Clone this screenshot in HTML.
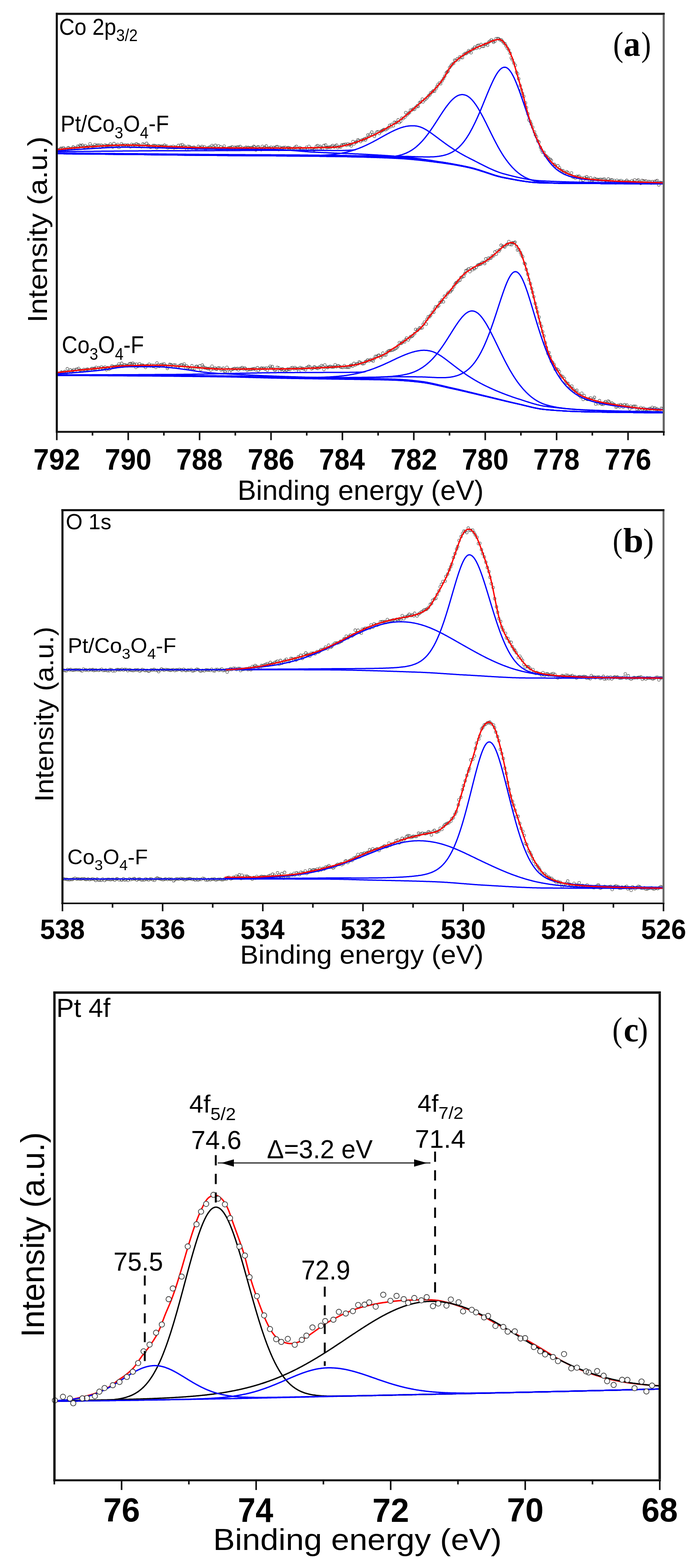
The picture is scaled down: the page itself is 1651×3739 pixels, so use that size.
<!DOCTYPE html><html><head><meta charset="utf-8"><style>html,body{margin:0;padding:0;background:#fff;overflow:hidden;}svg{display:block;}</style></head><body><svg width="1651" height="3739" viewBox="0 0 1651 3739">
<rect width="1651" height="3739" fill="#fff"/>
<path d="M133.9,356.9a3.2,3.2 0 1,0 6.4,0a3.2,3.2 0 1,0 -6.4,0M136.8,357.4a3.2,3.2 0 1,0 6.4,0a3.2,3.2 0 1,0 -6.4,0M140.7,355.5a3.2,3.2 0 1,0 6.4,0a3.2,3.2 0 1,0 -6.4,0M142.3,353.4a3.2,3.2 0 1,0 6.4,0a3.2,3.2 0 1,0 -6.4,0M145.1,354.3a3.2,3.2 0 1,0 6.4,0a3.2,3.2 0 1,0 -6.4,0M148.3,352.5a3.2,3.2 0 1,0 6.4,0a3.2,3.2 0 1,0 -6.4,0M151.2,355.1a3.2,3.2 0 1,0 6.4,0a3.2,3.2 0 1,0 -6.4,0M155.1,358.4a3.2,3.2 0 1,0 6.4,0a3.2,3.2 0 1,0 -6.4,0M158.2,353a3.2,3.2 0 1,0 6.4,0a3.2,3.2 0 1,0 -6.4,0M160.4,352.3a3.2,3.2 0 1,0 6.4,0a3.2,3.2 0 1,0 -6.4,0M163.2,355.1a3.2,3.2 0 1,0 6.4,0a3.2,3.2 0 1,0 -6.4,0M166.6,354.5a3.2,3.2 0 1,0 6.4,0a3.2,3.2 0 1,0 -6.4,0M170.4,353.5a3.2,3.2 0 1,0 6.4,0a3.2,3.2 0 1,0 -6.4,0M171.5,350.3a3.2,3.2 0 1,0 6.4,0a3.2,3.2 0 1,0 -6.4,0M176,352.6a3.2,3.2 0 1,0 6.4,0a3.2,3.2 0 1,0 -6.4,0M178.3,354.3a3.2,3.2 0 1,0 6.4,0a3.2,3.2 0 1,0 -6.4,0M182.3,348.4a3.2,3.2 0 1,0 6.4,0a3.2,3.2 0 1,0 -6.4,0M184.3,350.6a3.2,3.2 0 1,0 6.4,0a3.2,3.2 0 1,0 -6.4,0M187.7,346.3a3.2,3.2 0 1,0 6.4,0a3.2,3.2 0 1,0 -6.4,0M190.1,347.8a3.2,3.2 0 1,0 6.4,0a3.2,3.2 0 1,0 -6.4,0M193.4,346.1a3.2,3.2 0 1,0 6.4,0a3.2,3.2 0 1,0 -6.4,0M197.4,350.3a3.2,3.2 0 1,0 6.4,0a3.2,3.2 0 1,0 -6.4,0M200.2,347.2a3.2,3.2 0 1,0 6.4,0a3.2,3.2 0 1,0 -6.4,0M202.6,351.4a3.2,3.2 0 1,0 6.4,0a3.2,3.2 0 1,0 -6.4,0M205.4,350.8a3.2,3.2 0 1,0 6.4,0a3.2,3.2 0 1,0 -6.4,0M207.9,349.7a3.2,3.2 0 1,0 6.4,0a3.2,3.2 0 1,0 -6.4,0M211.6,342.9a3.2,3.2 0 1,0 6.4,0a3.2,3.2 0 1,0 -6.4,0M214.8,348.3a3.2,3.2 0 1,0 6.4,0a3.2,3.2 0 1,0 -6.4,0M217.8,349.4a3.2,3.2 0 1,0 6.4,0a3.2,3.2 0 1,0 -6.4,0M220.8,349.7a3.2,3.2 0 1,0 6.4,0a3.2,3.2 0 1,0 -6.4,0M223.3,344.9a3.2,3.2 0 1,0 6.4,0a3.2,3.2 0 1,0 -6.4,0M226.8,347.6a3.2,3.2 0 1,0 6.4,0a3.2,3.2 0 1,0 -6.4,0M229.8,346a3.2,3.2 0 1,0 6.4,0a3.2,3.2 0 1,0 -6.4,0M233.4,346.3a3.2,3.2 0 1,0 6.4,0a3.2,3.2 0 1,0 -6.4,0M236.6,351.3a3.2,3.2 0 1,0 6.4,0a3.2,3.2 0 1,0 -6.4,0M238.7,345.9a3.2,3.2 0 1,0 6.4,0a3.2,3.2 0 1,0 -6.4,0M241.5,347.9a3.2,3.2 0 1,0 6.4,0a3.2,3.2 0 1,0 -6.4,0M244.8,350.3a3.2,3.2 0 1,0 6.4,0a3.2,3.2 0 1,0 -6.4,0M247.5,346a3.2,3.2 0 1,0 6.4,0a3.2,3.2 0 1,0 -6.4,0M250.5,347.1a3.2,3.2 0 1,0 6.4,0a3.2,3.2 0 1,0 -6.4,0M253.8,347.6a3.2,3.2 0 1,0 6.4,0a3.2,3.2 0 1,0 -6.4,0M256.3,347.3a3.2,3.2 0 1,0 6.4,0a3.2,3.2 0 1,0 -6.4,0M260.1,343.5a3.2,3.2 0 1,0 6.4,0a3.2,3.2 0 1,0 -6.4,0M262.8,347a3.2,3.2 0 1,0 6.4,0a3.2,3.2 0 1,0 -6.4,0M265.9,350.5a3.2,3.2 0 1,0 6.4,0a3.2,3.2 0 1,0 -6.4,0M268.7,342.3a3.2,3.2 0 1,0 6.4,0a3.2,3.2 0 1,0 -6.4,0M271.5,348.9a3.2,3.2 0 1,0 6.4,0a3.2,3.2 0 1,0 -6.4,0M274.4,346.7a3.2,3.2 0 1,0 6.4,0a3.2,3.2 0 1,0 -6.4,0M277.7,344.5a3.2,3.2 0 1,0 6.4,0a3.2,3.2 0 1,0 -6.4,0M280.6,351.8a3.2,3.2 0 1,0 6.4,0a3.2,3.2 0 1,0 -6.4,0M283.9,348.3a3.2,3.2 0 1,0 6.4,0a3.2,3.2 0 1,0 -6.4,0M286.8,342.7a3.2,3.2 0 1,0 6.4,0a3.2,3.2 0 1,0 -6.4,0M289.2,346.3a3.2,3.2 0 1,0 6.4,0a3.2,3.2 0 1,0 -6.4,0M292.8,347.6a3.2,3.2 0 1,0 6.4,0a3.2,3.2 0 1,0 -6.4,0M295.2,345.5a3.2,3.2 0 1,0 6.4,0a3.2,3.2 0 1,0 -6.4,0M298.5,347.9a3.2,3.2 0 1,0 6.4,0a3.2,3.2 0 1,0 -6.4,0M301.7,345.8a3.2,3.2 0 1,0 6.4,0a3.2,3.2 0 1,0 -6.4,0M303.9,347.9a3.2,3.2 0 1,0 6.4,0a3.2,3.2 0 1,0 -6.4,0M307.8,350.1a3.2,3.2 0 1,0 6.4,0a3.2,3.2 0 1,0 -6.4,0M310.9,344.2a3.2,3.2 0 1,0 6.4,0a3.2,3.2 0 1,0 -6.4,0M313.7,346.8a3.2,3.2 0 1,0 6.4,0a3.2,3.2 0 1,0 -6.4,0M316.6,345a3.2,3.2 0 1,0 6.4,0a3.2,3.2 0 1,0 -6.4,0M319.6,346.7a3.2,3.2 0 1,0 6.4,0a3.2,3.2 0 1,0 -6.4,0M322.4,343.1a3.2,3.2 0 1,0 6.4,0a3.2,3.2 0 1,0 -6.4,0M325.7,344.9a3.2,3.2 0 1,0 6.4,0a3.2,3.2 0 1,0 -6.4,0M328.6,346.1a3.2,3.2 0 1,0 6.4,0a3.2,3.2 0 1,0 -6.4,0M331.8,349.2a3.2,3.2 0 1,0 6.4,0a3.2,3.2 0 1,0 -6.4,0M334.3,350.1a3.2,3.2 0 1,0 6.4,0a3.2,3.2 0 1,0 -6.4,0M337.9,343.3a3.2,3.2 0 1,0 6.4,0a3.2,3.2 0 1,0 -6.4,0M340.9,344.9a3.2,3.2 0 1,0 6.4,0a3.2,3.2 0 1,0 -6.4,0M343.7,349a3.2,3.2 0 1,0 6.4,0a3.2,3.2 0 1,0 -6.4,0M346.6,341.8a3.2,3.2 0 1,0 6.4,0a3.2,3.2 0 1,0 -6.4,0M350,346.2a3.2,3.2 0 1,0 6.4,0a3.2,3.2 0 1,0 -6.4,0M352.1,347.3a3.2,3.2 0 1,0 6.4,0a3.2,3.2 0 1,0 -6.4,0M356,351.3a3.2,3.2 0 1,0 6.4,0a3.2,3.2 0 1,0 -6.4,0M358.9,349.8a3.2,3.2 0 1,0 6.4,0a3.2,3.2 0 1,0 -6.4,0M361.9,347.1a3.2,3.2 0 1,0 6.4,0a3.2,3.2 0 1,0 -6.4,0M365,347.1a3.2,3.2 0 1,0 6.4,0a3.2,3.2 0 1,0 -6.4,0M367.5,347.6a3.2,3.2 0 1,0 6.4,0a3.2,3.2 0 1,0 -6.4,0M370.7,352.7a3.2,3.2 0 1,0 6.4,0a3.2,3.2 0 1,0 -6.4,0M374.1,347.4a3.2,3.2 0 1,0 6.4,0a3.2,3.2 0 1,0 -6.4,0M377,347.9a3.2,3.2 0 1,0 6.4,0a3.2,3.2 0 1,0 -6.4,0M379.9,349.8a3.2,3.2 0 1,0 6.4,0a3.2,3.2 0 1,0 -6.4,0M382.1,348.6a3.2,3.2 0 1,0 6.4,0a3.2,3.2 0 1,0 -6.4,0M386,348.5a3.2,3.2 0 1,0 6.4,0a3.2,3.2 0 1,0 -6.4,0M389.3,346.1a3.2,3.2 0 1,0 6.4,0a3.2,3.2 0 1,0 -6.4,0M392.3,349.3a3.2,3.2 0 1,0 6.4,0a3.2,3.2 0 1,0 -6.4,0M394.9,348.2a3.2,3.2 0 1,0 6.4,0a3.2,3.2 0 1,0 -6.4,0M397.1,352.8a3.2,3.2 0 1,0 6.4,0a3.2,3.2 0 1,0 -6.4,0M401.2,351.5a3.2,3.2 0 1,0 6.4,0a3.2,3.2 0 1,0 -6.4,0M403.7,349.7a3.2,3.2 0 1,0 6.4,0a3.2,3.2 0 1,0 -6.4,0M405.7,351.7a3.2,3.2 0 1,0 6.4,0a3.2,3.2 0 1,0 -6.4,0M410,349a3.2,3.2 0 1,0 6.4,0a3.2,3.2 0 1,0 -6.4,0M412.1,353a3.2,3.2 0 1,0 6.4,0a3.2,3.2 0 1,0 -6.4,0M415.2,350.2a3.2,3.2 0 1,0 6.4,0a3.2,3.2 0 1,0 -6.4,0M418.5,351.9a3.2,3.2 0 1,0 6.4,0a3.2,3.2 0 1,0 -6.4,0M422.4,346.8a3.2,3.2 0 1,0 6.4,0a3.2,3.2 0 1,0 -6.4,0M424.6,351.5a3.2,3.2 0 1,0 6.4,0a3.2,3.2 0 1,0 -6.4,0M427.9,345.9a3.2,3.2 0 1,0 6.4,0a3.2,3.2 0 1,0 -6.4,0M431.6,345a3.2,3.2 0 1,0 6.4,0a3.2,3.2 0 1,0 -6.4,0M434.5,350a3.2,3.2 0 1,0 6.4,0a3.2,3.2 0 1,0 -6.4,0M436.8,348.4a3.2,3.2 0 1,0 6.4,0a3.2,3.2 0 1,0 -6.4,0M439.7,351.5a3.2,3.2 0 1,0 6.4,0a3.2,3.2 0 1,0 -6.4,0M442.2,357.5a3.2,3.2 0 1,0 6.4,0a3.2,3.2 0 1,0 -6.4,0M445.5,349a3.2,3.2 0 1,0 6.4,0a3.2,3.2 0 1,0 -6.4,0M449,349.6a3.2,3.2 0 1,0 6.4,0a3.2,3.2 0 1,0 -6.4,0M452,352.1a3.2,3.2 0 1,0 6.4,0a3.2,3.2 0 1,0 -6.4,0M454.8,353a3.2,3.2 0 1,0 6.4,0a3.2,3.2 0 1,0 -6.4,0M458.2,351.2a3.2,3.2 0 1,0 6.4,0a3.2,3.2 0 1,0 -6.4,0M460.5,351.2a3.2,3.2 0 1,0 6.4,0a3.2,3.2 0 1,0 -6.4,0M463.8,353.8a3.2,3.2 0 1,0 6.4,0a3.2,3.2 0 1,0 -6.4,0M467.1,353.4a3.2,3.2 0 1,0 6.4,0a3.2,3.2 0 1,0 -6.4,0M470.1,349.1a3.2,3.2 0 1,0 6.4,0a3.2,3.2 0 1,0 -6.4,0M473.3,351.9a3.2,3.2 0 1,0 6.4,0a3.2,3.2 0 1,0 -6.4,0M476,352.3a3.2,3.2 0 1,0 6.4,0a3.2,3.2 0 1,0 -6.4,0M478.7,349.3a3.2,3.2 0 1,0 6.4,0a3.2,3.2 0 1,0 -6.4,0M482,353a3.2,3.2 0 1,0 6.4,0a3.2,3.2 0 1,0 -6.4,0M484.3,350a3.2,3.2 0 1,0 6.4,0a3.2,3.2 0 1,0 -6.4,0M487.1,355.1a3.2,3.2 0 1,0 6.4,0a3.2,3.2 0 1,0 -6.4,0M491.1,353a3.2,3.2 0 1,0 6.4,0a3.2,3.2 0 1,0 -6.4,0M493.8,352.7a3.2,3.2 0 1,0 6.4,0a3.2,3.2 0 1,0 -6.4,0M496.9,350.8a3.2,3.2 0 1,0 6.4,0a3.2,3.2 0 1,0 -6.4,0M499,352.2a3.2,3.2 0 1,0 6.4,0a3.2,3.2 0 1,0 -6.4,0M502.6,346.9a3.2,3.2 0 1,0 6.4,0a3.2,3.2 0 1,0 -6.4,0M505.5,349.4a3.2,3.2 0 1,0 6.4,0a3.2,3.2 0 1,0 -6.4,0M508.4,353.6a3.2,3.2 0 1,0 6.4,0a3.2,3.2 0 1,0 -6.4,0M510.8,346.6a3.2,3.2 0 1,0 6.4,0a3.2,3.2 0 1,0 -6.4,0M514.6,355a3.2,3.2 0 1,0 6.4,0a3.2,3.2 0 1,0 -6.4,0M518.2,347.7a3.2,3.2 0 1,0 6.4,0a3.2,3.2 0 1,0 -6.4,0M521,354.8a3.2,3.2 0 1,0 6.4,0a3.2,3.2 0 1,0 -6.4,0M523.5,350.3a3.2,3.2 0 1,0 6.4,0a3.2,3.2 0 1,0 -6.4,0M526.8,354.9a3.2,3.2 0 1,0 6.4,0a3.2,3.2 0 1,0 -6.4,0M530.1,353.1a3.2,3.2 0 1,0 6.4,0a3.2,3.2 0 1,0 -6.4,0M531.6,348.4a3.2,3.2 0 1,0 6.4,0a3.2,3.2 0 1,0 -6.4,0M535.7,356.2a3.2,3.2 0 1,0 6.4,0a3.2,3.2 0 1,0 -6.4,0M539,356.8a3.2,3.2 0 1,0 6.4,0a3.2,3.2 0 1,0 -6.4,0M542.1,352.6a3.2,3.2 0 1,0 6.4,0a3.2,3.2 0 1,0 -6.4,0M545.6,352a3.2,3.2 0 1,0 6.4,0a3.2,3.2 0 1,0 -6.4,0M548.3,352.3a3.2,3.2 0 1,0 6.4,0a3.2,3.2 0 1,0 -6.4,0M550.9,350.1a3.2,3.2 0 1,0 6.4,0a3.2,3.2 0 1,0 -6.4,0M553.9,355.9a3.2,3.2 0 1,0 6.4,0a3.2,3.2 0 1,0 -6.4,0M557.2,351.3a3.2,3.2 0 1,0 6.4,0a3.2,3.2 0 1,0 -6.4,0M559.6,352.7a3.2,3.2 0 1,0 6.4,0a3.2,3.2 0 1,0 -6.4,0M562.8,350.6a3.2,3.2 0 1,0 6.4,0a3.2,3.2 0 1,0 -6.4,0M566.2,351.1a3.2,3.2 0 1,0 6.4,0a3.2,3.2 0 1,0 -6.4,0M569.7,349.3a3.2,3.2 0 1,0 6.4,0a3.2,3.2 0 1,0 -6.4,0M571.7,356.4a3.2,3.2 0 1,0 6.4,0a3.2,3.2 0 1,0 -6.4,0M574.8,352.4a3.2,3.2 0 1,0 6.4,0a3.2,3.2 0 1,0 -6.4,0M577.9,355.6a3.2,3.2 0 1,0 6.4,0a3.2,3.2 0 1,0 -6.4,0M581.4,352.9a3.2,3.2 0 1,0 6.4,0a3.2,3.2 0 1,0 -6.4,0M583.8,351a3.2,3.2 0 1,0 6.4,0a3.2,3.2 0 1,0 -6.4,0M587.5,352a3.2,3.2 0 1,0 6.4,0a3.2,3.2 0 1,0 -6.4,0M589.4,351.4a3.2,3.2 0 1,0 6.4,0a3.2,3.2 0 1,0 -6.4,0M592.7,353a3.2,3.2 0 1,0 6.4,0a3.2,3.2 0 1,0 -6.4,0M595.7,351.9a3.2,3.2 0 1,0 6.4,0a3.2,3.2 0 1,0 -6.4,0M599.2,352.1a3.2,3.2 0 1,0 6.4,0a3.2,3.2 0 1,0 -6.4,0M602.3,349.1a3.2,3.2 0 1,0 6.4,0a3.2,3.2 0 1,0 -6.4,0M604.1,350.7a3.2,3.2 0 1,0 6.4,0a3.2,3.2 0 1,0 -6.4,0M607.4,357.6a3.2,3.2 0 1,0 6.4,0a3.2,3.2 0 1,0 -6.4,0M611,351.1a3.2,3.2 0 1,0 6.4,0a3.2,3.2 0 1,0 -6.4,0M613.5,350a3.2,3.2 0 1,0 6.4,0a3.2,3.2 0 1,0 -6.4,0M616.1,353.9a3.2,3.2 0 1,0 6.4,0a3.2,3.2 0 1,0 -6.4,0M620.3,356.9a3.2,3.2 0 1,0 6.4,0a3.2,3.2 0 1,0 -6.4,0M623,348.9a3.2,3.2 0 1,0 6.4,0a3.2,3.2 0 1,0 -6.4,0M626,352.4a3.2,3.2 0 1,0 6.4,0a3.2,3.2 0 1,0 -6.4,0M628.6,351.2a3.2,3.2 0 1,0 6.4,0a3.2,3.2 0 1,0 -6.4,0M632.3,348.1a3.2,3.2 0 1,0 6.4,0a3.2,3.2 0 1,0 -6.4,0M634.7,355.1a3.2,3.2 0 1,0 6.4,0a3.2,3.2 0 1,0 -6.4,0M638.3,352.9a3.2,3.2 0 1,0 6.4,0a3.2,3.2 0 1,0 -6.4,0M640.4,353.2a3.2,3.2 0 1,0 6.4,0a3.2,3.2 0 1,0 -6.4,0M643.4,350.9a3.2,3.2 0 1,0 6.4,0a3.2,3.2 0 1,0 -6.4,0M646.9,354.3a3.2,3.2 0 1,0 6.4,0a3.2,3.2 0 1,0 -6.4,0M649.5,351.5a3.2,3.2 0 1,0 6.4,0a3.2,3.2 0 1,0 -6.4,0M653.1,352.6a3.2,3.2 0 1,0 6.4,0a3.2,3.2 0 1,0 -6.4,0M655.9,349.9a3.2,3.2 0 1,0 6.4,0a3.2,3.2 0 1,0 -6.4,0M658.4,349.6a3.2,3.2 0 1,0 6.4,0a3.2,3.2 0 1,0 -6.4,0M661.8,356.7a3.2,3.2 0 1,0 6.4,0a3.2,3.2 0 1,0 -6.4,0M664.6,351.6a3.2,3.2 0 1,0 6.4,0a3.2,3.2 0 1,0 -6.4,0M668.2,353.8a3.2,3.2 0 1,0 6.4,0a3.2,3.2 0 1,0 -6.4,0M670.5,352.9a3.2,3.2 0 1,0 6.4,0a3.2,3.2 0 1,0 -6.4,0M673.6,351.7a3.2,3.2 0 1,0 6.4,0a3.2,3.2 0 1,0 -6.4,0M677.3,351.5a3.2,3.2 0 1,0 6.4,0a3.2,3.2 0 1,0 -6.4,0M680.8,354.7a3.2,3.2 0 1,0 6.4,0a3.2,3.2 0 1,0 -6.4,0M683.7,352.1a3.2,3.2 0 1,0 6.4,0a3.2,3.2 0 1,0 -6.4,0M685.8,352.5a3.2,3.2 0 1,0 6.4,0a3.2,3.2 0 1,0 -6.4,0M688.9,352.9a3.2,3.2 0 1,0 6.4,0a3.2,3.2 0 1,0 -6.4,0M692.5,356.2a3.2,3.2 0 1,0 6.4,0a3.2,3.2 0 1,0 -6.4,0M694.7,354.8a3.2,3.2 0 1,0 6.4,0a3.2,3.2 0 1,0 -6.4,0M697.4,353.9a3.2,3.2 0 1,0 6.4,0a3.2,3.2 0 1,0 -6.4,0M700.9,351.2a3.2,3.2 0 1,0 6.4,0a3.2,3.2 0 1,0 -6.4,0M704,348.9a3.2,3.2 0 1,0 6.4,0a3.2,3.2 0 1,0 -6.4,0M706.4,355.4a3.2,3.2 0 1,0 6.4,0a3.2,3.2 0 1,0 -6.4,0M709.1,355.4a3.2,3.2 0 1,0 6.4,0a3.2,3.2 0 1,0 -6.4,0M712.2,352.3a3.2,3.2 0 1,0 6.4,0a3.2,3.2 0 1,0 -6.4,0M716.1,354.2a3.2,3.2 0 1,0 6.4,0a3.2,3.2 0 1,0 -6.4,0M718.5,354.8a3.2,3.2 0 1,0 6.4,0a3.2,3.2 0 1,0 -6.4,0M721.7,354.9a3.2,3.2 0 1,0 6.4,0a3.2,3.2 0 1,0 -6.4,0M724.9,355.1a3.2,3.2 0 1,0 6.4,0a3.2,3.2 0 1,0 -6.4,0M728.1,351.2a3.2,3.2 0 1,0 6.4,0a3.2,3.2 0 1,0 -6.4,0M730.6,356.7a3.2,3.2 0 1,0 6.4,0a3.2,3.2 0 1,0 -6.4,0M734,348.9a3.2,3.2 0 1,0 6.4,0a3.2,3.2 0 1,0 -6.4,0M736.4,354.8a3.2,3.2 0 1,0 6.4,0a3.2,3.2 0 1,0 -6.4,0M739.6,353.7a3.2,3.2 0 1,0 6.4,0a3.2,3.2 0 1,0 -6.4,0M742.3,354.7a3.2,3.2 0 1,0 6.4,0a3.2,3.2 0 1,0 -6.4,0M746.3,357.5a3.2,3.2 0 1,0 6.4,0a3.2,3.2 0 1,0 -6.4,0M748.8,356.3a3.2,3.2 0 1,0 6.4,0a3.2,3.2 0 1,0 -6.4,0M751.5,348.9a3.2,3.2 0 1,0 6.4,0a3.2,3.2 0 1,0 -6.4,0M754.6,347.3a3.2,3.2 0 1,0 6.4,0a3.2,3.2 0 1,0 -6.4,0M757.7,354.3a3.2,3.2 0 1,0 6.4,0a3.2,3.2 0 1,0 -6.4,0M761.1,349.1a3.2,3.2 0 1,0 6.4,0a3.2,3.2 0 1,0 -6.4,0M763.1,351.8a3.2,3.2 0 1,0 6.4,0a3.2,3.2 0 1,0 -6.4,0M766.3,354.2a3.2,3.2 0 1,0 6.4,0a3.2,3.2 0 1,0 -6.4,0M769.6,347.1a3.2,3.2 0 1,0 6.4,0a3.2,3.2 0 1,0 -6.4,0M773.9,345.8a3.2,3.2 0 1,0 6.4,0a3.2,3.2 0 1,0 -6.4,0M776.2,352.3a3.2,3.2 0 1,0 6.4,0a3.2,3.2 0 1,0 -6.4,0M778.7,351.6a3.2,3.2 0 1,0 6.4,0a3.2,3.2 0 1,0 -6.4,0M782.1,350.8a3.2,3.2 0 1,0 6.4,0a3.2,3.2 0 1,0 -6.4,0M785.7,351.5a3.2,3.2 0 1,0 6.4,0a3.2,3.2 0 1,0 -6.4,0M787.7,348.9a3.2,3.2 0 1,0 6.4,0a3.2,3.2 0 1,0 -6.4,0M790.6,346.9a3.2,3.2 0 1,0 6.4,0a3.2,3.2 0 1,0 -6.4,0M794.3,350.6a3.2,3.2 0 1,0 6.4,0a3.2,3.2 0 1,0 -6.4,0M797,348.2a3.2,3.2 0 1,0 6.4,0a3.2,3.2 0 1,0 -6.4,0M800.1,346.1a3.2,3.2 0 1,0 6.4,0a3.2,3.2 0 1,0 -6.4,0M802.6,351.8a3.2,3.2 0 1,0 6.4,0a3.2,3.2 0 1,0 -6.4,0M806.7,349.7a3.2,3.2 0 1,0 6.4,0a3.2,3.2 0 1,0 -6.4,0M809.6,350.4a3.2,3.2 0 1,0 6.4,0a3.2,3.2 0 1,0 -6.4,0M812.1,345.8a3.2,3.2 0 1,0 6.4,0a3.2,3.2 0 1,0 -6.4,0M815.1,346.1a3.2,3.2 0 1,0 6.4,0a3.2,3.2 0 1,0 -6.4,0M816.9,344.5a3.2,3.2 0 1,0 6.4,0a3.2,3.2 0 1,0 -6.4,0M821.1,344.1a3.2,3.2 0 1,0 6.4,0a3.2,3.2 0 1,0 -6.4,0M823.7,346.4a3.2,3.2 0 1,0 6.4,0a3.2,3.2 0 1,0 -6.4,0M827,342.9a3.2,3.2 0 1,0 6.4,0a3.2,3.2 0 1,0 -6.4,0M830.1,345.2a3.2,3.2 0 1,0 6.4,0a3.2,3.2 0 1,0 -6.4,0M832.6,344.3a3.2,3.2 0 1,0 6.4,0a3.2,3.2 0 1,0 -6.4,0M835,348.1a3.2,3.2 0 1,0 6.4,0a3.2,3.2 0 1,0 -6.4,0M839,337.6a3.2,3.2 0 1,0 6.4,0a3.2,3.2 0 1,0 -6.4,0M841.5,343a3.2,3.2 0 1,0 6.4,0a3.2,3.2 0 1,0 -6.4,0M844.7,339.3a3.2,3.2 0 1,0 6.4,0a3.2,3.2 0 1,0 -6.4,0M847.5,338.5a3.2,3.2 0 1,0 6.4,0a3.2,3.2 0 1,0 -6.4,0M850.6,333.4a3.2,3.2 0 1,0 6.4,0a3.2,3.2 0 1,0 -6.4,0M852.8,335.1a3.2,3.2 0 1,0 6.4,0a3.2,3.2 0 1,0 -6.4,0M857.3,337.4a3.2,3.2 0 1,0 6.4,0a3.2,3.2 0 1,0 -6.4,0M859.9,333.9a3.2,3.2 0 1,0 6.4,0a3.2,3.2 0 1,0 -6.4,0M863.3,333.3a3.2,3.2 0 1,0 6.4,0a3.2,3.2 0 1,0 -6.4,0M866.7,331.1a3.2,3.2 0 1,0 6.4,0a3.2,3.2 0 1,0 -6.4,0M868.8,333.9a3.2,3.2 0 1,0 6.4,0a3.2,3.2 0 1,0 -6.4,0M871,329.4a3.2,3.2 0 1,0 6.4,0a3.2,3.2 0 1,0 -6.4,0M874.4,322.1a3.2,3.2 0 1,0 6.4,0a3.2,3.2 0 1,0 -6.4,0M877.3,325a3.2,3.2 0 1,0 6.4,0a3.2,3.2 0 1,0 -6.4,0M880.6,320.1a3.2,3.2 0 1,0 6.4,0a3.2,3.2 0 1,0 -6.4,0M883.8,315.1a3.2,3.2 0 1,0 6.4,0a3.2,3.2 0 1,0 -6.4,0M885.9,321.3a3.2,3.2 0 1,0 6.4,0a3.2,3.2 0 1,0 -6.4,0M890,325.1a3.2,3.2 0 1,0 6.4,0a3.2,3.2 0 1,0 -6.4,0M892.1,320a3.2,3.2 0 1,0 6.4,0a3.2,3.2 0 1,0 -6.4,0M895.9,315a3.2,3.2 0 1,0 6.4,0a3.2,3.2 0 1,0 -6.4,0M898.8,314.1a3.2,3.2 0 1,0 6.4,0a3.2,3.2 0 1,0 -6.4,0M901.7,318.3a3.2,3.2 0 1,0 6.4,0a3.2,3.2 0 1,0 -6.4,0M904.8,314a3.2,3.2 0 1,0 6.4,0a3.2,3.2 0 1,0 -6.4,0M907.6,312.1a3.2,3.2 0 1,0 6.4,0a3.2,3.2 0 1,0 -6.4,0M910.5,310.2a3.2,3.2 0 1,0 6.4,0a3.2,3.2 0 1,0 -6.4,0M913,308.8a3.2,3.2 0 1,0 6.4,0a3.2,3.2 0 1,0 -6.4,0M916.8,309.3a3.2,3.2 0 1,0 6.4,0a3.2,3.2 0 1,0 -6.4,0M920.6,306.9a3.2,3.2 0 1,0 6.4,0a3.2,3.2 0 1,0 -6.4,0M923.7,304.3a3.2,3.2 0 1,0 6.4,0a3.2,3.2 0 1,0 -6.4,0M926.4,299.1a3.2,3.2 0 1,0 6.4,0a3.2,3.2 0 1,0 -6.4,0M929.1,301.8a3.2,3.2 0 1,0 6.4,0a3.2,3.2 0 1,0 -6.4,0M931.5,296.8a3.2,3.2 0 1,0 6.4,0a3.2,3.2 0 1,0 -6.4,0M935.4,300a3.2,3.2 0 1,0 6.4,0a3.2,3.2 0 1,0 -6.4,0M937.8,291.6a3.2,3.2 0 1,0 6.4,0a3.2,3.2 0 1,0 -6.4,0M940.8,293a3.2,3.2 0 1,0 6.4,0a3.2,3.2 0 1,0 -6.4,0M943.7,291.5a3.2,3.2 0 1,0 6.4,0a3.2,3.2 0 1,0 -6.4,0M946.8,285.8a3.2,3.2 0 1,0 6.4,0a3.2,3.2 0 1,0 -6.4,0M949.6,292.3a3.2,3.2 0 1,0 6.4,0a3.2,3.2 0 1,0 -6.4,0M952.8,289.4a3.2,3.2 0 1,0 6.4,0a3.2,3.2 0 1,0 -6.4,0M955.3,281.7a3.2,3.2 0 1,0 6.4,0a3.2,3.2 0 1,0 -6.4,0M958.6,282.8a3.2,3.2 0 1,0 6.4,0a3.2,3.2 0 1,0 -6.4,0M962.8,279.3a3.2,3.2 0 1,0 6.4,0a3.2,3.2 0 1,0 -6.4,0M964.8,268.4a3.2,3.2 0 1,0 6.4,0a3.2,3.2 0 1,0 -6.4,0M967.7,273.9a3.2,3.2 0 1,0 6.4,0a3.2,3.2 0 1,0 -6.4,0M971,270.5a3.2,3.2 0 1,0 6.4,0a3.2,3.2 0 1,0 -6.4,0M974.1,268.3a3.2,3.2 0 1,0 6.4,0a3.2,3.2 0 1,0 -6.4,0M976.3,262.5a3.2,3.2 0 1,0 6.4,0a3.2,3.2 0 1,0 -6.4,0M979.7,262.2a3.2,3.2 0 1,0 6.4,0a3.2,3.2 0 1,0 -6.4,0M983.2,259.8a3.2,3.2 0 1,0 6.4,0a3.2,3.2 0 1,0 -6.4,0M985.9,260.9a3.2,3.2 0 1,0 6.4,0a3.2,3.2 0 1,0 -6.4,0M988.9,255.8a3.2,3.2 0 1,0 6.4,0a3.2,3.2 0 1,0 -6.4,0M992.5,252.1a3.2,3.2 0 1,0 6.4,0a3.2,3.2 0 1,0 -6.4,0M994.5,253.7a3.2,3.2 0 1,0 6.4,0a3.2,3.2 0 1,0 -6.4,0M997.8,245.1a3.2,3.2 0 1,0 6.4,0a3.2,3.2 0 1,0 -6.4,0M1000.6,242.9a3.2,3.2 0 1,0 6.4,0a3.2,3.2 0 1,0 -6.4,0M1004.5,236.2a3.2,3.2 0 1,0 6.4,0a3.2,3.2 0 1,0 -6.4,0M1005.9,243a3.2,3.2 0 1,0 6.4,0a3.2,3.2 0 1,0 -6.4,0M1009.5,238.8a3.2,3.2 0 1,0 6.4,0a3.2,3.2 0 1,0 -6.4,0M1012.6,236a3.2,3.2 0 1,0 6.4,0a3.2,3.2 0 1,0 -6.4,0M1016.1,232.7a3.2,3.2 0 1,0 6.4,0a3.2,3.2 0 1,0 -6.4,0M1019.1,228.5a3.2,3.2 0 1,0 6.4,0a3.2,3.2 0 1,0 -6.4,0M1022.4,226a3.2,3.2 0 1,0 6.4,0a3.2,3.2 0 1,0 -6.4,0M1024.1,221.8a3.2,3.2 0 1,0 6.4,0a3.2,3.2 0 1,0 -6.4,0M1028.1,219a3.2,3.2 0 1,0 6.4,0a3.2,3.2 0 1,0 -6.4,0M1030.7,216.6a3.2,3.2 0 1,0 6.4,0a3.2,3.2 0 1,0 -6.4,0M1033.5,217.4a3.2,3.2 0 1,0 6.4,0a3.2,3.2 0 1,0 -6.4,0M1037,211.4a3.2,3.2 0 1,0 6.4,0a3.2,3.2 0 1,0 -6.4,0M1039.4,206.3a3.2,3.2 0 1,0 6.4,0a3.2,3.2 0 1,0 -6.4,0M1041.9,201.2a3.2,3.2 0 1,0 6.4,0a3.2,3.2 0 1,0 -6.4,0M1045.6,197.4a3.2,3.2 0 1,0 6.4,0a3.2,3.2 0 1,0 -6.4,0M1048.1,199.8a3.2,3.2 0 1,0 6.4,0a3.2,3.2 0 1,0 -6.4,0M1051.5,192.7a3.2,3.2 0 1,0 6.4,0a3.2,3.2 0 1,0 -6.4,0M1055,187.2a3.2,3.2 0 1,0 6.4,0a3.2,3.2 0 1,0 -6.4,0M1057.9,181.4a3.2,3.2 0 1,0 6.4,0a3.2,3.2 0 1,0 -6.4,0M1061.5,174.1a3.2,3.2 0 1,0 6.4,0a3.2,3.2 0 1,0 -6.4,0M1063.7,171.8a3.2,3.2 0 1,0 6.4,0a3.2,3.2 0 1,0 -6.4,0M1066.1,169.2a3.2,3.2 0 1,0 6.4,0a3.2,3.2 0 1,0 -6.4,0M1069.5,160.9a3.2,3.2 0 1,0 6.4,0a3.2,3.2 0 1,0 -6.4,0M1072.4,157.2a3.2,3.2 0 1,0 6.4,0a3.2,3.2 0 1,0 -6.4,0M1075.3,153.6a3.2,3.2 0 1,0 6.4,0a3.2,3.2 0 1,0 -6.4,0M1079,151.3a3.2,3.2 0 1,0 6.4,0a3.2,3.2 0 1,0 -6.4,0M1081.5,143.5a3.2,3.2 0 1,0 6.4,0a3.2,3.2 0 1,0 -6.4,0M1083.9,144.5a3.2,3.2 0 1,0 6.4,0a3.2,3.2 0 1,0 -6.4,0M1088.1,140.1a3.2,3.2 0 1,0 6.4,0a3.2,3.2 0 1,0 -6.4,0M1090.7,142.5a3.2,3.2 0 1,0 6.4,0a3.2,3.2 0 1,0 -6.4,0M1094,135.5a3.2,3.2 0 1,0 6.4,0a3.2,3.2 0 1,0 -6.4,0M1096.8,137a3.2,3.2 0 1,0 6.4,0a3.2,3.2 0 1,0 -6.4,0M1100.1,137.5a3.2,3.2 0 1,0 6.4,0a3.2,3.2 0 1,0 -6.4,0M1102.8,130.2a3.2,3.2 0 1,0 6.4,0a3.2,3.2 0 1,0 -6.4,0M1106.4,127.4a3.2,3.2 0 1,0 6.4,0a3.2,3.2 0 1,0 -6.4,0M1109,127.7a3.2,3.2 0 1,0 6.4,0a3.2,3.2 0 1,0 -6.4,0M1112,125.3a3.2,3.2 0 1,0 6.4,0a3.2,3.2 0 1,0 -6.4,0M1115,120.7a3.2,3.2 0 1,0 6.4,0a3.2,3.2 0 1,0 -6.4,0M1117.1,123.1a3.2,3.2 0 1,0 6.4,0a3.2,3.2 0 1,0 -6.4,0M1120.7,125.8a3.2,3.2 0 1,0 6.4,0a3.2,3.2 0 1,0 -6.4,0M1123.7,117.8a3.2,3.2 0 1,0 6.4,0a3.2,3.2 0 1,0 -6.4,0M1126.9,116.4a3.2,3.2 0 1,0 6.4,0a3.2,3.2 0 1,0 -6.4,0M1129.2,112.6a3.2,3.2 0 1,0 6.4,0a3.2,3.2 0 1,0 -6.4,0M1133.5,114.9a3.2,3.2 0 1,0 6.4,0a3.2,3.2 0 1,0 -6.4,0M1135.8,109.1a3.2,3.2 0 1,0 6.4,0a3.2,3.2 0 1,0 -6.4,0M1138.3,108.1a3.2,3.2 0 1,0 6.4,0a3.2,3.2 0 1,0 -6.4,0M1141,113.5a3.2,3.2 0 1,0 6.4,0a3.2,3.2 0 1,0 -6.4,0M1144.7,106.1a3.2,3.2 0 1,0 6.4,0a3.2,3.2 0 1,0 -6.4,0M1147.8,110.4a3.2,3.2 0 1,0 6.4,0a3.2,3.2 0 1,0 -6.4,0M1150.5,110.5a3.2,3.2 0 1,0 6.4,0a3.2,3.2 0 1,0 -6.4,0M1153.8,105.7a3.2,3.2 0 1,0 6.4,0a3.2,3.2 0 1,0 -6.4,0M1156.5,105.3a3.2,3.2 0 1,0 6.4,0a3.2,3.2 0 1,0 -6.4,0M1160,108a3.2,3.2 0 1,0 6.4,0a3.2,3.2 0 1,0 -6.4,0M1162.5,100.7a3.2,3.2 0 1,0 6.4,0a3.2,3.2 0 1,0 -6.4,0M1165.8,98.3a3.2,3.2 0 1,0 6.4,0a3.2,3.2 0 1,0 -6.4,0M1169.2,94.9a3.2,3.2 0 1,0 6.4,0a3.2,3.2 0 1,0 -6.4,0M1173,97.7a3.2,3.2 0 1,0 6.4,0a3.2,3.2 0 1,0 -6.4,0M1174.3,100.7a3.2,3.2 0 1,0 6.4,0a3.2,3.2 0 1,0 -6.4,0M1177.6,98.3a3.2,3.2 0 1,0 6.4,0a3.2,3.2 0 1,0 -6.4,0M1180.4,92.2a3.2,3.2 0 1,0 6.4,0a3.2,3.2 0 1,0 -6.4,0M1184.2,91.9a3.2,3.2 0 1,0 6.4,0a3.2,3.2 0 1,0 -6.4,0M1186.3,92.6a3.2,3.2 0 1,0 6.4,0a3.2,3.2 0 1,0 -6.4,0M1189.6,95.1a3.2,3.2 0 1,0 6.4,0a3.2,3.2 0 1,0 -6.4,0M1192.8,95a3.2,3.2 0 1,0 6.4,0a3.2,3.2 0 1,0 -6.4,0M1195.4,98.5a3.2,3.2 0 1,0 6.4,0a3.2,3.2 0 1,0 -6.4,0M1198.4,102.1a3.2,3.2 0 1,0 6.4,0a3.2,3.2 0 1,0 -6.4,0M1201.6,104.3a3.2,3.2 0 1,0 6.4,0a3.2,3.2 0 1,0 -6.4,0M1203.9,109.3a3.2,3.2 0 1,0 6.4,0a3.2,3.2 0 1,0 -6.4,0M1207.1,114.7a3.2,3.2 0 1,0 6.4,0a3.2,3.2 0 1,0 -6.4,0M1210.6,119.3a3.2,3.2 0 1,0 6.4,0a3.2,3.2 0 1,0 -6.4,0M1213.9,127.1a3.2,3.2 0 1,0 6.4,0a3.2,3.2 0 1,0 -6.4,0M1216.7,138a3.2,3.2 0 1,0 6.4,0a3.2,3.2 0 1,0 -6.4,0M1219,142.5a3.2,3.2 0 1,0 6.4,0a3.2,3.2 0 1,0 -6.4,0M1222.6,150.3a3.2,3.2 0 1,0 6.4,0a3.2,3.2 0 1,0 -6.4,0M1226.2,155.7a3.2,3.2 0 1,0 6.4,0a3.2,3.2 0 1,0 -6.4,0M1229.1,172.2a3.2,3.2 0 1,0 6.4,0a3.2,3.2 0 1,0 -6.4,0M1231.8,176.2a3.2,3.2 0 1,0 6.4,0a3.2,3.2 0 1,0 -6.4,0M1234.4,187.9a3.2,3.2 0 1,0 6.4,0a3.2,3.2 0 1,0 -6.4,0M1238.1,204.4a3.2,3.2 0 1,0 6.4,0a3.2,3.2 0 1,0 -6.4,0M1240.5,214.3a3.2,3.2 0 1,0 6.4,0a3.2,3.2 0 1,0 -6.4,0M1243.3,222.7a3.2,3.2 0 1,0 6.4,0a3.2,3.2 0 1,0 -6.4,0M1246.4,229.7a3.2,3.2 0 1,0 6.4,0a3.2,3.2 0 1,0 -6.4,0M1250.5,245.4a3.2,3.2 0 1,0 6.4,0a3.2,3.2 0 1,0 -6.4,0M1252.9,256.4a3.2,3.2 0 1,0 6.4,0a3.2,3.2 0 1,0 -6.4,0M1256.3,271.2a3.2,3.2 0 1,0 6.4,0a3.2,3.2 0 1,0 -6.4,0M1258.6,286.1a3.2,3.2 0 1,0 6.4,0a3.2,3.2 0 1,0 -6.4,0M1262.2,289.9a3.2,3.2 0 1,0 6.4,0a3.2,3.2 0 1,0 -6.4,0M1264.5,296.1a3.2,3.2 0 1,0 6.4,0a3.2,3.2 0 1,0 -6.4,0M1267.7,303.4a3.2,3.2 0 1,0 6.4,0a3.2,3.2 0 1,0 -6.4,0M1271.9,314.4a3.2,3.2 0 1,0 6.4,0a3.2,3.2 0 1,0 -6.4,0M1274.1,321.6a3.2,3.2 0 1,0 6.4,0a3.2,3.2 0 1,0 -6.4,0M1276.6,326a3.2,3.2 0 1,0 6.4,0a3.2,3.2 0 1,0 -6.4,0M1279.8,336.3a3.2,3.2 0 1,0 6.4,0a3.2,3.2 0 1,0 -6.4,0M1282.9,339.1a3.2,3.2 0 1,0 6.4,0a3.2,3.2 0 1,0 -6.4,0M1286.3,351.6a3.2,3.2 0 1,0 6.4,0a3.2,3.2 0 1,0 -6.4,0M1288.6,357.3a3.2,3.2 0 1,0 6.4,0a3.2,3.2 0 1,0 -6.4,0M1291,362.8a3.2,3.2 0 1,0 6.4,0a3.2,3.2 0 1,0 -6.4,0M1294.7,363.3a3.2,3.2 0 1,0 6.4,0a3.2,3.2 0 1,0 -6.4,0M1297.8,370.5a3.2,3.2 0 1,0 6.4,0a3.2,3.2 0 1,0 -6.4,0M1300.8,372.8a3.2,3.2 0 1,0 6.4,0a3.2,3.2 0 1,0 -6.4,0M1304.4,375.8a3.2,3.2 0 1,0 6.4,0a3.2,3.2 0 1,0 -6.4,0M1306.9,379.4a3.2,3.2 0 1,0 6.4,0a3.2,3.2 0 1,0 -6.4,0M1310.2,380a3.2,3.2 0 1,0 6.4,0a3.2,3.2 0 1,0 -6.4,0M1312.3,382.7a3.2,3.2 0 1,0 6.4,0a3.2,3.2 0 1,0 -6.4,0M1316.2,392a3.2,3.2 0 1,0 6.4,0a3.2,3.2 0 1,0 -6.4,0M1319.7,392.1a3.2,3.2 0 1,0 6.4,0a3.2,3.2 0 1,0 -6.4,0M1322.1,395.9a3.2,3.2 0 1,0 6.4,0a3.2,3.2 0 1,0 -6.4,0M1324.9,400.6a3.2,3.2 0 1,0 6.4,0a3.2,3.2 0 1,0 -6.4,0M1327.9,395.3a3.2,3.2 0 1,0 6.4,0a3.2,3.2 0 1,0 -6.4,0M1331.6,400.2a3.2,3.2 0 1,0 6.4,0a3.2,3.2 0 1,0 -6.4,0M1333.4,404.9a3.2,3.2 0 1,0 6.4,0a3.2,3.2 0 1,0 -6.4,0M1336.8,407.4a3.2,3.2 0 1,0 6.4,0a3.2,3.2 0 1,0 -6.4,0M1340,407.1a3.2,3.2 0 1,0 6.4,0a3.2,3.2 0 1,0 -6.4,0M1343.1,412.7a3.2,3.2 0 1,0 6.4,0a3.2,3.2 0 1,0 -6.4,0M1345.6,412a3.2,3.2 0 1,0 6.4,0a3.2,3.2 0 1,0 -6.4,0M1348.9,409.5a3.2,3.2 0 1,0 6.4,0a3.2,3.2 0 1,0 -6.4,0M1351.7,411.7a3.2,3.2 0 1,0 6.4,0a3.2,3.2 0 1,0 -6.4,0M1354.9,417.8a3.2,3.2 0 1,0 6.4,0a3.2,3.2 0 1,0 -6.4,0M1357.7,418a3.2,3.2 0 1,0 6.4,0a3.2,3.2 0 1,0 -6.4,0M1360.3,412.5a3.2,3.2 0 1,0 6.4,0a3.2,3.2 0 1,0 -6.4,0M1363.8,422.6a3.2,3.2 0 1,0 6.4,0a3.2,3.2 0 1,0 -6.4,0M1367.2,421.5a3.2,3.2 0 1,0 6.4,0a3.2,3.2 0 1,0 -6.4,0M1369.4,424.5a3.2,3.2 0 1,0 6.4,0a3.2,3.2 0 1,0 -6.4,0M1372.7,420.5a3.2,3.2 0 1,0 6.4,0a3.2,3.2 0 1,0 -6.4,0M1376.1,421.6a3.2,3.2 0 1,0 6.4,0a3.2,3.2 0 1,0 -6.4,0M1378.3,420a3.2,3.2 0 1,0 6.4,0a3.2,3.2 0 1,0 -6.4,0M1381.9,430.9a3.2,3.2 0 1,0 6.4,0a3.2,3.2 0 1,0 -6.4,0M1384.3,423.9a3.2,3.2 0 1,0 6.4,0a3.2,3.2 0 1,0 -6.4,0M1388.3,429.4a3.2,3.2 0 1,0 6.4,0a3.2,3.2 0 1,0 -6.4,0M1391.8,423.6a3.2,3.2 0 1,0 6.4,0a3.2,3.2 0 1,0 -6.4,0M1394.7,426.3a3.2,3.2 0 1,0 6.4,0a3.2,3.2 0 1,0 -6.4,0M1396.7,421.6a3.2,3.2 0 1,0 6.4,0a3.2,3.2 0 1,0 -6.4,0M1400.1,425.6a3.2,3.2 0 1,0 6.4,0a3.2,3.2 0 1,0 -6.4,0M1402.9,429.8a3.2,3.2 0 1,0 6.4,0a3.2,3.2 0 1,0 -6.4,0M1405.8,423.9a3.2,3.2 0 1,0 6.4,0a3.2,3.2 0 1,0 -6.4,0M1409.5,430.8a3.2,3.2 0 1,0 6.4,0a3.2,3.2 0 1,0 -6.4,0M1411.2,429a3.2,3.2 0 1,0 6.4,0a3.2,3.2 0 1,0 -6.4,0M1415.3,425.5a3.2,3.2 0 1,0 6.4,0a3.2,3.2 0 1,0 -6.4,0M1417.8,427.3a3.2,3.2 0 1,0 6.4,0a3.2,3.2 0 1,0 -6.4,0M1421.4,427.7a3.2,3.2 0 1,0 6.4,0a3.2,3.2 0 1,0 -6.4,0M1423.9,429.1a3.2,3.2 0 1,0 6.4,0a3.2,3.2 0 1,0 -6.4,0M1426.5,428a3.2,3.2 0 1,0 6.4,0a3.2,3.2 0 1,0 -6.4,0M1429.9,427.5a3.2,3.2 0 1,0 6.4,0a3.2,3.2 0 1,0 -6.4,0M1433.1,429.2a3.2,3.2 0 1,0 6.4,0a3.2,3.2 0 1,0 -6.4,0M1435.8,427.4a3.2,3.2 0 1,0 6.4,0a3.2,3.2 0 1,0 -6.4,0M1439,426.9a3.2,3.2 0 1,0 6.4,0a3.2,3.2 0 1,0 -6.4,0M1441.6,430.5a3.2,3.2 0 1,0 6.4,0a3.2,3.2 0 1,0 -6.4,0M1443.8,433.3a3.2,3.2 0 1,0 6.4,0a3.2,3.2 0 1,0 -6.4,0M1448.2,426.8a3.2,3.2 0 1,0 6.4,0a3.2,3.2 0 1,0 -6.4,0M1451.1,431.2a3.2,3.2 0 1,0 6.4,0a3.2,3.2 0 1,0 -6.4,0M1453.9,429.6a3.2,3.2 0 1,0 6.4,0a3.2,3.2 0 1,0 -6.4,0M1456.8,428.8a3.2,3.2 0 1,0 6.4,0a3.2,3.2 0 1,0 -6.4,0M1460.3,434.1a3.2,3.2 0 1,0 6.4,0a3.2,3.2 0 1,0 -6.4,0M1462.6,430.4a3.2,3.2 0 1,0 6.4,0a3.2,3.2 0 1,0 -6.4,0M1465.5,436.2a3.2,3.2 0 1,0 6.4,0a3.2,3.2 0 1,0 -6.4,0M1468.7,430a3.2,3.2 0 1,0 6.4,0a3.2,3.2 0 1,0 -6.4,0M1472.3,433.4a3.2,3.2 0 1,0 6.4,0a3.2,3.2 0 1,0 -6.4,0M1474.2,431.8a3.2,3.2 0 1,0 6.4,0a3.2,3.2 0 1,0 -6.4,0M1478.3,430.4a3.2,3.2 0 1,0 6.4,0a3.2,3.2 0 1,0 -6.4,0M1480.5,434.3a3.2,3.2 0 1,0 6.4,0a3.2,3.2 0 1,0 -6.4,0M1483.3,432.4a3.2,3.2 0 1,0 6.4,0a3.2,3.2 0 1,0 -6.4,0M1487.4,434.6a3.2,3.2 0 1,0 6.4,0a3.2,3.2 0 1,0 -6.4,0M1489.8,432.9a3.2,3.2 0 1,0 6.4,0a3.2,3.2 0 1,0 -6.4,0M1492.2,430.1a3.2,3.2 0 1,0 6.4,0a3.2,3.2 0 1,0 -6.4,0M1495.6,433a3.2,3.2 0 1,0 6.4,0a3.2,3.2 0 1,0 -6.4,0M1499.2,433.5a3.2,3.2 0 1,0 6.4,0a3.2,3.2 0 1,0 -6.4,0M1502.3,436.1a3.2,3.2 0 1,0 6.4,0a3.2,3.2 0 1,0 -6.4,0M1504.6,431a3.2,3.2 0 1,0 6.4,0a3.2,3.2 0 1,0 -6.4,0M1508,433.6a3.2,3.2 0 1,0 6.4,0a3.2,3.2 0 1,0 -6.4,0M1511.1,429a3.2,3.2 0 1,0 6.4,0a3.2,3.2 0 1,0 -6.4,0M1513.5,435.7a3.2,3.2 0 1,0 6.4,0a3.2,3.2 0 1,0 -6.4,0M1517,431a3.2,3.2 0 1,0 6.4,0a3.2,3.2 0 1,0 -6.4,0M1519.8,429.1a3.2,3.2 0 1,0 6.4,0a3.2,3.2 0 1,0 -6.4,0M1522.6,434a3.2,3.2 0 1,0 6.4,0a3.2,3.2 0 1,0 -6.4,0M1525.6,437.4a3.2,3.2 0 1,0 6.4,0a3.2,3.2 0 1,0 -6.4,0M1528.8,430.2a3.2,3.2 0 1,0 6.4,0a3.2,3.2 0 1,0 -6.4,0M1531.8,431.5a3.2,3.2 0 1,0 6.4,0a3.2,3.2 0 1,0 -6.4,0M1534.5,432.6a3.2,3.2 0 1,0 6.4,0a3.2,3.2 0 1,0 -6.4,0M1537.6,431.6a3.2,3.2 0 1,0 6.4,0a3.2,3.2 0 1,0 -6.4,0M1541.3,435.9a3.2,3.2 0 1,0 6.4,0a3.2,3.2 0 1,0 -6.4,0M1543.9,432.7a3.2,3.2 0 1,0 6.4,0a3.2,3.2 0 1,0 -6.4,0M1547.2,433a3.2,3.2 0 1,0 6.4,0a3.2,3.2 0 1,0 -6.4,0M1550.3,436.8a3.2,3.2 0 1,0 6.4,0a3.2,3.2 0 1,0 -6.4,0M1553.1,433.1a3.2,3.2 0 1,0 6.4,0a3.2,3.2 0 1,0 -6.4,0M1556.8,436.5a3.2,3.2 0 1,0 6.4,0a3.2,3.2 0 1,0 -6.4,0M1558.4,432.7a3.2,3.2 0 1,0 6.4,0a3.2,3.2 0 1,0 -6.4,0M1562.2,432.1a3.2,3.2 0 1,0 6.4,0a3.2,3.2 0 1,0 -6.4,0M1564.7,430.4a3.2,3.2 0 1,0 6.4,0a3.2,3.2 0 1,0 -6.4,0M1568.6,440.9a3.2,3.2 0 1,0 6.4,0a3.2,3.2 0 1,0 -6.4,0M1571.6,434.9a3.2,3.2 0 1,0 6.4,0a3.2,3.2 0 1,0 -6.4,0M1572.9,436.5a3.2,3.2 0 1,0 6.4,0a3.2,3.2 0 1,0 -6.4,0M1576.4,435.8a3.2,3.2 0 1,0 6.4,0a3.2,3.2 0 1,0 -6.4,0" fill="none" stroke="#4a4a4a" stroke-width="1.1" opacity="1"/>
<path d="M136,366.5l1.5,0 1.5,0 1.5,0 1.5,.1 1.5,0 1.5,0 1.5,0 1.5,0 1.5,0 1.5,0 1.5,.1 1.5,0 1.5,0 1.5,0 1.5,0 1.5,0 1.5,0 1.5,.1 1.5,0 1.5,0 1.5,0 1.5,0 1.5,0 1.5,0 1.5,.1 1.5,0 1.5,0 1.5,0 1.5,0 1.5,0 1.5,.1 1.5,0 1.5,0 1.5,0 1.5,0 1.5,0 1.5,0 1.5,.1 1.5,0 1.5,0 1.5,0 1.5,0 1.5,0 1.5,0 1.5,.1 1.5,0 1.5,0 1.5,0 1.5,0 1.5,0 1.5,.1 1.5,0 1.5,0 1.5,0 1.5,0 1.5,0 1.5,0 1.5,.1 1.5,0 1.5,0 1.5,0 1.5,0 1.5,0 1.5,.1 1.5,0 1.5,0 1.5,0 1.5,0 1.5,0 1.5,0 1.5,.1 1.5,0 1.5,0 1.5,0 1.5,0 1.5,0 1.5,.1 1.5,0 1.5,0 1.5,0 1.5,0 1.5,0 1.5,.1 1.5,0 1.5,0 1.5,0 1.5,0 1.5,0 1.5,0 1.5,.1 1.5,0 1.5,0 1.5,0 1.5,0 1.5,0 1.5,.1 1.5,0 1.5,0 1.5,0 1.5,0 1.5,0 1.5,.1 1.5,0 1.5,0 1.5,0 1.5,0 1.5,0 1.5,.1 1.5,0 1.5,0 1.5,0 1.5,0 1.5,0 1.5,0 1.5,.1 1.5,0 1.5,0 1.5,0 1.5,0 1.5,0 1.5,.1 1.5,0 1.5,0 1.5,0 1.5,0 1.5,0 1.5,.1 1.5,0 1.5,0 1.5,0 1.5,0 1.5,0 1.5,.1 1.5,0 1.5,0 1.5,0 1.5,0 1.5,0 1.5,.1 1.5,0 1.5,0 1.5,0 1.5,0 1.5,.1 1.5,0 1.5,0 1.5,0 1.5,0 1.5,0 1.5,.1 1.5,0 1.5,0 1.5,0 1.5,0 1.5,.1 1.5,0 1.5,0 1.5,0 1.5,0 1.5,0 1.5,.1 1.5,0 1.5,0 1.5,0 1.5,0 1.5,.1 1.5,0 1.5,0 1.5,0 1.5,0 1.5,.1 1.5,0 1.5,0 1.5,0 1.5,0 1.5,0 1.5,.1 1.5,0 1.5,0 1.5,0 1.5,0 1.5,.1 1.5,0 1.5,0 1.5,0 1.5,0 1.5,.1 1.5,0 1.5,0 1.5,0 1.5,0 1.5,.1 1.5,0 1.5,0 1.5,0 1.5,0 1.5,0 1.5,.1 1.5,0 1.5,0 1.5,0 1.5,0 1.5,.1 1.5,0 1.5,0 1.5,0 1.5,0 1.5,0 1.5,.1 1.5,0 1.5,0 1.5,0 1.5,0 1.5,0 1.5,.1 1.5,0 1.5,0 1.5,0 1.5,0 1.5,.1 1.5,0 1.5,0 1.5,0 1.5,0 1.5,0 1.5,0 1.5,.1 1.5,0 1.5,0 1.5,0 1.5,0 1.5,0 1.5,.1 1.5,0 1.5,0 1.5,0 1.5,0 1.5,0 1.5,0 1.5,.1 1.5,0 1.5,0 1.5,0 1.5,0 1.5,0 1.5,0 1.5,.1 1.5,0 1.5,0 1.5,0 1.5,0 1.5,0 1.5,0 1.5,0 1.5,.1 1.5,0 1.5,0 1.5,0 1.5,0 1.5,0 1.5,0 1.5,0 1.5,.1 1.5,0 1.5,0 1.5,0 1.5,0 1.5,0 1.5,0 1.5,0 1.5,0 1.5,.1 1.5,0 1.5,0 1.5,0 1.5,0 1.5,0 1.5,0 1.5,0 1.5,0 1.5,.1 1.5,0 1.5,0 1.5,0 1.5,0 1.5,0 1.5,0 1.5,0 1.5,0 1.5,0 1.5,.1 1.5,0 1.5,0 1.5,0 1.5,0 1.5,0 1.5,0 1.5,0 1.5,0 1.5,0 1.5,.1 1.5,0 1.5,0 1.5,0 1.5,0 1.5,0 1.5,0 1.5,0 1.5,0 1.5,0 1.5,.1 1.5,0 1.5,0 1.5,0 1.5,0 1.5,0 1.5,0 1.5,0 1.5,0 1.5,0 1.5,.1 1.5,0 1.5,0 1.5,0 1.5,0 1.5,0 1.5,0 1.5,0 1.5,0 1.5,0 1.5,.1 1.5,0 1.5,0 1.5,0 1.5,0 1.5,0 1.5,0 1.5,0 1.5,0 1.5,.1 1.5,0 1.5,0 1.5,0 1.5,0 1.5,0 1.5,0 1.5,0 1.5,0 1.5,.1 1.5,0 1.5,0 1.5,0 1.5,0 1.5,0 1.5,0 1.5,0 1.5,0 1.5,.1 1.5,0 1.5,0 1.5,0 1.5,0 1.5,0 1.5,0 1.5,0 1.5,.1 1.5,0 1.5,0 1.5,0 1.5,0 1.5,0 1.5,0 1.5,.1 1.5,0 1.5,0 1.5,0 1.5,0 1.5,0 1.5,0 1.5,.1 1.5,0 1.5,0 1.5,0 1.5,0 1.5,0 1.5,0 1.5,.1 1.5,0 1.5,0 1.5,0 1.5,0 1.5,0 1.5,0 1.5,.1 1.5,0 1.5,0 1.5,0 1.5,0 1.5,0 1.5,.1 1.5,0 1.5,0 1.5,0 1.5,0 1.5,0 1.5,.1 1.5,0 1.5,0 1.5,0 1.5,0 1.5,0 1.5,.1 1.5,0 1.5,0 1.5,0 1.5,0 1.5,0 1.5,.1 1.5,0 1.5,0 1.5,0 1.5,0 1.5,0 1.5,.1 1.5,0 1.5,0 1.5,0 1.5,0 1.5,.1 1.5,0 1.5,0 1.5,0 1.5,0 1.5,.1 1.5,0 1.5,0 1.5,0 1.5,.1 1.5,0 1.5,0 1.5,0 1.5,0 1.5,.1 1.5,0 1.5,0 1.5,0 1.5,.1 1.5,0 1.5,0 1.5,0 1.5,.1 1.5,0 1.5,0 1.5,0 1.5,.1 1.5,0 1.5,0 1.5,.1 1.5,0 1.5,0 1.5,0 1.5,.1 1.5,0 1.5,0 1.5,.1 1.5,0 1.5,0 1.5,.1 1.5,0 1.5,0 1.5,.1 1.5,0 1.5,0 1.5,.1 1.5,0 1.5,0 1.5,.1 1.5,0 1.5,.1 1.5,0 1.5,0 1.5,.1 1.5,0 1.5,.1 1.5,0 1.5,0 1.5,.1 1.5,0 1.5,.1 1.5,0 1.5,.1 1.5,0 1.5,0 1.5,.1 1.5,0 1.5,.1 1.5,0 1.5,.1 1.5,0 1.5,.1 1.5,0 1.5,.1 1.5,0 1.5,.1 1.5,0 1.5,.1 1.5,.1 1.5,0 1.5,.1 1.5,0 1.5,.1 1.5,0 1.5,.1 1.5,0 1.5,.1 1.5,.1 1.5,0 1.5,.1 1.5,0 1.5,.1 1.5,.1 1.5,0 1.5,.1 1.5,.1 1.5,0 1.5,.1 1.5,.1 1.5,0 1.5,.1 1.5,.1 1.5,0 1.5,.1 1.5,.1 1.5,.1 1.5,0 1.5,.1 1.5,.1 1.5,0 1.5,.1 1.5,.1 1.5,.1 1.5,0 1.5,.1 1.5,.1 1.5,.1 1.5,.1 1.5,.1 1.5,0 1.5,.1 1.5,.1 1.5,.1 1.5,.1 1.5,.1 1.5,.1 1.5,.2 1.5,.1 1.5,.1 1.5,.1 1.5,.1 1.5,.2 1.5,.1 1.5,.1 1.5,.1 1.5,.2 1.5,.1 1.5,.1 1.5,.2 1.5,.1 1.5,.2 1.5,.1 1.5,.2 1.5,.1 1.5,.2 1.5,.1 1.5,.2 1.5,.1 1.5,.2 1.5,.2 1.5,.1 1.5,.2 1.5,.2 1.5,.1 1.5,.2 1.5,.2 1.5,.2 1.5,.1 1.5,.2 1.5,.2 1.5,.2 1.5,.1 1.5,.2 1.5,.2 1.5,.2 1.5,.2 1.5,.2 1.5,.1 1.5,.2 1.5,.2 1.5,.2 1.5,.2 1.5,.2 1.5,.2 1.5,.2 1.5,.2 1.5,.2 1.5,.2 1.5,.1 1.5,.2 1.5,.2 1.5,.2 1.5,.2 1.5,.2 1.5,.2 1.5,.2 1.5,.3 1.5,.2 1.5,.2 1.5,.2 1.5,.2 1.5,.2 1.5,.3 1.5,.2 1.5,.2 1.5,.2 1.5,.3 1.5,.2 1.5,.3 1.5,.2 1.5,.2 1.5,.3 1.5,.2 1.5,.3 1.5,.3 1.5,.2 1.5,.3 1.5,.2 1.5,.3 1.5,.3 1.5,.3 1.5,.2 1.5,.3 1.5,.3 1.5,.3 1.5,.3 1.5,.2 1.5,.3 1.5,.3 1.5,.3 1.5,.3 1.5,.3 1.5,.3 1.5,.3 1.5,.4 1.5,.3 1.5,.3 1.5,.3 1.5,.3 1.5,.4 1.5,.3 1.5,.4 1.5,.4 1.5,.4 1.5,.4 1.5,.4 1.5,.4 1.5,.4 1.5,.5 1.5,.4 1.5,.4 1.5,.5 1.5,.5 1.5,.4 1.5,.5 1.5,.5 1.5,.5 1.5,.5 1.5,.5 1.5,.4 1.5,.5 1.5,.5 1.5,.5 1.5,.5 1.5,.5 1.5,.5 1.5,.5 1.5,.5 1.5,.5 1.5,.5 1.5,.5 1.5,.5 1.5,.5 1.5,.5 1.5,.4 1.5,.5 1.5,.5 1.5,.4 1.5,.5 1.5,.4 1.5,.4 1.5,.5 1.5,.4 1.5,.4 1.5,.4 1.5,.3 1.5,.4 1.5,.4 1.5,.3 1.5,.4 1.5,.3 1.5,.3 1.5,.3 1.5,.3 1.5,.3 1.5,.3 1.5,.2 1.5,.3 1.5,.3 1.5,.3 1.5,.3 1.5,.2 1.5,.3 1.5,.3 1.5,.3 1.5,.3 1.5,.2 1.5,.3 1.5,.3 1.5,.2 1.5,.3 1.5,.3 1.5,.2 1.5,.3 1.5,.3 1.5,.2 1.5,.3 1.5,.2 1.5,.3 1.5,.2 1.5,.2 1.5,.3 1.5,.2 1.5,.2 1.5,.2 1.5,.3 1.5,.2 1.5,.2 1.5,.2 1.5,.2 1.5,.2 1.5,.2 1.5,.1 1.5,.2 1.5,.2 1.5,.1 1.5,.2 1.5,.1 1.5,.2 1.5,.1 1.5,.1 1.5,.2 1.5,.1 1.5,.1 1.5,.1 1.5,.1 1.5,0 1.5,.1 1.5,.1 1.5,0 1.5,.1 1.5,0 1.5,.1 1.5,0 1.5,0 1.5,.1 1.5,0 1.5,0 1.5,.1 1.5,0 1.5,0 1.5,.1 1.5,0 1.5,0 1.5,.1 1.5,0 1.5,0 1.5,.1 1.5,0 1.5,0 1.5,0 1.5,.1 1.5,0 1.5,0 1.5,0 1.5,.1 1.5,0 1.5,0 1.5,0 1.5,.1 1.5,0 1.5,0 1.5,0 1.5,.1 1.5,0 1.5,0 1.5,0 1.5,0 1.5,.1 1.5,0 1.5,0 1.5,0 1.5,0 1.5,0 1.5,.1 1.5,0 1.5,0 1.5,0 1.5,0 1.5,0 1.5,.1 1.5,0 1.5,0 1.5,0 1.5,0 1.5,0 1.5,0 1.5,0 1.5,.1 1.5,0 1.5,0 1.5,0 1.5,0 1.5,0 1.5,0 1.5,0 1.5,0 1.5,0 1.5,.1 1.5,0 1.5,0 1.5,0 1.5,0 1.5,0 1.5,0 1.5,0 1.5,0 1.5,0 1.5,0 1.5,0 1.5,0 1.5,.1 1.5,0 1.5,0 1.5,0 1.5,0 1.5,0 1.5,0 1.5,0 1.5,0 1.5,0 1.5,0 1.5,0 1.5,0 1.5,0 1.5,0 1.5,.1 1.5,0 1.5,0 1.5,0 1.5,0 1.5,0 1.5,0 1.5,0 1.5,0 1.5,0 1.5,0 1.5,0 1.5,0 1.5,0 1.5,0 1.5,0 1.5,0 1.5,.1 1.5,0 1.5,0 1.5,0 1.5,0 1.5,0 1.5,0 1.5,0 1.5,0 1.5,0 1.5,0 1.5,0 1.5,0 1.5,0 1.5,0 1.5,0 1.5,0 1.5,0 1.5,0 1.5,0 1.5,.1 1.5,0 1.5,0 1.5,0 1.5,0 1.5,0 1.5,0 1.5,0 1.5,0 1.5,0 1.5,0 1.5,0 1.5,0 1.5,0 1.5,0 1.5,0 1.5,0 1.5,0 1.5,0 1.5,0 1.5,0 1.5,0 1.5,0 1.5,0 1.5,0 1.5,0 1.5,0 1.5,0 1.5,.1 1.5,0 1.5,0 1.5,0 1.5,0 1.5,0 1.5,0 1.5,0 1.5,0 1.5,0 1.5,0 1.5,0 1.5,0 1.5,0 1.5,0 1.5,0 1.5,0 1.5,0 1.5,0 1.5,0 1.5,0 1.5,0 1.5,0 1.5,0 1.5,0 1.5,0 1.5,0 1.5,0 1.5,0 1.5,0 1.5,0 1.5,0 1.5,0 1.5,0 1.5,0" fill="none" stroke="#0000ff" stroke-width="3.0" stroke-linejoin="round" stroke-linecap="round" />
<path d="M136,365l1.5,0 1.5,0 1.5,0 1.5,0 1.5,.1 1.5,0 1.5,0 1.5,0 1.5,0 1.5,0 1.5,0 1.5,0 1.5,.1 1.5,0 1.5,0 1.5,0 1.5,0 1.5,0 1.5,0 1.5,0 1.5,0 1.5,.1 1.5,0 1.5,0 1.5,0 1.5,0 1.5,0 1.5,0 1.5,0 1.5,.1 1.5,0 1.5,0 1.5,0 1.5,0 1.5,0 1.5,0 1.5,0 1.5,.1 1.5,0 1.5,0 1.5,0 1.5,0 1.5,0 1.5,0 1.5,0 1.5,.1 1.5,0 1.5,0 1.5,0 1.5,0 1.5,0 1.5,0 1.5,0 1.5,.1 1.5,0 1.5,0 1.5,0 1.5,0 1.5,0 1.5,0 1.5,0 1.5,.1 1.5,0 1.5,0 1.5,0 1.5,0 1.5,0 1.5,0 1.5,0 1.5,.1 1.5,0 1.5,0 1.5,0 1.5,0 1.5,0 1.5,0 1.5,.1 1.5,0 1.5,0 1.5,0 1.5,0 1.5,0 1.5,0 1.5,0 1.5,.1 1.5,0 1.5,0 1.5,0 1.5,0 1.5,0 1.5,0 1.5,0 1.5,.1 1.5,0 1.5,0 1.5,0 1.5,0 1.5,0 1.5,0 1.5,.1 1.5,0 1.5,0 1.5,0 1.5,0 1.5,0 1.5,0 1.5,.1 1.5,0 1.5,0 1.5,0 1.5,0 1.5,0 1.5,0 1.5,0 1.5,.1 1.5,0 1.5,0 1.5,0 1.5,0 1.5,0 1.5,0 1.5,.1 1.5,0 1.5,0 1.5,0 1.5,0 1.5,0 1.5,0 1.5,.1 1.5,0 1.5,0 1.5,0 1.5,0 1.5,0 1.5,0 1.5,.1 1.5,0 1.5,0 1.5,0 1.5,0 1.5,0 1.5,0 1.5,.1 1.5,0 1.5,0 1.5,0 1.5,0 1.5,0 1.5,0 1.5,.1 1.5,0 1.5,0 1.5,0 1.5,0 1.5,0 1.5,.1 1.5,0 1.5,0 1.5,0 1.5,0 1.5,0 1.5,.1 1.5,0 1.5,0 1.5,0 1.5,0 1.5,0 1.5,0 1.5,.1 1.5,0 1.5,0 1.5,0 1.5,0 1.5,0 1.5,.1 1.5,0 1.5,0 1.5,0 1.5,0 1.5,0 1.5,.1 1.5,0 1.5,0 1.5,0 1.5,0 1.5,0 1.5,.1 1.5,0 1.5,0 1.5,0 1.5,0 1.5,0 1.5,.1 1.5,0 1.5,0 1.5,0 1.5,0 1.5,0 1.5,.1 1.5,0 1.5,0 1.5,0 1.5,0 1.5,0 1.5,0 1.5,.1 1.5,0 1.5,0 1.5,0 1.5,0 1.5,0 1.5,.1 1.5,0 1.5,0 1.5,0 1.5,0 1.5,0 1.5,0 1.5,.1 1.5,0 1.5,0 1.5,0 1.5,0 1.5,0 1.5,0 1.5,0 1.5,.1 1.5,0 1.5,0 1.5,0 1.5,0 1.5,0 1.5,0 1.5,.1 1.5,0 1.5,0 1.5,0 1.5,0 1.5,0 1.5,0 1.5,0 1.5,0 1.5,.1 1.5,0 1.5,0 1.5,0 1.5,0 1.5,0 1.5,0 1.5,0 1.5,0 1.5,.1 1.5,0 1.5,0 1.5,0 1.5,0 1.5,0 1.5,0 1.5,0 1.5,0 1.5,0 1.5,0 1.5,.1 1.5,0 1.5,0 1.5,0 1.5,0 1.5,0 1.5,0 1.5,0 1.5,0 1.5,0 1.5,0 1.5,.1 1.5,0 1.5,0 1.5,0 1.5,0 1.5,0 1.5,0 1.5,0 1.5,0 1.5,0 1.5,0 1.5,0 1.5,0 1.5,.1 1.5,0 1.5,0 1.5,0 1.5,0 1.5,0 1.5,0 1.5,0 1.5,0 1.5,0 1.5,0 1.5,0 1.5,0 1.5,.1 1.5,0 1.5,0 1.5,0 1.5,0 1.5,0 1.5,0 1.5,0 1.5,0 1.5,0 1.5,0 1.5,0 1.5,0 1.5,0 1.5,.1 1.5,0 1.5,0 1.5,0 1.5,0 1.5,0 1.5,0 1.5,0 1.5,0 1.5,0 1.5,0 1.5,0 1.5,0 1.5,0 1.5,.1 1.5,0 1.5,0 1.5,0 1.5,0 1.5,0 1.5,0 1.5,0 1.5,0 1.5,0 1.5,0 1.5,0 1.5,0 1.5,.1 1.5,0 1.5,0 1.5,0 1.5,0 1.5,0 1.5,0 1.5,0 1.5,0 1.5,0 1.5,0 1.5,.1 1.5,0 1.5,0 1.5,0 1.5,0 1.5,0 1.5,0 1.5,0 1.5,0 1.5,0 1.5,0 1.5,.1 1.5,0 1.5,0 1.5,0 1.5,0 1.5,0 1.5,0 1.5,0 1.5,0 1.5,.1 1.5,0 1.5,0 1.5,0 1.5,0 1.5,0 1.5,0 1.5,0 1.5,.1 1.5,0 1.5,0 1.5,0 1.5,0 1.5,0 1.5,0 1.5,.1 1.5,0 1.5,0 1.5,0 1.5,0 1.5,0 1.5,0 1.5,.1 1.5,0 1.5,0 1.5,0 1.5,0 1.5,0 1.5,.1 1.5,0 1.5,0 1.5,0 1.5,0 1.5,0 1.5,.1 1.5,0 1.5,0 1.5,0 1.5,0 1.5,0 1.5,.1 1.5,0 1.5,0 1.5,0 1.5,0 1.5,0 1.5,.1 1.5,0 1.5,0 1.5,0 1.5,0 1.5,0 1.5,.1 1.5,0 1.5,0 1.5,0 1.5,0 1.5,.1 1.5,0 1.5,0 1.5,0 1.5,0 1.5,.1 1.5,0 1.5,0 1.5,0 1.5,.1 1.5,0 1.5,0 1.5,0 1.5,0 1.5,.1 1.5,0 1.5,0 1.5,0 1.5,.1 1.5,0 1.5,0 1.5,0 1.5,.1 1.5,0 1.5,0 1.5,0 1.5,.1 1.5,0 1.5,0 1.5,.1 1.5,0 1.5,0 1.5,0 1.5,.1 1.5,0 1.5,0 1.5,.1 1.5,0 1.5,0 1.5,.1 1.5,0 1.5,0 1.5,.1 1.5,0 1.5,0 1.5,.1 1.5,0 1.5,0 1.5,.1 1.5,0 1.5,.1 1.5,0 1.5,0 1.5,.1 1.5,0 1.5,.1 1.5,0 1.5,0 1.5,.1 1.5,0 1.5,.1 1.5,0 1.5,.1 1.5,0 1.5,0 1.5,.1 1.5,0 1.5,.1 1.5,0 1.5,.1 1.5,0 1.5,.1 1.5,0 1.5,.1 1.5,0 1.5,.1 1.5,0 1.5,.1 1.5,.1 1.5,0 1.5,.1 1.5,0 1.5,.1 1.5,0 1.5,.1 1.5,0 1.5,.1 1.5,.1 1.5,0 1.5,.1 1.5,0 1.5,.1 1.5,.1 1.5,0 1.5,.1 1.5,.1 1.5,0 1.5,.1 1.5,.1 1.5,0 1.5,.1 1.5,.1 1.5,0 1.5,.1 1.5,.1 1.5,.1 1.5,0 1.5,.1 1.5,.1 1.5,0 1.5,.1 1.5,.1 1.5,.1 1.5,0 1.5,.1 1.5,.1 1.5,.1 1.5,.1 1.5,.1 1.5,.1 1.5,.1 1.5,.1 1.5,.1 1.5,.1 1.5,.2 1.5,.1 1.5,.1 1.5,.1 1.5,.1 1.5,.2 1.5,.1 1.5,.1 1.5,.2 1.5,.1 1.5,.2 1.5,.1 1.5,.2 1.5,.1 1.5,.2 1.5,.1 1.5,.2 1.5,.1 1.5,.2 1.5,.2 1.5,.1 1.5,.2 1.5,.2 1.5,.1 1.5,.2 1.5,.2 1.5,.1 1.5,.2 1.5,.2 1.5,.2 1.5,.2 1.5,.1 1.5,.2 1.5,.2 1.5,.2 1.5,.2 1.5,.2 1.5,.2 1.5,.2 1.5,.2 1.5,.2 1.5,.2 1.5,.2 1.5,.1 1.5,.2 1.5,.2 1.5,.2 1.5,.2 1.5,.2 1.5,.3 1.5,.2 1.5,.2 1.5,.2 1.5,.2 1.5,.2 1.5,.2 1.5,.2 1.5,.2 1.5,.2 1.5,.2 1.5,.2 1.5,.2 1.5,.3 1.5,.2 1.5,.2 1.5,.2 1.5,.3 1.5,.2 1.5,.2 1.5,.3 1.5,.2 1.5,.3 1.5,.2 1.5,.3 1.5,.2 1.5,.3 1.5,.2 1.5,.3 1.5,.2 1.5,.3 1.5,.3 1.5,.2 1.5,.3 1.5,.3 1.5,.3 1.5,.3 1.5,.2 1.5,.3 1.5,.3 1.5,.3 1.5,.3 1.5,.3 1.5,.3 1.5,.3 1.5,.3 1.5,.3 1.5,.3 1.5,.3 1.5,.4 1.5,.3 1.5,.3 1.5,.3 1.5,.4 1.5,.3 1.5,.3 1.5,.4 1.5,.4 1.5,.3 1.5,.4 1.5,.4 1.5,.4 1.5,.4 1.5,.5 1.5,.4 1.5,.5 1.5,.4 1.5,.5 1.5,.4 1.5,.5 1.5,.5 1.5,.5 1.5,.5 1.5,.5 1.5,.5 1.5,.5 1.5,.5 1.5,.5 1.5,.5 1.5,.5 1.5,.5 1.5,.5 1.5,.5 1.5,.5 1.5,.5 1.5,.5 1.5,.5 1.5,.5 1.5,.5 1.5,.5 1.5,.5 1.5,.5 1.5,.5 1.5,.4 1.5,.5 1.5,.5 1.5,.4 1.5,.5 1.5,.4 1.5,.4 1.5,.4 1.5,.4 1.5,.4 1.5,.4 1.5,.4 1.5,.3 1.5,.4 1.5,.3 1.5,.3 1.5,.3 1.5,.3 1.5,.3 1.5,.3 1.5,.3 1.5,.3 1.5,.3 1.5,.3 1.5,.3 1.5,.3 1.5,.3 1.5,.3 1.5,.2 1.5,.3 1.5,.3 1.5,.3 1.5,.3 1.5,.3 1.5,.2 1.5,.3 1.5,.3 1.5,.3 1.5,.2 1.5,.3 1.5,.3 1.5,.2 1.5,.3 1.5,.2 1.5,.3 1.5,.2 1.5,.3 1.5,.2 1.5,.2 1.5,.2 1.5,.3 1.5,.2 1.5,.2 1.5,.2 1.5,.2 1.5,.2 1.5,.2 1.5,.2 1.5,.1 1.5,.2 1.5,.2 1.5,.1 1.5,.2 1.5,.1 1.5,.2 1.5,.1 1.5,.1 1.5,.1 1.5,.1 1.5,.1 1.5,.1 1.5,.1 1.5,.1 1.5,0 1.5,.1 1.5,.1 1.5,0 1.5,.1 1.5,0 1.5,.1 1.5,0 1.5,0 1.5,.1 1.5,0 1.5,0 1.5,.1 1.5,0 1.5,0 1.5,.1 1.5,0 1.5,0 1.5,.1 1.5,0 1.5,0 1.5,0 1.5,.1 1.5,0 1.5,0 1.5,0 1.5,.1 1.5,0 1.5,0 1.5,0 1.5,.1 1.5,0 1.5,0 1.5,0 1.5,.1 1.5,0 1.5,0 1.5,0 1.5,0 1.5,.1 1.5,0 1.5,0 1.5,0 1.5,0 1.5,0 1.5,.1 1.5,0 1.5,0 1.5,0 1.5,0 1.5,0 1.5,.1 1.5,0 1.5,0 1.5,0 1.5,0 1.5,0 1.5,0 1.5,0 1.5,.1 1.5,0 1.5,0 1.5,0 1.5,0 1.5,0 1.5,0 1.5,0 1.5,0 1.5,0 1.5,.1 1.5,0 1.5,0 1.5,0 1.5,0 1.5,0 1.5,0 1.5,0 1.5,0 1.5,0 1.5,0 1.5,0 1.5,0 1.5,.1 1.5,0 1.5,0 1.5,0 1.5,0 1.5,0 1.5,0 1.5,0 1.5,0 1.5,0 1.5,0 1.5,0 1.5,0 1.5,0 1.5,0 1.5,.1 1.5,0 1.5,0 1.5,0 1.5,0 1.5,0 1.5,0 1.5,0 1.5,0 1.5,0 1.5,0 1.5,0 1.5,0 1.5,0 1.5,0 1.5,0 1.5,0 1.5,.1 1.5,0 1.5,0 1.5,0 1.5,0 1.5,0 1.5,0 1.5,0 1.5,0 1.5,0 1.5,0 1.5,0 1.5,0 1.5,0 1.5,0 1.5,0 1.5,0 1.5,0 1.5,0 1.5,0 1.5,.1 1.5,0 1.5,0 1.5,0 1.5,0 1.5,0 1.5,0 1.5,0 1.5,0 1.5,0 1.5,0 1.5,0 1.5,0 1.5,0 1.5,0 1.5,0 1.5,0 1.5,0 1.5,0 1.5,0 1.5,0 1.5,0 1.5,0 1.5,0 1.5,0 1.5,0 1.5,0 1.5,0 1.5,.1 1.5,0 1.5,0 1.5,0 1.5,0 1.5,0 1.5,0 1.5,0 1.5,0 1.5,0 1.5,0 1.5,0 1.5,0 1.5,0 1.5,0 1.5,0 1.5,0 1.5,0 1.5,0 1.5,0 1.5,0 1.5,0 1.5,0 1.5,0 1.5,0 1.5,0 1.5,0 1.5,0 1.5,0 1.5,0 1.5,0 1.5,0 1.5,0 1.5,0 1.5,0" fill="none" stroke="#0000ff" stroke-width="3.0" stroke-linejoin="round" stroke-linecap="round" />
<path d="M136,359.9l1.5-.1 1.5,0 1.5-.2 1.5-.1 1.5-.1 1.5-.1 1.5-.1 1.5-.1 1.5-.2 1.5-.1 1.5-.1 1.5-.1 1.5-.1 1.5-.1 1.5-.1 1.5-.2 1.5-.1 1.5-.1 1.5-.1 1.5-.1 1.5-.1 1.5-.1 1.5-.1 1.5-.1 1.5-.1 1.5-.1 1.5-.1 1.5-.1 1.5-.1 1.5-.1 1.5-.1 1.5-.1 1.5-.1 1.5-.1 1.5-.1 1.5-.1 1.5-.1 1.5-.1 1.5-.1 1.5-.1 1.5-.1 1.5,0 1.5-.1 1.5-.1 1.5-.1 1.5-.1 1.5-.1 1.5-.1 1.5-.1 1.5-.1 1.5,0 1.5-.1 1.5-.1 1.5-.1 1.5-.1 1.5-.1 1.5-.1 1.5-.1 1.5-.1 1.5-.1 1.5-.1 1.5-.1 1.5-.1 1.5-.1 1.5-.1 1.5-.1 1.5-.1 1.5-.1 1.5-.1 1.5-.1 1.5-.1 1.5,0 1.5-.1 1.5-.1 1.5-.1 1.5-.1 1.5-.1 1.5-.1 1.5,0 1.5-.1 1.5-.1 1.5-.1 1.5,0 1.5-.1 1.5-.1 1.5,0 1.5-.1 1.5-.1 1.5,0 1.5-.1 1.5,0 1.5-.1 1.5,0 1.5-.1 1.5,0 1.5,0 1.5-.1 1.5,0 1.5,0 1.5-.1 1.5,0 1.5,0 1.5,0 1.5,0 1.5,0 1.5,0 1.5,0 1.5,0 1.5,0 1.5,0 1.5,0 1.5,0 1.5,.1 1.5,0 1.5,0 1.5,0 1.5,0 1.5,.1 1.5,0 1.5,0 1.5,0 1.5,.1 1.5,0 1.5,0 1.5,0 1.5,.1 1.5,0 1.5,0 1.5,0 1.5,.1 1.5,0 1.5,0 1.5,0 1.5,.1 1.5,0 1.5,0 1.5,.1 1.5,0 1.5,0 1.5,.1 1.5,0 1.5,0 1.5,.1 1.5,0 1.5,0 1.5,.1 1.5,0 1.5,0 1.5,.1 1.5,0 1.5,0 1.5,.1 1.5,0 1.5,0 1.5,.1 1.5,0 1.5,0 1.5,.1 1.5,0 1.5,0 1.5,.1 1.5,0 1.5,0 1.5,.1 1.5,0 1.5,0 1.5,.1 1.5,0 1.5,.1 1.5,0 1.5,0 1.5,.1 1.5,0 1.5,0 1.5,.1 1.5,0 1.5,0 1.5,.1 1.5,0 1.5,0 1.5,.1 1.5,0 1.5,.1 1.5,0 1.5,0 1.5,.1 1.5,0 1.5,.1 1.5,0 1.5,.1 1.5,0 1.5,0 1.5,.1 1.5,0 1.5,.1 1.5,0 1.5,.1 1.5,0 1.5,.1 1.5,0 1.5,0 1.5,.1 1.5,0 1.5,.1 1.5,0 1.5,.1 1.5,0 1.5,.1 1.5,0 1.5,.1 1.5,0 1.5,0 1.5,.1 1.5,0 1.5,.1 1.5,0 1.5,0 1.5,.1 1.5,0 1.5,.1 1.5,0 1.5,0 1.5,.1 1.5,0 1.5,.1 1.5,0 1.5,0 1.5,.1 1.5,0 1.5,0 1.5,0 1.5,.1 1.5,0 1.5,0 1.5,.1 1.5,0 1.5,0 1.5,0 1.5,0 1.5,.1 1.5,0 1.5,0 1.5,0 1.5,0 1.5,0 1.5,0 1.5,.1 1.5,0 1.5,0 1.5,0 1.5,0 1.5,0 1.5,0 1.5,0 1.5,.1 1.5,0 1.5,0 1.5,0 1.5,0 1.5,0 1.5,0 1.5,0 1.5,0 1.5,.1 1.5,0 1.5,0 1.5,0 1.5,0 1.5,0 1.5,0 1.5,0 1.5,0 1.5,.1 1.5,0 1.5,0 1.5,0 1.5,0 1.5,0 1.5,0 1.5,0 1.5,0 1.5,0 1.5,0 1.5,.1 1.5,0 1.5,0 1.5,0 1.5,0 1.5,0 1.5,0 1.5,0 1.5,0 1.5,0 1.5,0 1.5,.1 1.5,0 1.5,0 1.5,0 1.5,0 1.5,0 1.5,0 1.5,0 1.5,0 1.5,0 1.5,0 1.5,.1 1.5,0 1.5,0 1.5,0 1.5,0 1.5,0 1.5,0 1.5,0 1.5,0 1.5,0 1.5,0 1.5,0 1.5,.1 1.5,0 1.5,0 1.5,0 1.5,0 1.5,0 1.5,0 1.5,0 1.5,0 1.5,0 1.5,0 1.5,.1 1.5,0 1.5,0 1.5,0 1.5,0 1.5,0 1.5,0 1.5,0 1.5,0 1.5,0 1.5,.1 1.5,0 1.5,0 1.5,0 1.5,0 1.5,0 1.5,0 1.5,.1 1.5,0 1.5,0 1.5,.1 1.5,0 1.5,.1 1.5,0 1.5,.1 1.5,0 1.5,.1 1.5,.1 1.5,0 1.5,.1 1.5,.1 1.5,.1 1.5,.1 1.5,.1 1.5,.1 1.5,0 1.5,.1 1.5,.1 1.5,.1 1.5,.2 1.5,.1 1.5,.1 1.5,.1 1.5,.1 1.5,.1 1.5,.1 1.5,.1 1.5,.2 1.5,.1 1.5,.1 1.5,.1 1.5,.1 1.5,.2 1.5,.1 1.5,.1 1.5,.1 1.5,.2 1.5,.1 1.5,.1 1.5,.1 1.5,.2 1.5,.1 1.5,.1 1.5,.1 1.5,.1 1.5,.2 1.5,.1 1.5,.1 1.5,.1 1.5,.1 1.5,.1 1.5,.1 1.5,.2 1.5,.1 1.5,.1 1.5,.1 1.5,.1 1.5,.1 1.5,.1 1.5,.1 1.5,.1 1.5,0 1.5,.1 1.5,.1 1.5,.1 1.5,.1 1.5,0 1.5,.1 1.5,.1 1.5,0 1.5,.1 1.5,.1 1.5,0 1.5,.1 1.5,0 1.5,.1 1.5,.1 1.5,0 1.5,.1 1.5,0 1.5,.1 1.5,.1 1.5,0 1.5,.1 1.5,0 1.5,.1 1.5,0 1.5,.1 1.5,.1 1.5,0 1.5,.1 1.5,0 1.5,.1 1.5,0 1.5,.1 1.5,.1 1.5,0 1.5,.1 1.5,0 1.5,.1 1.5,0 1.5,.1 1.5,0 1.5,.1 1.5,.1 1.5,0 1.5,.1 1.5,0 1.5,.1 1.5,0 1.5,.1 1.5,.1 1.5,0 1.5,.1 1.5,0 1.5,.1 1.5,.1 1.5,0 1.5,.1 1.5,.1 1.5,0 1.5,.1 1.5,.1 1.5,0 1.5,.1 1.5,.1 1.5,0 1.5,.1 1.5,.1 1.5,0 1.5,.1 1.5,.1 1.5,.1 1.5,0 1.5,.1 1.5,.1 1.5,.1 1.5,0 1.5,.1 1.5,.1 1.5,.1 1.5,0 1.5,.1 1.5,.1 1.5,.1 1.5,0 1.5,.1 1.5,.1 1.5,.1 1.5,.1 1.5,.1 1.5,0 1.5,.1 1.5,.1 1.5,.1 1.5,.1 1.5,.1 1.5,0 1.5,.1 1.5,.1 1.5,.1 1.5,.1 1.5,.1 1.5,.1 1.5,.1 1.5,0 1.5,.1 1.5,.1 1.5,.1 1.5,.1 1.5,.1 1.5,.1 1.5,.1 1.5,.1 1.5,.1 1.5,.1 1.5,.1 1.5,.1 1.5,.1 1.5,.1 1.5,.1 1.5,.1 1.5,.1 1.5,.1 1.5,.1 1.5,.1 1.5,.1 1.5,.2 1.5,.1 1.5,.1 1.5,.1 1.5,.1 1.5,.1 1.5,.1 1.5,.1 1.5,.2 1.5,.1 1.5,.1 1.5,.1 1.5,.1 1.5,.2 1.5,.1 1.5,.2 1.5,.1 1.5,.1 1.5,.2 1.5,.1 1.5,.2 1.5,.1 1.5,.2 1.5,.2 1.5,.1 1.5,.2 1.5,.2 1.5,.1 1.5,.2 1.5,.2 1.5,.2 1.5,.2 1.5,.1 1.5,.2 1.5,.2 1.5,.2 1.5,.2 1.5,.2 1.5,.2 1.5,.2 1.5,.2 1.5,.2 1.5,.2 1.5,.2 1.5,.2 1.5,.3 1.5,.2 1.5,.2 1.5,.2 1.5,.2 1.5,.2 1.5,.3 1.5,.2 1.5,.2 1.5,.2 1.5,.3 1.5,.2 1.5,.2 1.5,.2 1.5,.3 1.5,.2 1.5,.2 1.5,.3 1.5,.2 1.5,.3 1.5,.2 1.5,.2 1.5,.3 1.5,.2 1.5,.3 1.5,.2 1.5,.2 1.5,.3 1.5,.2 1.5,.2 1.5,.2 1.5,.3 1.5,.2 1.5,.2 1.5,.2 1.5,.3 1.5,.2 1.5,.3 1.5,.3 1.5,.2 1.5,.3 1.5,.3 1.5,.3 1.5,.3 1.5,.3 1.5,.3 1.5,.3 1.5,.3 1.5,.3 1.5,.3 1.5,.3 1.5,.3 1.5,.3 1.5,.4 1.5,.3 1.5,.3 1.5,.3 1.5,.3 1.5,.4 1.5,.3 1.5,.3 1.5,.3 1.5,.4 1.5,.3 1.5,.3 1.5,.3 1.5,.4 1.5,.3 1.5,.3 1.5,.3 1.5,.4 1.5,.3 1.5,.3 1.5,.3 1.5,.4 1.5,.3 1.5,.3 1.5,.4 1.5,.4 1.5,.3 1.5,.4 1.5,.4 1.5,.4 1.5,.4 1.5,.5 1.5,.4 1.5,.4 1.5,.5 1.5,.4 1.5,.5 1.5,.4 1.5,.5 1.5,.5 1.5,.5 1.5,.5 1.5,.5 1.5,.4 1.5,.5 1.5,.5 1.5,.5 1.5,.5 1.5,.5 1.5,.5 1.5,.5 1.5,.5 1.5,.5 1.5,.5 1.5,.5 1.5,.5 1.5,.5 1.5,.5 1.5,.5 1.5,.4 1.5,.5 1.5,.5 1.5,.4 1.5,.5 1.5,.4 1.5,.4 1.5,.5 1.5,.4 1.5,.4 1.5,.4 1.5,.4 1.5,.3 1.5,.4 1.5,.3 1.5,.4 1.5,.3 1.5,.3 1.5,.3 1.5,.3 1.5,.3 1.5,.3 1.5,.2 1.5,.3 1.5,.3 1.5,.3 1.5,.3 1.5,.2 1.5,.3 1.5,.3 1.5,.3 1.5,.3 1.5,.2 1.5,.3 1.5,.3 1.5,.2 1.5,.3 1.5,.3 1.5,.2 1.5,.3 1.5,.3 1.5,.2 1.5,.3 1.5,.2 1.5,.3 1.5,.2 1.5,.2 1.5,.3 1.5,.2 1.5,.2 1.5,.3 1.5,.2 1.5,.2 1.5,.2 1.5,.2 1.5,.2 1.5,.2 1.5,.2 1.5,.1 1.5,.2 1.5,.2 1.5,.1 1.5,.2 1.5,.1 1.5,.2 1.5,.1 1.5,.1 1.5,.2 1.5,.1 1.5,.1 1.5,.1 1.5,.1 1.5,.1 1.5,0 1.5,.1 1.5,0 1.5,.1 1.5,0 1.5,.1 1.5,0 1.5,0 1.5,.1 1.5,0 1.5,0 1.5,.1 1.5,0 1.5,0 1.5,.1 1.5,0 1.5,0 1.5,.1 1.5,0 1.5,0 1.5,.1 1.5,0 1.5,0 1.5,0 1.5,.1 1.5,0 1.5,0 1.5,0 1.5,.1 1.5,0 1.5,0 1.5,0 1.5,.1 1.5,0 1.5,0 1.5,0 1.5,.1 1.5,0 1.5,0 1.5,0 1.5,0 1.5,.1 1.5,0 1.5,0 1.5,0 1.5,0 1.5,0 1.5,.1 1.5,0 1.5,0 1.5,0 1.5,0 1.5,0 1.5,.1 1.5,0 1.5,0 1.5,0 1.5,0 1.5,0 1.5,0 1.5,0 1.5,.1 1.5,0 1.5,0 1.5,0 1.5,0 1.5,0 1.5,0 1.5,0 1.5,0 1.5,0 1.5,.1 1.5,0 1.5,0 1.5,0 1.5,0 1.5,0 1.5,0 1.5,0 1.5,0 1.5,0 1.5,0 1.5,0 1.5,0 1.5,.1 1.5,0 1.5,0 1.5,0 1.5,0 1.5,0 1.5,0 1.5,0 1.5,0 1.5,0 1.5,0 1.5,0 1.5,0 1.5,0 1.5,0 1.5,.1 1.5,0 1.5,0 1.5,0 1.5,0 1.5,0 1.5,0 1.5,0 1.5,0 1.5,0 1.5,0 1.5,0 1.5,0 1.5,0 1.5,0 1.5,0 1.5,0 1.5,.1 1.5,0 1.5,0 1.5,0 1.5,0 1.5,0 1.5,0 1.5,0 1.5,0 1.5,0 1.5,0 1.5,0 1.5,0 1.5,0 1.5,0 1.5,0 1.5,0 1.5,0 1.5,0 1.5,0 1.5,.1 1.5,0 1.5,0 1.5,0 1.5,0 1.5,0 1.5,0 1.5,0 1.5,0 1.5,0 1.5,0 1.5,0 1.5,0 1.5,0 1.5,0 1.5,0 1.5,0 1.5,0 1.5,0 1.5,0 1.5,0 1.5,0 1.5,0 1.5,0 1.5,0 1.5,0 1.5,0 1.5,.1 1.5,0 1.5,0 1.5,0 1.5,0 1.5,0 1.5,0 1.5,0 1.5,0 1.5,0 1.5,0 1.5,0 1.5,0 1.5,0 1.5,0 1.5,0 1.5,0 1.5,0 1.5,0 1.5,0 1.5,0 1.5,0 1.5,0 1.5,0 1.5,0 1.5,0 1.5,0 1.5,0 1.5,0 1.5,0 1.5,0 1.5,0 1.5,0 1.5,0 1.5,0 1.5,0" fill="none" stroke="#0000ff" stroke-width="3.0" stroke-linejoin="round" stroke-linecap="round" />
<path d="M136,366.4l1.5,.1 1.5,0 1.5,0 1.5,0 1.5,0 1.5,0 1.5,0 1.5,.1 1.5,0 1.5,0 1.5,0 1.5,0 1.5,0 1.5,0 1.5,.1 1.5,0 1.5,0 1.5,0 1.5,0 1.5,0 1.5,0 1.5,.1 1.5,0 1.5,0 1.5,0 1.5,0 1.5,0 1.5,0 1.5,.1 1.5,0 1.5,0 1.5,0 1.5,0 1.5,0 1.5,.1 1.5,0 1.5,0 1.5,0 1.5,0 1.5,0 1.5,0 1.5,.1 1.5,0 1.5,0 1.5,0 1.5,0 1.5,0 1.5,0 1.5,.1 1.5,0 1.5,0 1.5,0 1.5,0 1.5,0 1.5,0 1.5,.1 1.5,0 1.5,0 1.5,0 1.5,0 1.5,0 1.5,.1 1.5,0 1.5,0 1.5,0 1.5,0 1.5,0 1.5,0 1.5,.1 1.5,0 1.5,0 1.5,0 1.5,0 1.5,0 1.5,.1 1.5,0 1.5,0 1.5,0 1.5,0 1.5,0 1.5,0 1.5,.1 1.5,0 1.5,0 1.5,0 1.5,0 1.5,0 1.5,.1 1.5,0 1.5,0 1.5,0 1.5,0 1.5,0 1.5,0 1.5,.1 1.5,0 1.5,0 1.5,0 1.5,0 1.5,0 1.5,.1 1.5,0 1.5,0 1.5,0 1.5,0 1.5,0 1.5,.1 1.5,0 1.5,0 1.5,0 1.5,0 1.5,0 1.5,0 1.5,.1 1.5,0 1.5,0 1.5,0 1.5,0 1.5,0 1.5,.1 1.5,0 1.5,0 1.5,0 1.5,0 1.5,0 1.5,.1 1.5,0 1.5,0 1.5,0 1.5,0 1.5,0 1.5,.1 1.5,0 1.5,0 1.5,0 1.5,0 1.5,0 1.5,.1 1.5,0 1.5,0 1.5,0 1.5,0 1.5,0 1.5,.1 1.5,0 1.5,0 1.5,0 1.5,0 1.5,0 1.5,.1 1.5,0 1.5,0 1.5,0 1.5,0 1.5,.1 1.5,0 1.5,0 1.5,0 1.5,0 1.5,0 1.5,.1 1.5,0 1.5,0 1.5,0 1.5,0 1.5,.1 1.5,0 1.5,0 1.5,0 1.5,0 1.5,0 1.5,.1 1.5,0 1.5,0 1.5,0 1.5,0 1.5,.1 1.5,0 1.5,0 1.5,0 1.5,0 1.5,0 1.5,.1 1.5,0 1.5,0 1.5,0 1.5,0 1.5,.1 1.5,0 1.5,0 1.5,0 1.5,0 1.5,0 1.5,.1 1.5,0 1.5,0 1.5,0 1.5,0 1.5,.1 1.5,0 1.5,0 1.5,0 1.5,0 1.5,0 1.5,.1 1.5,0 1.5,0 1.5,0 1.5,0 1.5,0 1.5,.1 1.5,0 1.5,0 1.5,0 1.5,0 1.5,0 1.5,.1 1.5,0 1.5,0 1.5,0 1.5,0 1.5,0 1.5,.1 1.5,0 1.5,0 1.5,0 1.5,0 1.5,0 1.5,0 1.5,.1 1.5,0 1.5,0 1.5,0 1.5,0 1.5,0 1.5,0 1.5,.1 1.5,0 1.5,0 1.5,0 1.5,0 1.5,0 1.5,0 1.5,.1 1.5,0 1.5,0 1.5,0 1.5,0 1.5,0 1.5,0 1.5,0 1.5,.1 1.5,0 1.5,0 1.5,0 1.5,0 1.5,0 1.5,0 1.5,0 1.5,0 1.5,.1 1.5,0 1.5,0 1.5,0 1.5,0 1.5,0 1.5,0 1.5,0 1.5,0 1.5,0 1.5,.1 1.5,0 1.5,0 1.5,0 1.5,0 1.5,0 1.5,0 1.5,0 1.5,0 1.5,0 1.5,.1 1.5,0 1.5,0 1.5,0 1.5,0 1.5,0 1.5,0 1.5,0 1.5,0 1.5,0 1.5,0 1.5,0 1.5,.1 1.5,0 1.5,0 1.5,0 1.5,0 1.5,0 1.5,0 1.5,0 1.5,0 1.5,0 1.5,0 1.5,0 1.5,.1 1.5,0 1.5,0 1.5,0 1.5,0 1.5,0 1.5,0 1.5,0 1.5,0 1.5,0 1.5,0 1.5,0 1.5,.1 1.5,0 1.5,0 1.5,0 1.5,0 1.5,0 1.5,0 1.5,0 1.5,0 1.5,0 1.5,0 1.5,0 1.5,0 1.5,.1 1.5,0 1.5,0 1.5,0 1.5,0 1.5,0 1.5,0 1.5,0 1.5,0 1.5,0 1.5,0 1.5,0 1.5,0 1.5,.1 1.5,0 1.5,0 1.5,0 1.5,0 1.5,0 1.5,0 1.5,0 1.5,0 1.5,0 1.5,0 1.5,0 1.5,0 1.5,0 1.5,.1 1.5,0 1.5,0 1.5,0 1.5,0 1.5,0 1.5,0 1.5,0 1.5,0 1.5,0 1.5,0 1.5,0 1.5,0 1.5,0 1.5,0 1.5,0 1.5,0 1.5,0 1.5,0 1.5,0 1.5,0 1.5,.1 1.5,0 1.5,0 1.5,0 1.5,0 1.5-.1 1.5,0 1.5,0 1.5,0 1.5,0 1.5,0 1.5,0 1.5,0 1.5,0 1.5,0 1.5,0 1.5,0 1.5,0 1.5-.1 1.5,0 1.5,0 1.5,0 1.5,0 1.5-.1 1.5,0 1.5,0 1.5,0 1.5-.1 1.5,0 1.5,0 1.5-.1 1.5,0 1.5,0 1.5-.1 1.5,0 1.5-.1 1.5,0 1.5-.1 1.5,0 1.5-.1 1.5-.1 1.5,0 1.5-.1 1.5-.1 1.5-.1 1.5,0 1.5-.1 1.5-.1 1.5-.1 1.5-.1 1.5-.1 1.5-.1 1.5-.1 1.5-.2 1.5-.1 1.5-.1 1.5-.1 1.5-.2 1.5-.1 1.5-.2 1.5-.1 1.5-.2 1.5-.2 1.5-.2 1.5-.2 1.5-.1 1.5-.2 1.5-.3 1.5-.2 1.5-.2 1.5-.2 1.5-.3 1.5-.2 1.5-.3 1.5-.2 1.5-.3 1.5-.3 1.5-.3 1.5-.3 1.5-.3 1.5-.3 1.5-.4 1.5-.3 1.5-.4 1.5-.3 1.5-.4 1.5-.4 1.5-.4 1.5-.4 1.5-.4 1.5-.4 1.5-.5 1.5-.4 1.5-.5 1.5-.5 1.5-.4 1.5-.5 1.5-.5 1.5-.6 1.5-.5 1.5-.5 1.5-.6 1.5-.5 1.5-.6 1.5-.6 1.5-.6 1.5-.6 1.5-.6 1.5-.7 1.5-.6 1.5-.7 1.5-.6 1.5-.7 1.5-.7 1.5-.7 1.5-.7 1.5-.7 1.5-.7 1.5-.8 1.5-.7 1.5-.7 1.5-.8 1.5-.8 1.5-.7 1.5-.8 1.5-.8 1.5-.8 1.5-.8 1.5-.8 1.5-.8 1.5-.8 1.5-.9 1.5-.8 1.5-.8 1.5-.9 1.5-.8 1.5-.8 1.5-.9 1.5-.8 1.5-.8 1.5-.9 1.5-.8 1.5-.8 1.5-.9 1.5-.8 1.5-.8 1.5-.8 1.5-.8 1.5-.8 1.5-.8 1.5-.8 1.5-.8 1.5-.8 1.5-.8 1.5-.7 1.5-.8 1.5-.7 1.5-.7 1.5-.7 1.5-.7 1.5-.7 1.5-.7 1.5-.6 1.5-.6 1.5-.7 1.5-.6 1.5-.5 1.5-.6 1.5-.5 1.5-.5 1.5-.5 1.5-.5 1.5-.4 1.5-.5 1.5-.4 1.5-.3 1.5-.4 1.5-.3 1.5-.3 1.5-.2 1.5-.2 1.5-.2 1.5-.2 1.5-.1 1.5-.2 1.5,0 1.5-.1 1.5,0 1.5,0 1.5,0 1.5,.1 1.5,.1 1.5,.1 1.5,.2 1.5,.2 1.5,.3 1.5,.3 1.5,.4 1.5,.4 1.5,.4 1.5,.5 1.5,.6 1.5,.6 1.5,.6 1.5,.7 1.5,.7 1.5,.8 1.5,.8 1.5,.8 1.5,.9 1.5,.9 1.5,.9 1.5,1 1.5,.9 1.5,1 1.5,1 1.5,1.1 1.5,1 1.5,1.1 1.5,1.1 1.5,1.1 1.5,1.1 1.5,1.1 1.5,1.1 1.5,1.1 1.5,1.1 1.5,1.2 1.5,1.1 1.5,1.1 1.5,1.1 1.5,1.2 1.5,1.1 1.5,1.1 1.5,1.1 1.5,1.1 1.5,1.1 1.5,1.1 1.5,1.1 1.5,1.1 1.5,1.1 1.5,1.1 1.5,1.1 1.5,1 1.5,1.1 1.5,1.1 1.5,1 1.5,1 1.5,1.1 1.5,1 1.5,1 1.5,1 1.5,1 1.5,.9 1.5,1 1.5,1 1.5,.9 1.5,1 1.5,.9 1.5,.9 1.5,.9 1.5,.9 1.5,.9 1.5,.9 1.5,.9 1.5,.8 1.5,.9 1.5,.9 1.5,.8 1.5,.8 1.5,.8 1.5,.9 1.5,.8 1.5,.8 1.5,.8 1.5,.7 1.5,.8 1.5,.8 1.5,.8 1.5,.7 1.5,.8 1.5,.7 1.5,.8 1.5,.7 1.5,.8 1.5,.8 1.5,.7 1.5,.8 1.5,.8 1.5,.8 1.5,.7 1.5,.8 1.5,.8 1.5,.8 1.5,.7 1.5,.8 1.5,.8 1.5,.7 1.5,.8 1.5,.8 1.5,.7 1.5,.8 1.5,.7 1.5,.8 1.5,.7 1.5,.8 1.5,.7 1.5,.7 1.5,.8 1.5,.7 1.5,.7 1.5,.7 1.5,.7 1.5,.7 1.5,.6 1.5,.7 1.5,.7 1.5,.6 1.5,.6 1.5,.7 1.5,.6 1.5,.6 1.5,.6 1.5,.6 1.5,.5 1.5,.6 1.5,.5 1.5,.6 1.5,.5 1.5,.5 1.5,.5 1.5,.4 1.5,.5 1.5,.4 1.5,.4 1.5,.4 1.5,.4 1.5,.4 1.5,.4 1.5,.4 1.5,.4 1.5,.4 1.5,.4 1.5,.4 1.5,.3 1.5,.4 1.5,.4 1.5,.4 1.5,.3 1.5,.4 1.5,.4 1.5,.3 1.5,.4 1.5,.3 1.5,.4 1.5,.3 1.5,.4 1.5,.3 1.5,.3 1.5,.4 1.5,.3 1.5,.3 1.5,.3 1.5,.3 1.5,.3 1.5,.3 1.5,.3 1.5,.3 1.5,.3 1.5,.2 1.5,.3 1.5,.3 1.5,.2 1.5,.3 1.5,.2 1.5,.2 1.5,.3 1.5,.2 1.5,.2 1.5,.2 1.5,.2 1.5,.2 1.5,.2 1.5,.1 1.5,.2 1.5,.1 1.5,.2 1.5,.1 1.5,.2 1.5,.1 1.5,.1 1.5,.1 1.5,.1 1.5,.1 1.5,0 1.5,.1 1.5,.1 1.5,.1 1.5,.1 1.5,0 1.5,.1 1.5,.1 1.5,.1 1.5,0 1.5,.1 1.5,.1 1.5,0 1.5,.1 1.5,.1 1.5,.1 1.5,0 1.5,.1 1.5,0 1.5,.1 1.5,.1 1.5,0 1.5,.1 1.5,0 1.5,.1 1.5,.1 1.5,0 1.5,.1 1.5,0 1.5,.1 1.5,0 1.5,.1 1.5,0 1.5,.1 1.5,0 1.5,.1 1.5,0 1.5,.1 1.5,0 1.5,.1 1.5,0 1.5,0 1.5,.1 1.5,0 1.5,.1 1.5,0 1.5,.1 1.5,0 1.5,0 1.5,.1 1.5,0 1.5,0 1.5,.1 1.5,0 1.5,.1 1.5,0 1.5,0 1.5,.1 1.5,0 1.5,0 1.5,.1 1.5,0 1.5,0 1.5,.1 1.5,0 1.5,0 1.5,0 1.5,.1 1.5,0 1.5,0 1.5,.1 1.5,0 1.5,0 1.5,0 1.5,.1 1.5,0 1.5,0 1.5,0 1.5,.1 1.5,0 1.5,0 1.5,0 1.5,.1 1.5,0 1.5,0 1.5,0 1.5,0 1.5,.1 1.5,0 1.5,0 1.5,0 1.5,.1 1.5,0 1.5,0 1.5,0 1.5,.1 1.5,0 1.5,0 1.5,0 1.5,0 1.5,.1 1.5,0 1.5,0 1.5,0 1.5,0 1.5,.1 1.5,0 1.5,0 1.5,0 1.5,0 1.5,0 1.5,.1 1.5,0 1.5,0 1.5,0 1.5,0 1.5,.1 1.5,0 1.5,0 1.5,0 1.5,0 1.5,0 1.5,.1 1.5,0 1.5,0 1.5,0 1.5,0 1.5,0 1.5,.1 1.5,0 1.5,0 1.5,0 1.5,0 1.5,0 1.5,.1 1.5,0 1.5,0 1.5,0 1.5,0 1.5,0 1.5,0 1.5,.1 1.5,0 1.5,0 1.5,0 1.5,0 1.5,0 1.5,0 1.5,0 1.5,.1 1.5,0 1.5,0 1.5,0 1.5,0 1.5,0 1.5,0 1.5,0 1.5,.1 1.5,0 1.5,0 1.5,0 1.5,0 1.5,0 1.5,0 1.5,0 1.5,0 1.5,.1 1.5,0 1.5,0 1.5,0 1.5,0 1.5,0 1.5,0 1.5,0 1.5,0 1.5,0 1.5,0 1.5,.1 1.5,0 1.5,0 1.5,0 1.5,0 1.5,0 1.5,0 1.5,0 1.5,0 1.5,0 1.5,0 1.5,0 1.5,.1 1.5,0 1.5,0 1.5,0 1.5,0" fill="none" stroke="#0000ff" stroke-width="3.0" stroke-linejoin="round" stroke-linecap="round" />
<path d="M136,366.5l1.5,0 1.5,0 1.5,0 1.5,.1 1.5,0 1.5,0 1.5,0 1.5,0 1.5,0 1.5,0 1.5,.1 1.5,0 1.5,0 1.5,0 1.5,0 1.5,0 1.5,0 1.5,.1 1.5,0 1.5,0 1.5,0 1.5,0 1.5,0 1.5,0 1.5,.1 1.5,0 1.5,0 1.5,0 1.5,0 1.5,0 1.5,.1 1.5,0 1.5,0 1.5,0 1.5,0 1.5,0 1.5,0 1.5,.1 1.5,0 1.5,0 1.5,0 1.5,0 1.5,0 1.5,0 1.5,.1 1.5,0 1.5,0 1.5,0 1.5,0 1.5,0 1.5,.1 1.5,0 1.5,0 1.5,0 1.5,0 1.5,0 1.5,0 1.5,.1 1.5,0 1.5,0 1.5,0 1.5,0 1.5,0 1.5,.1 1.5,0 1.5,0 1.5,0 1.5,0 1.5,0 1.5,0 1.5,.1 1.5,0 1.5,0 1.5,0 1.5,0 1.5,0 1.5,.1 1.5,0 1.5,0 1.5,0 1.5,0 1.5,0 1.5,.1 1.5,0 1.5,0 1.5,0 1.5,0 1.5,0 1.5,0 1.5,.1 1.5,0 1.5,0 1.5,0 1.5,0 1.5,0 1.5,.1 1.5,0 1.5,0 1.5,0 1.5,0 1.5,0 1.5,.1 1.5,0 1.5,0 1.5,0 1.5,0 1.5,0 1.5,.1 1.5,0 1.5,0 1.5,0 1.5,0 1.5,0 1.5,0 1.5,.1 1.5,0 1.5,0 1.5,0 1.5,0 1.5,0 1.5,.1 1.5,0 1.5,0 1.5,0 1.5,0 1.5,0 1.5,.1 1.5,0 1.5,0 1.5,0 1.5,0 1.5,0 1.5,.1 1.5,0 1.5,0 1.5,0 1.5,0 1.5,0 1.5,.1 1.5,0 1.5,0 1.5,0 1.5,0 1.5,.1 1.5,0 1.5,0 1.5,0 1.5,0 1.5,0 1.5,.1 1.5,0 1.5,0 1.5,0 1.5,0 1.5,.1 1.5,0 1.5,0 1.5,0 1.5,0 1.5,0 1.5,.1 1.5,0 1.5,0 1.5,0 1.5,0 1.5,.1 1.5,0 1.5,0 1.5,0 1.5,0 1.5,.1 1.5,0 1.5,0 1.5,0 1.5,0 1.5,0 1.5,.1 1.5,0 1.5,0 1.5,0 1.5,0 1.5,.1 1.5,0 1.5,0 1.5,0 1.5,0 1.5,.1 1.5,0 1.5,0 1.5,0 1.5,0 1.5,.1 1.5,0 1.5,0 1.5,0 1.5,0 1.5,0 1.5,.1 1.5,0 1.5,0 1.5,0 1.5,0 1.5,.1 1.5,0 1.5,0 1.5,0 1.5,0 1.5,0 1.5,.1 1.5,0 1.5,0 1.5,0 1.5,0 1.5,0 1.5,.1 1.5,0 1.5,0 1.5,0 1.5,0 1.5,.1 1.5,0 1.5,0 1.5,0 1.5,0 1.5,0 1.5,0 1.5,.1 1.5,0 1.5,0 1.5,0 1.5,0 1.5,0 1.5,.1 1.5,0 1.5,0 1.5,0 1.5,0 1.5,0 1.5,0 1.5,.1 1.5,0 1.5,0 1.5,0 1.5,0 1.5,0 1.5,0 1.5,.1 1.5,0 1.5,0 1.5,0 1.5,0 1.5,0 1.5,0 1.5,0 1.5,.1 1.5,0 1.5,0 1.5,0 1.5,0 1.5,0 1.5,0 1.5,0 1.5,.1 1.5,0 1.5,0 1.5,0 1.5,0 1.5,0 1.5,0 1.5,0 1.5,0 1.5,.1 1.5,0 1.5,0 1.5,0 1.5,0 1.5,0 1.5,0 1.5,0 1.5,0 1.5,.1 1.5,0 1.5,0 1.5,0 1.5,0 1.5,0 1.5,0 1.5,0 1.5,0 1.5,0 1.5,.1 1.5,0 1.5,0 1.5,0 1.5,0 1.5,0 1.5,0 1.5,0 1.5,0 1.5,0 1.5,.1 1.5,0 1.5,0 1.5,0 1.5,0 1.5,0 1.5,0 1.5,0 1.5,0 1.5,0 1.5,.1 1.5,0 1.5,0 1.5,0 1.5,0 1.5,0 1.5,0 1.5,0 1.5,0 1.5,0 1.5,.1 1.5,0 1.5,0 1.5,0 1.5,0 1.5,0 1.5,0 1.5,0 1.5,0 1.5,0 1.5,.1 1.5,0 1.5,0 1.5,0 1.5,0 1.5,0 1.5,0 1.5,0 1.5,0 1.5,.1 1.5,0 1.5,0 1.5,0 1.5,0 1.5,0 1.5,0 1.5,0 1.5,0 1.5,.1 1.5,0 1.5,0 1.5,0 1.5,0 1.5,0 1.5,0 1.5,0 1.5,0 1.5,.1 1.5,0 1.5,0 1.5,0 1.5,0 1.5,0 1.5,0 1.5,0 1.5,.1 1.5,0 1.5,0 1.5,0 1.5,0 1.5,0 1.5,0 1.5,.1 1.5,0 1.5,0 1.5,0 1.5,0 1.5,0 1.5,0 1.5,.1 1.5,0 1.5,0 1.5,0 1.5,0 1.5,0 1.5,0 1.5,.1 1.5,0 1.5,0 1.5,0 1.5,0 1.5,0 1.5,0 1.5,.1 1.5,0 1.5,0 1.5,0 1.5,0 1.5,0 1.5,.1 1.5,0 1.5,0 1.5,0 1.5,0 1.5,0 1.5,.1 1.5,0 1.5,0 1.5,0 1.5,0 1.5,0 1.5,.1 1.5,0 1.5,0 1.5,0 1.5,0 1.5,0 1.5,.1 1.5,0 1.5,0 1.5,0 1.5,0 1.5,0 1.5,.1 1.5,0 1.5,0 1.5,0 1.5,0 1.5,.1 1.5,0 1.5,0 1.5,0 1.5,0 1.5,.1 1.5,0 1.5,0 1.5,0 1.5,.1 1.5,0 1.5,0 1.5,0 1.5,0 1.5,.1 1.5,0 1.5,0 1.5,0 1.5,.1 1.5,0 1.5,0 1.5,0 1.5,.1 1.5,0 1.5,0 1.5,0 1.5,.1 1.5,0 1.5,0 1.5,.1 1.5,0 1.5,0 1.5,0 1.5,.1 1.5,0 1.5,0 1.5,.1 1.5,0 1.5,0 1.5,0 1.5,.1 1.5,0 1.5,0 1.5,.1 1.5,0 1.5,0 1.5,.1 1.5,0 1.5,0 1.5,.1 1.5,0 1.5,0 1.5,.1 1.5,0 1.5,.1 1.5,0 1.5,0 1.5,.1 1.5,0 1.5,0 1.5,.1 1.5,0 1.5,0 1.5,.1 1.5,0 1.5,0 1.5,.1 1.5,0 1.5,0 1.5,0 1.5,.1 1.5,0 1.5,0 1.5,.1 1.5,0 1.5,0 1.5,0 1.5,0 1.5,0 1.5,.1 1.5,0 1.5,0 1.5,0 1.5,0 1.5,0 1.5,0 1.5-.1 1.5,0 1.5,0 1.5,0 1.5-.1 1.5,0 1.5-.1 1.5,0 1.5-.1 1.5,0 1.5-.1 1.5-.1 1.5-.1 1.5-.1 1.5-.1 1.5-.2 1.5-.1 1.5-.2 1.5-.1 1.5-.2 1.5-.2 1.5-.2 1.5-.2 1.5-.3 1.5-.2 1.5-.3 1.5-.3 1.5-.3 1.5-.3 1.5-.4 1.5-.4 1.5-.4 1.5-.4 1.5-.4 1.5-.5 1.5-.5 1.5-.5 1.5-.5 1.5-.6 1.5-.6 1.5-.6 1.5-.7 1.5-.7 1.5-.7 1.5-.7 1.5-.8 1.5-.8 1.5-.9 1.5-.9 1.5-.9 1.5-1 1.5-1 1.5-1 1.5-1.1 1.5-1.1 1.5-1.2 1.5-1.2 1.5-1.3 1.5-1.3 1.5-1.3 1.5-1.4 1.5-1.4 1.5-1.5 1.5-1.5 1.5-1.5 1.5-1.6 1.5-1.6 1.5-1.7 1.5-1.8 1.5-1.7 1.5-1.8 1.5-1.9 1.5-1.8 1.5-2 1.5-1.9 1.5-2 1.5-2.1 1.5-2 1.5-2.1 1.5-2.2 1.5-2.1 1.5-2.2 1.5-2.2 1.5-2.2 1.5-2.3 1.5-2.3 1.5-2.2 1.5-2.3 1.5-2.4 1.5-2.3 1.5-2.3 1.5-2.3 1.5-2.4 1.5-2.3 1.5-2.3 1.5-2.3 1.5-2.3 1.5-2.3 1.5-2.3 1.5-2.2 1.5-2.2 1.5-2.2 1.5-2.2 1.5-2.1 1.5-2 1.5-2 1.5-2 1.5-1.9 1.5-1.9 1.5-1.8 1.5-1.8 1.5-1.7 1.5-1.6 1.5-1.5 1.5-1.5 1.5-1.4 1.5-1.3 1.5-1.3 1.5-1.1 1.5-1.1 1.5-1 1.5-.9 1.5-.8 1.5-.7 1.5-.6 1.5-.5 1.5-.4 1.5-.3 1.5-.2 1.5-.1 1.5,0 1.5,.1 1.5,.2 1.5,.3 1.5,.4 1.5,.5 1.5,.6 1.5,.7 1.5,.9 1.5,.9 1.5,1.1 1.5,1.1 1.5,1.3 1.5,1.3 1.5,1.5 1.5,1.5 1.5,1.7 1.5,1.8 1.5,1.8 1.5,2 1.5,2 1.5,2.2 1.5,2.2 1.5,2.3 1.5,2.3 1.5,2.5 1.5,2.5 1.5,2.6 1.5,2.6 1.5,2.7 1.5,2.7 1.5,2.8 1.5,2.8 1.5,2.9 1.5,2.9 1.5,3 1.5,2.9 1.5,3 1.5,3 1.5,3.1 1.5,3 1.5,3.1 1.5,3 1.5,3.1 1.5,3 1.5,3.1 1.5,3 1.5,3 1.5,3 1.5,3 1.5,3 1.5,2.9 1.5,2.9 1.5,2.9 1.5,2.8 1.5,2.8 1.5,2.8 1.5,2.7 1.5,2.7 1.5,2.6 1.5,2.6 1.5,2.5 1.5,2.5 1.5,2.4 1.5,2.4 1.5,2.3 1.5,2.3 1.5,2.2 1.5,2.1 1.5,2.1 1.5,2.1 1.5,2 1.5,2 1.5,1.9 1.5,1.9 1.5,1.8 1.5,1.8 1.5,1.7 1.5,1.7 1.5,1.7 1.5,1.6 1.5,1.5 1.5,1.5 1.5,1.5 1.5,1.4 1.5,1.4 1.5,1.3 1.5,1.3 1.5,1.2 1.5,1.2 1.5,1.2 1.5,1.1 1.5,1.1 1.5,1 1.5,1 1.5,1 1.5,.9 1.5,.9 1.5,.9 1.5,.8 1.5,.8 1.5,.7 1.5,.7 1.5,.7 1.5,.7 1.5,.6 1.5,.6 1.5,.6 1.5,.6 1.5,.5 1.5,.5 1.5,.5 1.5,.4 1.5,.4 1.5,.4 1.5,.4 1.5,.4 1.5,.3 1.5,.3 1.5,.3 1.5,.3 1.5,.2 1.5,.3 1.5,.2 1.5,.2 1.5,.1 1.5,.2 1.5,.2 1.5,.1 1.5,.1 1.5,.2 1.5,.1 1.5,.1 1.5,.1 1.5,.1 1.5,.2 1.5,0 1.5,.1 1.5,.1 1.5,.1 1.5,.1 1.5,.1 1.5,0 1.5,.1 1.5,.1 1.5,0 1.5,.1 1.5,0 1.5,.1 1.5,0 1.5,.1 1.5,0 1.5,.1 1.5,0 1.5,0 1.5,.1 1.5,0 1.5,0 1.5,.1 1.5,0 1.5,0 1.5,.1 1.5,0 1.5,0 1.5,0 1.5,.1 1.5,0 1.5,0 1.5,0 1.5,0 1.5,.1 1.5,0 1.5,0 1.5,0 1.5,0 1.5,0 1.5,.1 1.5,0 1.5,0 1.5,0 1.5,0 1.5,0 1.5,0 1.5,.1 1.5,0 1.5,0 1.5,0 1.5,0 1.5,0 1.5,0 1.5,0 1.5,0 1.5,.1 1.5,0 1.5,0 1.5,0 1.5,0 1.5,0 1.5,0 1.5,0 1.5,0 1.5,0 1.5,0 1.5,0 1.5,0 1.5,.1 1.5,0 1.5,0 1.5,0 1.5,0 1.5,0 1.5,0 1.5,0 1.5,0 1.5,0 1.5,0 1.5,0 1.5,0 1.5,0 1.5,0 1.5,.1 1.5,0 1.5,0 1.5,0 1.5,0 1.5,0 1.5,0 1.5,0 1.5,0 1.5,0 1.5,0 1.5,0 1.5,0 1.5,0 1.5,0 1.5,0 1.5,0 1.5,.1 1.5,0 1.5,0 1.5,0 1.5,0 1.5,0 1.5,0 1.5,0 1.5,0 1.5,0 1.5,0 1.5,0 1.5,0 1.5,0 1.5,0 1.5,0 1.5,0 1.5,0 1.5,0 1.5,0 1.5,.1 1.5,0 1.5,0 1.5,0 1.5,0 1.5,0 1.5,0 1.5,0 1.5,0 1.5,0 1.5,0 1.5,0 1.5,0 1.5,0 1.5,0 1.5,0 1.5,0 1.5,0 1.5,0 1.5,0 1.5,0 1.5,0 1.5,0 1.5,0 1.5,0 1.5,0 1.5,0 1.5,.1 1.5,0 1.5,0 1.5,0 1.5,0 1.5,0 1.5,0 1.5,0 1.5,0 1.5,0 1.5,0 1.5,0 1.5,0 1.5,0 1.5,0 1.5,0 1.5,0 1.5,0 1.5,0 1.5,0 1.5,0 1.5,0 1.5,0 1.5,0 1.5,0 1.5,0 1.5,0 1.5,0 1.5,0 1.5,0 1.5,0 1.5,0 1.5,0 1.5,0 1.5,0 1.5,0" fill="none" stroke="#0000ff" stroke-width="3.0" stroke-linejoin="round" stroke-linecap="round" />
<path d="M136,366.2l1.5,0 1.5,0 1.5,0 1.5,0 1.5,0 1.5,.1 1.5,0 1.5,0 1.5,0 1.5,0 1.5,0 1.5,0 1.5,.1 1.5,0 1.5,0 1.5,0 1.5,0 1.5,0 1.5,0 1.5,.1 1.5,0 1.5,0 1.5,0 1.5,0 1.5,0 1.5,0 1.5,0 1.5,.1 1.5,0 1.5,0 1.5,0 1.5,0 1.5,0 1.5,0 1.5,.1 1.5,0 1.5,0 1.5,0 1.5,0 1.5,0 1.5,0 1.5,.1 1.5,0 1.5,0 1.5,0 1.5,0 1.5,0 1.5,0 1.5,.1 1.5,0 1.5,0 1.5,0 1.5,0 1.5,0 1.5,0 1.5,.1 1.5,0 1.5,0 1.5,0 1.5,0 1.5,0 1.5,0 1.5,.1 1.5,0 1.5,0 1.5,0 1.5,0 1.5,0 1.5,0 1.5,.1 1.5,0 1.5,0 1.5,0 1.5,0 1.5,0 1.5,0 1.5,.1 1.5,0 1.5,0 1.5,0 1.5,0 1.5,0 1.5,0 1.5,.1 1.5,0 1.5,0 1.5,0 1.5,0 1.5,0 1.5,0 1.5,.1 1.5,0 1.5,0 1.5,0 1.5,0 1.5,0 1.5,0 1.5,.1 1.5,0 1.5,0 1.5,0 1.5,0 1.5,0 1.5,.1 1.5,0 1.5,0 1.5,0 1.5,0 1.5,0 1.5,0 1.5,.1 1.5,0 1.5,0 1.5,0 1.5,0 1.5,0 1.5,0 1.5,.1 1.5,0 1.5,0 1.5,0 1.5,0 1.5,0 1.5,0 1.5,.1 1.5,0 1.5,0 1.5,0 1.5,0 1.5,0 1.5,.1 1.5,0 1.5,0 1.5,0 1.5,0 1.5,0 1.5,0 1.5,.1 1.5,0 1.5,0 1.5,0 1.5,0 1.5,0 1.5,.1 1.5,0 1.5,0 1.5,0 1.5,0 1.5,0 1.5,.1 1.5,0 1.5,0 1.5,0 1.5,0 1.5,0 1.5,.1 1.5,0 1.5,0 1.5,0 1.5,0 1.5,0 1.5,.1 1.5,0 1.5,0 1.5,0 1.5,0 1.5,0 1.5,.1 1.5,0 1.5,0 1.5,0 1.5,0 1.5,0 1.5,.1 1.5,0 1.5,0 1.5,0 1.5,0 1.5,0 1.5,.1 1.5,0 1.5,0 1.5,0 1.5,0 1.5,0 1.5,.1 1.5,0 1.5,0 1.5,0 1.5,0 1.5,0 1.5,.1 1.5,0 1.5,0 1.5,0 1.5,0 1.5,0 1.5,.1 1.5,0 1.5,0 1.5,0 1.5,0 1.5,0 1.5,0 1.5,.1 1.5,0 1.5,0 1.5,0 1.5,0 1.5,0 1.5,.1 1.5,0 1.5,0 1.5,0 1.5,0 1.5,0 1.5,0 1.5,.1 1.5,0 1.5,0 1.5,0 1.5,0 1.5,0 1.5,0 1.5,.1 1.5,0 1.5,0 1.5,0 1.5,0 1.5,0 1.5,0 1.5,0 1.5,.1 1.5,0 1.5,0 1.5,0 1.5,0 1.5,0 1.5,0 1.5,0 1.5,.1 1.5,0 1.5,0 1.5,0 1.5,0 1.5,0 1.5,0 1.5,0 1.5,0 1.5,0 1.5,.1 1.5,0 1.5,0 1.5,0 1.5,0 1.5,0 1.5,0 1.5,0 1.5,0 1.5,0 1.5,0 1.5,.1 1.5,0 1.5,0 1.5,0 1.5,0 1.5,0 1.5,0 1.5,0 1.5,0 1.5,0 1.5,0 1.5,0 1.5,0 1.5,.1 1.5,0 1.5,0 1.5,0 1.5,0 1.5,0 1.5,0 1.5,0 1.5,0 1.5,0 1.5,0 1.5,0 1.5,0 1.5,0 1.5,0 1.5,0 1.5,.1 1.5,0 1.5,0 1.5,0 1.5,0 1.5,0 1.5,0 1.5,0 1.5,0 1.5,0 1.5,0 1.5,0 1.5,0 1.5,0 1.5,0 1.5,0 1.5,0 1.5,0 1.5,.1 1.5,0 1.5,0 1.5,0 1.5,0 1.5,0 1.5,0 1.5,0 1.5,0 1.5,0 1.5,0 1.5,0 1.5,0 1.5,0 1.5,0 1.5,0 1.5,0 1.5,0 1.5,0 1.5,0 1.5,0 1.5,.1 1.5,0 1.5,0 1.5,0 1.5,0 1.5,0 1.5,0 1.5,0 1.5,0 1.5,0 1.5,0 1.5,0 1.5,0 1.5,0 1.5,0 1.5,0 1.5,0 1.5,0 1.5,0 1.5,0 1.5,0 1.5,.1 1.5,0 1.5,0 1.5,0 1.5,0 1.5,0 1.5,0 1.5,0 1.5,0 1.5,0 1.5,0 1.5,0 1.5,0 1.5,0 1.5,0 1.5,0 1.5,0 1.5,0 1.5,0 1.5,.1 1.5,0 1.5,0 1.5,0 1.5,0 1.5,0 1.5,0 1.5,0 1.5,0 1.5,0 1.5,0 1.5,0 1.5,0 1.5,0 1.5,0 1.5,0 1.5,0 1.5,.1 1.5,0 1.5,0 1.5,0 1.5,0 1.5,0 1.5,0 1.5,0 1.5,0 1.5,0 1.5,0 1.5,0 1.5,0 1.5,0 1.5,0 1.5,0 1.5,0 1.5,0 1.5,.1 1.5,0 1.5,0 1.5,0 1.5,0 1.5,0 1.5,0 1.5,0 1.5,0 1.5,0 1.5,0 1.5,0 1.5,0 1.5,0 1.5,0 1.5,0 1.5,0 1.5,.1 1.5,0 1.5,0 1.5,0 1.5,0 1.5,0 1.5,0 1.5,0 1.5,0 1.5,0 1.5,0 1.5,0 1.5,0 1.5,0 1.5,0 1.5,.1 1.5,0 1.5,0 1.5,0 1.5,0 1.5,0 1.5,0 1.5,0 1.5,0 1.5,0 1.5,0 1.5,0 1.5,0 1.5,.1 1.5,0 1.5,0 1.5,0 1.5,0 1.5,0 1.5,0 1.5,0 1.5,0 1.5,0 1.5,0 1.5,.1 1.5,0 1.5,0 1.5,0 1.5,0 1.5,0 1.5,0 1.5,0 1.5,0 1.5,.1 1.5,0 1.5,0 1.5,0 1.5,0 1.5,0 1.5,0 1.5,.1 1.5,0 1.5,0 1.5,0 1.5,0 1.5,0 1.5,0 1.5,.1 1.5,0 1.5,0 1.5,0 1.5,0 1.5,0 1.5,.1 1.5,0 1.5,0 1.5,0 1.5,0 1.5,0 1.5,.1 1.5,0 1.5,0 1.5,0 1.5,0 1.5,.1 1.5,0 1.5,0 1.5,0 1.5,0 1.5,.1 1.5,0 1.5,0 1.5,0 1.5,0 1.5,.1 1.5,0 1.5,0 1.5,0 1.5,0 1.5,.1 1.5,0 1.5,0 1.5,0 1.5,.1 1.5,0 1.5,0 1.5,0 1.5,0 1.5,.1 1.5,0 1.5,0 1.5,0 1.5,0 1.5,.1 1.5,0 1.5,0 1.5,0 1.5,.1 1.5,0 1.5,0 1.5,0 1.5,0 1.5,.1 1.5,0 1.5,0 1.5,0 1.5,0 1.5,.1 1.5,0 1.5,0 1.5,0 1.5,0 1.5,.1 1.5,0 1.5,0 1.5,.1 1.5,0 1.5,0 1.5,.1 1.5,0 1.5,.1 1.5,0 1.5,0 1.5,.1 1.5,0 1.5,.1 1.5,0 1.5,.1 1.5,0 1.5,.1 1.5,0 1.5,.1 1.5,0 1.5,.1 1.5,0 1.5,.1 1.5,0 1.5,0 1.5,.1 1.5,0 1.5,.1 1.5,0 1.5,0 1.5,.1 1.5,0 1.5,0 1.5,.1 1.5,0 1.5,0 1.5,0 1.5,0 1.5,0 1.5,0 1.5,0 1.5,0 1.5,0 1.5,0 1.5-.1 1.5,0 1.5,0 1.5-.1 1.5-.1 1.5,0 1.5-.1 1.5-.1 1.5-.2 1.5-.1 1.5-.1 1.5-.2 1.5-.2 1.5-.1 1.5-.3 1.5-.2 1.5-.2 1.5-.3 1.5-.3 1.5-.3 1.5-.3 1.5-.4 1.5-.3 1.5-.5 1.5-.4 1.5-.4 1.5-.5 1.5-.5 1.5-.6 1.5-.6 1.5-.6 1.5-.7 1.5-.7 1.5-.7 1.5-.8 1.5-.8 1.5-.9 1.5-.9 1.5-1 1.5-1 1.5-1.1 1.5-1.1 1.5-1.2 1.5-1.2 1.5-1.3 1.5-1.4 1.5-1.4 1.5-1.5 1.5-1.5 1.5-1.6 1.5-1.7 1.5-1.8 1.5-1.8 1.5-1.9 1.5-1.9 1.5-2 1.5-2.2 1.5-2.1 1.5-2.3 1.5-2.3 1.5-2.4 1.5-2.5 1.5-2.5 1.5-2.6 1.5-2.7 1.5-2.8 1.5-2.8 1.5-2.8 1.5-3 1.5-3 1.5-3 1.5-3.1 1.5-3.2 1.5-3.2 1.5-3.3 1.5-3.3 1.5-3.4 1.5-3.4 1.5-3.5 1.5-3.5 1.5-3.5 1.5-3.6 1.5-3.6 1.5-3.6 1.5-3.7 1.5-3.6 1.5-3.7 1.5-3.7 1.5-3.6 1.5-3.7 1.5-3.7 1.5-3.6 1.5-3.6 1.5-3.6 1.5-3.5 1.5-3.5 1.5-3.4 1.5-3.3 1.5-3.3 1.5-3.2 1.5-3.1 1.5-3.1 1.5-2.9 1.5-2.7 1.5-2.7 1.5-2.5 1.5-2.4 1.5-2.2 1.5-2.1 1.5-1.9 1.5-1.7 1.5-1.6 1.5-1.3 1.5-1.2 1.5-.9 1.5-.8 1.5-.5 1.5-.3 1.5-.2 1.5,.2 1.5,.3 1.5,.6 1.5,.9 1.5,1 1.5,1.3 1.5,1.6 1.5,1.7 1.5,2 1.5,2.2 1.5,2.3 1.5,2.6 1.5,2.8 1.5,2.9 1.5,3.1 1.5,3.3 1.5,3.4 1.5,3.5 1.5,3.7 1.5,3.8 1.5,3.8 1.5,4 1.5,4.1 1.5,4.1 1.5,4.2 1.5,4.3 1.5,4.3 1.5,4.3 1.5,4.4 1.5,4.4 1.5,4.5 1.5,4.4 1.5,4.4 1.5,4.4 1.5,4.4 1.5,4.4 1.5,4.4 1.5,4.3 1.5,4.3 1.5,4.2 1.5,4.3 1.5,4.1 1.5,4.1 1.5,4.1 1.5,3.9 1.5,4 1.5,3.8 1.5,3.8 1.5,3.7 1.5,3.6 1.5,3.6 1.5,3.4 1.5,3.4 1.5,3.3 1.5,3.2 1.5,3.2 1.5,3 1.5,3 1.5,2.9 1.5,2.8 1.5,2.7 1.5,2.7 1.5,2.5 1.5,2.5 1.5,2.4 1.5,2.4 1.5,2.2 1.5,2.2 1.5,2.1 1.5,2.1 1.5,1.9 1.5,1.9 1.5,1.8 1.5,1.8 1.5,1.7 1.5,1.6 1.5,1.6 1.5,1.5 1.5,1.4 1.5,1.4 1.5,1.4 1.5,1.2 1.5,1.3 1.5,1.1 1.5,1.1 1.5,1.1 1.5,1 1.5,1 1.5,1 1.5,.9 1.5,.8 1.5,.8 1.5,.8 1.5,.8 1.5,.7 1.5,.7 1.5,.6 1.5,.6 1.5,.6 1.5,.6 1.5,.5 1.5,.6 1.5,.5 1.5,.4 1.5,.5 1.5,.4 1.5,.4 1.5,.4 1.5,.4 1.5,.3 1.5,.4 1.5,.3 1.5,.3 1.5,.3 1.5,.3 1.5,.3 1.5,.3 1.5,.2 1.5,.3 1.5,.2 1.5,.2 1.5,.3 1.5,.2 1.5,.2 1.5,.2 1.5,.2 1.5,.1 1.5,.2 1.5,.2 1.5,.2 1.5,.1 1.5,.2 1.5,.1 1.5,.2 1.5,.1 1.5,.2 1.5,.1 1.5,.1 1.5,.2 1.5,.1 1.5,.1 1.5,.1 1.5,.1 1.5,.1 1.5,.2 1.5,.1 1.5,.1 1.5,.1 1.5,.1 1.5,.1 1.5,.1 1.5,.1 1.5,.1 1.5,.1 1.5,0 1.5,.1 1.5,.1 1.5,.1 1.5,.1 1.5,.1 1.5,.1 1.5,0 1.5,.1 1.5,.1 1.5,.1 1.5,0 1.5,.1 1.5,.1 1.5,.1 1.5,0 1.5,.1 1.5,.1 1.5,0 1.5,.1 1.5,.1 1.5,0 1.5,.1 1.5,0 1.5,.1 1.5,.1 1.5,0 1.5,.1 1.5,0 1.5,.1 1.5,0 1.5,.1 1.5,0 1.5,.1 1.5,0 1.5,.1 1.5,0 1.5,.1 1.5,0 1.5,.1 1.5,0 1.5,.1 1.5,0 1.5,.1 1.5,0 1.5,.1 1.5,0 1.5,.1 1.5,0 1.5,0 1.5,.1 1.5,0 1.5,.1 1.5,0 1.5,0 1.5,.1 1.5,0 1.5,0 1.5,.1 1.5,0 1.5,.1 1.5,0 1.5,0 1.5,.1 1.5,0 1.5,0 1.5,.1 1.5,0 1.5,0 1.5,.1 1.5,0 1.5,0 1.5,0 1.5,.1 1.5,0 1.5,0 1.5,.1 1.5,0 1.5,0 1.5,0 1.5,.1 1.5,0 1.5,0 1.5,0 1.5,.1 1.5,0 1.5,0 1.5,0 1.5,.1 1.5,0 1.5,0 1.5,0 1.5,.1 1.5,0 1.5,0 1.5,0 1.5,0 1.5,.1" fill="none" stroke="#0000ff" stroke-width="3.0" stroke-linejoin="round" stroke-linecap="round" />
<path d="M136,362l1.5,0 1.5,0 1.5-.1 1.5,0 1.5,0 1.5,0 1.5-.1 1.5,0 1.5,0 1.5,0 1.5,0 1.5-.1 1.5,0 1.5,0 1.5,0 1.5,0 1.5-.1 1.5,0 1.5,0 1.5,0 1.5,0 1.5-.1 1.5,0 1.5,0 1.5,0 1.5,0 1.5-.1 1.5,0 1.5,0 1.5,0 1.5,0 1.5-.1 1.5,0 1.5,0 1.5,0 1.5,0 1.5-.1 1.5,0 1.5,0 1.5,0 1.5,0 1.5,0 1.5-.1 1.5,0 1.5,0 1.5,0 1.5,0 1.5-.1 1.5,0 1.5,0 1.5,0 1.5,0 1.5,0 1.5-.1 1.5,0 1.5,0 1.5,0 1.5,0 1.5-.1 1.5,0 1.5,0 1.5,0 1.5,0 1.5,0 1.5-.1 1.5,0 1.5,0 1.5,0 1.5,0 1.5,0 1.5-.1 1.5,0 1.5,0 1.5,0 1.5,0 1.5,0 1.5,0 1.5-.1 1.5,0 1.5,0 1.5,0 1.5,0 1.5,0 1.5-.1 1.5,0 1.5,0 1.5,0 1.5,0 1.5,0 1.5,0 1.5-.1 1.5,0 1.5,0 1.5,0 1.5,0 1.5,0 1.5,0 1.5-.1 1.5,0 1.5,0 1.5,0 1.5,0 1.5,0 1.5,0 1.5-.1 1.5,0 1.5,0 1.5,0 1.5,0 1.5,0 1.5,0 1.5,0 1.5-.1 1.5,0 1.5,0 1.5,0 1.5,0 1.5,0 1.5,0 1.5,0 1.5-.1 1.5,0 1.5,0 1.5,0 1.5,0 1.5,0 1.5,0 1.5,0 1.5,0 1.5-.1 1.5,0 1.5,0 1.5,0 1.5,0 1.5,0 1.5,0 1.5,0 1.5,0 1.5-.1 1.5,0 1.5,0 1.5,0 1.5,0 1.5,0 1.5,0 1.5,0 1.5,0 1.5,0 1.5,0 1.5,0 1.5-.1 1.5,0 1.5,0 1.5,0 1.5,0 1.5,0 1.5,0 1.5,0 1.5,0 1.5,0 1.5,0 1.5,0 1.5,0 1.5,0 1.5,0 1.5,0 1.5-.1 1.5,0 1.5,0 1.5,0 1.5,0 1.5,0 1.5,0 1.5,0 1.5,0 1.5,0 1.5,0 1.5,0 1.5,0 1.5,0 1.5,0 1.5,0 1.5,0 1.5,0 1.5,0 1.5,0 1.5,0 1.5-.1 1.5,0 1.5,0 1.5,0 1.5,0 1.5,0 1.5,0 1.5,0 1.5,0 1.5,0 1.5,0 1.5,0 1.5,0 1.5,0 1.5,0 1.5,0 1.5,0 1.5,0 1.5,0 1.5,0 1.5,0 1.5,0 1.5,0 1.5,0 1.5,0 1.5-.1 1.5,0 1.5,0 1.5,0 1.5,0 1.5,0 1.5,0 1.5,0 1.5,0 1.5,0 1.5,0 1.5,0 1.5,0 1.5,0 1.5,0 1.5,0 1.5,0 1.5,0 1.5,0 1.5,0 1.5,0 1.5,0 1.5-.1 1.5,0 1.5,0 1.5,0 1.5,0 1.5,0 1.5,0 1.5,0 1.5,0 1.5,0 1.5,0 1.5,0 1.5,0 1.5,0 1.5,0 1.5,0 1.5-.1 1.5,0 1.5,0 1.5,0 1.5,0 1.5,0 1.5,0 1.5,0 1.5,0 1.5,0 1.5,0 1.5,0 1.5,0 1.5,0 1.5-.1 1.5,0 1.5,0 1.5,0 1.5,0 1.5,0 1.5,0 1.5,0 1.5,0 1.5,0 1.5,0 1.5,0 1.5,0 1.5,0 1.5-.1 1.5,0 1.5,0 1.5,0 1.5,0 1.5,0 1.5,0 1.5,0 1.5,0 1.5,0 1.5,0 1.5,0 1.5,0 1.5-.1 1.5,0 1.5,0 1.5,0 1.5,0 1.5,0 1.5,0 1.5,0 1.5,0 1.5,0 1.5,0 1.5,0 1.5,0 1.5-.1 1.5,0 1.5,0 1.5,0 1.5,0 1.5,0 1.5,0 1.5,0 1.5,0 1.5,0 1.5,0 1.5,0 1.5,0 1.5-.1 1.5,0 1.5,0 1.5,0 1.5,0 1.5,0 1.5,0 1.5,0 1.5,0 1.5,0 1.5,0 1.5,0 1.5,0 1.5,0 1.5,0 1.5,0 1.5-.1 1.5,0 1.5,0 1.5,0 1.5,0 1.5,0 1.5,0 1.5,0 1.5,0 1.5,0 1.5,0 1.5,0 1.5,0 1.5,0 1.5,0 1.5,0 1.5,0 1.5,0 1.5-.1 1.5,0 1.5,0 1.5,0 1.5,0 1.5,0 1.5,0 1.5,0 1.5,0 1.5,0 1.5,0 1.5,0 1.5,0 1.5,0 1.5,0 1.5,0 1.5,0 1.5,0 1.5,0 1.5-.1 1.5,0 1.5,0 1.5,0 1.5,0 1.5,0 1.5,0 1.5,0 1.5,0 1.5,0 1.5,0 1.5,0 1.5,0 1.5,0 1.5,0 1.5,0 1.5,0 1.5,0 1.5,0 1.5,0 1.5,0 1.5,0 1.5,0 1.5,0 1.5,0 1.5,0 1.5,0 1.5,0 1.5,0 1.5,0 1.5,0 1.5,.1 1.5,0 1.5,0 1.5,0 1.5,0 1.5,0 1.5,0 1.5,0 1.5,0 1.5,0 1.5,0 1.5,.1 1.5,0 1.5,0 1.5,0 1.5,0 1.5,0 1.5,0 1.5,.1 1.5,0 1.5,0 1.5,0 1.5,0 1.5,.1 1.5,0 1.5,0 1.5,0 1.5,0 1.5,0 1.5,.1 1.5,0 1.5,0 1.5,0 1.5,0 1.5,.1 1.5,0 1.5,0 1.5,0 1.5,0 1.5,.1 1.5,0 1.5,0 1.5,0 1.5,0 1.5,0 1.5,0 1.5,0 1.5,0 1.5,0 1.5,0 1.5-.1 1.5,0 1.5,0 1.5-.1 1.5,0 1.5-.1 1.5,0 1.5-.1 1.5,0 1.5-.1 1.5-.1 1.5,0 1.5-.1 1.5-.1 1.5-.1 1.5-.1 1.5-.1 1.5,0 1.5-.1 1.5-.1 1.5-.1 1.5-.2 1.5-.1" fill="none" stroke="#0000ff" stroke-width="3.0" stroke-linejoin="round" stroke-linecap="round" />
<path d="M136,357l1.5-.2 1.5-.1 1.5-.2 1.5-.2 1.5-.1 1.5-.2 1.5-.1 1.5-.2 1.5-.2 1.5-.1 1.5-.2 1.5-.1 1.5-.2 1.5-.2 1.5-.1 1.5-.2 1.5-.1 1.5-.2 1.5-.1 1.5-.2 1.5-.1 1.5-.1 1.5-.2 1.5-.1 1.5-.2 1.5-.1 1.5-.1 1.5-.2 1.5-.1 1.5-.1 1.5-.2 1.5-.1 1.5-.1 1.5-.1 1.5-.2 1.5-.1 1.5-.1 1.5-.1 1.5-.1 1.5-.1 1.5-.1 1.5-.1 1.5-.1 1.5-.1 1.5-.1 1.5-.1 1.5-.1 1.5-.1 1.5-.1 1.5-.1 1.5-.2 1.5-.1 1.5-.1 1.5-.1 1.5-.1 1.5-.1 1.5-.1 1.5-.1 1.5-.1 1.5-.1 1.5-.1 1.5-.1 1.5-.1 1.5-.1 1.5-.1 1.5-.1 1.5-.1 1.5-.1 1.5-.1 1.5-.1 1.5-.1 1.5-.1 1.5-.1 1.5-.1 1.5,0 1.5-.1 1.5-.1 1.5-.1 1.5-.1 1.5-.1 1.5,0 1.5-.1 1.5-.1 1.5-.1 1.5,0 1.5-.1 1.5-.1 1.5-.1 1.5,0 1.5-.1 1.5,0 1.5-.1 1.5,0 1.5-.1 1.5,0 1.5-.1 1.5,0 1.5-.1 1.5,0 1.5,0 1.5-.1 1.5,0 1.5,0 1.5,0 1.5-.1 1.5,0 1.5,0 1.5,0 1.5,0 1.5,0 1.5,0 1.5,0 1.5,0 1.5,0 1.5,.1 1.5,0 1.5,0 1.5,0 1.5,0 1.5,.1 1.5,0 1.5,0 1.5,.1 1.5,0 1.5,.1 1.5,0 1.5,0 1.5,.1 1.5,0 1.5,.1 1.5,0 1.5,.1 1.5,.1 1.5,0 1.5,.1 1.5,0 1.5,.1 1.5,0 1.5,.1 1.5,.1 1.5,0 1.5,.1 1.5,.1 1.5,0 1.5,.1 1.5,.1 1.5,0 1.5,.1 1.5,.1 1.5,0 1.5,.1 1.5,.1 1.5,.1 1.5,0 1.5,.1 1.5,.1 1.5,0 1.5,.1 1.5,.1 1.5,0 1.5,.1 1.5,.1 1.5,0 1.5,.1 1.5,.1 1.5,0 1.5,.1 1.5,.1 1.5,0 1.5,.1 1.5,0 1.5,.1 1.5,0 1.5,.1 1.5,0 1.5,.1 1.5,0 1.5,.1 1.5,.1 1.5,0 1.5,.1 1.5,0 1.5,.1 1.5,0 1.5,.1 1.5,0 1.5,.1 1.5,0 1.5,.1 1.5,0 1.5,.1 1.5,.1 1.5,0 1.5,.1 1.5,0 1.5,.1 1.5,0 1.5,.1 1.5,.1 1.5,0 1.5,.1 1.5,0 1.5,.1 1.5,0 1.5,.1 1.5,0 1.5,.1 1.5,.1 1.5,0 1.5,.1 1.5,0 1.5,.1 1.5,0 1.5,.1 1.5,0 1.5,.1 1.5,0 1.5,.1 1.5,0 1.5,0 1.5,.1 1.5,0 1.5,.1 1.5,0 1.5,.1 1.5,0 1.5,0 1.5,.1 1.5,0 1.5,0 1.5,.1 1.5,0 1.5,0 1.5,0 1.5,.1 1.5,0 1.5,0 1.5,0 1.5,0 1.5,.1 1.5,0 1.5,0 1.5,0 1.5,0 1.5,0 1.5,0 1.5,0 1.5,0 1.5,.1 1.5,0 1.5,0 1.5,0 1.5,0 1.5,0 1.5,0 1.5,0 1.5,0 1.5,0 1.5,0 1.5,.1 1.5,0 1.5,0 1.5,0 1.5,0 1.5,0 1.5,0 1.5,0 1.5,0 1.5,0 1.5,0 1.5,0 1.5,0 1.5,0 1.5,.1 1.5,0 1.5,0 1.5,0 1.5,0 1.5,0 1.5,0 1.5,0 1.5,0 1.5,0 1.5,0 1.5,0 1.5,0 1.5,0 1.5,0 1.5,0 1.5,.1 1.5,0 1.5,0 1.5,0 1.5,0 1.5,0 1.5,0 1.5,0 1.5,0 1.5,0 1.5,0 1.5,0 1.5,0 1.5,0 1.5,0 1.5,0 1.5,0 1.5,0 1.5,0 1.5,0 1.5,0 1.5,0 1.5,0 1.5,.1 1.5,0 1.5,0 1.5,0 1.5,0 1.5,0 1.5,0 1.5,0 1.5,0 1.5,0 1.5,0 1.5,0 1.5,0 1.5,0 1.5,0 1.5,0 1.5,0 1.5,0 1.5,0 1.5,0 1.5,0 1.5,0 1.5,0 1.5,0 1.5,0 1.5,0 1.5,0 1.5,0 1.5,0 1.5,0 1.5,0 1.5,0 1.5,0 1.5,0 1.5,0 1.5,0 1.5,0 1.5,0 1.5,0 1.5,0 1.5,0 1.5,0 1.5,0 1.5,0 1.5,0 1.5,0 1.5,0 1.5,0 1.5,0 1.5-.1 1.5,0 1.5,0 1.5,0 1.5,0 1.5,0 1.5,0 1.5,0 1.5,0 1.5,0 1.5,0 1.5,0 1.5,0 1.5-.1 1.5,0 1.5,0 1.5,0 1.5,0 1.5,0 1.5,0 1.5,0 1.5-.1 1.5,0 1.5,0 1.5,0 1.5,0 1.5,0 1.5,0 1.5-.1 1.5,0 1.5,0 1.5,0 1.5,0 1.5,0 1.5-.1 1.5,0 1.5,0 1.5,0 1.5-.1 1.5,0 1.5,0 1.5,0 1.5,0 1.5-.1 1.5,0 1.5,0 1.5,0 1.5-.1 1.5,0 1.5,0 1.5-.1 1.5,0 1.5,0 1.5,0 1.5-.1 1.5,0 1.5,0 1.5-.1 1.5,0 1.5,0 1.5-.1 1.5,0 1.5,0 1.5-.1 1.5,0 1.5,0 1.5-.1 1.5,0 1.5-.1 1.5,0 1.5,0 1.5-.1 1.5,0 1.5-.1 1.5,0 1.5,0 1.5-.1 1.5,0 1.5-.1 1.5,0 1.5-.1 1.5-.1 1.5-.1 1.5-.1 1.5-.2 1.5-.2 1.5-.3 1.5-.2 1.5-.3 1.5-.3 1.5-.4 1.5-.3 1.5-.3 1.5-.4 1.5-.3 1.5-.3 1.5-.4 1.5-.4 1.5-.3 1.5-.4 1.5-.4 1.5-.4 1.5-.4 1.5-.4 1.5-.4 1.5-.5 1.5-.4 1.5-.5 1.5-.5 1.5-.4 1.5-.5 1.5-.5 1.5-.5 1.5-.5 1.5-.5 1.5-.5 1.5-.6 1.5-.5 1.5-.5 1.5-.6 1.5-.5 1.5-.6 1.5-.5 1.5-.6 1.5-.6 1.5-.6 1.5-.5 1.5-.6 1.5-.6 1.5-.6 1.5-.6 1.5-.6 1.5-.6 1.5-.7 1.5-.6 1.5-.7 1.5-.6 1.5-.7 1.5-.7 1.5-.7 1.5-.7 1.5-.8 1.5-.7 1.5-.7 1.5-.8 1.5-.7 1.5-.8 1.5-.8 1.5-.7 1.5-.8 1.5-.8 1.5-.8 1.5-.8 1.5-.8 1.5-.8 1.5-.8 1.5-.8 1.5-.9 1.5-.8 1.5-.8 1.5-.8 1.5-.9 1.5-.8 1.5-.8 1.5-.8 1.5-.9 1.5-.8 1.5-.8 1.5-.8 1.5-.9 1.5-.8 1.5-.9 1.5-.9 1.5-.8 1.5-.9 1.5-.9 1.5-.9 1.5-.9 1.5-1 1.5-.9 1.5-1 1.5-1 1.5-1.1 1.5-1 1.5-1.1 1.5-1.1 1.5-1.1 1.5-1.2 1.5-1.1 1.5-1.2 1.5-1.2 1.5-1.3 1.5-1.2 1.5-1.3 1.5-1.2 1.5-1.3 1.5-1.3 1.5-1.3 1.5-1.2 1.5-1.3 1.5-1.3 1.5-1.3 1.5-1.3 1.5-1.3 1.5-1.4 1.5-1.3 1.5-1.3 1.5-1.4 1.5-1.3 1.5-1.4 1.5-1.4 1.5-1.3 1.5-1.4 1.5-1.4 1.5-1.3 1.5-1.4 1.5-1.4 1.5-1.3 1.5-1.3 1.5-1.4 1.5-1.3 1.5-1.3 1.5-1.3 1.5-1.3 1.5-1.3 1.5-1.3 1.5-1.3 1.5-1.3 1.5-1.3 1.5-1.4 1.5-1.4 1.5-1.4 1.5-1.4 1.5-1.5 1.5-1.5 1.5-1.5 1.5-1.5 1.5-1.6 1.5-1.6 1.5-1.6 1.5-1.7 1.5-1.7 1.5-1.7 1.5-1.8 1.5-1.7 1.5-1.8 1.5-1.9 1.5-1.9 1.5-1.9 1.5-1.9 1.5-2 1.5-2.1 1.5-2.1 1.5-2.2 1.5-2.3 1.5-2.5 1.5-2.5 1.5-2.6 1.5-2.7 1.5-2.6 1.5-2.6 1.5-2.6 1.5-2.4 1.5-2.2 1.5-2.2 1.5-1.9 1.5-1.9 1.5-1.7 1.5-1.6 1.5-1.6 1.5-1.5 1.5-1.4 1.5-1.4 1.5-1.4 1.5-1.3 1.5-1.3 1.5-1.3 1.5-1.2 1.5-1.2 1.5-1.1 1.5-1.2 1.5-1.1 1.5-1.1 1.5-1.1 1.5-1 1.5-1 1.5-1.1 1.5-.9 1.5-1 1.5-1 1.5-.9 1.5-.9 1.5-.9 1.5-.9 1.5-.8 1.5-.9 1.5-.8 1.5-.8 1.5-.8 1.5-.8 1.5-.8 1.5-.7 1.5-.8 1.5-.7 1.5-.8 1.5-.7 1.5-.7 1.5-.7 1.5-.7 1.5-.7 1.5-.7 1.5-.6 1.5-.7 1.5-.6 1.5-.6 1.5-.6 1.5-.6 1.5-.6 1.5-.6 1.5-.6 1.5-.6 1.5-.6 1.5-.7 1.5-.6 1.5-.6 1.5-.7 1.5-.6 1.5-.6 1.5-.7 1.5-.6 1.5-.6 1.5-.5 1.5-.6 1.5-.5 1.5-.4 1.5-.5 1.5-.3 1.5-.4 1.5-.3 1.5-.2 1.5-.2 1.5,0 1.5,.1 1.5,.3 1.5,.6 1.5,.9 1.5,1.1 1.5,1.4 1.5,1.6 1.5,1.8 1.5,2 1.5,2 1.5,2.1 1.5,2.2 1.5,2.3 1.5,2.5 1.5,2.7 1.5,2.9 1.5,3 1.5,3.3 1.5,3.5 1.5,3.7 1.5,4 1.5,4.3 1.5,4.6 1.5,4.9 1.5,5.1 1.5,5.3 1.5,5.3 1.5,5.3 1.5,5.3 1.5,5.2 1.5,5.2 1.5,5.1 1.5,5 1.5,5.1 1.5,5.2 1.5,5.2 1.5,5.3 1.5,5.5 1.5,5.7 1.5,5.8 1.5,6 1.5,6 1.5,6 1.5,5.8 1.5,5.6 1.5,5.5 1.5,5.1 1.5,5 1.5,4.8 1.5,4.7 1.5,4.5 1.5,4.3 1.5,4.2 1.5,4.1 1.5,4 1.5,3.9 1.5,3.7 1.5,3.7 1.5,3.6 1.5,3.4 1.5,3.4 1.5,3.3 1.5,3.3 1.5,3.1 1.5,3.1 1.5,3 1.5,3 1.5,2.8 1.5,2.7 1.5,2.6 1.5,2.5 1.5,2.3 1.5,2.3 1.5,2.1 1.5,2 1.5,2 1.5,1.8 1.5,1.9 1.5,1.7 1.5,1.7 1.5,1.7 1.5,1.6 1.5,1.6 1.5,1.5 1.5,1.5 1.5,1.5 1.5,1.4 1.5,1.4 1.5,1.3 1.5,1.4 1.5,1.2 1.5,1.2 1.5,1.2 1.5,1.2 1.5,1.1 1.5,1 1.5,1 1.5,1 1.5,1 1.5,.9 1.5,.9 1.5,.9 1.5,.9 1.5,.8 1.5,.8 1.5,.8 1.5,.7 1.5,.7 1.5,.7 1.5,.7 1.5,.7 1.5,.6 1.5,.6 1.5,.5 1.5,.6 1.5,.5 1.5,.5 1.5,.5 1.5,.5 1.5,.5 1.5,.4 1.5,.5 1.5,.4 1.5,.5 1.5,.4 1.5,.4 1.5,.3 1.5,.4 1.5,.3 1.5,.3 1.5,.3 1.5,.3 1.5,.3 1.5,.2 1.5,.3 1.5,.2 1.5,.2 1.5,.2 1.5,.2 1.5,.2 1.5,.2 1.5,.2 1.5,.2 1.5,.2 1.5,.2 1.5,.2 1.5,.2 1.5,.1 1.5,.2 1.5,.2 1.5,.1 1.5,.2 1.5,.1 1.5,.2 1.5,.1 1.5,.2 1.5,.1 1.5,.1 1.5,.2 1.5,.1 1.5,.1 1.5,.1 1.5,.2 1.5,.1 1.5,.1 1.5,.1 1.5,.1 1.5,.1 1.5,.1 1.5,.1 1.5,.1 1.5,.1 1.5,.1 1.5,.1 1.5,.1 1.5,.1 1.5,0 1.5,.1 1.5,.1 1.5,.1 1.5,.1 1.5,.1 1.5,0 1.5,.1 1.5,.1 1.5,0 1.5,.1 1.5,.1 1.5,.1 1.5,0 1.5,.1 1.5,0 1.5,.1 1.5,.1 1.5,0 1.5,.1 1.5,.1 1.5,0 1.5,.1 1.5,0 1.5,.1 1.5,0 1.5,.1 1.5,.1 1.5,0 1.5,.1 1.5,0 1.5,.1 1.5,0 1.5,.1 1.5,0 1.5,.1 1.5,0 1.5,.1 1.5,0 1.5,.1 1.5,.1 1.5,0 1.5,.1 1.5,0 1.5,.1 1.5,0 1.5,.1 1.5,0 1.5,.1 1.5,0 1.5,.1 1.5,0 1.5,.1 1.5,0 1.5,.1 1.5,0 1.5,.1 1.5,.1 1.5,0 1.5,.1 1.5,0 1.5,0 1.5,.1 1.5,0 1.5,.1 1.5,0 1.5,.1 1.5,0 1.5,.1 1.5,0 1.5,.1 1.5,0 1.5,.1 1.5,0 1.5,.1 1.5,0 1.5,0 1.5,.1 1.5,0 1.5,.1 1.5,0 1.5,.1 1.5,0 1.5,0 1.5,.1" fill="none" stroke="#ff0000" stroke-width="3.2" stroke-linejoin="round" stroke-linecap="round" />
<path d="M133.4,890.2a3.2,3.2 0 1,0 6.4,0a3.2,3.2 0 1,0 -6.4,0M137.1,890.2a3.2,3.2 0 1,0 6.4,0a3.2,3.2 0 1,0 -6.4,0M140.6,889.7a3.2,3.2 0 1,0 6.4,0a3.2,3.2 0 1,0 -6.4,0M143.2,887.1a3.2,3.2 0 1,0 6.4,0a3.2,3.2 0 1,0 -6.4,0M145.6,888.2a3.2,3.2 0 1,0 6.4,0a3.2,3.2 0 1,0 -6.4,0M149.5,888.4a3.2,3.2 0 1,0 6.4,0a3.2,3.2 0 1,0 -6.4,0M151.1,886.1a3.2,3.2 0 1,0 6.4,0a3.2,3.2 0 1,0 -6.4,0M155.5,888.8a3.2,3.2 0 1,0 6.4,0a3.2,3.2 0 1,0 -6.4,0M157.5,879.3a3.2,3.2 0 1,0 6.4,0a3.2,3.2 0 1,0 -6.4,0M159.5,887.1a3.2,3.2 0 1,0 6.4,0a3.2,3.2 0 1,0 -6.4,0M165,882.1a3.2,3.2 0 1,0 6.4,0a3.2,3.2 0 1,0 -6.4,0M167.5,887.3a3.2,3.2 0 1,0 6.4,0a3.2,3.2 0 1,0 -6.4,0M169.3,883.7a3.2,3.2 0 1,0 6.4,0a3.2,3.2 0 1,0 -6.4,0M172.9,881.5a3.2,3.2 0 1,0 6.4,0a3.2,3.2 0 1,0 -6.4,0M175.7,884.7a3.2,3.2 0 1,0 6.4,0a3.2,3.2 0 1,0 -6.4,0M178.8,880.8a3.2,3.2 0 1,0 6.4,0a3.2,3.2 0 1,0 -6.4,0M181.1,880.5a3.2,3.2 0 1,0 6.4,0a3.2,3.2 0 1,0 -6.4,0M184.5,878.4a3.2,3.2 0 1,0 6.4,0a3.2,3.2 0 1,0 -6.4,0M188,882.4a3.2,3.2 0 1,0 6.4,0a3.2,3.2 0 1,0 -6.4,0M190.9,883.5a3.2,3.2 0 1,0 6.4,0a3.2,3.2 0 1,0 -6.4,0M194.3,884.7a3.2,3.2 0 1,0 6.4,0a3.2,3.2 0 1,0 -6.4,0M196.8,881.1a3.2,3.2 0 1,0 6.4,0a3.2,3.2 0 1,0 -6.4,0M200.9,884.1a3.2,3.2 0 1,0 6.4,0a3.2,3.2 0 1,0 -6.4,0M202.5,880.9a3.2,3.2 0 1,0 6.4,0a3.2,3.2 0 1,0 -6.4,0M205.9,880.3a3.2,3.2 0 1,0 6.4,0a3.2,3.2 0 1,0 -6.4,0M207.9,881.9a3.2,3.2 0 1,0 6.4,0a3.2,3.2 0 1,0 -6.4,0M211.2,883a3.2,3.2 0 1,0 6.4,0a3.2,3.2 0 1,0 -6.4,0M215.4,878.7a3.2,3.2 0 1,0 6.4,0a3.2,3.2 0 1,0 -6.4,0M217.4,878.7a3.2,3.2 0 1,0 6.4,0a3.2,3.2 0 1,0 -6.4,0M221,878.7a3.2,3.2 0 1,0 6.4,0a3.2,3.2 0 1,0 -6.4,0M223.8,879.1a3.2,3.2 0 1,0 6.4,0a3.2,3.2 0 1,0 -6.4,0M226.3,876a3.2,3.2 0 1,0 6.4,0a3.2,3.2 0 1,0 -6.4,0M229.6,881.1a3.2,3.2 0 1,0 6.4,0a3.2,3.2 0 1,0 -6.4,0M232.6,876.8a3.2,3.2 0 1,0 6.4,0a3.2,3.2 0 1,0 -6.4,0M235.6,879a3.2,3.2 0 1,0 6.4,0a3.2,3.2 0 1,0 -6.4,0M239.1,875a3.2,3.2 0 1,0 6.4,0a3.2,3.2 0 1,0 -6.4,0M242.1,878a3.2,3.2 0 1,0 6.4,0a3.2,3.2 0 1,0 -6.4,0M244.5,877.8a3.2,3.2 0 1,0 6.4,0a3.2,3.2 0 1,0 -6.4,0M247.4,875.2a3.2,3.2 0 1,0 6.4,0a3.2,3.2 0 1,0 -6.4,0M250.9,881.7a3.2,3.2 0 1,0 6.4,0a3.2,3.2 0 1,0 -6.4,0M253.8,876.8a3.2,3.2 0 1,0 6.4,0a3.2,3.2 0 1,0 -6.4,0M257.3,880.4a3.2,3.2 0 1,0 6.4,0a3.2,3.2 0 1,0 -6.4,0M261,877.8a3.2,3.2 0 1,0 6.4,0a3.2,3.2 0 1,0 -6.4,0M263.2,872.9a3.2,3.2 0 1,0 6.4,0a3.2,3.2 0 1,0 -6.4,0M265.8,873.4a3.2,3.2 0 1,0 6.4,0a3.2,3.2 0 1,0 -6.4,0M268.7,875.3a3.2,3.2 0 1,0 6.4,0a3.2,3.2 0 1,0 -6.4,0M271.4,874a3.2,3.2 0 1,0 6.4,0a3.2,3.2 0 1,0 -6.4,0M274.4,873.7a3.2,3.2 0 1,0 6.4,0a3.2,3.2 0 1,0 -6.4,0M277.3,872.5a3.2,3.2 0 1,0 6.4,0a3.2,3.2 0 1,0 -6.4,0M280.6,867.9a3.2,3.2 0 1,0 6.4,0a3.2,3.2 0 1,0 -6.4,0M283.6,872.1a3.2,3.2 0 1,0 6.4,0a3.2,3.2 0 1,0 -6.4,0M287.1,866.3a3.2,3.2 0 1,0 6.4,0a3.2,3.2 0 1,0 -6.4,0M289.6,873.4a3.2,3.2 0 1,0 6.4,0a3.2,3.2 0 1,0 -6.4,0M292.7,870.2a3.2,3.2 0 1,0 6.4,0a3.2,3.2 0 1,0 -6.4,0M295.3,870a3.2,3.2 0 1,0 6.4,0a3.2,3.2 0 1,0 -6.4,0M299.5,871.3a3.2,3.2 0 1,0 6.4,0a3.2,3.2 0 1,0 -6.4,0M302,872.6a3.2,3.2 0 1,0 6.4,0a3.2,3.2 0 1,0 -6.4,0M305.6,867.8a3.2,3.2 0 1,0 6.4,0a3.2,3.2 0 1,0 -6.4,0M308.2,866.8a3.2,3.2 0 1,0 6.4,0a3.2,3.2 0 1,0 -6.4,0M311.5,868.7a3.2,3.2 0 1,0 6.4,0a3.2,3.2 0 1,0 -6.4,0M313.7,865.9a3.2,3.2 0 1,0 6.4,0a3.2,3.2 0 1,0 -6.4,0M317.1,868.8a3.2,3.2 0 1,0 6.4,0a3.2,3.2 0 1,0 -6.4,0M321,875.9a3.2,3.2 0 1,0 6.4,0a3.2,3.2 0 1,0 -6.4,0M322.2,868.5a3.2,3.2 0 1,0 6.4,0a3.2,3.2 0 1,0 -6.4,0M326.3,873.2a3.2,3.2 0 1,0 6.4,0a3.2,3.2 0 1,0 -6.4,0M329.6,867.5a3.2,3.2 0 1,0 6.4,0a3.2,3.2 0 1,0 -6.4,0M332,872.1a3.2,3.2 0 1,0 6.4,0a3.2,3.2 0 1,0 -6.4,0M335.1,870.4a3.2,3.2 0 1,0 6.4,0a3.2,3.2 0 1,0 -6.4,0M338.4,871.1a3.2,3.2 0 1,0 6.4,0a3.2,3.2 0 1,0 -6.4,0M340.5,872.8a3.2,3.2 0 1,0 6.4,0a3.2,3.2 0 1,0 -6.4,0M344,876.1a3.2,3.2 0 1,0 6.4,0a3.2,3.2 0 1,0 -6.4,0M346.4,871.7a3.2,3.2 0 1,0 6.4,0a3.2,3.2 0 1,0 -6.4,0M349.5,871.5a3.2,3.2 0 1,0 6.4,0a3.2,3.2 0 1,0 -6.4,0M352.5,868.4a3.2,3.2 0 1,0 6.4,0a3.2,3.2 0 1,0 -6.4,0M355.7,872.7a3.2,3.2 0 1,0 6.4,0a3.2,3.2 0 1,0 -6.4,0M358.9,870.4a3.2,3.2 0 1,0 6.4,0a3.2,3.2 0 1,0 -6.4,0M362,873.4a3.2,3.2 0 1,0 6.4,0a3.2,3.2 0 1,0 -6.4,0M364.1,870.9a3.2,3.2 0 1,0 6.4,0a3.2,3.2 0 1,0 -6.4,0M368.7,875.9a3.2,3.2 0 1,0 6.4,0a3.2,3.2 0 1,0 -6.4,0M371.3,865.5a3.2,3.2 0 1,0 6.4,0a3.2,3.2 0 1,0 -6.4,0M374.1,870.2a3.2,3.2 0 1,0 6.4,0a3.2,3.2 0 1,0 -6.4,0M376.6,873.5a3.2,3.2 0 1,0 6.4,0a3.2,3.2 0 1,0 -6.4,0M379.8,870.1a3.2,3.2 0 1,0 6.4,0a3.2,3.2 0 1,0 -6.4,0M383.1,868.9a3.2,3.2 0 1,0 6.4,0a3.2,3.2 0 1,0 -6.4,0M386,870.5a3.2,3.2 0 1,0 6.4,0a3.2,3.2 0 1,0 -6.4,0M388,867.4a3.2,3.2 0 1,0 6.4,0a3.2,3.2 0 1,0 -6.4,0M392.1,871.8a3.2,3.2 0 1,0 6.4,0a3.2,3.2 0 1,0 -6.4,0M396.1,878.4a3.2,3.2 0 1,0 6.4,0a3.2,3.2 0 1,0 -6.4,0M396.9,874.9a3.2,3.2 0 1,0 6.4,0a3.2,3.2 0 1,0 -6.4,0M401.3,868.8a3.2,3.2 0 1,0 6.4,0a3.2,3.2 0 1,0 -6.4,0M404,869.6a3.2,3.2 0 1,0 6.4,0a3.2,3.2 0 1,0 -6.4,0M406.7,871.1a3.2,3.2 0 1,0 6.4,0a3.2,3.2 0 1,0 -6.4,0M410.4,875.2a3.2,3.2 0 1,0 6.4,0a3.2,3.2 0 1,0 -6.4,0M412.3,870.3a3.2,3.2 0 1,0 6.4,0a3.2,3.2 0 1,0 -6.4,0M415.9,870.8a3.2,3.2 0 1,0 6.4,0a3.2,3.2 0 1,0 -6.4,0M419.5,875.5a3.2,3.2 0 1,0 6.4,0a3.2,3.2 0 1,0 -6.4,0M421.7,875.6a3.2,3.2 0 1,0 6.4,0a3.2,3.2 0 1,0 -6.4,0M424.6,872.3a3.2,3.2 0 1,0 6.4,0a3.2,3.2 0 1,0 -6.4,0M427.9,870.5a3.2,3.2 0 1,0 6.4,0a3.2,3.2 0 1,0 -6.4,0M430.6,869.5a3.2,3.2 0 1,0 6.4,0a3.2,3.2 0 1,0 -6.4,0M434.5,872a3.2,3.2 0 1,0 6.4,0a3.2,3.2 0 1,0 -6.4,0M436.4,867.9a3.2,3.2 0 1,0 6.4,0a3.2,3.2 0 1,0 -6.4,0M440.2,876.5a3.2,3.2 0 1,0 6.4,0a3.2,3.2 0 1,0 -6.4,0M442.2,872.8a3.2,3.2 0 1,0 6.4,0a3.2,3.2 0 1,0 -6.4,0M446.1,876.1a3.2,3.2 0 1,0 6.4,0a3.2,3.2 0 1,0 -6.4,0M448.8,880.2a3.2,3.2 0 1,0 6.4,0a3.2,3.2 0 1,0 -6.4,0M450.6,878.4a3.2,3.2 0 1,0 6.4,0a3.2,3.2 0 1,0 -6.4,0M454.8,872.1a3.2,3.2 0 1,0 6.4,0a3.2,3.2 0 1,0 -6.4,0M457.3,878a3.2,3.2 0 1,0 6.4,0a3.2,3.2 0 1,0 -6.4,0M460.6,879.1a3.2,3.2 0 1,0 6.4,0a3.2,3.2 0 1,0 -6.4,0M464.5,874a3.2,3.2 0 1,0 6.4,0a3.2,3.2 0 1,0 -6.4,0M466.3,873.6a3.2,3.2 0 1,0 6.4,0a3.2,3.2 0 1,0 -6.4,0M469.3,876.3a3.2,3.2 0 1,0 6.4,0a3.2,3.2 0 1,0 -6.4,0M473.5,872.3a3.2,3.2 0 1,0 6.4,0a3.2,3.2 0 1,0 -6.4,0M475.9,881.2a3.2,3.2 0 1,0 6.4,0a3.2,3.2 0 1,0 -6.4,0M479.5,870.6a3.2,3.2 0 1,0 6.4,0a3.2,3.2 0 1,0 -6.4,0M481.9,874.5a3.2,3.2 0 1,0 6.4,0a3.2,3.2 0 1,0 -6.4,0M484.4,877.1a3.2,3.2 0 1,0 6.4,0a3.2,3.2 0 1,0 -6.4,0M487.8,877.5a3.2,3.2 0 1,0 6.4,0a3.2,3.2 0 1,0 -6.4,0M491.4,878.8a3.2,3.2 0 1,0 6.4,0a3.2,3.2 0 1,0 -6.4,0M494.2,879.3a3.2,3.2 0 1,0 6.4,0a3.2,3.2 0 1,0 -6.4,0M496.8,878.2a3.2,3.2 0 1,0 6.4,0a3.2,3.2 0 1,0 -6.4,0M499.8,882.2a3.2,3.2 0 1,0 6.4,0a3.2,3.2 0 1,0 -6.4,0M502.7,873.2a3.2,3.2 0 1,0 6.4,0a3.2,3.2 0 1,0 -6.4,0M505.5,879.4a3.2,3.2 0 1,0 6.4,0a3.2,3.2 0 1,0 -6.4,0M509.7,877.5a3.2,3.2 0 1,0 6.4,0a3.2,3.2 0 1,0 -6.4,0M511.8,880a3.2,3.2 0 1,0 6.4,0a3.2,3.2 0 1,0 -6.4,0M514.3,880.4a3.2,3.2 0 1,0 6.4,0a3.2,3.2 0 1,0 -6.4,0M517.6,877.3a3.2,3.2 0 1,0 6.4,0a3.2,3.2 0 1,0 -6.4,0M521.1,878.1a3.2,3.2 0 1,0 6.4,0a3.2,3.2 0 1,0 -6.4,0M524.1,882.2a3.2,3.2 0 1,0 6.4,0a3.2,3.2 0 1,0 -6.4,0M526.7,881a3.2,3.2 0 1,0 6.4,0a3.2,3.2 0 1,0 -6.4,0M529.5,878.1a3.2,3.2 0 1,0 6.4,0a3.2,3.2 0 1,0 -6.4,0M532.8,885.7a3.2,3.2 0 1,0 6.4,0a3.2,3.2 0 1,0 -6.4,0M535,886.5a3.2,3.2 0 1,0 6.4,0a3.2,3.2 0 1,0 -6.4,0M538.2,875.9a3.2,3.2 0 1,0 6.4,0a3.2,3.2 0 1,0 -6.4,0M542.2,880.8a3.2,3.2 0 1,0 6.4,0a3.2,3.2 0 1,0 -6.4,0M544.6,887a3.2,3.2 0 1,0 6.4,0a3.2,3.2 0 1,0 -6.4,0M548,882.2a3.2,3.2 0 1,0 6.4,0a3.2,3.2 0 1,0 -6.4,0M551.4,880.6a3.2,3.2 0 1,0 6.4,0a3.2,3.2 0 1,0 -6.4,0M554.1,879.4a3.2,3.2 0 1,0 6.4,0a3.2,3.2 0 1,0 -6.4,0M556.8,878.5a3.2,3.2 0 1,0 6.4,0a3.2,3.2 0 1,0 -6.4,0M560.8,879.4a3.2,3.2 0 1,0 6.4,0a3.2,3.2 0 1,0 -6.4,0M563.1,878.4a3.2,3.2 0 1,0 6.4,0a3.2,3.2 0 1,0 -6.4,0M565.6,882.1a3.2,3.2 0 1,0 6.4,0a3.2,3.2 0 1,0 -6.4,0M569.1,878.8a3.2,3.2 0 1,0 6.4,0a3.2,3.2 0 1,0 -6.4,0M572,878.7a3.2,3.2 0 1,0 6.4,0a3.2,3.2 0 1,0 -6.4,0M574.4,876.6a3.2,3.2 0 1,0 6.4,0a3.2,3.2 0 1,0 -6.4,0M577.8,879.8a3.2,3.2 0 1,0 6.4,0a3.2,3.2 0 1,0 -6.4,0M580.7,877.4a3.2,3.2 0 1,0 6.4,0a3.2,3.2 0 1,0 -6.4,0M582.9,879.4a3.2,3.2 0 1,0 6.4,0a3.2,3.2 0 1,0 -6.4,0M586.7,882.8a3.2,3.2 0 1,0 6.4,0a3.2,3.2 0 1,0 -6.4,0M589.7,880.9a3.2,3.2 0 1,0 6.4,0a3.2,3.2 0 1,0 -6.4,0M592.6,881.3a3.2,3.2 0 1,0 6.4,0a3.2,3.2 0 1,0 -6.4,0M595,880.9a3.2,3.2 0 1,0 6.4,0a3.2,3.2 0 1,0 -6.4,0M598.6,880.1a3.2,3.2 0 1,0 6.4,0a3.2,3.2 0 1,0 -6.4,0M601.8,879.5a3.2,3.2 0 1,0 6.4,0a3.2,3.2 0 1,0 -6.4,0M604.8,879a3.2,3.2 0 1,0 6.4,0a3.2,3.2 0 1,0 -6.4,0M607.3,882a3.2,3.2 0 1,0 6.4,0a3.2,3.2 0 1,0 -6.4,0M611.1,876.8a3.2,3.2 0 1,0 6.4,0a3.2,3.2 0 1,0 -6.4,0M613.2,883.6a3.2,3.2 0 1,0 6.4,0a3.2,3.2 0 1,0 -6.4,0M616.7,879.9a3.2,3.2 0 1,0 6.4,0a3.2,3.2 0 1,0 -6.4,0M620.4,877.7a3.2,3.2 0 1,0 6.4,0a3.2,3.2 0 1,0 -6.4,0M622.5,878.5a3.2,3.2 0 1,0 6.4,0a3.2,3.2 0 1,0 -6.4,0M625.6,877.9a3.2,3.2 0 1,0 6.4,0a3.2,3.2 0 1,0 -6.4,0M629.3,880.2a3.2,3.2 0 1,0 6.4,0a3.2,3.2 0 1,0 -6.4,0M631.6,877.8a3.2,3.2 0 1,0 6.4,0a3.2,3.2 0 1,0 -6.4,0M634.7,883a3.2,3.2 0 1,0 6.4,0a3.2,3.2 0 1,0 -6.4,0M637.9,877.6a3.2,3.2 0 1,0 6.4,0a3.2,3.2 0 1,0 -6.4,0M641.3,873.4a3.2,3.2 0 1,0 6.4,0a3.2,3.2 0 1,0 -6.4,0M642.8,877.7a3.2,3.2 0 1,0 6.4,0a3.2,3.2 0 1,0 -6.4,0M646.4,874.1a3.2,3.2 0 1,0 6.4,0a3.2,3.2 0 1,0 -6.4,0M649.3,879.6a3.2,3.2 0 1,0 6.4,0a3.2,3.2 0 1,0 -6.4,0M652.3,882.7a3.2,3.2 0 1,0 6.4,0a3.2,3.2 0 1,0 -6.4,0M655.4,881.5a3.2,3.2 0 1,0 6.4,0a3.2,3.2 0 1,0 -6.4,0M658.4,875.9a3.2,3.2 0 1,0 6.4,0a3.2,3.2 0 1,0 -6.4,0M661.9,877.5a3.2,3.2 0 1,0 6.4,0a3.2,3.2 0 1,0 -6.4,0M664.4,884.6a3.2,3.2 0 1,0 6.4,0a3.2,3.2 0 1,0 -6.4,0M667.9,880.5a3.2,3.2 0 1,0 6.4,0a3.2,3.2 0 1,0 -6.4,0M671,879.6a3.2,3.2 0 1,0 6.4,0a3.2,3.2 0 1,0 -6.4,0M673.5,882.5a3.2,3.2 0 1,0 6.4,0a3.2,3.2 0 1,0 -6.4,0M676.9,886.4a3.2,3.2 0 1,0 6.4,0a3.2,3.2 0 1,0 -6.4,0M680.6,883.2a3.2,3.2 0 1,0 6.4,0a3.2,3.2 0 1,0 -6.4,0M682.9,879.9a3.2,3.2 0 1,0 6.4,0a3.2,3.2 0 1,0 -6.4,0M685.5,880.5a3.2,3.2 0 1,0 6.4,0a3.2,3.2 0 1,0 -6.4,0M688.8,881.2a3.2,3.2 0 1,0 6.4,0a3.2,3.2 0 1,0 -6.4,0M691.4,877.7a3.2,3.2 0 1,0 6.4,0a3.2,3.2 0 1,0 -6.4,0M694.9,876.4a3.2,3.2 0 1,0 6.4,0a3.2,3.2 0 1,0 -6.4,0M698.2,879.4a3.2,3.2 0 1,0 6.4,0a3.2,3.2 0 1,0 -6.4,0M700.4,876.5a3.2,3.2 0 1,0 6.4,0a3.2,3.2 0 1,0 -6.4,0M703.7,879a3.2,3.2 0 1,0 6.4,0a3.2,3.2 0 1,0 -6.4,0M707.3,879.3a3.2,3.2 0 1,0 6.4,0a3.2,3.2 0 1,0 -6.4,0M709.6,885.5a3.2,3.2 0 1,0 6.4,0a3.2,3.2 0 1,0 -6.4,0M712.9,876.5a3.2,3.2 0 1,0 6.4,0a3.2,3.2 0 1,0 -6.4,0M715.3,878.5a3.2,3.2 0 1,0 6.4,0a3.2,3.2 0 1,0 -6.4,0M718.4,878.2a3.2,3.2 0 1,0 6.4,0a3.2,3.2 0 1,0 -6.4,0M721.6,879.8a3.2,3.2 0 1,0 6.4,0a3.2,3.2 0 1,0 -6.4,0M725.8,881.4a3.2,3.2 0 1,0 6.4,0a3.2,3.2 0 1,0 -6.4,0M727.6,877a3.2,3.2 0 1,0 6.4,0a3.2,3.2 0 1,0 -6.4,0M730.6,876a3.2,3.2 0 1,0 6.4,0a3.2,3.2 0 1,0 -6.4,0M733.5,873.6a3.2,3.2 0 1,0 6.4,0a3.2,3.2 0 1,0 -6.4,0M736.7,875.5a3.2,3.2 0 1,0 6.4,0a3.2,3.2 0 1,0 -6.4,0M740.1,879.4a3.2,3.2 0 1,0 6.4,0a3.2,3.2 0 1,0 -6.4,0M742.9,877.9a3.2,3.2 0 1,0 6.4,0a3.2,3.2 0 1,0 -6.4,0M746.7,874.8a3.2,3.2 0 1,0 6.4,0a3.2,3.2 0 1,0 -6.4,0M748.9,876.5a3.2,3.2 0 1,0 6.4,0a3.2,3.2 0 1,0 -6.4,0M752.5,877.5a3.2,3.2 0 1,0 6.4,0a3.2,3.2 0 1,0 -6.4,0M754.9,878.7a3.2,3.2 0 1,0 6.4,0a3.2,3.2 0 1,0 -6.4,0M758.1,875.4a3.2,3.2 0 1,0 6.4,0a3.2,3.2 0 1,0 -6.4,0M760.2,876.3a3.2,3.2 0 1,0 6.4,0a3.2,3.2 0 1,0 -6.4,0M763.7,871.7a3.2,3.2 0 1,0 6.4,0a3.2,3.2 0 1,0 -6.4,0M766.8,873.4a3.2,3.2 0 1,0 6.4,0a3.2,3.2 0 1,0 -6.4,0M769.7,881a3.2,3.2 0 1,0 6.4,0a3.2,3.2 0 1,0 -6.4,0M771.8,870.2a3.2,3.2 0 1,0 6.4,0a3.2,3.2 0 1,0 -6.4,0M776.2,875.2a3.2,3.2 0 1,0 6.4,0a3.2,3.2 0 1,0 -6.4,0M778.6,876.6a3.2,3.2 0 1,0 6.4,0a3.2,3.2 0 1,0 -6.4,0M781.6,874.8a3.2,3.2 0 1,0 6.4,0a3.2,3.2 0 1,0 -6.4,0M784.7,873.4a3.2,3.2 0 1,0 6.4,0a3.2,3.2 0 1,0 -6.4,0M787.7,875.3a3.2,3.2 0 1,0 6.4,0a3.2,3.2 0 1,0 -6.4,0M791,875.3a3.2,3.2 0 1,0 6.4,0a3.2,3.2 0 1,0 -6.4,0M793.2,874.9a3.2,3.2 0 1,0 6.4,0a3.2,3.2 0 1,0 -6.4,0M796.4,869.7a3.2,3.2 0 1,0 6.4,0a3.2,3.2 0 1,0 -6.4,0M799.9,874.4a3.2,3.2 0 1,0 6.4,0a3.2,3.2 0 1,0 -6.4,0M802.9,872.2a3.2,3.2 0 1,0 6.4,0a3.2,3.2 0 1,0 -6.4,0M805.6,872.9a3.2,3.2 0 1,0 6.4,0a3.2,3.2 0 1,0 -6.4,0M808.5,874.8a3.2,3.2 0 1,0 6.4,0a3.2,3.2 0 1,0 -6.4,0M811.4,875.7a3.2,3.2 0 1,0 6.4,0a3.2,3.2 0 1,0 -6.4,0M814.8,876.2a3.2,3.2 0 1,0 6.4,0a3.2,3.2 0 1,0 -6.4,0M818.3,872a3.2,3.2 0 1,0 6.4,0a3.2,3.2 0 1,0 -6.4,0M820.3,875.7a3.2,3.2 0 1,0 6.4,0a3.2,3.2 0 1,0 -6.4,0M824.5,876a3.2,3.2 0 1,0 6.4,0a3.2,3.2 0 1,0 -6.4,0M827.2,875.6a3.2,3.2 0 1,0 6.4,0a3.2,3.2 0 1,0 -6.4,0M829.6,876a3.2,3.2 0 1,0 6.4,0a3.2,3.2 0 1,0 -6.4,0M833.2,871.3a3.2,3.2 0 1,0 6.4,0a3.2,3.2 0 1,0 -6.4,0M835.1,870.8a3.2,3.2 0 1,0 6.4,0a3.2,3.2 0 1,0 -6.4,0M838,873.2a3.2,3.2 0 1,0 6.4,0a3.2,3.2 0 1,0 -6.4,0M841.2,866.6a3.2,3.2 0 1,0 6.4,0a3.2,3.2 0 1,0 -6.4,0M844.6,870.4a3.2,3.2 0 1,0 6.4,0a3.2,3.2 0 1,0 -6.4,0M847.7,867.8a3.2,3.2 0 1,0 6.4,0a3.2,3.2 0 1,0 -6.4,0M850.6,867.5a3.2,3.2 0 1,0 6.4,0a3.2,3.2 0 1,0 -6.4,0M853.8,862.9a3.2,3.2 0 1,0 6.4,0a3.2,3.2 0 1,0 -6.4,0M855.8,864.4a3.2,3.2 0 1,0 6.4,0a3.2,3.2 0 1,0 -6.4,0M860,865.9a3.2,3.2 0 1,0 6.4,0a3.2,3.2 0 1,0 -6.4,0M862.2,867.5a3.2,3.2 0 1,0 6.4,0a3.2,3.2 0 1,0 -6.4,0M865.5,866.7a3.2,3.2 0 1,0 6.4,0a3.2,3.2 0 1,0 -6.4,0M868.6,862.6a3.2,3.2 0 1,0 6.4,0a3.2,3.2 0 1,0 -6.4,0M871.3,861.2a3.2,3.2 0 1,0 6.4,0a3.2,3.2 0 1,0 -6.4,0M874.2,858.3a3.2,3.2 0 1,0 6.4,0a3.2,3.2 0 1,0 -6.4,0M877.3,860.6a3.2,3.2 0 1,0 6.4,0a3.2,3.2 0 1,0 -6.4,0M880.8,857.6a3.2,3.2 0 1,0 6.4,0a3.2,3.2 0 1,0 -6.4,0M884.1,858.9a3.2,3.2 0 1,0 6.4,0a3.2,3.2 0 1,0 -6.4,0M887.1,861a3.2,3.2 0 1,0 6.4,0a3.2,3.2 0 1,0 -6.4,0M889.4,854.9a3.2,3.2 0 1,0 6.4,0a3.2,3.2 0 1,0 -6.4,0M892.4,849.7a3.2,3.2 0 1,0 6.4,0a3.2,3.2 0 1,0 -6.4,0M895.4,850.3a3.2,3.2 0 1,0 6.4,0a3.2,3.2 0 1,0 -6.4,0M899,847.5a3.2,3.2 0 1,0 6.4,0a3.2,3.2 0 1,0 -6.4,0M900.9,847.1a3.2,3.2 0 1,0 6.4,0a3.2,3.2 0 1,0 -6.4,0M905.4,852.8a3.2,3.2 0 1,0 6.4,0a3.2,3.2 0 1,0 -6.4,0M907.6,848.5a3.2,3.2 0 1,0 6.4,0a3.2,3.2 0 1,0 -6.4,0M910.4,842.1a3.2,3.2 0 1,0 6.4,0a3.2,3.2 0 1,0 -6.4,0M914,846.6a3.2,3.2 0 1,0 6.4,0a3.2,3.2 0 1,0 -6.4,0M917.3,846.6a3.2,3.2 0 1,0 6.4,0a3.2,3.2 0 1,0 -6.4,0M920,840.1a3.2,3.2 0 1,0 6.4,0a3.2,3.2 0 1,0 -6.4,0M923.3,837.2a3.2,3.2 0 1,0 6.4,0a3.2,3.2 0 1,0 -6.4,0M925.9,836.1a3.2,3.2 0 1,0 6.4,0a3.2,3.2 0 1,0 -6.4,0M929.4,835.8a3.2,3.2 0 1,0 6.4,0a3.2,3.2 0 1,0 -6.4,0M932.4,834.8a3.2,3.2 0 1,0 6.4,0a3.2,3.2 0 1,0 -6.4,0M934.8,834.3a3.2,3.2 0 1,0 6.4,0a3.2,3.2 0 1,0 -6.4,0M938.4,832.5a3.2,3.2 0 1,0 6.4,0a3.2,3.2 0 1,0 -6.4,0M940.9,830.5a3.2,3.2 0 1,0 6.4,0a3.2,3.2 0 1,0 -6.4,0M943.8,829a3.2,3.2 0 1,0 6.4,0a3.2,3.2 0 1,0 -6.4,0M946.4,825.1a3.2,3.2 0 1,0 6.4,0a3.2,3.2 0 1,0 -6.4,0M949.7,817a3.2,3.2 0 1,0 6.4,0a3.2,3.2 0 1,0 -6.4,0M953.1,818.9a3.2,3.2 0 1,0 6.4,0a3.2,3.2 0 1,0 -6.4,0M955.2,818.1a3.2,3.2 0 1,0 6.4,0a3.2,3.2 0 1,0 -6.4,0M959.1,814.1a3.2,3.2 0 1,0 6.4,0a3.2,3.2 0 1,0 -6.4,0M962,815.6a3.2,3.2 0 1,0 6.4,0a3.2,3.2 0 1,0 -6.4,0M964.9,809.8a3.2,3.2 0 1,0 6.4,0a3.2,3.2 0 1,0 -6.4,0M966.8,806a3.2,3.2 0 1,0 6.4,0a3.2,3.2 0 1,0 -6.4,0M970.8,810.4a3.2,3.2 0 1,0 6.4,0a3.2,3.2 0 1,0 -6.4,0M974.1,805.9a3.2,3.2 0 1,0 6.4,0a3.2,3.2 0 1,0 -6.4,0M976.5,802.4a3.2,3.2 0 1,0 6.4,0a3.2,3.2 0 1,0 -6.4,0M979.8,802a3.2,3.2 0 1,0 6.4,0a3.2,3.2 0 1,0 -6.4,0M981.7,800a3.2,3.2 0 1,0 6.4,0a3.2,3.2 0 1,0 -6.4,0M986.1,795.6a3.2,3.2 0 1,0 6.4,0a3.2,3.2 0 1,0 -6.4,0M988.5,785.4a3.2,3.2 0 1,0 6.4,0a3.2,3.2 0 1,0 -6.4,0M992.2,788a3.2,3.2 0 1,0 6.4,0a3.2,3.2 0 1,0 -6.4,0M994,786a3.2,3.2 0 1,0 6.4,0a3.2,3.2 0 1,0 -6.4,0M998.1,781.8a3.2,3.2 0 1,0 6.4,0a3.2,3.2 0 1,0 -6.4,0M1000.7,782.2a3.2,3.2 0 1,0 6.4,0a3.2,3.2 0 1,0 -6.4,0M1004.2,781.8a3.2,3.2 0 1,0 6.4,0a3.2,3.2 0 1,0 -6.4,0M1006.4,773.6a3.2,3.2 0 1,0 6.4,0a3.2,3.2 0 1,0 -6.4,0M1009.5,768a3.2,3.2 0 1,0 6.4,0a3.2,3.2 0 1,0 -6.4,0M1013.8,772.8a3.2,3.2 0 1,0 6.4,0a3.2,3.2 0 1,0 -6.4,0M1015.4,761.6a3.2,3.2 0 1,0 6.4,0a3.2,3.2 0 1,0 -6.4,0M1018.5,755.2a3.2,3.2 0 1,0 6.4,0a3.2,3.2 0 1,0 -6.4,0M1021.7,755.2a3.2,3.2 0 1,0 6.4,0a3.2,3.2 0 1,0 -6.4,0M1024.3,751.7a3.2,3.2 0 1,0 6.4,0a3.2,3.2 0 1,0 -6.4,0M1028.3,744.6a3.2,3.2 0 1,0 6.4,0a3.2,3.2 0 1,0 -6.4,0M1031.6,744.8a3.2,3.2 0 1,0 6.4,0a3.2,3.2 0 1,0 -6.4,0M1033.5,737.3a3.2,3.2 0 1,0 6.4,0a3.2,3.2 0 1,0 -6.4,0M1036,732.1a3.2,3.2 0 1,0 6.4,0a3.2,3.2 0 1,0 -6.4,0M1040.3,731.3a3.2,3.2 0 1,0 6.4,0a3.2,3.2 0 1,0 -6.4,0M1043.3,729.1a3.2,3.2 0 1,0 6.4,0a3.2,3.2 0 1,0 -6.4,0M1046.2,721.3a3.2,3.2 0 1,0 6.4,0a3.2,3.2 0 1,0 -6.4,0M1049.3,720.3a3.2,3.2 0 1,0 6.4,0a3.2,3.2 0 1,0 -6.4,0M1051.4,715.3a3.2,3.2 0 1,0 6.4,0a3.2,3.2 0 1,0 -6.4,0M1054.7,719.8a3.2,3.2 0 1,0 6.4,0a3.2,3.2 0 1,0 -6.4,0M1057.2,706.3a3.2,3.2 0 1,0 6.4,0a3.2,3.2 0 1,0 -6.4,0M1060.2,708.6a3.2,3.2 0 1,0 6.4,0a3.2,3.2 0 1,0 -6.4,0M1064.2,701a3.2,3.2 0 1,0 6.4,0a3.2,3.2 0 1,0 -6.4,0M1066.5,697.2a3.2,3.2 0 1,0 6.4,0a3.2,3.2 0 1,0 -6.4,0M1070.8,696a3.2,3.2 0 1,0 6.4,0a3.2,3.2 0 1,0 -6.4,0M1072.8,692.9a3.2,3.2 0 1,0 6.4,0a3.2,3.2 0 1,0 -6.4,0M1075.5,690.3a3.2,3.2 0 1,0 6.4,0a3.2,3.2 0 1,0 -6.4,0M1079.2,684a3.2,3.2 0 1,0 6.4,0a3.2,3.2 0 1,0 -6.4,0M1082.6,677.6a3.2,3.2 0 1,0 6.4,0a3.2,3.2 0 1,0 -6.4,0M1085,673.9a3.2,3.2 0 1,0 6.4,0a3.2,3.2 0 1,0 -6.4,0M1087.3,673a3.2,3.2 0 1,0 6.4,0a3.2,3.2 0 1,0 -6.4,0M1091,669.4a3.2,3.2 0 1,0 6.4,0a3.2,3.2 0 1,0 -6.4,0M1094.4,668a3.2,3.2 0 1,0 6.4,0a3.2,3.2 0 1,0 -6.4,0M1096.6,661.8a3.2,3.2 0 1,0 6.4,0a3.2,3.2 0 1,0 -6.4,0M1099.5,660.5a3.2,3.2 0 1,0 6.4,0a3.2,3.2 0 1,0 -6.4,0M1103.3,658.9a3.2,3.2 0 1,0 6.4,0a3.2,3.2 0 1,0 -6.4,0M1105.9,652.6a3.2,3.2 0 1,0 6.4,0a3.2,3.2 0 1,0 -6.4,0M1108.3,645.6a3.2,3.2 0 1,0 6.4,0a3.2,3.2 0 1,0 -6.4,0M1111.6,644.2a3.2,3.2 0 1,0 6.4,0a3.2,3.2 0 1,0 -6.4,0M1114.5,641.3a3.2,3.2 0 1,0 6.4,0a3.2,3.2 0 1,0 -6.4,0M1117.9,647.8a3.2,3.2 0 1,0 6.4,0a3.2,3.2 0 1,0 -6.4,0M1120.8,639a3.2,3.2 0 1,0 6.4,0a3.2,3.2 0 1,0 -6.4,0M1124.3,643a3.2,3.2 0 1,0 6.4,0a3.2,3.2 0 1,0 -6.4,0M1127.1,639.3a3.2,3.2 0 1,0 6.4,0a3.2,3.2 0 1,0 -6.4,0M1129.1,640.8a3.2,3.2 0 1,0 6.4,0a3.2,3.2 0 1,0 -6.4,0M1133,637.2a3.2,3.2 0 1,0 6.4,0a3.2,3.2 0 1,0 -6.4,0M1136.2,632.6a3.2,3.2 0 1,0 6.4,0a3.2,3.2 0 1,0 -6.4,0M1139,630.9a3.2,3.2 0 1,0 6.4,0a3.2,3.2 0 1,0 -6.4,0M1142.3,630.3a3.2,3.2 0 1,0 6.4,0a3.2,3.2 0 1,0 -6.4,0M1144.6,629.2a3.2,3.2 0 1,0 6.4,0a3.2,3.2 0 1,0 -6.4,0M1147.4,625.7a3.2,3.2 0 1,0 6.4,0a3.2,3.2 0 1,0 -6.4,0M1151.2,625.6a3.2,3.2 0 1,0 6.4,0a3.2,3.2 0 1,0 -6.4,0M1153.3,628.5a3.2,3.2 0 1,0 6.4,0a3.2,3.2 0 1,0 -6.4,0M1155.8,617.3a3.2,3.2 0 1,0 6.4,0a3.2,3.2 0 1,0 -6.4,0M1160.3,620.8a3.2,3.2 0 1,0 6.4,0a3.2,3.2 0 1,0 -6.4,0M1162.5,615.2a3.2,3.2 0 1,0 6.4,0a3.2,3.2 0 1,0 -6.4,0M1165.7,615.9a3.2,3.2 0 1,0 6.4,0a3.2,3.2 0 1,0 -6.4,0M1168.2,615.3a3.2,3.2 0 1,0 6.4,0a3.2,3.2 0 1,0 -6.4,0M1171.2,610.2a3.2,3.2 0 1,0 6.4,0a3.2,3.2 0 1,0 -6.4,0M1174.3,610a3.2,3.2 0 1,0 6.4,0a3.2,3.2 0 1,0 -6.4,0M1177.6,600.8a3.2,3.2 0 1,0 6.4,0a3.2,3.2 0 1,0 -6.4,0M1181,605.9a3.2,3.2 0 1,0 6.4,0a3.2,3.2 0 1,0 -6.4,0M1182.8,598.5a3.2,3.2 0 1,0 6.4,0a3.2,3.2 0 1,0 -6.4,0M1187.1,599.3a3.2,3.2 0 1,0 6.4,0a3.2,3.2 0 1,0 -6.4,0M1189.3,595.3a3.2,3.2 0 1,0 6.4,0a3.2,3.2 0 1,0 -6.4,0M1192.3,584.8a3.2,3.2 0 1,0 6.4,0a3.2,3.2 0 1,0 -6.4,0M1196.1,587.2a3.2,3.2 0 1,0 6.4,0a3.2,3.2 0 1,0 -6.4,0M1198.8,587.4a3.2,3.2 0 1,0 6.4,0a3.2,3.2 0 1,0 -6.4,0M1201.1,588.9a3.2,3.2 0 1,0 6.4,0a3.2,3.2 0 1,0 -6.4,0M1205.6,583.5a3.2,3.2 0 1,0 6.4,0a3.2,3.2 0 1,0 -6.4,0M1207.4,581.9a3.2,3.2 0 1,0 6.4,0a3.2,3.2 0 1,0 -6.4,0M1210.9,576a3.2,3.2 0 1,0 6.4,0a3.2,3.2 0 1,0 -6.4,0M1213.9,583a3.2,3.2 0 1,0 6.4,0a3.2,3.2 0 1,0 -6.4,0M1217.4,583.5a3.2,3.2 0 1,0 6.4,0a3.2,3.2 0 1,0 -6.4,0M1219.6,578.8a3.2,3.2 0 1,0 6.4,0a3.2,3.2 0 1,0 -6.4,0M1223.3,579.3a3.2,3.2 0 1,0 6.4,0a3.2,3.2 0 1,0 -6.4,0M1225.5,577.6a3.2,3.2 0 1,0 6.4,0a3.2,3.2 0 1,0 -6.4,0M1229.3,587.6a3.2,3.2 0 1,0 6.4,0a3.2,3.2 0 1,0 -6.4,0M1231.5,596.3a3.2,3.2 0 1,0 6.4,0a3.2,3.2 0 1,0 -6.4,0M1234.6,595.3a3.2,3.2 0 1,0 6.4,0a3.2,3.2 0 1,0 -6.4,0M1238.7,602.6a3.2,3.2 0 1,0 6.4,0a3.2,3.2 0 1,0 -6.4,0M1240.9,608a3.2,3.2 0 1,0 6.4,0a3.2,3.2 0 1,0 -6.4,0M1243.8,612.2a3.2,3.2 0 1,0 6.4,0a3.2,3.2 0 1,0 -6.4,0M1247.8,627.7a3.2,3.2 0 1,0 6.4,0a3.2,3.2 0 1,0 -6.4,0M1250,629.8a3.2,3.2 0 1,0 6.4,0a3.2,3.2 0 1,0 -6.4,0M1252.4,642.5a3.2,3.2 0 1,0 6.4,0a3.2,3.2 0 1,0 -6.4,0M1256.1,654.1a3.2,3.2 0 1,0 6.4,0a3.2,3.2 0 1,0 -6.4,0M1258.3,666.5a3.2,3.2 0 1,0 6.4,0a3.2,3.2 0 1,0 -6.4,0M1262.3,676.4a3.2,3.2 0 1,0 6.4,0a3.2,3.2 0 1,0 -6.4,0M1265.3,688a3.2,3.2 0 1,0 6.4,0a3.2,3.2 0 1,0 -6.4,0M1267.5,696.9a3.2,3.2 0 1,0 6.4,0a3.2,3.2 0 1,0 -6.4,0M1270.5,707.7a3.2,3.2 0 1,0 6.4,0a3.2,3.2 0 1,0 -6.4,0M1273.9,723.7a3.2,3.2 0 1,0 6.4,0a3.2,3.2 0 1,0 -6.4,0M1276.8,733.7a3.2,3.2 0 1,0 6.4,0a3.2,3.2 0 1,0 -6.4,0M1279.4,744.1a3.2,3.2 0 1,0 6.4,0a3.2,3.2 0 1,0 -6.4,0M1283.1,756.2a3.2,3.2 0 1,0 6.4,0a3.2,3.2 0 1,0 -6.4,0M1284.9,770.2a3.2,3.2 0 1,0 6.4,0a3.2,3.2 0 1,0 -6.4,0M1288.6,778.1a3.2,3.2 0 1,0 6.4,0a3.2,3.2 0 1,0 -6.4,0M1291.6,790.9a3.2,3.2 0 1,0 6.4,0a3.2,3.2 0 1,0 -6.4,0M1294.7,801.3a3.2,3.2 0 1,0 6.4,0a3.2,3.2 0 1,0 -6.4,0M1297.9,817.5a3.2,3.2 0 1,0 6.4,0a3.2,3.2 0 1,0 -6.4,0M1300.2,828.8a3.2,3.2 0 1,0 6.4,0a3.2,3.2 0 1,0 -6.4,0M1304.1,842.8a3.2,3.2 0 1,0 6.4,0a3.2,3.2 0 1,0 -6.4,0M1306.7,841.1a3.2,3.2 0 1,0 6.4,0a3.2,3.2 0 1,0 -6.4,0M1309.5,850.5a3.2,3.2 0 1,0 6.4,0a3.2,3.2 0 1,0 -6.4,0M1312.2,861.3a3.2,3.2 0 1,0 6.4,0a3.2,3.2 0 1,0 -6.4,0M1315.3,864.2a3.2,3.2 0 1,0 6.4,0a3.2,3.2 0 1,0 -6.4,0M1319,869.5a3.2,3.2 0 1,0 6.4,0a3.2,3.2 0 1,0 -6.4,0M1321.4,880.5a3.2,3.2 0 1,0 6.4,0a3.2,3.2 0 1,0 -6.4,0M1324.8,879.8a3.2,3.2 0 1,0 6.4,0a3.2,3.2 0 1,0 -6.4,0M1328.3,882.2a3.2,3.2 0 1,0 6.4,0a3.2,3.2 0 1,0 -6.4,0M1331.3,886.2a3.2,3.2 0 1,0 6.4,0a3.2,3.2 0 1,0 -6.4,0M1334.5,895a3.2,3.2 0 1,0 6.4,0a3.2,3.2 0 1,0 -6.4,0M1336.7,898.9a3.2,3.2 0 1,0 6.4,0a3.2,3.2 0 1,0 -6.4,0M1339.3,898a3.2,3.2 0 1,0 6.4,0a3.2,3.2 0 1,0 -6.4,0M1343.3,902.8a3.2,3.2 0 1,0 6.4,0a3.2,3.2 0 1,0 -6.4,0M1345.9,910.6a3.2,3.2 0 1,0 6.4,0a3.2,3.2 0 1,0 -6.4,0M1349.3,914.2a3.2,3.2 0 1,0 6.4,0a3.2,3.2 0 1,0 -6.4,0M1351.8,914.2a3.2,3.2 0 1,0 6.4,0a3.2,3.2 0 1,0 -6.4,0M1355.3,921.1a3.2,3.2 0 1,0 6.4,0a3.2,3.2 0 1,0 -6.4,0M1358.2,924.2a3.2,3.2 0 1,0 6.4,0a3.2,3.2 0 1,0 -6.4,0M1361.1,920.7a3.2,3.2 0 1,0 6.4,0a3.2,3.2 0 1,0 -6.4,0M1364,927.8a3.2,3.2 0 1,0 6.4,0a3.2,3.2 0 1,0 -6.4,0M1367,932.6a3.2,3.2 0 1,0 6.4,0a3.2,3.2 0 1,0 -6.4,0M1369.9,932.5a3.2,3.2 0 1,0 6.4,0a3.2,3.2 0 1,0 -6.4,0M1372.9,930.5a3.2,3.2 0 1,0 6.4,0a3.2,3.2 0 1,0 -6.4,0M1376.2,937.9a3.2,3.2 0 1,0 6.4,0a3.2,3.2 0 1,0 -6.4,0M1378.6,942.8a3.2,3.2 0 1,0 6.4,0a3.2,3.2 0 1,0 -6.4,0M1382.6,946.8a3.2,3.2 0 1,0 6.4,0a3.2,3.2 0 1,0 -6.4,0M1384.8,937.7a3.2,3.2 0 1,0 6.4,0a3.2,3.2 0 1,0 -6.4,0M1388.2,952.5a3.2,3.2 0 1,0 6.4,0a3.2,3.2 0 1,0 -6.4,0M1390.8,943.3a3.2,3.2 0 1,0 6.4,0a3.2,3.2 0 1,0 -6.4,0M1393.7,950.3a3.2,3.2 0 1,0 6.4,0a3.2,3.2 0 1,0 -6.4,0M1397.7,952.2a3.2,3.2 0 1,0 6.4,0a3.2,3.2 0 1,0 -6.4,0M1399.7,952.6a3.2,3.2 0 1,0 6.4,0a3.2,3.2 0 1,0 -6.4,0M1402.2,951.3a3.2,3.2 0 1,0 6.4,0a3.2,3.2 0 1,0 -6.4,0M1405.5,948.7a3.2,3.2 0 1,0 6.4,0a3.2,3.2 0 1,0 -6.4,0M1408.7,954.6a3.2,3.2 0 1,0 6.4,0a3.2,3.2 0 1,0 -6.4,0M1412.8,951.8a3.2,3.2 0 1,0 6.4,0a3.2,3.2 0 1,0 -6.4,0M1414.9,947.6a3.2,3.2 0 1,0 6.4,0a3.2,3.2 0 1,0 -6.4,0M1418.2,963.5a3.2,3.2 0 1,0 6.4,0a3.2,3.2 0 1,0 -6.4,0M1420.3,958.3a3.2,3.2 0 1,0 6.4,0a3.2,3.2 0 1,0 -6.4,0M1424,962.2a3.2,3.2 0 1,0 6.4,0a3.2,3.2 0 1,0 -6.4,0M1427.1,955.3a3.2,3.2 0 1,0 6.4,0a3.2,3.2 0 1,0 -6.4,0M1430.6,962.7a3.2,3.2 0 1,0 6.4,0a3.2,3.2 0 1,0 -6.4,0M1432.5,963.7a3.2,3.2 0 1,0 6.4,0a3.2,3.2 0 1,0 -6.4,0M1436.1,964.3a3.2,3.2 0 1,0 6.4,0a3.2,3.2 0 1,0 -6.4,0M1438.9,960.5a3.2,3.2 0 1,0 6.4,0a3.2,3.2 0 1,0 -6.4,0M1441.3,957.8a3.2,3.2 0 1,0 6.4,0a3.2,3.2 0 1,0 -6.4,0M1444.8,961.3a3.2,3.2 0 1,0 6.4,0a3.2,3.2 0 1,0 -6.4,0M1447.7,956.2a3.2,3.2 0 1,0 6.4,0a3.2,3.2 0 1,0 -6.4,0M1449.8,958.1a3.2,3.2 0 1,0 6.4,0a3.2,3.2 0 1,0 -6.4,0M1454.1,963.7a3.2,3.2 0 1,0 6.4,0a3.2,3.2 0 1,0 -6.4,0M1457,961.1a3.2,3.2 0 1,0 6.4,0a3.2,3.2 0 1,0 -6.4,0M1459.6,964a3.2,3.2 0 1,0 6.4,0a3.2,3.2 0 1,0 -6.4,0M1462.2,964.6a3.2,3.2 0 1,0 6.4,0a3.2,3.2 0 1,0 -6.4,0M1466.5,970.8a3.2,3.2 0 1,0 6.4,0a3.2,3.2 0 1,0 -6.4,0M1468.9,969.5a3.2,3.2 0 1,0 6.4,0a3.2,3.2 0 1,0 -6.4,0M1472.3,966.2a3.2,3.2 0 1,0 6.4,0a3.2,3.2 0 1,0 -6.4,0M1475.4,970.2a3.2,3.2 0 1,0 6.4,0a3.2,3.2 0 1,0 -6.4,0M1477.6,965.1a3.2,3.2 0 1,0 6.4,0a3.2,3.2 0 1,0 -6.4,0M1481.2,966.8a3.2,3.2 0 1,0 6.4,0a3.2,3.2 0 1,0 -6.4,0M1483.7,970.7a3.2,3.2 0 1,0 6.4,0a3.2,3.2 0 1,0 -6.4,0M1486.8,965.1a3.2,3.2 0 1,0 6.4,0a3.2,3.2 0 1,0 -6.4,0M1489.8,968.3a3.2,3.2 0 1,0 6.4,0a3.2,3.2 0 1,0 -6.4,0M1492.8,965.8a3.2,3.2 0 1,0 6.4,0a3.2,3.2 0 1,0 -6.4,0M1496.3,970.3a3.2,3.2 0 1,0 6.4,0a3.2,3.2 0 1,0 -6.4,0M1498.9,975a3.2,3.2 0 1,0 6.4,0a3.2,3.2 0 1,0 -6.4,0M1501.7,968.7a3.2,3.2 0 1,0 6.4,0a3.2,3.2 0 1,0 -6.4,0M1504.7,971.9a3.2,3.2 0 1,0 6.4,0a3.2,3.2 0 1,0 -6.4,0M1508,969.1a3.2,3.2 0 1,0 6.4,0a3.2,3.2 0 1,0 -6.4,0M1510.4,968.8a3.2,3.2 0 1,0 6.4,0a3.2,3.2 0 1,0 -6.4,0M1513.6,969a3.2,3.2 0 1,0 6.4,0a3.2,3.2 0 1,0 -6.4,0M1516.8,976.9a3.2,3.2 0 1,0 6.4,0a3.2,3.2 0 1,0 -6.4,0M1519.5,979.8a3.2,3.2 0 1,0 6.4,0a3.2,3.2 0 1,0 -6.4,0M1522.7,974.9a3.2,3.2 0 1,0 6.4,0a3.2,3.2 0 1,0 -6.4,0M1525.5,971.9a3.2,3.2 0 1,0 6.4,0a3.2,3.2 0 1,0 -6.4,0M1529.7,976.2a3.2,3.2 0 1,0 6.4,0a3.2,3.2 0 1,0 -6.4,0M1532.4,973.6a3.2,3.2 0 1,0 6.4,0a3.2,3.2 0 1,0 -6.4,0M1535,977.1a3.2,3.2 0 1,0 6.4,0a3.2,3.2 0 1,0 -6.4,0M1537.8,975.9a3.2,3.2 0 1,0 6.4,0a3.2,3.2 0 1,0 -6.4,0M1541.8,976.2a3.2,3.2 0 1,0 6.4,0a3.2,3.2 0 1,0 -6.4,0M1543.9,977.4a3.2,3.2 0 1,0 6.4,0a3.2,3.2 0 1,0 -6.4,0M1546.8,974.3a3.2,3.2 0 1,0 6.4,0a3.2,3.2 0 1,0 -6.4,0M1549.9,975a3.2,3.2 0 1,0 6.4,0a3.2,3.2 0 1,0 -6.4,0M1552.9,971.5a3.2,3.2 0 1,0 6.4,0a3.2,3.2 0 1,0 -6.4,0M1556.4,975.3a3.2,3.2 0 1,0 6.4,0a3.2,3.2 0 1,0 -6.4,0M1558.8,972.8a3.2,3.2 0 1,0 6.4,0a3.2,3.2 0 1,0 -6.4,0M1562.7,976.5a3.2,3.2 0 1,0 6.4,0a3.2,3.2 0 1,0 -6.4,0M1564.4,974.4a3.2,3.2 0 1,0 6.4,0a3.2,3.2 0 1,0 -6.4,0M1568.1,977.5a3.2,3.2 0 1,0 6.4,0a3.2,3.2 0 1,0 -6.4,0M1570.3,978.6a3.2,3.2 0 1,0 6.4,0a3.2,3.2 0 1,0 -6.4,0M1574.6,973.4a3.2,3.2 0 1,0 6.4,0a3.2,3.2 0 1,0 -6.4,0M1576.7,975.2a3.2,3.2 0 1,0 6.4,0a3.2,3.2 0 1,0 -6.4,0" fill="none" stroke="#4a4a4a" stroke-width="1.1" opacity="1"/>
<path d="M136,895.5l1.5,0 1.5,0 1.5,0 1.5,0 1.5,0 1.5,0 1.5,0 1.5,0 1.5,0 1.5,0 1.5,0 1.5,0 1.5,0 1.5,0 1.5,0 1.5,0 1.5,0 1.5,0 1.5,0 1.5,0 1.5,0 1.5,0 1.5,0 1.5,0 1.5,0 1.5,0 1.5,0 1.5,0 1.5,0 1.5,.1 1.5,0 1.5,0 1.5,0 1.5,0 1.5,0 1.5,0 1.5,0 1.5,0 1.5,0 1.5,0 1.5,0 1.5,0 1.5,0 1.5,0 1.5,0 1.5,0 1.5,0 1.5,0 1.5,0 1.5,0 1.5,0 1.5,.1 1.5,0 1.5,0 1.5,0 1.5,0 1.5,0 1.5,0 1.5,0 1.5,0 1.5,0 1.5,0 1.5,0 1.5,0 1.5,0 1.5,0 1.5,0 1.5,.1 1.5,0 1.5,0 1.5,0 1.5,0 1.5,0 1.5,0 1.5,0 1.5,0 1.5,0 1.5,0 1.5,0 1.5,0 1.5,.1 1.5,0 1.5,0 1.5,0 1.5,0 1.5,0 1.5,0 1.5,0 1.5,0 1.5,0 1.5,0 1.5,.1 1.5,0 1.5,0 1.5,0 1.5,0 1.5,0 1.5,0 1.5,0 1.5,0 1.5,0 1.5,0 1.5,.1 1.5,0 1.5,0 1.5,0 1.5,0 1.5,0 1.5,0 1.5,0 1.5,0 1.5,.1 1.5,0 1.5,0 1.5,0 1.5,0 1.5,0 1.5,0 1.5,0 1.5,0 1.5,.1 1.5,0 1.5,0 1.5,0 1.5,0 1.5,0 1.5,0 1.5,0 1.5,.1 1.5,0 1.5,0 1.5,0 1.5,0 1.5,0 1.5,0 1.5,0 1.5,.1 1.5,0 1.5,0 1.5,0 1.5,0 1.5,0 1.5,0 1.5,0 1.5,.1 1.5,0 1.5,0 1.5,0 1.5,0 1.5,0 1.5,0 1.5,.1 1.5,0 1.5,0 1.5,0 1.5,0 1.5,0 1.5,0 1.5,.1 1.5,0 1.5,0 1.5,0 1.5,0 1.5,0 1.5,0 1.5,.1 1.5,0 1.5,0 1.5,0 1.5,0 1.5,0 1.5,0 1.5,.1 1.5,0 1.5,0 1.5,0 1.5,0 1.5,0 1.5,0 1.5,.1 1.5,0 1.5,0 1.5,0 1.5,0 1.5,0 1.5,.1 1.5,0 1.5,0 1.5,0 1.5,0 1.5,0 1.5,.1 1.5,0 1.5,0 1.5,0 1.5,0 1.5,0 1.5,.1 1.5,0 1.5,0 1.5,0 1.5,0 1.5,0 1.5,.1 1.5,0 1.5,0 1.5,0 1.5,0 1.5,0 1.5,.1 1.5,0 1.5,0 1.5,0 1.5,0 1.5,0 1.5,.1 1.5,0 1.5,0 1.5,0 1.5,0 1.5,0 1.5,.1 1.5,0 1.5,0 1.5,0 1.5,0 1.5,0 1.5,.1 1.5,0 1.5,0 1.5,0 1.5,0 1.5,.1 1.5,0 1.5,0 1.5,0 1.5,0 1.5,0 1.5,.1 1.5,0 1.5,0 1.5,0 1.5,0 1.5,.1 1.5,0 1.5,0 1.5,0 1.5,0 1.5,0 1.5,.1 1.5,0 1.5,0 1.5,0 1.5,0 1.5,.1 1.5,0 1.5,0 1.5,0 1.5,0 1.5,0 1.5,.1 1.5,0 1.5,0 1.5,0 1.5,0 1.5,.1 1.5,0 1.5,0 1.5,0 1.5,.1 1.5,0 1.5,0 1.5,0 1.5,.1 1.5,0 1.5,0 1.5,.1 1.5,0 1.5,0 1.5,0 1.5,.1 1.5,0 1.5,0 1.5,.1 1.5,0 1.5,0 1.5,.1 1.5,0 1.5,0 1.5,.1 1.5,0 1.5,.1 1.5,0 1.5,0 1.5,.1 1.5,0 1.5,0 1.5,.1 1.5,0 1.5,.1 1.5,0 1.5,0 1.5,.1 1.5,0 1.5,.1 1.5,0 1.5,0 1.5,.1 1.5,0 1.5,.1 1.5,0 1.5,.1 1.5,0 1.5,0 1.5,.1 1.5,0 1.5,.1 1.5,0 1.5,.1 1.5,0 1.5,0 1.5,.1 1.5,0 1.5,.1 1.5,0 1.5,0 1.5,.1 1.5,0 1.5,.1 1.5,0 1.5,.1 1.5,0 1.5,0 1.5,.1 1.5,0 1.5,.1 1.5,0 1.5,0 1.5,.1 1.5,0 1.5,.1 1.5,0 1.5,0 1.5,.1 1.5,0 1.5,0 1.5,.1 1.5,0 1.5,0 1.5,.1 1.5,0 1.5,0 1.5,.1 1.5,0 1.5,0 1.5,.1 1.5,0 1.5,0 1.5,.1 1.5,0 1.5,0 1.5,.1 1.5,0 1.5,0 1.5,0 1.5,.1 1.5,0 1.5,0 1.5,0 1.5,.1 1.5,0 1.5,0 1.5,.1 1.5,0 1.5,0 1.5,0 1.5,.1 1.5,0 1.5,0 1.5,0 1.5,.1 1.5,0 1.5,0 1.5,0 1.5,.1 1.5,0 1.5,0 1.5,0 1.5,0 1.5,.1 1.5,0 1.5,0 1.5,0 1.5,.1 1.5,0 1.5,0 1.5,0 1.5,.1 1.5,0 1.5,0 1.5,0 1.5,0 1.5,.1 1.5,0 1.5,0 1.5,0 1.5,.1 1.5,0 1.5,0 1.5,0 1.5,.1 1.5,0 1.5,0 1.5,0 1.5,0 1.5,.1 1.5,0 1.5,0 1.5,0 1.5,.1 1.5,0 1.5,0 1.5,0 1.5,.1 1.5,0 1.5,0 1.5,0 1.5,0 1.5,.1 1.5,0 1.5,0 1.5,0 1.5,.1 1.5,0 1.5,0 1.5,0 1.5,.1 1.5,0 1.5,0 1.5,0 1.5,.1 1.5,0 1.5,0 1.5,0 1.5,.1 1.5,0 1.5,0 1.5,0 1.5,.1 1.5,0 1.5,0 1.5,0 1.5,0 1.5,.1 1.5,0 1.5,0 1.5,0 1.5,.1 1.5,0 1.5,0 1.5,0 1.5,0 1.5,.1 1.5,0 1.5,0 1.5,0 1.5,0 1.5,.1 1.5,0 1.5,0 1.5,0 1.5,0 1.5,.1 1.5,0 1.5,0 1.5,0 1.5,0 1.5,.1 1.5,0 1.5,0 1.5,0 1.5,0 1.5,.1 1.5,0 1.5,0 1.5,0 1.5,0 1.5,.1 1.5,0 1.5,0 1.5,0 1.5,.1 1.5,0 1.5,0 1.5,0 1.5,0 1.5,.1 1.5,0 1.5,0 1.5,0 1.5,.1 1.5,0 1.5,0 1.5,.1 1.5,0 1.5,0 1.5,0 1.5,.1 1.5,0 1.5,0 1.5,.1 1.5,0 1.5,0 1.5,0 1.5,.1 1.5,0 1.5,0 1.5,.1 1.5,0 1.5,0 1.5,.1 1.5,0 1.5,.1 1.5,0 1.5,0 1.5,.1 1.5,0 1.5,.1 1.5,0 1.5,0 1.5,.1 1.5,0 1.5,.1 1.5,0 1.5,.1 1.5,0 1.5,.1 1.5,0 1.5,.1 1.5,0 1.5,.1 1.5,.1 1.5,0 1.5,.1 1.5,.1 1.5,.1 1.5,.1 1.5,.1 1.5,0 1.5,.1 1.5,.1 1.5,.1 1.5,.2 1.5,.1 1.5,.1 1.5,.1 1.5,.1 1.5,.1 1.5,.2 1.5,.1 1.5,.1 1.5,.1 1.5,.2 1.5,.1 1.5,.1 1.5,.2 1.5,.1 1.5,.2 1.5,.1 1.5,.2 1.5,.1 1.5,.2 1.5,.1 1.5,.2 1.5,.1 1.5,.2 1.5,.2 1.5,.2 1.5,.1 1.5,.2 1.5,.2 1.5,.2 1.5,.3 1.5,.2 1.5,.2 1.5,.3 1.5,.2 1.5,.3 1.5,.2 1.5,.3 1.5,.3 1.5,.2 1.5,.3 1.5,.3 1.5,.3 1.5,.3 1.5,.3 1.5,.3 1.5,.3 1.5,.3 1.5,.4 1.5,.3 1.5,.3 1.5,.3 1.5,.4 1.5,.3 1.5,.3 1.5,.4 1.5,.3 1.5,.4 1.5,.3 1.5,.4 1.5,.3 1.5,.3 1.5,.4 1.5,.3 1.5,.4 1.5,.3 1.5,.4 1.5,.3 1.5,.4 1.5,.3 1.5,.3 1.5,.4 1.5,.3 1.5,.3 1.5,.4 1.5,.3 1.5,.3 1.5,.3 1.5,.4 1.5,.3 1.5,.3 1.5,.3 1.5,.4 1.5,.3 1.5,.3 1.5,.4 1.5,.3 1.5,.4 1.5,.3 1.5,.3 1.5,.4 1.5,.3 1.5,.4 1.5,.3 1.5,.4 1.5,.3 1.5,.4 1.5,.3 1.5,.4 1.5,.3 1.5,.4 1.5,.3 1.5,.4 1.5,.3 1.5,.4 1.5,.3 1.5,.4 1.5,.3 1.5,.4 1.5,.3 1.5,.4 1.5,.4 1.5,.3 1.5,.4 1.5,.3 1.5,.4 1.5,.3 1.5,.4 1.5,.3 1.5,.4 1.5,.4 1.5,.3 1.5,.4 1.5,.3 1.5,.4 1.5,.3 1.5,.4 1.5,.3 1.5,.4 1.5,.3 1.5,.4 1.5,.3 1.5,.4 1.5,.3 1.5,.4 1.5,.4 1.5,.3 1.5,.4 1.5,.3 1.5,.4 1.5,.3 1.5,.4 1.5,.4 1.5,.3 1.5,.4 1.5,.4 1.5,.3 1.5,.4 1.5,.3 1.5,.4 1.5,.4 1.5,.3 1.5,.4 1.5,.3 1.5,.4 1.5,.4 1.5,.3 1.5,.4 1.5,.3 1.5,.4 1.5,.4 1.5,.3 1.5,.4 1.5,.3 1.5,.4 1.5,.3 1.5,.4 1.5,.3 1.5,.4 1.5,.3 1.5,.4 1.5,.3 1.5,.4 1.5,.3 1.5,.3 1.5,.4 1.5,.3 1.5,.4 1.5,.3 1.5,.3 1.5,.4 1.5,.3 1.5,.3 1.5,.4 1.5,.3 1.5,.3 1.5,.4 1.5,.3 1.5,.4 1.5,.4 1.5,.3 1.5,.4 1.5,.3 1.5,.4 1.5,.4 1.5,.3 1.5,.4 1.5,.4 1.5,.3 1.5,.4 1.5,.3 1.5,.4 1.5,.3 1.5,.4 1.5,.3 1.5,.3 1.5,.4 1.5,.3 1.5,.3 1.5,.3 1.5,.3 1.5,.3 1.5,.3 1.5,.2 1.5,.3 1.5,.2 1.5,.3 1.5,.2 1.5,.2 1.5,.2 1.5,.2 1.5,.2 1.5,.1 1.5,.2 1.5,.1 1.5,.2 1.5,.1 1.5,.1 1.5,.2 1.5,.1 1.5,.1 1.5,.1 1.5,.2 1.5,.1 1.5,.1 1.5,.1 1.5,.1 1.5,.1 1.5,.2 1.5,.1 1.5,.1 1.5,.1 1.5,.1 1.5,.1 1.5,.1 1.5,.1 1.5,.1 1.5,.1 1.5,.1 1.5,.1 1.5,.1 1.5,.1 1.5,.1 1.5,.1 1.5,0 1.5,.1 1.5,.1 1.5,.1 1.5,.1 1.5,.1 1.5,0 1.5,.1 1.5,.1 1.5,.1 1.5,0 1.5,.1 1.5,.1 1.5,0 1.5,.1 1.5,.1 1.5,0 1.5,.1 1.5,0 1.5,.1 1.5,0 1.5,.1 1.5,0 1.5,.1 1.5,0 1.5,.1 1.5,0 1.5,.1 1.5,0 1.5,.1 1.5,0 1.5,0 1.5,.1 1.5,0 1.5,0 1.5,.1 1.5,0 1.5,0 1.5,.1 1.5,0 1.5,0 1.5,.1 1.5,0 1.5,0 1.5,0 1.5,.1 1.5,0 1.5,0 1.5,0 1.5,.1 1.5,0 1.5,0 1.5,.1 1.5,0 1.5,0 1.5,0 1.5,.1 1.5,0 1.5,0 1.5,0 1.5,.1 1.5,0 1.5,0 1.5,0 1.5,.1 1.5,0 1.5,0 1.5,0 1.5,.1 1.5,0 1.5,0 1.5,0 1.5,.1 1.5,0 1.5,0 1.5,0 1.5,0 1.5,.1 1.5,0 1.5,0 1.5,0 1.5,0 1.5,.1 1.5,0 1.5,0 1.5,0 1.5,0 1.5,.1 1.5,0 1.5,0 1.5,0 1.5,0 1.5,.1 1.5,0 1.5,0 1.5,0 1.5,0 1.5,.1 1.5,0 1.5,0 1.5,0 1.5,0 1.5,0 1.5,.1 1.5,0 1.5,0 1.5,0 1.5,0 1.5,0 1.5,0 1.5,.1 1.5,0 1.5,0 1.5,0 1.5,0 1.5,0 1.5,0 1.5,0 1.5,.1 1.5,0 1.5,0 1.5,0 1.5,0 1.5,0 1.5,0 1.5,0 1.5,0 1.5,.1 1.5,0 1.5,0 1.5,0 1.5,0 1.5,0 1.5,0 1.5,0 1.5,0 1.5,0 1.5,0 1.5,0 1.5,0 1.5,0 1.5,.1 1.5,0 1.5,0 1.5,0 1.5,0 1.5,0 1.5,0 1.5,0 1.5,0 1.5,0 1.5,0 1.5,0 1.5,0 1.5,0 1.5,0 1.5,0 1.5,0" fill="none" stroke="#0000ff" stroke-width="3.0" stroke-linejoin="round" stroke-linecap="round" />
<path d="M136,894l1.5,0 1.5,0 1.5,0 1.5,0 1.5,0 1.5,0 1.5,0 1.5,0 1.5,0 1.5,0 1.5,0 1.5,0 1.5,0 1.5,0 1.5,0 1.5,0 1.5,0 1.5,0 1.5,0 1.5,0 1.5,0 1.5,0 1.5,0 1.5,0 1.5,0 1.5,0 1.5,0 1.5,0 1.5,0 1.5,0 1.5,0 1.5,0 1.5,0 1.5,0 1.5,0 1.5,0 1.5,0 1.5,0 1.5,0 1.5,0 1.5,0 1.5,0 1.5,0 1.5,0 1.5,0 1.5,0 1.5,0 1.5,0 1.5,0 1.5,0 1.5,0 1.5,0 1.5,0 1.5,0 1.5,0 1.5,0 1.5,0 1.5,0 1.5,0 1.5,0 1.5,0 1.5,0 1.5,.1 1.5,0 1.5,0 1.5,0 1.5,0 1.5,0 1.5,0 1.5,0 1.5,0 1.5,0 1.5,0 1.5,0 1.5,0 1.5,0 1.5,0 1.5,0 1.5,0 1.5,0 1.5,0 1.5,0 1.5,.1 1.5,0 1.5,0 1.5,0 1.5,0 1.5,0 1.5,0 1.5,0 1.5,0 1.5,0 1.5,0 1.5,0 1.5,0 1.5,0 1.5,0 1.5,0 1.5,.1 1.5,0 1.5,0 1.5,0 1.5,0 1.5,0 1.5,0 1.5,0 1.5,0 1.5,0 1.5,0 1.5,0 1.5,0 1.5,.1 1.5,0 1.5,0 1.5,0 1.5,0 1.5,0 1.5,0 1.5,0 1.5,0 1.5,0 1.5,0 1.5,.1 1.5,0 1.5,0 1.5,0 1.5,0 1.5,0 1.5,0 1.5,0 1.5,0 1.5,0 1.5,0 1.5,.1 1.5,0 1.5,0 1.5,0 1.5,0 1.5,0 1.5,0 1.5,0 1.5,0 1.5,.1 1.5,0 1.5,0 1.5,0 1.5,0 1.5,0 1.5,0 1.5,0 1.5,0 1.5,0 1.5,.1 1.5,0 1.5,0 1.5,0 1.5,0 1.5,0 1.5,0 1.5,0 1.5,.1 1.5,0 1.5,0 1.5,0 1.5,0 1.5,0 1.5,0 1.5,0 1.5,0 1.5,.1 1.5,0 1.5,0 1.5,0 1.5,0 1.5,0 1.5,0 1.5,0 1.5,.1 1.5,0 1.5,0 1.5,0 1.5,0 1.5,0 1.5,0 1.5,.1 1.5,0 1.5,0 1.5,0 1.5,0 1.5,0 1.5,0 1.5,0 1.5,.1 1.5,0 1.5,0 1.5,0 1.5,0 1.5,0 1.5,0 1.5,.1 1.5,0 1.5,0 1.5,0 1.5,0 1.5,0 1.5,0 1.5,.1 1.5,0 1.5,0 1.5,0 1.5,0 1.5,0 1.5,0 1.5,.1 1.5,0 1.5,0 1.5,0 1.5,0 1.5,0 1.5,0 1.5,.1 1.5,0 1.5,0 1.5,0 1.5,0 1.5,0 1.5,0 1.5,.1 1.5,0 1.5,0 1.5,0 1.5,0 1.5,0 1.5,0 1.5,.1 1.5,0 1.5,0 1.5,0 1.5,0 1.5,0 1.5,.1 1.5,0 1.5,0 1.5,0 1.5,0 1.5,0 1.5,.1 1.5,0 1.5,0 1.5,0 1.5,0 1.5,0 1.5,0 1.5,.1 1.5,0 1.5,0 1.5,0 1.5,0 1.5,0 1.5,.1 1.5,0 1.5,0 1.5,0 1.5,0 1.5,0 1.5,.1 1.5,0 1.5,0 1.5,0 1.5,0 1.5,.1 1.5,0 1.5,0 1.5,0 1.5,.1 1.5,0 1.5,0 1.5,0 1.5,.1 1.5,0 1.5,0 1.5,.1 1.5,0 1.5,0 1.5,0 1.5,.1 1.5,0 1.5,0 1.5,.1 1.5,0 1.5,0 1.5,.1 1.5,0 1.5,0 1.5,.1 1.5,0 1.5,.1 1.5,0 1.5,0 1.5,.1 1.5,0 1.5,0 1.5,.1 1.5,0 1.5,.1 1.5,0 1.5,0 1.5,.1 1.5,0 1.5,0 1.5,.1 1.5,0 1.5,.1 1.5,0 1.5,0 1.5,.1 1.5,0 1.5,.1 1.5,0 1.5,0 1.5,.1 1.5,0 1.5,.1 1.5,0 1.5,0 1.5,.1 1.5,0 1.5,.1 1.5,0 1.5,0 1.5,.1 1.5,0 1.5,.1 1.5,0 1.5,0 1.5,.1 1.5,0 1.5,0 1.5,.1 1.5,0 1.5,0 1.5,.1 1.5,0 1.5,.1 1.5,0 1.5,0 1.5,.1 1.5,0 1.5,0 1.5,.1 1.5,0 1.5,0 1.5,0 1.5,.1 1.5,0 1.5,0 1.5,.1 1.5,0 1.5,0 1.5,0 1.5,.1 1.5,0 1.5,0 1.5,0 1.5,.1 1.5,0 1.5,0 1.5,0 1.5,.1 1.5,0 1.5,0 1.5,0 1.5,.1 1.5,0 1.5,0 1.5,0 1.5,.1 1.5,0 1.5,0 1.5,0 1.5,.1 1.5,0 1.5,0 1.5,0 1.5,.1 1.5,0 1.5,0 1.5,0 1.5,0 1.5,.1 1.5,0 1.5,0 1.5,0 1.5,.1 1.5,0 1.5,0 1.5,0 1.5,.1 1.5,0 1.5,0 1.5,0 1.5,0 1.5,.1 1.5,0 1.5,0 1.5,0 1.5,.1 1.5,0 1.5,0 1.5,0 1.5,.1 1.5,0 1.5,0 1.5,0 1.5,0 1.5,.1 1.5,0 1.5,0 1.5,0 1.5,.1 1.5,0 1.5,0 1.5,0 1.5,.1 1.5,0 1.5,0 1.5,0 1.5,0 1.5,.1 1.5,0 1.5,0 1.5,0 1.5,.1 1.5,0 1.5,0 1.5,0 1.5,.1 1.5,0 1.5,0 1.5,0 1.5,.1 1.5,0 1.5,0 1.5,0 1.5,.1 1.5,0 1.5,0 1.5,0 1.5,.1 1.5,0 1.5,0 1.5,0 1.5,0 1.5,.1 1.5,0 1.5,0 1.5,0 1.5,.1 1.5,0 1.5,0 1.5,0 1.5,0 1.5,.1 1.5,0 1.5,0 1.5,0 1.5,0 1.5,.1 1.5,0 1.5,0 1.5,0 1.5,0 1.5,.1 1.5,0 1.5,0 1.5,0 1.5,0 1.5,.1 1.5,0 1.5,0 1.5,0 1.5,0 1.5,.1 1.5,0 1.5,0 1.5,0 1.5,0 1.5,.1 1.5,0 1.5,0 1.5,0 1.5,.1 1.5,0 1.5,0 1.5,0 1.5,0 1.5,.1 1.5,0 1.5,0 1.5,0 1.5,.1 1.5,0 1.5,0 1.5,.1 1.5,0 1.5,0 1.5,0 1.5,.1 1.5,0 1.5,0 1.5,.1 1.5,0 1.5,0 1.5,0 1.5,.1 1.5,0 1.5,0 1.5,.1 1.5,0 1.5,0 1.5,.1 1.5,0 1.5,.1 1.5,0 1.5,0 1.5,.1 1.5,0 1.5,.1 1.5,0 1.5,0 1.5,.1 1.5,0 1.5,.1 1.5,0 1.5,.1 1.5,0 1.5,.1 1.5,0 1.5,.1 1.5,0 1.5,.1 1.5,.1 1.5,0 1.5,.1 1.5,.1 1.5,.1 1.5,.1 1.5,.1 1.5,.1 1.5,.1 1.5,.1 1.5,.2 1.5,.1 1.5,.1 1.5,.1 1.5,.1 1.5,.2 1.5,.1 1.5,.1 1.5,.2 1.5,.1 1.5,.2 1.5,.1 1.5,.2 1.5,.1 1.5,.2 1.5,.1 1.5,.2 1.5,.1 1.5,.2 1.5,.1 1.5,.2 1.5,.2 1.5,.1 1.5,.2 1.5,.2 1.5,.2 1.5,.2 1.5,.1 1.5,.3 1.5,.2 1.5,.2 1.5,.2 1.5,.2 1.5,.3 1.5,.2 1.5,.3 1.5,.3 1.5,.2 1.5,.3 1.5,.3 1.5,.3 1.5,.3 1.5,.3 1.5,.3 1.5,.3 1.5,.3 1.5,.3 1.5,.4 1.5,.3 1.5,.3 1.5,.4 1.5,.3 1.5,.3 1.5,.4 1.5,.3 1.5,.4 1.5,.3 1.5,.4 1.5,.3 1.5,.4 1.5,.3 1.5,.4 1.5,.3 1.5,.4 1.5,.4 1.5,.3 1.5,.4 1.5,.3 1.5,.4 1.5,.3 1.5,.4 1.5,.3 1.5,.4 1.5,.3 1.5,.4 1.5,.3 1.5,.3 1.5,.4 1.5,.3 1.5,.4 1.5,.3 1.5,.3 1.5,.4 1.5,.3 1.5,.4 1.5,.3 1.5,.3 1.5,.4 1.5,.3 1.5,.4 1.5,.3 1.5,.4 1.5,.4 1.5,.3 1.5,.4 1.5,.3 1.5,.4 1.5,.3 1.5,.4 1.5,.4 1.5,.3 1.5,.4 1.5,.4 1.5,.3 1.5,.4 1.5,.4 1.5,.3 1.5,.4 1.5,.4 1.5,.3 1.5,.4 1.5,.4 1.5,.3 1.5,.4 1.5,.4 1.5,.3 1.5,.4 1.5,.4 1.5,.3 1.5,.4 1.5,.4 1.5,.3 1.5,.4 1.5,.4 1.5,.3 1.5,.4 1.5,.3 1.5,.4 1.5,.4 1.5,.3 1.5,.4 1.5,.4 1.5,.3 1.5,.4 1.5,.3 1.5,.4 1.5,.4 1.5,.3 1.5,.4 1.5,.4 1.5,.3 1.5,.4 1.5,.4 1.5,.4 1.5,.3 1.5,.4 1.5,.4 1.5,.3 1.5,.4 1.5,.4 1.5,.4 1.5,.3 1.5,.4 1.5,.4 1.5,.3 1.5,.4 1.5,.4 1.5,.3 1.5,.4 1.5,.4 1.5,.4 1.5,.3 1.5,.4 1.5,.4 1.5,.3 1.5,.4 1.5,.3 1.5,.4 1.5,.4 1.5,.3 1.5,.4 1.5,.3 1.5,.4 1.5,.4 1.5,.3 1.5,.4 1.5,.3 1.5,.4 1.5,.3 1.5,.3 1.5,.4 1.5,.3 1.5,.4 1.5,.3 1.5,.4 1.5,.3 1.5,.4 1.5,.3 1.5,.4 1.5,.4 1.5,.3 1.5,.4 1.5,.4 1.5,.3 1.5,.4 1.5,.4 1.5,.4 1.5,.3 1.5,.4 1.5,.4 1.5,.3 1.5,.4 1.5,.4 1.5,.3 1.5,.4 1.5,.3 1.5,.4 1.5,.3 1.5,.3 1.5,.3 1.5,.4 1.5,.3 1.5,.3 1.5,.3 1.5,.2 1.5,.3 1.5,.3 1.5,.2 1.5,.2 1.5,.3 1.5,.2 1.5,.2 1.5,.2 1.5,.1 1.5,.2 1.5,.1 1.5,.2 1.5,.1 1.5,.1 1.5,.2 1.5,.1 1.5,.1 1.5,.1 1.5,.2 1.5,.1 1.5,.1 1.5,.1 1.5,.1 1.5,.1 1.5,.2 1.5,.1 1.5,.1 1.5,.1 1.5,.1 1.5,.1 1.5,.1 1.5,.1 1.5,.1 1.5,.1 1.5,.1 1.5,.1 1.5,.1 1.5,.1 1.5,.1 1.5,.1 1.5,0 1.5,.1 1.5,.1 1.5,.1 1.5,.1 1.5,.1 1.5,0 1.5,.1 1.5,.1 1.5,.1 1.5,0 1.5,.1 1.5,.1 1.5,0 1.5,.1 1.5,.1 1.5,0 1.5,.1 1.5,0 1.5,.1 1.5,0 1.5,.1 1.5,0 1.5,.1 1.5,0 1.5,.1 1.5,0 1.5,.1 1.5,0 1.5,.1 1.5,0 1.5,0 1.5,.1 1.5,0 1.5,0 1.5,.1 1.5,0 1.5,0 1.5,.1 1.5,0 1.5,0 1.5,.1 1.5,0 1.5,0 1.5,0 1.5,.1 1.5,0 1.5,0 1.5,0 1.5,.1 1.5,0 1.5,0 1.5,.1 1.5,0 1.5,0 1.5,0 1.5,.1 1.5,0 1.5,0 1.5,0 1.5,.1 1.5,0 1.5,0 1.5,0 1.5,.1 1.5,0 1.5,0 1.5,0 1.5,.1 1.5,0 1.5,0 1.5,0 1.5,.1 1.5,0 1.5,0 1.5,0 1.5,0 1.5,.1 1.5,0 1.5,0 1.5,0 1.5,0 1.5,.1 1.5,0 1.5,0 1.5,0 1.5,0 1.5,.1 1.5,0 1.5,0 1.5,0 1.5,0 1.5,.1 1.5,0 1.5,0 1.5,0 1.5,0 1.5,.1 1.5,0 1.5,0 1.5,0 1.5,0 1.5,0 1.5,.1 1.5,0 1.5,0 1.5,0 1.5,0 1.5,0 1.5,0 1.5,.1 1.5,0 1.5,0 1.5,0 1.5,0 1.5,0 1.5,0 1.5,0 1.5,.1 1.5,0 1.5,0 1.5,0 1.5,0 1.5,0 1.5,0 1.5,0 1.5,0 1.5,.1 1.5,0 1.5,0 1.5,0 1.5,0 1.5,0 1.5,0 1.5,0 1.5,0 1.5,0 1.5,0 1.5,0 1.5,0 1.5,0 1.5,.1 1.5,0 1.5,0 1.5,0 1.5,0 1.5,0 1.5,0 1.5,0 1.5,0 1.5,0 1.5,0 1.5,0 1.5,0 1.5,0 1.5,0 1.5,0 1.5,0" fill="none" stroke="#0000ff" stroke-width="3.0" stroke-linejoin="round" stroke-linecap="round" />
<path d="M136,891.4l1.5-.1 1.5-.1 1.5-.1 1.5-.1 1.5-.1 1.5-.1 1.5,0 1.5-.1 1.5-.1 1.5-.1 1.5-.1 1.5-.1 1.5-.1 1.5-.1 1.5-.1 1.5-.1 1.5-.1 1.5-.1 1.5-.1 1.5-.1 1.5-.2 1.5-.1 1.5-.1 1.5-.1 1.5-.1 1.5-.1 1.5-.1 1.5-.2 1.5-.1 1.5-.1 1.5-.1 1.5-.1 1.5-.2 1.5-.1 1.5-.1 1.5-.1 1.5-.2 1.5-.1 1.5-.1 1.5-.1 1.5-.2 1.5-.1 1.5-.1 1.5-.2 1.5-.1 1.5-.1 1.5-.2 1.5-.1 1.5-.1 1.5-.2 1.5-.1 1.5-.1 1.5-.2 1.5-.1 1.5-.2 1.5-.1 1.5-.1 1.5-.2 1.5-.1 1.5-.2 1.5-.1 1.5-.2 1.5-.1 1.5-.2 1.5-.1 1.5-.1 1.5-.2 1.5-.2 1.5-.1 1.5-.2 1.5-.2 1.5-.2 1.5-.2 1.5-.2 1.5-.2 1.5-.2 1.5-.3 1.5-.2 1.5-.2 1.5-.3 1.5-.2 1.5-.2 1.5-.3 1.5-.2 1.5-.3 1.5-.2 1.5-.3 1.5-.2 1.5-.3 1.5-.2 1.5-.2 1.5-.3 1.5-.2 1.5-.2 1.5-.3 1.5-.2 1.5-.2 1.5-.2 1.5-.2 1.5-.2 1.5-.1 1.5-.2 1.5-.2 1.5-.1 1.5-.2 1.5-.1 1.5-.1 1.5-.1 1.5-.1 1.5,0 1.5-.1 1.5,0 1.5-.1 1.5,0 1.5,0 1.5,0 1.5,0 1.5-.1 1.5,0 1.5,0 1.5,0 1.5,0 1.5,0 1.5,0 1.5,0 1.5,0 1.5,0 1.5,0 1.5,0 1.5,0 1.5,0 1.5-.1 1.5,0 1.5,0 1.5,0 1.5,0 1.5,0 1.5,0 1.5,0 1.5,0 1.5,0 1.5,0 1.5,0 1.5,.1 1.5,0 1.5,0 1.5,0 1.5,0 1.5,0 1.5,0 1.5,0 1.5,0 1.5,0 1.5,0 1.5,0 1.5,0 1.5,.1 1.5,0 1.5,0 1.5,0 1.5,0 1.5,.1 1.5,0 1.5,0 1.5,.1 1.5,.1 1.5,0 1.5,.1 1.5,.1 1.5,.1 1.5,.1 1.5,.1 1.5,.1 1.5,.1 1.5,.2 1.5,.1 1.5,.2 1.5,.1 1.5,.2 1.5,.1 1.5,.2 1.5,.2 1.5,.1 1.5,.2 1.5,.2 1.5,.2 1.5,.1 1.5,.2 1.5,.2 1.5,.2 1.5,.2 1.5,.2 1.5,.2 1.5,.2 1.5,.2 1.5,.2 1.5,.2 1.5,.2 1.5,.2 1.5,.2 1.5,.2 1.5,.2 1.5,.2 1.5,.2 1.5,.2 1.5,.2 1.5,.2 1.5,.2 1.5,.2 1.5,.2 1.5,.2 1.5,.2 1.5,.3 1.5,.2 1.5,.2 1.5,.3 1.5,.2 1.5,.3 1.5,.2 1.5,.3 1.5,.2 1.5,.3 1.5,.2 1.5,.3 1.5,.2 1.5,.2 1.5,.2 1.5,.2 1.5,.2 1.5,.2 1.5,.1 1.5,.2 1.5,.2 1.5,.1 1.5,.2 1.5,.1 1.5,.2 1.5,.1 1.5,.2 1.5,.1 1.5,.2 1.5,.1 1.5,.1 1.5,.2 1.5,.1 1.5,.1 1.5,.2 1.5,.1 1.5,.1 1.5,.1 1.5,.1 1.5,.2 1.5,.1 1.5,.1 1.5,.1 1.5,.1 1.5,.1 1.5,.1 1.5,.1 1.5,.1 1.5,.1 1.5,0 1.5,.1 1.5,.1 1.5,.1 1.5,.1 1.5,0 1.5,.1 1.5,.1 1.5,.1 1.5,.1 1.5,0 1.5,.1 1.5,.1 1.5,.1 1.5,0 1.5,.1 1.5,.1 1.5,.1 1.5,0 1.5,.1 1.5,.1 1.5,.1 1.5,0 1.5,.1 1.5,.1 1.5,.1 1.5,0 1.5,.1 1.5,.1 1.5,.1 1.5,0 1.5,.1 1.5,.1 1.5,.1 1.5,0 1.5,.1 1.5,.1 1.5,0 1.5,.1 1.5,.1 1.5,.1 1.5,0 1.5,.1 1.5,.1 1.5,.1 1.5,0 1.5,.1 1.5,.1 1.5,0 1.5,.1 1.5,.1 1.5,.1 1.5,0 1.5,.1 1.5,.1 1.5,.1 1.5,0 1.5,.1 1.5,.1 1.5,0 1.5,.1 1.5,.1 1.5,0 1.5,.1 1.5,.1 1.5,0 1.5,.1 1.5,.1 1.5,0 1.5,.1 1.5,.1 1.5,0 1.5,.1 1.5,.1 1.5,0 1.5,.1 1.5,.1 1.5,0 1.5,.1 1.5,0 1.5,.1 1.5,.1 1.5,0 1.5,.1 1.5,0 1.5,.1 1.5,.1 1.5,0 1.5,.1 1.5,0 1.5,.1 1.5,0 1.5,.1 1.5,.1 1.5,0 1.5,.1 1.5,0 1.5,.1 1.5,0 1.5,.1 1.5,0 1.5,.1 1.5,0 1.5,.1 1.5,0 1.5,.1 1.5,0 1.5,.1 1.5,0 1.5,.1 1.5,0 1.5,.1 1.5,0 1.5,.1 1.5,0 1.5,0 1.5,.1 1.5,0 1.5,.1 1.5,0 1.5,.1 1.5,0 1.5,.1 1.5,0 1.5,.1 1.5,0 1.5,.1 1.5,0 1.5,.1 1.5,0 1.5,0 1.5,.1 1.5,0 1.5,.1 1.5,0 1.5,.1 1.5,0 1.5,.1 1.5,0 1.5,0 1.5,.1 1.5,0 1.5,.1 1.5,0 1.5,.1 1.5,0 1.5,0 1.5,.1 1.5,0 1.5,.1 1.5,0 1.5,.1 1.5,0 1.5,.1 1.5,0 1.5,0 1.5,.1 1.5,0 1.5,.1 1.5,0 1.5,.1 1.5,0 1.5,0 1.5,.1 1.5,0 1.5,.1 1.5,0 1.5,.1 1.5,0 1.5,.1 1.5,0 1.5,.1 1.5,0 1.5,0 1.5,.1 1.5,0 1.5,.1 1.5,0 1.5,.1 1.5,0 1.5,.1 1.5,0 1.5,.1 1.5,0 1.5,.1 1.5,0 1.5,0 1.5,.1 1.5,0 1.5,.1 1.5,0 1.5,.1 1.5,0 1.5,.1 1.5,0 1.5,0 1.5,.1 1.5,0 1.5,.1 1.5,0 1.5,.1 1.5,0 1.5,0 1.5,.1 1.5,0 1.5,.1 1.5,0 1.5,.1 1.5,0 1.5,0 1.5,.1 1.5,0 1.5,.1 1.5,0 1.5,.1 1.5,0 1.5,0 1.5,.1 1.5,0 1.5,.1 1.5,0 1.5,.1 1.5,0 1.5,0 1.5,.1 1.5,0 1.5,.1 1.5,0 1.5,.1 1.5,0 1.5,.1 1.5,0 1.5,.1 1.5,0 1.5,0 1.5,.1 1.5,0 1.5,.1 1.5,0 1.5,.1 1.5,0 1.5,.1 1.5,0 1.5,.1 1.5,0 1.5,.1 1.5,0 1.5,.1 1.5,0 1.5,.1 1.5,0 1.5,0 1.5,.1 1.5,0 1.5,.1 1.5,0 1.5,.1 1.5,0 1.5,.1 1.5,.1 1.5,0 1.5,.1 1.5,.1 1.5,0 1.5,.1 1.5,.1 1.5,0 1.5,.1 1.5,.1 1.5,.1 1.5,0 1.5,.1 1.5,.1 1.5,.1 1.5,0 1.5,.1 1.5,.1 1.5,.1 1.5,.1 1.5,0 1.5,.1 1.5,.1 1.5,.1 1.5,.1 1.5,.1 1.5,.1 1.5,.1 1.5,.1 1.5,.1 1.5,.1 1.5,.2 1.5,.1 1.5,.1 1.5,.1 1.5,.1 1.5,.2 1.5,.1 1.5,.1 1.5,.1 1.5,.2 1.5,.1 1.5,.2 1.5,.1 1.5,.1 1.5,.2 1.5,.1 1.5,.2 1.5,.1 1.5,.2 1.5,.1 1.5,.2 1.5,.1 1.5,.2 1.5,.1 1.5,.2 1.5,.2 1.5,.1 1.5,.2 1.5,.2 1.5,.2 1.5,.2 1.5,.2 1.5,.3 1.5,.2 1.5,.2 1.5,.3 1.5,.2 1.5,.3 1.5,.3 1.5,.2 1.5,.3 1.5,.3 1.5,.3 1.5,.3 1.5,.3 1.5,.3 1.5,.3 1.5,.3 1.5,.3 1.5,.4 1.5,.3 1.5,.3 1.5,.3 1.5,.4 1.5,.3 1.5,.3 1.5,.4 1.5,.3 1.5,.4 1.5,.3 1.5,.4 1.5,.3 1.5,.3 1.5,.4 1.5,.3 1.5,.4 1.5,.3 1.5,.4 1.5,.3 1.5,.4 1.5,.3 1.5,.3 1.5,.4 1.5,.3 1.5,.3 1.5,.4 1.5,.3 1.5,.3 1.5,.3 1.5,.4 1.5,.3 1.5,.3 1.5,.3 1.5,.4 1.5,.3 1.5,.3 1.5,.4 1.5,.3 1.5,.3 1.5,.4 1.5,.3 1.5,.4 1.5,.3 1.5,.4 1.5,.3 1.5,.4 1.5,.3 1.5,.3 1.5,.4 1.5,.3 1.5,.4 1.5,.4 1.5,.3 1.5,.4 1.5,.3 1.5,.4 1.5,.3 1.5,.4 1.5,.3 1.5,.4 1.5,.3 1.5,.4 1.5,.4 1.5,.3 1.5,.4 1.5,.3 1.5,.4 1.5,.3 1.5,.4 1.5,.3 1.5,.4 1.5,.4 1.5,.3 1.5,.4 1.5,.3 1.5,.4 1.5,.3 1.5,.4 1.5,.3 1.5,.4 1.5,.3 1.5,.4 1.5,.3 1.5,.4 1.5,.3 1.5,.4 1.5,.4 1.5,.3 1.5,.4 1.5,.3 1.5,.4 1.5,.3 1.5,.4 1.5,.4 1.5,.3 1.5,.4 1.5,.4 1.5,.3 1.5,.4 1.5,.3 1.5,.4 1.5,.4 1.5,.3 1.5,.4 1.5,.3 1.5,.4 1.5,.4 1.5,.3 1.5,.4 1.5,.3 1.5,.4 1.5,.4 1.5,.3 1.5,.4 1.5,.3 1.5,.4 1.5,.3 1.5,.4 1.5,.3 1.5,.4 1.5,.3 1.5,.4 1.5,.3 1.5,.4 1.5,.3 1.5,.3 1.5,.4 1.5,.3 1.5,.4 1.5,.3 1.5,.3 1.5,.4 1.5,.3 1.5,.3 1.5,.4 1.5,.3 1.5,.3 1.5,.4 1.5,.3 1.5,.4 1.5,.4 1.5,.3 1.5,.4 1.5,.3 1.5,.4 1.5,.4 1.5,.3 1.5,.4 1.5,.4 1.5,.3 1.5,.4 1.5,.3 1.5,.4 1.5,.3 1.5,.4 1.5,.3 1.5,.4 1.5,.3 1.5,.3 1.5,.3 1.5,.3 1.5,.3 1.5,.3 1.5,.3 1.5,.3 1.5,.2 1.5,.3 1.5,.2 1.5,.2 1.5,.2 1.5,.2 1.5,.2 1.5,.2 1.5,.2 1.5,.1 1.5,.1 1.5,.2 1.5,.1 1.5,.1 1.5,.2 1.5,.1 1.5,.1 1.5,.1 1.5,.2 1.5,.1 1.5,.1 1.5,.1 1.5,.1 1.5,.1 1.5,.2 1.5,.1 1.5,.1 1.5,.1 1.5,.1 1.5,.1 1.5,.1 1.5,.1 1.5,.1 1.5,.1 1.5,.1 1.5,.1 1.5,.1 1.5,.1 1.5,.1 1.5,.1 1.5,0 1.5,.1 1.5,.1 1.5,.1 1.5,.1 1.5,.1 1.5,0 1.5,.1 1.5,.1 1.5,.1 1.5,0 1.5,.1 1.5,.1 1.5,0 1.5,.1 1.5,.1 1.5,0 1.5,.1 1.5,0 1.5,.1 1.5,0 1.5,.1 1.5,.1 1.5,0 1.5,.1 1.5,0 1.5,0 1.5,.1 1.5,0 1.5,.1 1.5,0 1.5,0 1.5,.1 1.5,0 1.5,0 1.5,.1 1.5,0 1.5,0 1.5,.1 1.5,0 1.5,0 1.5,.1 1.5,0 1.5,0 1.5,0 1.5,.1 1.5,0 1.5,0 1.5,0 1.5,.1 1.5,0 1.5,0 1.5,.1 1.5,0 1.5,0 1.5,0 1.5,.1 1.5,0 1.5,0 1.5,0 1.5,.1 1.5,0 1.5,0 1.5,0 1.5,.1 1.5,0 1.5,0 1.5,0 1.5,.1 1.5,0 1.5,0 1.5,0 1.5,.1 1.5,0 1.5,0 1.5,0 1.5,0 1.5,.1 1.5,0 1.5,0 1.5,0 1.5,0 1.5,.1 1.5,0 1.5,0 1.5,0 1.5,0 1.5,.1 1.5,0 1.5,0 1.5,0 1.5,0 1.5,.1 1.5,0 1.5,0 1.5,0 1.5,0 1.5,.1 1.5,0 1.5,0 1.5,0 1.5,0 1.5,0 1.5,.1 1.5,0 1.5,0 1.5,0 1.5,0 1.5,0 1.5,0 1.5,.1 1.5,0 1.5,0 1.5,0 1.5,0 1.5,0 1.5,0 1.5,0 1.5,.1 1.5,0 1.5,0 1.5,0 1.5,0 1.5,0 1.5,0 1.5,0 1.5,0 1.5,.1 1.5,0 1.5,0 1.5,0 1.5,0 1.5,0 1.5,0 1.5,0 1.5,0 1.5,0 1.5,0 1.5,0 1.5,0 1.5,.1 1.5,0 1.5,0 1.5,0 1.5,0 1.5,0 1.5,0 1.5,0 1.5,0 1.5,0 1.5,0 1.5,0 1.5,0 1.5,0 1.5,0 1.5,0 1.5,0 1.5,0" fill="none" stroke="#0000ff" stroke-width="3.0" stroke-linejoin="round" stroke-linecap="round" />
<path d="M136,895.2l1.5,0 1.5,0 1.5,0 1.5,0 1.5,0 1.5,0 1.5,0 1.5,0 1.5,0 1.5,0 1.5,0 1.5,0 1.5,0 1.5,0 1.5,0 1.5,0 1.5,0 1.5,0 1.5,0 1.5,0 1.5,0 1.5,0 1.5,0 1.5,0 1.5,0 1.5,0 1.5,0 1.5,0 1.5,0 1.5,0 1.5,0 1.5,0 1.5,0 1.5,0 1.5,0 1.5,0 1.5,0 1.5,0 1.5,0 1.5,.1 1.5,0 1.5,0 1.5,0 1.5,0 1.5,0 1.5,0 1.5,0 1.5,0 1.5,0 1.5,0 1.5,0 1.5,0 1.5,0 1.5,0 1.5,0 1.5,0 1.5,0 1.5,0 1.5,0 1.5,0 1.5,0 1.5,0 1.5,.1 1.5,0 1.5,0 1.5,0 1.5,0 1.5,0 1.5,0 1.5,0 1.5,0 1.5,0 1.5,0 1.5,0 1.5,0 1.5,0 1.5,0 1.5,0 1.5,0 1.5,.1 1.5,0 1.5,0 1.5,0 1.5,0 1.5,0 1.5,0 1.5,0 1.5,0 1.5,0 1.5,0 1.5,0 1.5,0 1.5,.1 1.5,0 1.5,0 1.5,0 1.5,0 1.5,0 1.5,0 1.5,0 1.5,0 1.5,0 1.5,0 1.5,0 1.5,0 1.5,.1 1.5,0 1.5,0 1.5,0 1.5,0 1.5,0 1.5,0 1.5,0 1.5,0 1.5,0 1.5,0 1.5,.1 1.5,0 1.5,0 1.5,0 1.5,0 1.5,0 1.5,0 1.5,0 1.5,0 1.5,0 1.5,.1 1.5,0 1.5,0 1.5,0 1.5,0 1.5,0 1.5,0 1.5,0 1.5,0 1.5,.1 1.5,0 1.5,0 1.5,0 1.5,0 1.5,0 1.5,0 1.5,0 1.5,0 1.5,0 1.5,.1 1.5,0 1.5,0 1.5,0 1.5,0 1.5,0 1.5,0 1.5,0 1.5,.1 1.5,0 1.5,0 1.5,0 1.5,0 1.5,0 1.5,0 1.5,0 1.5,0 1.5,.1 1.5,0 1.5,0 1.5,0 1.5,0 1.5,0 1.5,0 1.5,0 1.5,.1 1.5,0 1.5,0 1.5,0 1.5,0 1.5,0 1.5,0 1.5,0 1.5,.1 1.5,0 1.5,0 1.5,0 1.5,0 1.5,0 1.5,0 1.5,0 1.5,.1 1.5,0 1.5,0 1.5,0 1.5,0 1.5,0 1.5,0 1.5,0 1.5,.1 1.5,0 1.5,0 1.5,0 1.5,0 1.5,0 1.5,0 1.5,.1 1.5,0 1.5,0 1.5,0 1.5,0 1.5,0 1.5,0 1.5,0 1.5,.1 1.5,0 1.5,0 1.5,0 1.5,0 1.5,0 1.5,0 1.5,.1 1.5,0 1.5,0 1.5,0 1.5,0 1.5,0 1.5,0 1.5,.1 1.5,0 1.5,0 1.5,0 1.5,0 1.5,0 1.5,0 1.5,0 1.5,.1 1.5,0 1.5,0 1.5,0 1.5,0 1.5,0 1.5,0 1.5,.1 1.5,0 1.5,0 1.5,0 1.5,0 1.5,0 1.5,0 1.5,.1 1.5,0 1.5,0 1.5,0 1.5,0 1.5,0 1.5,0 1.5,0 1.5,.1 1.5,0 1.5,0 1.5,0 1.5,0 1.5,0 1.5,0 1.5,.1 1.5,0 1.5,0 1.5,0 1.5,0 1.5,0 1.5,0 1.5,.1 1.5,0 1.5,0 1.5,0 1.5,0 1.5,.1 1.5,0 1.5,0 1.5,0 1.5,0 1.5,.1 1.5,0 1.5,0 1.5,0 1.5,.1 1.5,0 1.5,0 1.5,.1 1.5,0 1.5,0 1.5,0 1.5,.1 1.5,0 1.5,0 1.5,.1 1.5,0 1.5,0 1.5,0 1.5,.1 1.5,0 1.5,0 1.5,.1 1.5,0 1.5,0 1.5,.1 1.5,0 1.5,0 1.5,.1 1.5,0 1.5,0 1.5,.1 1.5,0 1.5,0 1.5,.1 1.5,0 1.5,0 1.5,.1 1.5,0 1.5,0 1.5,.1 1.5,0 1.5,0 1.5,.1 1.5,0 1.5,0 1.5,.1 1.5,0 1.5,0 1.5,.1 1.5,0 1.5,0 1.5,.1 1.5,0 1.5,0 1.5,.1 1.5,0 1.5,0 1.5,0 1.5,.1 1.5,0 1.5,0 1.5,.1 1.5,0 1.5,0 1.5,0 1.5,.1 1.5,0 1.5,0 1.5,0 1.5,.1 1.5,0 1.5,0 1.5,0 1.5,0 1.5,.1 1.5,0 1.5,0 1.5,0 1.5,0 1.5,.1 1.5,0 1.5,0 1.5,0 1.5,0 1.5,0 1.5,0 1.5,0 1.5,.1 1.5,0 1.5,0 1.5,0 1.5,0 1.5,0 1.5,0 1.5,0 1.5,0 1.5,0 1.5,0 1.5,0 1.5,0 1.5,.1 1.5,0 1.5,0 1.5,0 1.5,0 1.5,0 1.5,0 1.5,0 1.5,0 1.5,0 1.5-.1 1.5,0 1.5,0 1.5,0 1.5,0 1.5,0 1.5,0 1.5,0 1.5,0 1.5,0 1.5,0 1.5-.1 1.5,0 1.5,0 1.5,0 1.5,0 1.5,0 1.5-.1 1.5,0 1.5,0 1.5,0 1.5-.1 1.5,0 1.5,0 1.5,0 1.5-.1 1.5,0 1.5,0 1.5-.1 1.5,0 1.5-.1 1.5,0 1.5,0 1.5-.1 1.5,0 1.5-.1 1.5,0 1.5-.1 1.5-.1 1.5,0 1.5-.1 1.5-.1 1.5,0 1.5-.1 1.5-.1 1.5,0 1.5-.1 1.5-.1 1.5-.1 1.5-.1 1.5-.1 1.5-.1 1.5-.1 1.5-.1 1.5-.1 1.5-.1 1.5-.1 1.5-.1 1.5-.2 1.5-.1 1.5-.1 1.5-.2 1.5-.1 1.5-.2 1.5-.1 1.5-.2 1.5-.2 1.5-.1 1.5-.2 1.5-.2 1.5-.2 1.5-.2 1.5-.2 1.5-.2 1.5-.2 1.5-.2 1.5-.3 1.5-.2 1.5-.3 1.5-.2 1.5-.3 1.5-.2 1.5-.3 1.5-.3 1.5-.3 1.5-.3 1.5-.3 1.5-.3 1.5-.3 1.5-.3 1.5-.3 1.5-.4 1.5-.3 1.5-.4 1.5-.3 1.5-.4 1.5-.4 1.5-.4 1.5-.4 1.5-.4 1.5-.4 1.5-.4 1.5-.5 1.5-.4 1.5-.5 1.5-.4 1.5-.5 1.5-.5 1.5-.4 1.5-.5 1.5-.5 1.5-.5 1.5-.6 1.5-.5 1.5-.5 1.5-.6 1.5-.5 1.5-.6 1.5-.5 1.5-.6 1.5-.6 1.5-.6 1.5-.6 1.5-.6 1.5-.6 1.5-.6 1.5-.6 1.5-.7 1.5-.6 1.5-.7 1.5-.6 1.5-.7 1.5-.6 1.5-.7 1.5-.7 1.5-.7 1.5-.7 1.5-.6 1.5-.7 1.5-.7 1.5-.7 1.5-.7 1.5-.7 1.5-.8 1.5-.7 1.5-.7 1.5-.7 1.5-.7 1.5-.7 1.5-.7 1.5-.8 1.5-.7 1.5-.7 1.5-.7 1.5-.7 1.5-.7 1.5-.6 1.5-.7 1.5-.7 1.5-.6 1.5-.7 1.5-.7 1.5-.6 1.5-.6 1.5-.6 1.5-.7 1.5-.6 1.5-.6 1.5-.5 1.5-.6 1.5-.6 1.5-.5 1.5-.5 1.5-.5 1.5-.5 1.5-.5 1.5-.5 1.5-.5 1.5-.4 1.5-.4 1.5-.4 1.5-.4 1.5-.4 1.5-.3 1.5-.3 1.5-.3 1.5-.3 1.5-.3 1.5-.2 1.5-.3 1.5-.1 1.5-.2 1.5-.1 1.5-.1 1.5-.1 1.5,0 1.5,0 1.5,0 1.5,.1 1.5,.1 1.5,.1 1.5,.2 1.5,.2 1.5,.2 1.5,.3 1.5,.3 1.5,.3 1.5,.4 1.5,.4 1.5,.5 1.5,.5 1.5,.5 1.5,.6 1.5,.7 1.5,.7 1.5,.7 1.5,.7 1.5,.8 1.5,.9 1.5,.8 1.5,.9 1.5,1 1.5,.9 1.5,1 1.5,1 1.5,1 1.5,1.1 1.5,1 1.5,1.1 1.5,1.1 1.5,1.1 1.5,1.1 1.5,1.2 1.5,1.1 1.5,1.2 1.5,1.1 1.5,1.2 1.5,1.1 1.5,1.2 1.5,1.1 1.5,1.2 1.5,1.1 1.5,1.2 1.5,1.1 1.5,1.2 1.5,1.1 1.5,1.2 1.5,1.1 1.5,1.2 1.5,1.1 1.5,1.1 1.5,1.1 1.5,1.2 1.5,1.1 1.5,1.1 1.5,1.1 1.5,1 1.5,1.1 1.5,1.1 1.5,1 1.5,1.1 1.5,1 1.5,1.1 1.5,1 1.5,1 1.5,1 1.5,1 1.5,1 1.5,1 1.5,.9 1.5,1 1.5,.9 1.5,.9 1.5,1 1.5,.9 1.5,.9 1.5,.9 1.5,.9 1.5,.8 1.5,.9 1.5,.9 1.5,.8 1.5,.9 1.5,.8 1.5,.8 1.5,.8 1.5,.8 1.5,.8 1.5,.8 1.5,.8 1.5,.7 1.5,.8 1.5,.7 1.5,.8 1.5,.7 1.5,.7 1.5,.8 1.5,.7 1.5,.7 1.5,.7 1.5,.7 1.5,.7 1.5,.7 1.5,.6 1.5,.7 1.5,.7 1.5,.7 1.5,.6 1.5,.7 1.5,.6 1.5,.7 1.5,.6 1.5,.6 1.5,.7 1.5,.6 1.5,.6 1.5,.6 1.5,.6 1.5,.6 1.5,.6 1.5,.6 1.5,.6 1.5,.6 1.5,.6 1.5,.5 1.5,.6 1.5,.6 1.5,.5 1.5,.6 1.5,.5 1.5,.6 1.5,.5 1.5,.6 1.5,.5 1.5,.5 1.5,.6 1.5,.5 1.5,.5 1.5,.5 1.5,.5 1.5,.5 1.5,.5 1.5,.5 1.5,.5 1.5,.5 1.5,.5 1.5,.5 1.5,.4 1.5,.5 1.5,.5 1.5,.5 1.5,.5 1.5,.5 1.5,.4 1.5,.5 1.5,.5 1.5,.5 1.5,.5 1.5,.5 1.5,.5 1.5,.4 1.5,.5 1.5,.5 1.5,.5 1.5,.4 1.5,.5 1.5,.5 1.5,.4 1.5,.5 1.5,.4 1.5,.4 1.5,.5 1.5,.4 1.5,.4 1.5,.4 1.5,.4 1.5,.4 1.5,.3 1.5,.4 1.5,.3 1.5,.4 1.5,.3 1.5,.3 1.5,.3 1.5,.3 1.5,.3 1.5,.2 1.5,.2 1.5,.3 1.5,.2 1.5,.2 1.5,.2 1.5,.2 1.5,.2 1.5,.2 1.5,.2 1.5,.2 1.5,.2 1.5,.2 1.5,.2 1.5,.1 1.5,.2 1.5,.2 1.5,.2 1.5,.1 1.5,.2 1.5,.2 1.5,.1 1.5,.2 1.5,.2 1.5,.1 1.5,.2 1.5,.1 1.5,.2 1.5,.1 1.5,.2 1.5,.1 1.5,.2 1.5,.1 1.5,.2 1.5,.1 1.5,.1 1.5,.2 1.5,.1 1.5,.1 1.5,.1 1.5,.2 1.5,.1 1.5,.1 1.5,.1 1.5,.1 1.5,.1 1.5,.1 1.5,.2 1.5,.1 1.5,.1 1.5,.1 1.5,.1 1.5,.1 1.5,.1 1.5,.1 1.5,0 1.5,.1 1.5,.1 1.5,.1 1.5,.1 1.5,.1 1.5,0 1.5,.1 1.5,.1 1.5,.1 1.5,0 1.5,.1 1.5,.1 1.5,0 1.5,.1 1.5,.1 1.5,0 1.5,.1 1.5,0 1.5,.1 1.5,.1 1.5,0 1.5,.1 1.5,0 1.5,.1 1.5,.1 1.5,0 1.5,.1 1.5,0 1.5,.1 1.5,0 1.5,.1 1.5,0 1.5,.1 1.5,.1 1.5,0 1.5,.1 1.5,0 1.5,.1 1.5,0 1.5,.1 1.5,0 1.5,.1 1.5,0 1.5,.1 1.5,0 1.5,.1 1.5,0 1.5,0 1.5,.1 1.5,0 1.5,.1 1.5,0 1.5,.1 1.5,0 1.5,.1 1.5,0 1.5,0 1.5,.1 1.5,0 1.5,.1 1.5,0 1.5,.1 1.5,0 1.5,0 1.5,.1 1.5,0 1.5,0 1.5,.1 1.5,0 1.5,.1 1.5,0 1.5,0 1.5,.1 1.5,0 1.5,0 1.5,.1 1.5,0 1.5,0 1.5,.1 1.5,0 1.5,0 1.5,.1 1.5,0 1.5,0 1.5,.1 1.5,0 1.5,0 1.5,.1 1.5,0 1.5,0 1.5,.1 1.5,0 1.5,0 1.5,0 1.5,.1 1.5,0 1.5,0 1.5,0 1.5,.1 1.5,0 1.5,0 1.5,0 1.5,.1 1.5,0 1.5,0 1.5,0 1.5,.1 1.5,0 1.5,0 1.5,0 1.5,.1 1.5,0 1.5,0 1.5,0 1.5,0 1.5,0 1.5,.1 1.5,0 1.5,0 1.5,0 1.5,0 1.5,.1 1.5,0 1.5,0 1.5,0 1.5,0 1.5,0 1.5,0 1.5,.1 1.5,0 1.5,0 1.5,0 1.5,0 1.5,0 1.5,0" fill="none" stroke="#0000ff" stroke-width="3.0" stroke-linejoin="round" stroke-linecap="round" />
<path d="M136,895.2l1.5,0 1.5,0 1.5-.1 1.5,0 1.5,0 1.5,0 1.5,0 1.5,0 1.5,0 1.5,0 1.5,0 1.5,0 1.5,0 1.5,0 1.5,0 1.5,0 1.5,.1 1.5,0 1.5,0 1.5,0 1.5,0 1.5,0 1.5,0 1.5,0 1.5,0 1.5,0 1.5,0 1.5,0 1.5,0 1.5,0 1.5,0 1.5,0 1.5,0 1.5,0 1.5,0 1.5,0 1.5,0 1.5,0 1.5,0 1.5,0 1.5,0 1.5,0 1.5,0 1.5,0 1.5,0 1.5,0 1.5,0 1.5,0 1.5,0 1.5,0 1.5,0 1.5,0 1.5,0 1.5,.1 1.5,0 1.5,0 1.5,0 1.5,0 1.5,0 1.5,0 1.5,0 1.5,0 1.5,0 1.5,0 1.5,0 1.5,0 1.5,0 1.5,0 1.5,0 1.5,0 1.5,0 1.5,0 1.5,.1 1.5,0 1.5,0 1.5,0 1.5,0 1.5,0 1.5,0 1.5,0 1.5,0 1.5,0 1.5,0 1.5,0 1.5,0 1.5,0 1.5,0 1.5,.1 1.5,0 1.5,0 1.5,0 1.5,0 1.5,0 1.5,0 1.5,0 1.5,0 1.5,0 1.5,0 1.5,0 1.5,0 1.5,.1 1.5,0 1.5,0 1.5,0 1.5,0 1.5,0 1.5,0 1.5,0 1.5,0 1.5,0 1.5,0 1.5,.1 1.5,0 1.5,0 1.5,0 1.5,0 1.5,0 1.5,0 1.5,0 1.5,0 1.5,0 1.5,0 1.5,.1 1.5,0 1.5,0 1.5,0 1.5,0 1.5,0 1.5,0 1.5,0 1.5,0 1.5,0 1.5,.1 1.5,0 1.5,0 1.5,0 1.5,0 1.5,0 1.5,0 1.5,0 1.5,0 1.5,.1 1.5,0 1.5,0 1.5,0 1.5,0 1.5,0 1.5,0 1.5,0 1.5,0 1.5,.1 1.5,0 1.5,0 1.5,0 1.5,0 1.5,0 1.5,0 1.5,0 1.5,.1 1.5,0 1.5,0 1.5,0 1.5,0 1.5,0 1.5,0 1.5,0 1.5,0 1.5,.1 1.5,0 1.5,0 1.5,0 1.5,0 1.5,0 1.5,0 1.5,0 1.5,.1 1.5,0 1.5,0 1.5,0 1.5,0 1.5,0 1.5,0 1.5,.1 1.5,0 1.5,0 1.5,0 1.5,0 1.5,0 1.5,0 1.5,0 1.5,.1 1.5,0 1.5,0 1.5,0 1.5,0 1.5,0 1.5,0 1.5,0 1.5,.1 1.5,0 1.5,0 1.5,0 1.5,0 1.5,0 1.5,0 1.5,.1 1.5,0 1.5,0 1.5,0 1.5,0 1.5,0 1.5,0 1.5,.1 1.5,0 1.5,0 1.5,0 1.5,0 1.5,0 1.5,0 1.5,.1 1.5,0 1.5,0 1.5,0 1.5,0 1.5,0 1.5,0 1.5,0 1.5,.1 1.5,0 1.5,0 1.5,0 1.5,0 1.5,0 1.5,0 1.5,.1 1.5,0 1.5,0 1.5,0 1.5,0 1.5,0 1.5,0 1.5,.1 1.5,0 1.5,0 1.5,0 1.5,0 1.5,0 1.5,0 1.5,.1 1.5,0 1.5,0 1.5,0 1.5,0 1.5,0 1.5,0 1.5,.1 1.5,0 1.5,0 1.5,0 1.5,0 1.5,0 1.5,0 1.5,.1 1.5,0 1.5,0 1.5,0 1.5,0 1.5,0 1.5,.1 1.5,0 1.5,0 1.5,0 1.5,0 1.5,.1 1.5,0 1.5,0 1.5,0 1.5,.1 1.5,0 1.5,0 1.5,0 1.5,.1 1.5,0 1.5,0 1.5,0 1.5,.1 1.5,0 1.5,0 1.5,.1 1.5,0 1.5,0 1.5,.1 1.5,0 1.5,0 1.5,.1 1.5,0 1.5,0 1.5,.1 1.5,0 1.5,0 1.5,.1 1.5,0 1.5,0 1.5,.1 1.5,0 1.5,0 1.5,.1 1.5,0 1.5,0 1.5,.1 1.5,0 1.5,0 1.5,.1 1.5,0 1.5,0 1.5,.1 1.5,0 1.5,0 1.5,.1 1.5,0 1.5,0 1.5,.1 1.5,0 1.5,.1 1.5,0 1.5,0 1.5,.1 1.5,0 1.5,0 1.5,.1 1.5,0 1.5,0 1.5,.1 1.5,0 1.5,0 1.5,.1 1.5,0 1.5,0 1.5,0 1.5,.1 1.5,0 1.5,0 1.5,.1 1.5,0 1.5,0 1.5,0 1.5,.1 1.5,0 1.5,0 1.5,.1 1.5,0 1.5,0 1.5,0 1.5,0 1.5,.1 1.5,0 1.5,0 1.5,0 1.5,0 1.5,.1 1.5,0 1.5,0 1.5,0 1.5,0 1.5,.1 1.5,0 1.5,0 1.5,0 1.5,0 1.5,0 1.5,0 1.5,.1 1.5,0 1.5,0 1.5,0 1.5,0 1.5,0 1.5,0 1.5,.1 1.5,0 1.5,0 1.5,0 1.5,0 1.5,0 1.5,0 1.5,0 1.5,0 1.5,.1 1.5,0 1.5,0 1.5,0 1.5,0 1.5,0 1.5,0 1.5,0 1.5,0 1.5,0 1.5,0 1.5,0 1.5,.1 1.5,0 1.5,0 1.5,0 1.5,0 1.5,0 1.5,0 1.5,0 1.5,0 1.5,0 1.5,0 1.5,0 1.5,0 1.5,0 1.5,0 1.5,0 1.5,0 1.5,0 1.5,0 1.5,.1 1.5,0 1.5,0 1.5,0 1.5,0 1.5,0 1.5,0 1.5,0 1.5,0 1.5,0 1.5,0 1.5,0 1.5,0 1.5,0 1.5,0 1.5,0 1.5,0 1.5,0 1.5,0 1.5,0 1.5,0 1.5,0 1.5,0 1.5,0 1.5,0 1.5,0 1.5,0 1.5,0 1.5,0 1.5,0 1.5,0 1.5,0 1.5-.1 1.5,0 1.5,0 1.5,0 1.5,0 1.5,0 1.5,0 1.5,0 1.5,0 1.5,0 1.5,0 1.5-.1 1.5,0 1.5,0 1.5,0 1.5,0 1.5,0 1.5-.1 1.5,0 1.5,0 1.5,0 1.5,0 1.5,0 1.5-.1 1.5,0 1.5,0 1.5,0 1.5-.1 1.5,0 1.5,0 1.5,0 1.5,0 1.5-.1 1.5,0 1.5,0 1.5-.1 1.5,0 1.5,0 1.5,0 1.5-.1 1.5,0 1.5,0 1.5-.1 1.5,0 1.5,0 1.5-.1 1.5,0 1.5,0 1.5-.1 1.5,0 1.5-.1 1.5,0 1.5,0 1.5-.1 1.5,0 1.5-.1 1.5,0 1.5-.1 1.5,0 1.5-.1 1.5,0 1.5-.1 1.5-.1 1.5,0 1.5-.1 1.5,0 1.5-.1 1.5-.1 1.5-.1 1.5,0 1.5-.1 1.5-.1 1.5-.1 1.5-.1 1.5-.1 1.5-.1 1.5-.1 1.5-.1 1.5-.1 1.5-.1 1.5-.1 1.5-.1 1.5-.2 1.5-.1 1.5-.2 1.5-.1 1.5-.2 1.5-.1 1.5-.2 1.5-.2 1.5-.1 1.5-.2 1.5-.2 1.5-.2 1.5-.2 1.5-.2 1.5-.3 1.5-.2 1.5-.2 1.5-.3 1.5-.3 1.5-.3 1.5-.3 1.5-.3 1.5-.3 1.5-.3 1.5-.4 1.5-.4 1.5-.3 1.5-.5 1.5-.4 1.5-.4 1.5-.5 1.5-.5 1.5-.5 1.5-.6 1.5-.5 1.5-.6 1.5-.6 1.5-.7 1.5-.7 1.5-.7 1.5-.7 1.5-.8 1.5-.8 1.5-.8 1.5-.9 1.5-.8 1.5-1 1.5-.9 1.5-1 1.5-1 1.5-1 1.5-1.1 1.5-1.1 1.5-1.1 1.5-1.2 1.5-1.2 1.5-1.2 1.5-1.3 1.5-1.3 1.5-1.4 1.5-1.4 1.5-1.4 1.5-1.5 1.5-1.5 1.5-1.5 1.5-1.6 1.5-1.6 1.5-1.7 1.5-1.7 1.5-1.8 1.5-1.8 1.5-1.8 1.5-1.8 1.5-1.9 1.5-2 1.5-2 1.5-2 1.5-2 1.5-2.1 1.5-2.1 1.5-2.2 1.5-2.1 1.5-2.2 1.5-2.3 1.5-2.2 1.5-2.3 1.5-2.3 1.5-2.3 1.5-2.4 1.5-2.3 1.5-2.4 1.5-2.4 1.5-2.3 1.5-2.4 1.5-2.4 1.5-2.4 1.5-2.4 1.5-2.4 1.5-2.3 1.5-2.4 1.5-2.3 1.5-2.3 1.5-2.3 1.5-2.2 1.5-2.2 1.5-2.1 1.5-2.1 1.5-2 1.5-2 1.5-1.9 1.5-1.9 1.5-1.8 1.5-1.7 1.5-1.6 1.5-1.5 1.5-1.5 1.5-1.4 1.5-1.2 1.5-1.2 1.5-1 1.5-1 1.5-.8 1.5-.7 1.5-.6 1.5-.5 1.5-.3 1.5-.2 1.5-.1 1.5,0 1.5,.2 1.5,.3 1.5,.4 1.5,.6 1.5,.7 1.5,.8 1.5,1 1.5,1 1.5,1.2 1.5,1.4 1.5,1.4 1.5,1.5 1.5,1.7 1.5,1.8 1.5,1.8 1.5,2 1.5,2.1 1.5,2.2 1.5,2.2 1.5,2.3 1.5,2.4 1.5,2.5 1.5,2.6 1.5,2.6 1.5,2.7 1.5,2.7 1.5,2.8 1.5,2.9 1.5,2.9 1.5,2.9 1.5,3 1.5,3 1.5,3 1.5,3 1.5,3.1 1.5,3.1 1.5,3.1 1.5,3.1 1.5,3.1 1.5,3.1 1.5,3.1 1.5,3.1 1.5,3.1 1.5,3.1 1.5,3 1.5,3.1 1.5,3 1.5,3 1.5,3 1.5,3 1.5,2.9 1.5,2.9 1.5,2.9 1.5,2.8 1.5,2.8 1.5,2.8 1.5,2.7 1.5,2.7 1.5,2.7 1.5,2.6 1.5,2.6 1.5,2.5 1.5,2.5 1.5,2.4 1.5,2.4 1.5,2.3 1.5,2.3 1.5,2.3 1.5,2.2 1.5,2.2 1.5,2.1 1.5,2 1.5,2.1 1.5,1.9 1.5,2 1.5,1.9 1.5,1.8 1.5,1.8 1.5,1.8 1.5,1.8 1.5,1.7 1.5,1.6 1.5,1.6 1.5,1.6 1.5,1.6 1.5,1.5 1.5,1.4 1.5,1.4 1.5,1.4 1.5,1.4 1.5,1.3 1.5,1.3 1.5,1.2 1.5,1.2 1.5,1.2 1.5,1.1 1.5,1.1 1.5,1 1.5,1.1 1.5,.9 1.5,1 1.5,.9 1.5,.9 1.5,.8 1.5,.9 1.5,.7 1.5,.8 1.5,.7 1.5,.7 1.5,.7 1.5,.6 1.5,.6 1.5,.5 1.5,.6 1.5,.5 1.5,.4 1.5,.5 1.5,.5 1.5,.4 1.5,.4 1.5,.4 1.5,.4 1.5,.4 1.5,.3 1.5,.4 1.5,.3 1.5,.3 1.5,.4 1.5,.3 1.5,.3 1.5,.3 1.5,.2 1.5,.3 1.5,.3 1.5,.2 1.5,.3 1.5,.2 1.5,.3 1.5,.2 1.5,.2 1.5,.2 1.5,.2 1.5,.2 1.5,.2 1.5,.2 1.5,.2 1.5,.2 1.5,.2 1.5,.2 1.5,.1 1.5,.2 1.5,.1 1.5,.2 1.5,.2 1.5,.1 1.5,.1 1.5,.2 1.5,.1 1.5,.2 1.5,.1 1.5,.1 1.5,.1 1.5,.2 1.5,.1 1.5,.1 1.5,.1 1.5,.1 1.5,.1 1.5,.1 1.5,.1 1.5,.1 1.5,.1 1.5,.1 1.5,.1 1.5,.1 1.5,.1 1.5,.1 1.5,0 1.5,.1 1.5,.1 1.5,.1 1.5,0 1.5,.1 1.5,.1 1.5,0 1.5,.1 1.5,.1 1.5,0 1.5,.1 1.5,.1 1.5,0 1.5,.1 1.5,.1 1.5,0 1.5,.1 1.5,0 1.5,.1 1.5,.1 1.5,0 1.5,.1 1.5,0 1.5,.1 1.5,0 1.5,.1 1.5,.1 1.5,0 1.5,.1 1.5,0 1.5,.1 1.5,0 1.5,.1 1.5,0 1.5,.1 1.5,0 1.5,.1 1.5,0 1.5,.1 1.5,0 1.5,.1 1.5,0 1.5,0 1.5,.1 1.5,0 1.5,.1 1.5,0 1.5,.1 1.5,0 1.5,.1 1.5,0 1.5,0 1.5,.1 1.5,0 1.5,.1 1.5,0 1.5,0 1.5,.1 1.5,0 1.5,0 1.5,.1 1.5,0 1.5,.1 1.5,0 1.5,0 1.5,.1 1.5,0 1.5,0 1.5,.1 1.5,0 1.5,0 1.5,.1 1.5,0 1.5,0 1.5,.1 1.5,0 1.5,0 1.5,0 1.5,.1 1.5,0 1.5,0 1.5,.1 1.5,0 1.5,0 1.5,0 1.5,.1 1.5,0 1.5,0 1.5,0 1.5,.1 1.5,0 1.5,0 1.5,0 1.5,.1 1.5,0 1.5,0 1.5,0 1.5,0 1.5,.1 1.5,0 1.5,0 1.5,0 1.5,0 1.5,.1 1.5,0 1.5,0 1.5,0 1.5,0 1.5,0 1.5,.1 1.5,0 1.5,0 1.5,0 1.5,0 1.5,0 1.5,.1 1.5,0 1.5,0 1.5,0 1.5,0 1.5,0 1.5,0 1.5,0 1.5,0 1.5,.1" fill="none" stroke="#0000ff" stroke-width="3.0" stroke-linejoin="round" stroke-linecap="round" />
<path d="M136,894.9l1.5,0 1.5,0 1.5,0 1.5,0 1.5,0 1.5,0 1.5,0 1.5,0 1.5,0 1.5,0 1.5,0 1.5,0 1.5,0 1.5,0 1.5,0 1.5,0 1.5,0 1.5,0 1.5,0 1.5,0 1.5,0 1.5,0 1.5,0 1.5,0 1.5,0 1.5,0 1.5,0 1.5,0 1.5,0 1.5,0 1.5,0 1.5,0 1.5,0 1.5,0 1.5,0 1.5,0 1.5,0 1.5,0 1.5,0 1.5,0 1.5,0 1.5,0 1.5,0 1.5,0 1.5,0 1.5,.1 1.5,0 1.5,0 1.5,0 1.5,0 1.5,0 1.5,0 1.5,0 1.5,0 1.5,0 1.5,0 1.5,0 1.5,0 1.5,0 1.5,0 1.5,0 1.5,0 1.5,0 1.5,0 1.5,0 1.5,0 1.5,0 1.5,0 1.5,0 1.5,.1 1.5,0 1.5,0 1.5,0 1.5,0 1.5,0 1.5,0 1.5,0 1.5,0 1.5,0 1.5,0 1.5,0 1.5,0 1.5,0 1.5,0 1.5,0 1.5,0 1.5,.1 1.5,0 1.5,0 1.5,0 1.5,0 1.5,0 1.5,0 1.5,0 1.5,0 1.5,0 1.5,0 1.5,0 1.5,0 1.5,0 1.5,.1 1.5,0 1.5,0 1.5,0 1.5,0 1.5,0 1.5,0 1.5,0 1.5,0 1.5,0 1.5,0 1.5,0 1.5,0 1.5,.1 1.5,0 1.5,0 1.5,0 1.5,0 1.5,0 1.5,0 1.5,0 1.5,0 1.5,0 1.5,0 1.5,.1 1.5,0 1.5,0 1.5,0 1.5,0 1.5,0 1.5,0 1.5,0 1.5,0 1.5,0 1.5,0 1.5,.1 1.5,0 1.5,0 1.5,0 1.5,0 1.5,0 1.5,0 1.5,0 1.5,0 1.5,0 1.5,.1 1.5,0 1.5,0 1.5,0 1.5,0 1.5,0 1.5,0 1.5,0 1.5,0 1.5,.1 1.5,0 1.5,0 1.5,0 1.5,0 1.5,0 1.5,0 1.5,0 1.5,0 1.5,.1 1.5,0 1.5,0 1.5,0 1.5,0 1.5,0 1.5,0 1.5,0 1.5,0 1.5,.1 1.5,0 1.5,0 1.5,0 1.5,0 1.5,0 1.5,0 1.5,0 1.5,0 1.5,.1 1.5,0 1.5,0 1.5,0 1.5,0 1.5,0 1.5,0 1.5,0 1.5,.1 1.5,0 1.5,0 1.5,0 1.5,0 1.5,0 1.5,0 1.5,0 1.5,.1 1.5,0 1.5,0 1.5,0 1.5,0 1.5,0 1.5,0 1.5,0 1.5,.1 1.5,0 1.5,0 1.5,0 1.5,0 1.5,0 1.5,0 1.5,0 1.5,.1 1.5,0 1.5,0 1.5,0 1.5,0 1.5,0 1.5,0 1.5,0 1.5,.1 1.5,0 1.5,0 1.5,0 1.5,0 1.5,0 1.5,0 1.5,0 1.5,.1 1.5,0 1.5,0 1.5,0 1.5,0 1.5,0 1.5,0 1.5,0 1.5,.1 1.5,0 1.5,0 1.5,0 1.5,0 1.5,0 1.5,0 1.5,.1 1.5,0 1.5,0 1.5,0 1.5,0 1.5,0 1.5,0 1.5,0 1.5,.1 1.5,0 1.5,0 1.5,0 1.5,0 1.5,0 1.5,0 1.5,0 1.5,.1 1.5,0 1.5,0 1.5,0 1.5,0 1.5,0 1.5,0 1.5,.1 1.5,0 1.5,0 1.5,0 1.5,0 1.5,.1 1.5,0 1.5,0 1.5,0 1.5,0 1.5,.1 1.5,0 1.5,0 1.5,0 1.5,.1 1.5,0 1.5,0 1.5,0 1.5,.1 1.5,0 1.5,0 1.5,.1 1.5,0 1.5,0 1.5,0 1.5,.1 1.5,0 1.5,0 1.5,.1 1.5,0 1.5,0 1.5,.1 1.5,0 1.5,0 1.5,.1 1.5,0 1.5,0 1.5,.1 1.5,0 1.5,0 1.5,.1 1.5,0 1.5,0 1.5,.1 1.5,0 1.5,0 1.5,.1 1.5,0 1.5,0 1.5,.1 1.5,0 1.5,0 1.5,.1 1.5,0 1.5,0 1.5,.1 1.5,0 1.5,0 1.5,.1 1.5,0 1.5,0 1.5,0 1.5,.1 1.5,0 1.5,0 1.5,.1 1.5,0 1.5,0 1.5,.1 1.5,0 1.5,0 1.5,.1 1.5,0 1.5,0 1.5,0 1.5,.1 1.5,0 1.5,0 1.5,0 1.5,.1 1.5,0 1.5,0 1.5,0 1.5,.1 1.5,0 1.5,0 1.5,0 1.5,.1 1.5,0 1.5,0 1.5,0 1.5,0 1.5,0 1.5,.1 1.5,0 1.5,0 1.5,0 1.5,0 1.5,0 1.5,.1 1.5,0 1.5,0 1.5,0 1.5,0 1.5,0 1.5,0 1.5,0 1.5,.1 1.5,0 1.5,0 1.5,0 1.5,0 1.5,0 1.5,0 1.5,0 1.5,0 1.5,.1 1.5,0 1.5,0 1.5,0 1.5,0 1.5,0 1.5,0 1.5,0 1.5,0 1.5,0 1.5,0 1.5,0 1.5,.1 1.5,0 1.5,0 1.5,0 1.5,0 1.5,0 1.5,0 1.5,0 1.5,0 1.5,0 1.5,0 1.5,0 1.5,0 1.5,0 1.5,0 1.5,0 1.5,0 1.5,0 1.5,0 1.5,0 1.5,.1 1.5,0 1.5,0 1.5,0 1.5,0 1.5,0 1.5,0 1.5,0 1.5,0 1.5,0 1.5,0 1.5,0 1.5,0 1.5,0 1.5,0 1.5,0 1.5,0 1.5,0 1.5,0 1.5,0 1.5,0 1.5,0 1.5,0 1.5,0 1.5,0 1.5,0 1.5,0 1.5,0 1.5,0 1.5,0 1.5,0 1.5,0 1.5,0 1.5,0 1.5,0 1.5,0 1.5,0 1.5,0 1.5,0 1.5-.1 1.5,0 1.5,0 1.5,0 1.5,0 1.5,0 1.5,0 1.5,0 1.5,0 1.5,0 1.5,0 1.5-.1 1.5,0 1.5,0 1.5,0 1.5,0 1.5,0 1.5,0 1.5-.1 1.5,0 1.5,0 1.5,0 1.5,0 1.5,0 1.5,0 1.5-.1 1.5,0 1.5,0 1.5,0 1.5,0 1.5-.1 1.5,0 1.5,0 1.5,0 1.5,0 1.5-.1 1.5,0 1.5,0 1.5,0 1.5,0 1.5-.1 1.5,0 1.5,0 1.5,0 1.5-.1 1.5,0 1.5,0 1.5,0 1.5,0 1.5-.1 1.5,0 1.5,0 1.5,0 1.5-.1 1.5,0 1.5,0 1.5,0 1.5-.1 1.5,0 1.5,0 1.5,0 1.5-.1 1.5,0 1.5,0 1.5,0 1.5-.1 1.5,0 1.5,0 1.5-.1 1.5,0 1.5,0 1.5,0 1.5-.1 1.5,0 1.5,0 1.5-.1 1.5,0 1.5,0 1.5,0 1.5-.1 1.5,0 1.5,0 1.5-.1 1.5,0 1.5,0 1.5,0 1.5-.1 1.5,0 1.5,0 1.5,0 1.5,0 1.5,0 1.5,0 1.5,0 1.5,0 1.5,0 1.5,0 1.5,0 1.5,0 1.5,0 1.5,0 1.5,0 1.5,0 1.5,0 1.5,.1 1.5,0 1.5,0 1.5,0 1.5,0 1.5,0 1.5,.1 1.5,0 1.5,0 1.5,0 1.5,0 1.5,0 1.5,0 1.5,.1 1.5,0 1.5,0 1.5,0 1.5,0 1.5,0 1.5,0 1.5,.1 1.5,0 1.5,0 1.5,.1 1.5,0 1.5,.1 1.5,0 1.5,.1 1.5,.1 1.5,0 1.5,.1 1.5,.1 1.5,.1 1.5,0 1.5,.1 1.5,.1 1.5,.1 1.5,0 1.5,.1 1.5,.1 1.5,.1 1.5,0 1.5,.1 1.5,.1 1.5,0 1.5,.1 1.5,0 1.5,.1 1.5,0 1.5,.1 1.5,0 1.5,0 1.5,0 1.5,0 1.5,0 1.5,0 1.5,0 1.5-.1 1.5,0 1.5-.1 1.5-.1 1.5-.1 1.5-.1 1.5-.1 1.5-.2 1.5-.1 1.5-.2 1.5-.2 1.5-.3 1.5-.2 1.5-.3 1.5-.3 1.5-.3 1.5-.4 1.5-.4 1.5-.4 1.5-.4 1.5-.5 1.5-.5 1.5-.5 1.5-.5 1.5-.6 1.5-.7 1.5-.6 1.5-.7 1.5-.8 1.5-.7 1.5-.9 1.5-.8 1.5-1 1.5-.9 1.5-1.1 1.5-1 1.5-1.2 1.5-1.2 1.5-1.2 1.5-1.3 1.5-1.4 1.5-1.4 1.5-1.5 1.5-1.6 1.5-1.6 1.5-1.7 1.5-1.8 1.5-1.8 1.5-2 1.5-2 1.5-2.1 1.5-2.1 1.5-2.3 1.5-2.3 1.5-2.4 1.5-2.5 1.5-2.6 1.5-2.7 1.5-2.8 1.5-2.8 1.5-3 1.5-3 1.5-3.1 1.5-3.2 1.5-3.3 1.5-3.4 1.5-3.5 1.5-3.5 1.5-3.7 1.5-3.7 1.5-3.8 1.5-3.9 1.5-3.9 1.5-4.1 1.5-4.1 1.5-4.2 1.5-4.2 1.5-4.3 1.5-4.4 1.5-4.4 1.5-4.4 1.5-4.5 1.5-4.6 1.5-4.5 1.5-4.6 1.5-4.6 1.5-4.7 1.5-4.6 1.5-4.6 1.5-4.5 1.5-4.6 1.5-4.5 1.5-4.4 1.5-4.4 1.5-4.3 1.5-4.2 1.5-4.1 1.5-4 1.5-3.8 1.5-3.7 1.5-3.6 1.5-3.3 1.5-3.2 1.5-2.9 1.5-2.7 1.5-2.5 1.5-2.2 1.5-2 1.5-1.7 1.5-1.4 1.5-1.1 1.5-.8 1.5-.5 1.5-.2 1.5,.1 1.5,.4 1.5,.8 1.5,1 1.5,1.3 1.5,1.6 1.5,1.9 1.5,2.1 1.5,2.4 1.5,2.7 1.5,2.9 1.5,3.2 1.5,3.4 1.5,3.6 1.5,3.7 1.5,4 1.5,4.1 1.5,4.2 1.5,4.4 1.5,4.5 1.5,4.7 1.5,4.7 1.5,4.8 1.5,4.8 1.5,4.9 1.5,5 1.5,4.9 1.5,5 1.5,5.1 1.5,5 1.5,5 1.5,5 1.5,4.9 1.5,4.9 1.5,4.9 1.5,4.9 1.5,4.8 1.5,4.7 1.5,4.7 1.5,4.6 1.5,4.5 1.5,4.5 1.5,4.4 1.5,4.3 1.5,4.3 1.5,4.1 1.5,4.1 1.5,4 1.5,3.9 1.5,3.8 1.5,3.7 1.5,3.7 1.5,3.6 1.5,3.5 1.5,3.4 1.5,3.4 1.5,3.3 1.5,3.2 1.5,3.1 1.5,3 1.5,3 1.5,2.9 1.5,2.8 1.5,2.7 1.5,2.7 1.5,2.6 1.5,2.5 1.5,2.4 1.5,2.4 1.5,2.3 1.5,2.2 1.5,2.2 1.5,2.1 1.5,2 1.5,2 1.5,1.9 1.5,1.9 1.5,1.8 1.5,1.7 1.5,1.7 1.5,1.7 1.5,1.6 1.5,1.5 1.5,1.5 1.5,1.4 1.5,1.4 1.5,1.3 1.5,1.3 1.5,1.3 1.5,1.2 1.5,1.2 1.5,1.1 1.5,1.1 1.5,1.1 1.5,1 1.5,1 1.5,1 1.5,.9 1.5,.9 1.5,.8 1.5,.9 1.5,.8 1.5,.8 1.5,.7 1.5,.8 1.5,.7 1.5,.7 1.5,.6 1.5,.7 1.5,.6 1.5,.6 1.5,.6 1.5,.6 1.5,.5 1.5,.6 1.5,.5 1.5,.5 1.5,.5 1.5,.5 1.5,.4 1.5,.5 1.5,.4 1.5,.5 1.5,.4 1.5,.4 1.5,.4 1.5,.4 1.5,.4 1.5,.3 1.5,.4 1.5,.3 1.5,.4 1.5,.3 1.5,.4 1.5,.3 1.5,.3 1.5,.3 1.5,.3 1.5,.3 1.5,.3 1.5,.3 1.5,.3 1.5,.2 1.5,.3 1.5,.3 1.5,.2 1.5,.3 1.5,.2 1.5,.3 1.5,.2 1.5,.3 1.5,.2 1.5,.2 1.5,.2 1.5,.3 1.5,.2 1.5,.2 1.5,.2 1.5,.2 1.5,.2 1.5,.2 1.5,.2 1.5,.2 1.5,.2 1.5,.2 1.5,.1 1.5,.2 1.5,.2 1.5,.2 1.5,.1 1.5,.2 1.5,.2 1.5,.1 1.5,.2 1.5,.1 1.5,.2 1.5,.2 1.5,.1 1.5,.2 1.5,.1 1.5,.1 1.5,.2 1.5,.1 1.5,.2 1.5,.1 1.5,.1 1.5,.2 1.5,.1 1.5,.1 1.5,.1 1.5,.2 1.5,.1 1.5,.1 1.5,.1 1.5,.1 1.5,.1 1.5,.2 1.5,.1 1.5,.1 1.5,.1 1.5,.1 1.5,.1 1.5,.1 1.5,.1 1.5,.1 1.5,.1 1.5,.1 1.5,.1 1.5,.1 1.5,.1 1.5,.1 1.5,0 1.5,.1 1.5,.1 1.5,.1 1.5,.1 1.5,.1 1.5,0 1.5,.1 1.5,.1 1.5,.1 1.5,.1 1.5,0 1.5,.1 1.5,.1 1.5,0 1.5,.1 1.5,.1 1.5,0 1.5,.1 1.5,.1 1.5,0 1.5,.1 1.5,.1 1.5,0" fill="none" stroke="#0000ff" stroke-width="3.0" stroke-linejoin="round" stroke-linecap="round" />
<path d="M136,894l1.5,0 1.5,0 1.5,0 1.5,0 1.5,0 1.5,0 1.5,0 1.5,0 1.5,0 1.5,0 1.5,0 1.5,0 1.5,0 1.5,0 1.5,0 1.5,0 1.5,0 1.5,0 1.5,0 1.5,0 1.5,0 1.5,0 1.5,0 1.5,0 1.5,0 1.5,0 1.5,0 1.5,0 1.5,0 1.5,0 1.5-.1 1.5,0 1.5,0 1.5,0 1.5,0 1.5,0 1.5,0 1.5,0 1.5,0 1.5,0 1.5,0 1.5,0 1.5,0 1.5,0 1.5,0 1.5,0 1.5,0 1.5,0 1.5,0 1.5,0 1.5,0 1.5,0 1.5,0 1.5,0 1.5,0 1.5-.1 1.5,0 1.5,0 1.5,0 1.5,0 1.5,0 1.5,0 1.5,0 1.5,0 1.5,0 1.5,0 1.5,0 1.5,0 1.5,0 1.5,0 1.5,0 1.5,0 1.5-.1 1.5,0 1.5,0 1.5,0 1.5,0 1.5,0 1.5,0 1.5,0 1.5,0 1.5,0 1.5,0 1.5,0 1.5,0 1.5,0 1.5,0 1.5,0 1.5-.1 1.5,0 1.5,0 1.5,0 1.5,0 1.5,0 1.5,0 1.5,0 1.5,0 1.5,0 1.5,0 1.5,0 1.5,0 1.5,0 1.5-.1 1.5,0 1.5,0 1.5,0 1.5,0 1.5,0 1.5,0 1.5,0 1.5,0 1.5,0 1.5,0 1.5,0 1.5,0 1.5,0 1.5-.1 1.5,0 1.5,0 1.5,0 1.5,0 1.5,0 1.5,0 1.5,0 1.5,0 1.5,0 1.5,0 1.5,0 1.5,0 1.5-.1 1.5,0 1.5,0 1.5,0 1.5,0 1.5,0 1.5,0 1.5,0 1.5,0 1.5,0 1.5,0 1.5,0 1.5,0 1.5-.1 1.5,0 1.5,0 1.5,0 1.5,0 1.5,0 1.5,0 1.5,0 1.5,0 1.5,0 1.5,0 1.5,0 1.5,0 1.5-.1 1.5,0 1.5,0 1.5,0 1.5,0 1.5,0 1.5,0 1.5,0 1.5,0 1.5,0 1.5,0 1.5,0 1.5,0 1.5-.1 1.5,0 1.5,0 1.5,0 1.5,0 1.5,0 1.5,0 1.5,0 1.5,0 1.5,0 1.5,0 1.5,0 1.5,0 1.5-.1 1.5,0 1.5,0 1.5,0 1.5,0 1.5,0 1.5,0 1.5,0 1.5-.1 1.5,0 1.5,0 1.5,0 1.5,0 1.5,0 1.5,0 1.5-.1 1.5,0 1.5,0 1.5,0 1.5,0 1.5-.1 1.5,0 1.5,0 1.5,0 1.5,0 1.5-.1 1.5,0 1.5,0 1.5,0 1.5-.1 1.5,0 1.5,0 1.5,0 1.5,0 1.5-.1 1.5,0 1.5,0 1.5,0 1.5-.1 1.5,0 1.5,0 1.5,0 1.5-.1 1.5,0 1.5,0 1.5-.1 1.5,0 1.5,0 1.5,0 1.5-.1 1.5,0 1.5,0 1.5-.1 1.5,0 1.5,0 1.5,0 1.5-.1 1.5,0 1.5,0 1.5-.1 1.5,0 1.5,0 1.5,0 1.5-.1 1.5,0 1.5,0 1.5-.1 1.5,0 1.5,0 1.5-.1 1.5,0 1.5,0 1.5,0 1.5-.1 1.5,0 1.5,0 1.5-.1 1.5,0 1.5,0 1.5-.1 1.5,0 1.5,0 1.5,0 1.5-.1 1.5,0 1.5,0 1.5-.1 1.5,0 1.5,0 1.5-.1 1.5,0 1.5,0 1.5,0 1.5-.1 1.5,0 1.5,0 1.5-.1 1.5,0 1.5,0 1.5-.1 1.5,0 1.5,0 1.5-.1 1.5,0 1.5,0 1.5,0 1.5-.1 1.5,0 1.5,0 1.5-.1 1.5,0 1.5,0 1.5-.1 1.5,0 1.5,0 1.5-.1 1.5,0 1.5,0 1.5,0 1.5-.1 1.5,0 1.5,0 1.5-.1 1.5,0 1.5,0 1.5,0 1.5-.1 1.5,0 1.5,0 1.5-.1 1.5,0 1.5,0 1.5,0 1.5-.1 1.5,0 1.5,0 1.5-.1 1.5,0 1.5,0 1.5,0 1.5-.1 1.5,0 1.5,0 1.5,0 1.5-.1 1.5,0 1.5,0 1.5,0 1.5-.1 1.5,0 1.5,0 1.5,0 1.5-.1 1.5,0 1.5,0 1.5,0 1.5,0 1.5-.1 1.5,0 1.5,0 1.5,0 1.5,0 1.5-.1 1.5,0 1.5,0 1.5,0 1.5,0 1.5,0 1.5-.1 1.5,0 1.5,0 1.5,0 1.5,0 1.5,0 1.5,0 1.5-.1 1.5,0 1.5,0 1.5,0 1.5,0 1.5,0 1.5,0 1.5,0 1.5-.1 1.5,0 1.5,0 1.5,0 1.5,0 1.5,0 1.5,0 1.5,0 1.5,0 1.5,0 1.5,0 1.5,0 1.5,0 1.5-.1 1.5,0 1.5,0 1.5,0 1.5,0 1.5,0 1.5,0 1.5,0 1.5,0 1.5,0 1.5,0 1.5,0 1.5,0 1.5,0 1.5,0 1.5,0 1.5,0 1.5,0 1.5,0 1.5,0 1.5,0 1.5,0 1.5-.1 1.5,0 1.5,0 1.5,0 1.5,0 1.5,0 1.5,0 1.5,0 1.5,0 1.5,0 1.5,0 1.5,0 1.5,0 1.5,0 1.5,0 1.5,0 1.5,0 1.5,0 1.5,0 1.5,0 1.5,0 1.5,0 1.5,0 1.5,0 1.5-.1 1.5,0 1.5,0 1.5,0 1.5,0 1.5,0 1.5,0 1.5,0 1.5,0 1.5,0 1.5,0 1.5,0 1.5,0 1.5,0 1.5-.1 1.5,0 1.5,0 1.5,0 1.5,0 1.5,0 1.5,0 1.5,0 1.5,0 1.5,0 1.5,0 1.5,0 1.5-.1 1.5,0 1.5,0 1.5,0 1.5,0 1.5,0 1.5,0 1.5,0 1.5,0 1.5,0 1.5,0 1.5,0 1.5,0 1.5,0 1.5,0 1.5,0 1.5-.1 1.5,0 1.5,0 1.5,0 1.5,0 1.5,0 1.5-.1 1.5,0 1.5,0 1.5,0 1.5-.1 1.5,0 1.5,0 1.5-.1 1.5,0 1.5-.1 1.5,0 1.5-.1 1.5,0 1.5-.1 1.5,0 1.5-.1 1.5-.1 1.5-.2 1.5-.2" fill="none" stroke="#0000ff" stroke-width="3.0" stroke-linejoin="round" stroke-linecap="round" />
<path d="M136,888.4l1.5-.2 1.5-.1 1.5-.2 1.5-.2 1.5-.1 1.5-.2 1.5-.2 1.5-.1 1.5-.2 1.5-.2 1.5-.1 1.5-.2 1.5-.2 1.5-.1 1.5-.2 1.5-.2 1.5-.1 1.5-.2 1.5-.2 1.5-.1 1.5-.2 1.5-.1 1.5-.2 1.5-.2 1.5-.1 1.5-.2 1.5-.1 1.5-.2 1.5-.2 1.5-.1 1.5-.2 1.5-.1 1.5-.2 1.5-.2 1.5-.1 1.5-.2 1.5-.1 1.5-.2 1.5-.1 1.5-.2 1.5-.1 1.5-.2 1.5-.1 1.5-.2 1.5-.1 1.5-.2 1.5-.2 1.5-.1 1.5-.2 1.5-.1 1.5-.2 1.5-.1 1.5-.1 1.5-.2 1.5-.1 1.5-.2 1.5-.1 1.5-.2 1.5-.1 1.5-.2 1.5-.1 1.5-.2 1.5-.1 1.5-.2 1.5-.1 1.5-.1 1.5-.2 1.5-.1 1.5-.2 1.5-.1 1.5-.2 1.5-.2 1.5-.1 1.5-.2 1.5-.1 1.5-.2 1.5-.2 1.5-.1 1.5-.2 1.5-.2 1.5-.1 1.5-.2 1.5-.2 1.5-.1 1.5-.2 1.5-.1 1.5-.2 1.5-.2 1.5-.1 1.5-.2 1.5-.1 1.5-.2 1.5-.1 1.5-.2 1.5-.1 1.5-.1 1.5-.2 1.5-.1 1.5-.1 1.5-.2 1.5-.1 1.5-.1 1.5-.1 1.5-.1 1.5-.1 1.5-.1 1.5,0 1.5-.1 1.5-.1 1.5,0 1.5-.1 1.5,0 1.5-.1 1.5,0 1.5,0 1.5-.1 1.5,0 1.5,0 1.5-.1 1.5,0 1.5,0 1.5,0 1.5-.1 1.5,0 1.5,0 1.5,0 1.5-.1 1.5,0 1.5,0 1.5,0 1.5-.1 1.5,0 1.5,0 1.5,0 1.5,0 1.5-.1 1.5,0 1.5,0 1.5,0 1.5,0 1.5,0 1.5-.1 1.5,0 1.5,0 1.5,0 1.5,0 1.5,0 1.5,0 1.5,0 1.5-.1 1.5,0 1.5,0 1.5,0 1.5,0 1.5,0 1.5,0 1.5,0 1.5,0 1.5,0 1.5,0 1.5,0 1.5,0 1.5,0 1.5,.1 1.5,0 1.5,0 1.5,0 1.5,.1 1.5,0 1.5,.1 1.5,0 1.5,.1 1.5,0 1.5,.1 1.5,.1 1.5,0 1.5,.1 1.5,.1 1.5,.1 1.5,.1 1.5,.1 1.5,0 1.5,.1 1.5,.1 1.5,.1 1.5,.1 1.5,.1 1.5,.1 1.5,.1 1.5,.1 1.5,.1 1.5,.1 1.5,.1 1.5,.1 1.5,.1 1.5,.1 1.5,.1 1.5,.1 1.5,.1 1.5,.1 1.5,.1 1.5,.1 1.5,.1 1.5,.1 1.5,.1 1.5,.1 1.5,.1 1.5,.1 1.5,.1 1.5,.1 1.5,.1 1.5,.1 1.5,.1 1.5,.1 1.5,.1 1.5,.1 1.5,.1 1.5,.1 1.5,.2 1.5,.1 1.5,.1 1.5,.1 1.5,.2 1.5,.1 1.5,.1 1.5,.1 1.5,.2 1.5,.1 1.5,.1 1.5,.2 1.5,.1 1.5,.1 1.5,.1 1.5,.2 1.5,.1 1.5,.1 1.5,.1 1.5,.2 1.5,.1 1.5,.1 1.5,.1 1.5,.1 1.5,.1 1.5,.1 1.5,.1 1.5,.1 1.5,.1 1.5,.1 1.5,.1 1.5,.1 1.5,0 1.5,.1 1.5,.1 1.5,0 1.5,.1 1.5,0 1.5,.1 1.5,0 1.5,0 1.5,.1 1.5,0 1.5,0 1.5,0 1.5,0 1.5,0 1.5,0 1.5,0 1.5,0 1.5,0 1.5,0 1.5,0 1.5,0 1.5,0 1.5,0 1.5,0 1.5,0 1.5,0 1.5,0 1.5,0 1.5,0 1.5,0 1.5,0 1.5,0 1.5,0 1.5,0 1.5,0 1.5,0 1.5,0 1.5,0 1.5,0 1.5,0 1.5,0 1.5,0 1.5,0 1.5,0 1.5,0 1.5-.1 1.5,0 1.5,0 1.5,0 1.5,0 1.5,0 1.5,0 1.5,0 1.5,0 1.5,0 1.5,0 1.5,0 1.5,0 1.5,0 1.5,0 1.5,0 1.5,0 1.5,0 1.5,0 1.5,0 1.5,0 1.5,0 1.5,0 1.5,0 1.5,0 1.5-.1 1.5,0 1.5,0 1.5,0 1.5,0 1.5,0 1.5,0 1.5,0 1.5,0 1.5,0 1.5,0 1.5,0 1.5,0 1.5,0 1.5,0 1.5,0 1.5,0 1.5-.1 1.5,0 1.5,0 1.5,0 1.5,0 1.5,0 1.5,0 1.5,0 1.5,0 1.5,0 1.5,0 1.5,0 1.5,0 1.5,0 1.5,0 1.5-.1 1.5,0 1.5,0 1.5,0 1.5,0 1.5,0 1.5,0 1.5,0 1.5,0 1.5,0 1.5,0 1.5-.1 1.5,0 1.5,0 1.5,0 1.5,0 1.5-.1 1.5,0 1.5,0 1.5,0 1.5-.1 1.5,0 1.5,0 1.5,0 1.5-.1 1.5,0 1.5,0 1.5-.1 1.5,0 1.5-.1 1.5,0 1.5,0 1.5-.1 1.5,0 1.5-.1 1.5,0 1.5-.1 1.5,0 1.5-.1 1.5,0 1.5-.1 1.5,0 1.5-.1 1.5,0 1.5-.1 1.5,0 1.5-.1 1.5-.1 1.5,0 1.5-.1 1.5,0 1.5-.1 1.5-.1 1.5,0 1.5-.1 1.5-.1 1.5,0 1.5-.1 1.5-.1 1.5,0 1.5-.1 1.5-.1 1.5,0 1.5-.1 1.5-.1 1.5-.1 1.5,0 1.5-.1 1.5-.1 1.5-.1 1.5,0 1.5-.1 1.5-.1 1.5-.1 1.5-.1 1.5,0 1.5-.1 1.5-.1 1.5-.1 1.5-.1 1.5-.1 1.5,0 1.5-.1 1.5-.1 1.5-.1 1.5-.1 1.5-.1 1.5-.1 1.5,0 1.5-.1 1.5-.1 1.5-.1 1.5-.1 1.5-.1 1.5-.1 1.5-.1 1.5-.2 1.5-.1 1.5-.1 1.5-.1 1.5-.2 1.5-.1 1.5-.1 1.5-.2 1.5-.1 1.5-.2 1.5-.1 1.5-.2 1.5-.2 1.5-.1 1.5-.2 1.5-.2 1.5-.2 1.5-.2 1.5-.2 1.5-.2 1.5-.2 1.5-.2 1.5-.3 1.5-.2 1.5-.3 1.5-.2 1.5-.3 1.5-.4 1.5-.3 1.5-.4 1.5-.4 1.5-.4 1.5-.4 1.5-.5 1.5-.4 1.5-.5 1.5-.5 1.5-.5 1.5-.5 1.5-.6 1.5-.5 1.5-.5 1.5-.6 1.5-.6 1.5-.5 1.5-.6 1.5-.6 1.5-.5 1.5-.6 1.5-.6 1.5-.5 1.5-.6 1.5-.6 1.5-.5 1.5-.6 1.5-.5 1.5-.6 1.5-.5 1.5-.6 1.5-.5 1.5-.6 1.5-.6 1.5-.6 1.5-.6 1.5-.6 1.5-.7 1.5-.6 1.5-.7 1.5-.7 1.5-.8 1.5-.8 1.5-.8 1.5-.9 1.5-.9 1.5-.9 1.5-1 1.5-1 1.5-1 1.5-1 1.5-1.1 1.5-1 1.5-1 1.5-1 1.5-1 1.5-1 1.5-1 1.5-1 1.5-1 1.5-.9 1.5-1 1.5-1 1.5-.9 1.5-1 1.5-1 1.5-.9 1.5-1 1.5-1 1.5-1 1.5-1 1.5-1.1 1.5-1 1.5-1.1 1.5-1 1.5-1.1 1.5-1.1 1.5-1.1 1.5-1.1 1.5-1.1 1.5-1.2 1.5-1.1 1.5-1.1 1.5-1.2 1.5-1.2 1.5-1.1 1.5-1.2 1.5-1.2 1.5-1.2 1.5-1.1 1.5-1.2 1.5-1.2 1.5-1.2 1.5-1.2 1.5-1.2 1.5-1.3 1.5-1.2 1.5-1.3 1.5-1.4 1.5-1.4 1.5-1.4 1.5-1.5 1.5-1.6 1.5-1.6 1.5-1.8 1.5-1.8 1.5-1.9 1.5-2 1.5-2 1.5-2.1 1.5-2.1 1.5-2.1 1.5-2.1 1.5-2.1 1.5-2.1 1.5-2 1.5-2.1 1.5-2 1.5-1.9 1.5-2 1.5-2 1.5-2 1.5-1.9 1.5-2 1.5-2 1.5-1.9 1.5-2 1.5-1.9 1.5-2 1.5-1.9 1.5-1.9 1.5-1.9 1.5-1.9 1.5-1.9 1.5-1.9 1.5-1.8 1.5-1.9 1.5-1.8 1.5-1.8 1.5-1.8 1.5-1.8 1.5-1.8 1.5-1.8 1.5-1.8 1.5-1.8 1.5-1.7 1.5-1.8 1.5-1.8 1.5-1.8 1.5-1.8 1.5-1.8 1.5-1.8 1.5-1.9 1.5-1.8 1.5-1.9 1.5-2 1.5-1.9 1.5-1.9 1.5-2 1.5-1.9 1.5-1.9 1.5-1.9 1.5-1.8 1.5-1.8 1.5-1.7 1.5-1.7 1.5-1.6 1.5-1.5 1.5-1.4 1.5-1.4 1.5-1.3 1.5-1.2 1.5-1.2 1.5-1.2 1.5-1.1 1.5-1.1 1.5-1.1 1.5-1 1.5-1 1.5-1 1.5-1 1.5-1 1.5-.9 1.5-.9 1.5-.9 1.5-.9 1.5-.8 1.5-.9 1.5-.8 1.5-.8 1.5-.7 1.5-.8 1.5-.7 1.5-.7 1.5-.7 1.5-.7 1.5-.7 1.5-.7 1.5-.7 1.5-.7 1.5-.8 1.5-.8 1.5-.8 1.5-.9 1.5-.9 1.5-1 1.5-1.1 1.5-1 1.5-1.1 1.5-1.2 1.5-1.2 1.5-1.2 1.5-1.2 1.5-1.3 1.5-1.3 1.5-1.3 1.5-1.2 1.5-1.3 1.5-1.3 1.5-1.2 1.5-1.3 1.5-1.3 1.5-1.2 1.5-1.3 1.5-1.4 1.5-1.3 1.5-1.4 1.5-1.4 1.5-1.4 1.5-1.4 1.5-1.3 1.5-1.3 1.5-1.3 1.5-1.2 1.5-1.1 1.5-1.1 1.5-1 1.5-.8 1.5-.8 1.5-.7 1.5-.6 1.5-.6 1.5-.5 1.5-.4 1.5-.2 1.5-.2 1.5,.1 1.5,.3 1.5,.6 1.5,.8 1.5,1.1 1.5,1.3 1.5,1.4 1.5,1.7 1.5,1.8 1.5,1.9 1.5,2.2 1.5,2.5 1.5,2.8 1.5,3.3 1.5,3.6 1.5,4 1.5,4.2 1.5,4.4 1.5,4.5 1.5,4.6 1.5,4.6 1.5,4.8 1.5,4.8 1.5,5 1.5,5.1 1.5,5.3 1.5,5.3 1.5,5.5 1.5,5.5 1.5,5.7 1.5,5.9 1.5,5.9 1.5,6 1.5,6.2 1.5,6.1 1.5,6.1 1.5,6.2 1.5,6.1 1.5,6 1.5,6.1 1.5,6.1 1.5,6 1.5,6 1.5,6 1.5,5.9 1.5,5.9 1.5,5.8 1.5,5.8 1.5,5.7 1.5,5.7 1.5,5.6 1.5,5.6 1.5,5.5 1.5,5.5 1.5,5.4 1.5,5.2 1.5,4.8 1.5,4.5 1.5,4.1 1.5,3.8 1.5,3.5 1.5,3.4 1.5,3.2 1.5,3.1 1.5,3 1.5,3 1.5,2.8 1.5,2.7 1.5,2.7 1.5,2.6 1.5,2.5 1.5,2.4 1.5,2.4 1.5,2.3 1.5,2.2 1.5,2.2 1.5,2.1 1.5,2 1.5,2.1 1.5,1.9 1.5,1.9 1.5,1.9 1.5,1.9 1.5,1.8 1.5,1.8 1.5,1.7 1.5,1.8 1.5,1.7 1.5,1.7 1.5,1.7 1.5,1.7 1.5,1.6 1.5,1.6 1.5,1.6 1.5,1.6 1.5,1.5 1.5,1.5 1.5,1.4 1.5,1.5 1.5,1.3 1.5,1.3 1.5,1.3 1.5,1.2 1.5,1.2 1.5,1.1 1.5,1 1.5,1 1.5,1 1.5,.8 1.5,.8 1.5,.8 1.5,.7 1.5,.6 1.5,.7 1.5,.6 1.5,.6 1.5,.6 1.5,.6 1.5,.6 1.5,.5 1.5,.6 1.5,.5 1.5,.6 1.5,.5 1.5,.5 1.5,.5 1.5,.5 1.5,.4 1.5,.5 1.5,.4 1.5,.5 1.5,.4 1.5,.5 1.5,.4 1.5,.4 1.5,.4 1.5,.4 1.5,.4 1.5,.3 1.5,.4 1.5,.4 1.5,.3 1.5,.4 1.5,.3 1.5,.3 1.5,.3 1.5,.4 1.5,.3 1.5,.3 1.5,.3 1.5,.3 1.5,.3 1.5,.2 1.5,.3 1.5,.3 1.5,.3 1.5,.2 1.5,.3 1.5,.3 1.5,.2 1.5,.3 1.5,.2 1.5,.2 1.5,.3 1.5,.2 1.5,.3 1.5,.2 1.5,.2 1.5,.3 1.5,.2 1.5,.2 1.5,.3 1.5,.2 1.5,.2 1.5,.3 1.5,.2 1.5,.2 1.5,.2 1.5,.3 1.5,.2 1.5,.2 1.5,.2 1.5,.3 1.5,.2 1.5,.2 1.5,.2 1.5,.2 1.5,.3 1.5,.2 1.5,.2 1.5,.2 1.5,.2 1.5,.2 1.5,.2 1.5,.2 1.5,.2 1.5,.2 1.5,.2 1.5,.2 1.5,.2 1.5,.1 1.5,.2 1.5,.2 1.5,.2 1.5,.2 1.5,.1 1.5,.2 1.5,.2 1.5,.1 1.5,.2 1.5,.1 1.5,.2 1.5,.1 1.5,.2 1.5,.1 1.5,.2 1.5,.1 1.5,.1 1.5,.1 1.5,.2 1.5,.1 1.5,.1 1.5,.1 1.5,.1 1.5,.1 1.5,.1 1.5,.1 1.5,.1 1.5,.1 1.5,0 1.5,.1 1.5,.1 1.5,0 1.5,.1 1.5,.1 1.5,0 1.5,.1 1.5,0 1.5,0 1.5,.1 1.5,0" fill="none" stroke="#ff0000" stroke-width="3.2" stroke-linejoin="round" stroke-linecap="round" />
<line x1="133" y1="32.9" x2="1586" y2="32.9" stroke="#111" stroke-width="5" />
<line x1="135.5" y1="30.4" x2="135.5" y2="1032" stroke="#111" stroke-width="5" />
<line x1="133" y1="1029.8" x2="1586" y2="1029.8" stroke="#111" stroke-width="4.4" />
<line x1="1583.5" y1="35.4" x2="1583.5" y2="1027.6" stroke="#666" stroke-width="5" />
<line x1="1583.6" y1="1029.8" x2="1583.6" y2="1038.6" stroke="#111" stroke-width="3.8" />
<line x1="1498.4" y1="1029.8" x2="1498.4" y2="1049.6" stroke="#111" stroke-width="3.8" />
<line x1="1413.2" y1="1029.8" x2="1413.2" y2="1038.6" stroke="#111" stroke-width="3.8" />
<line x1="1328" y1="1029.8" x2="1328" y2="1049.6" stroke="#111" stroke-width="3.8" />
<line x1="1242.8" y1="1029.8" x2="1242.8" y2="1038.6" stroke="#111" stroke-width="3.8" />
<line x1="1157.7" y1="1029.8" x2="1157.7" y2="1049.6" stroke="#111" stroke-width="3.8" />
<line x1="1072.5" y1="1029.8" x2="1072.5" y2="1038.6" stroke="#111" stroke-width="3.8" />
<line x1="987.3" y1="1029.8" x2="987.3" y2="1049.6" stroke="#111" stroke-width="3.8" />
<line x1="902.1" y1="1029.8" x2="902.1" y2="1038.6" stroke="#111" stroke-width="3.8" />
<line x1="816.9" y1="1029.8" x2="816.9" y2="1049.6" stroke="#111" stroke-width="3.8" />
<line x1="731.8" y1="1029.8" x2="731.8" y2="1038.6" stroke="#111" stroke-width="3.8" />
<line x1="646.6" y1="1029.8" x2="646.6" y2="1049.6" stroke="#111" stroke-width="3.8" />
<line x1="561.4" y1="1029.8" x2="561.4" y2="1038.6" stroke="#111" stroke-width="3.8" />
<line x1="476.2" y1="1029.8" x2="476.2" y2="1049.6" stroke="#111" stroke-width="3.8" />
<line x1="391" y1="1029.8" x2="391" y2="1038.6" stroke="#111" stroke-width="3.8" />
<line x1="305.9" y1="1029.8" x2="305.9" y2="1049.6" stroke="#111" stroke-width="3.8" />
<line x1="220.7" y1="1029.8" x2="220.7" y2="1038.6" stroke="#111" stroke-width="3.8" />
<line x1="135.5" y1="1029.8" x2="135.5" y2="1049.6" stroke="#111" stroke-width="3.8" />
<path d="M148.6,1597.9a3.2,3.2 0 1,0 6.4,0a3.2,3.2 0 1,0 -6.4,0M151.9,1599.2a3.2,3.2 0 1,0 6.4,0a3.2,3.2 0 1,0 -6.4,0M155.1,1599.6a3.2,3.2 0 1,0 6.4,0a3.2,3.2 0 1,0 -6.4,0M158.1,1596.6a3.2,3.2 0 1,0 6.4,0a3.2,3.2 0 1,0 -6.4,0M163,1597.5a3.2,3.2 0 1,0 6.4,0a3.2,3.2 0 1,0 -6.4,0M165.5,1596.2a3.2,3.2 0 1,0 6.4,0a3.2,3.2 0 1,0 -6.4,0M169.1,1598.2a3.2,3.2 0 1,0 6.4,0a3.2,3.2 0 1,0 -6.4,0M172.2,1597.9a3.2,3.2 0 1,0 6.4,0a3.2,3.2 0 1,0 -6.4,0M175.1,1597.5a3.2,3.2 0 1,0 6.4,0a3.2,3.2 0 1,0 -6.4,0M178.6,1597.1a3.2,3.2 0 1,0 6.4,0a3.2,3.2 0 1,0 -6.4,0M183,1597.5a3.2,3.2 0 1,0 6.4,0a3.2,3.2 0 1,0 -6.4,0M186.5,1597a3.2,3.2 0 1,0 6.4,0a3.2,3.2 0 1,0 -6.4,0M189.7,1598.7a3.2,3.2 0 1,0 6.4,0a3.2,3.2 0 1,0 -6.4,0M192.7,1600a3.2,3.2 0 1,0 6.4,0a3.2,3.2 0 1,0 -6.4,0M196,1595.5a3.2,3.2 0 1,0 6.4,0a3.2,3.2 0 1,0 -6.4,0M200.1,1597.8a3.2,3.2 0 1,0 6.4,0a3.2,3.2 0 1,0 -6.4,0M203,1597.5a3.2,3.2 0 1,0 6.4,0a3.2,3.2 0 1,0 -6.4,0M207.8,1598.6a3.2,3.2 0 1,0 6.4,0a3.2,3.2 0 1,0 -6.4,0M211.4,1596.8a3.2,3.2 0 1,0 6.4,0a3.2,3.2 0 1,0 -6.4,0M215.8,1597.8a3.2,3.2 0 1,0 6.4,0a3.2,3.2 0 1,0 -6.4,0M218.3,1596.6a3.2,3.2 0 1,0 6.4,0a3.2,3.2 0 1,0 -6.4,0M221,1598.9a3.2,3.2 0 1,0 6.4,0a3.2,3.2 0 1,0 -6.4,0M224.3,1598.1a3.2,3.2 0 1,0 6.4,0a3.2,3.2 0 1,0 -6.4,0M226.5,1597.8a3.2,3.2 0 1,0 6.4,0a3.2,3.2 0 1,0 -6.4,0M231.5,1598.5a3.2,3.2 0 1,0 6.4,0a3.2,3.2 0 1,0 -6.4,0M235.2,1597.7a3.2,3.2 0 1,0 6.4,0a3.2,3.2 0 1,0 -6.4,0M239.3,1596a3.2,3.2 0 1,0 6.4,0a3.2,3.2 0 1,0 -6.4,0M242.6,1598.8a3.2,3.2 0 1,0 6.4,0a3.2,3.2 0 1,0 -6.4,0M246.1,1598.4a3.2,3.2 0 1,0 6.4,0a3.2,3.2 0 1,0 -6.4,0M249.4,1597.8a3.2,3.2 0 1,0 6.4,0a3.2,3.2 0 1,0 -6.4,0M253.1,1599.3a3.2,3.2 0 1,0 6.4,0a3.2,3.2 0 1,0 -6.4,0M257.1,1599.6a3.2,3.2 0 1,0 6.4,0a3.2,3.2 0 1,0 -6.4,0M259.2,1596.6a3.2,3.2 0 1,0 6.4,0a3.2,3.2 0 1,0 -6.4,0M263.1,1597a3.2,3.2 0 1,0 6.4,0a3.2,3.2 0 1,0 -6.4,0M266.1,1600a3.2,3.2 0 1,0 6.4,0a3.2,3.2 0 1,0 -6.4,0M271.1,1599.8a3.2,3.2 0 1,0 6.4,0a3.2,3.2 0 1,0 -6.4,0M274.5,1597a3.2,3.2 0 1,0 6.4,0a3.2,3.2 0 1,0 -6.4,0M277.7,1596.5a3.2,3.2 0 1,0 6.4,0a3.2,3.2 0 1,0 -6.4,0M280.2,1597.2a3.2,3.2 0 1,0 6.4,0a3.2,3.2 0 1,0 -6.4,0M284.4,1597.4a3.2,3.2 0 1,0 6.4,0a3.2,3.2 0 1,0 -6.4,0M287.7,1595.9a3.2,3.2 0 1,0 6.4,0a3.2,3.2 0 1,0 -6.4,0M291.3,1598a3.2,3.2 0 1,0 6.4,0a3.2,3.2 0 1,0 -6.4,0M294.7,1596.3a3.2,3.2 0 1,0 6.4,0a3.2,3.2 0 1,0 -6.4,0M298.6,1596.4a3.2,3.2 0 1,0 6.4,0a3.2,3.2 0 1,0 -6.4,0M301.6,1599.2a3.2,3.2 0 1,0 6.4,0a3.2,3.2 0 1,0 -6.4,0M305.7,1597.1a3.2,3.2 0 1,0 6.4,0a3.2,3.2 0 1,0 -6.4,0M308.9,1597.9a3.2,3.2 0 1,0 6.4,0a3.2,3.2 0 1,0 -6.4,0M312.1,1598.8a3.2,3.2 0 1,0 6.4,0a3.2,3.2 0 1,0 -6.4,0M315.7,1599.1a3.2,3.2 0 1,0 6.4,0a3.2,3.2 0 1,0 -6.4,0M319.1,1597.6a3.2,3.2 0 1,0 6.4,0a3.2,3.2 0 1,0 -6.4,0M323.2,1598.1a3.2,3.2 0 1,0 6.4,0a3.2,3.2 0 1,0 -6.4,0M326.2,1596.9a3.2,3.2 0 1,0 6.4,0a3.2,3.2 0 1,0 -6.4,0M330,1600.3a3.2,3.2 0 1,0 6.4,0a3.2,3.2 0 1,0 -6.4,0M333.1,1598.8a3.2,3.2 0 1,0 6.4,0a3.2,3.2 0 1,0 -6.4,0M336,1596.6a3.2,3.2 0 1,0 6.4,0a3.2,3.2 0 1,0 -6.4,0M340.8,1598a3.2,3.2 0 1,0 6.4,0a3.2,3.2 0 1,0 -6.4,0M343.2,1598.9a3.2,3.2 0 1,0 6.4,0a3.2,3.2 0 1,0 -6.4,0M347.7,1598.6a3.2,3.2 0 1,0 6.4,0a3.2,3.2 0 1,0 -6.4,0M351,1600.4a3.2,3.2 0 1,0 6.4,0a3.2,3.2 0 1,0 -6.4,0M353.4,1599.8a3.2,3.2 0 1,0 6.4,0a3.2,3.2 0 1,0 -6.4,0M357.3,1597.3a3.2,3.2 0 1,0 6.4,0a3.2,3.2 0 1,0 -6.4,0M361,1597.9a3.2,3.2 0 1,0 6.4,0a3.2,3.2 0 1,0 -6.4,0M364.4,1596.3a3.2,3.2 0 1,0 6.4,0a3.2,3.2 0 1,0 -6.4,0M367.7,1598.3a3.2,3.2 0 1,0 6.4,0a3.2,3.2 0 1,0 -6.4,0M372.2,1598.2a3.2,3.2 0 1,0 6.4,0a3.2,3.2 0 1,0 -6.4,0M375.2,1601.5a3.2,3.2 0 1,0 6.4,0a3.2,3.2 0 1,0 -6.4,0M379,1598.1a3.2,3.2 0 1,0 6.4,0a3.2,3.2 0 1,0 -6.4,0M382.1,1595.3a3.2,3.2 0 1,0 6.4,0a3.2,3.2 0 1,0 -6.4,0M386,1597.1a3.2,3.2 0 1,0 6.4,0a3.2,3.2 0 1,0 -6.4,0M388.9,1598.1a3.2,3.2 0 1,0 6.4,0a3.2,3.2 0 1,0 -6.4,0M392.8,1596.4a3.2,3.2 0 1,0 6.4,0a3.2,3.2 0 1,0 -6.4,0M396.6,1596.9a3.2,3.2 0 1,0 6.4,0a3.2,3.2 0 1,0 -6.4,0M399.8,1597.5a3.2,3.2 0 1,0 6.4,0a3.2,3.2 0 1,0 -6.4,0M403.1,1598.4a3.2,3.2 0 1,0 6.4,0a3.2,3.2 0 1,0 -6.4,0M406.2,1597.8a3.2,3.2 0 1,0 6.4,0a3.2,3.2 0 1,0 -6.4,0M410.4,1596.8a3.2,3.2 0 1,0 6.4,0a3.2,3.2 0 1,0 -6.4,0M414,1599a3.2,3.2 0 1,0 6.4,0a3.2,3.2 0 1,0 -6.4,0M417.2,1597.3a3.2,3.2 0 1,0 6.4,0a3.2,3.2 0 1,0 -6.4,0M420.4,1597.4a3.2,3.2 0 1,0 6.4,0a3.2,3.2 0 1,0 -6.4,0M424.6,1596.2a3.2,3.2 0 1,0 6.4,0a3.2,3.2 0 1,0 -6.4,0M429.1,1597a3.2,3.2 0 1,0 6.4,0a3.2,3.2 0 1,0 -6.4,0M431.1,1598.8a3.2,3.2 0 1,0 6.4,0a3.2,3.2 0 1,0 -6.4,0M435,1595.9a3.2,3.2 0 1,0 6.4,0a3.2,3.2 0 1,0 -6.4,0M438.5,1597.9a3.2,3.2 0 1,0 6.4,0a3.2,3.2 0 1,0 -6.4,0M440.5,1598.9a3.2,3.2 0 1,0 6.4,0a3.2,3.2 0 1,0 -6.4,0M445.4,1597.5a3.2,3.2 0 1,0 6.4,0a3.2,3.2 0 1,0 -6.4,0M448.4,1598.3a3.2,3.2 0 1,0 6.4,0a3.2,3.2 0 1,0 -6.4,0M453,1596.5a3.2,3.2 0 1,0 6.4,0a3.2,3.2 0 1,0 -6.4,0M455.7,1599.7a3.2,3.2 0 1,0 6.4,0a3.2,3.2 0 1,0 -6.4,0M458.9,1599.4a3.2,3.2 0 1,0 6.4,0a3.2,3.2 0 1,0 -6.4,0M462.7,1598.3a3.2,3.2 0 1,0 6.4,0a3.2,3.2 0 1,0 -6.4,0M466.4,1595.7a3.2,3.2 0 1,0 6.4,0a3.2,3.2 0 1,0 -6.4,0M469.5,1596.6a3.2,3.2 0 1,0 6.4,0a3.2,3.2 0 1,0 -6.4,0M473.3,1599.3a3.2,3.2 0 1,0 6.4,0a3.2,3.2 0 1,0 -6.4,0M476.1,1600.2a3.2,3.2 0 1,0 6.4,0a3.2,3.2 0 1,0 -6.4,0M480.2,1598.4a3.2,3.2 0 1,0 6.4,0a3.2,3.2 0 1,0 -6.4,0M484.2,1599.6a3.2,3.2 0 1,0 6.4,0a3.2,3.2 0 1,0 -6.4,0M488.3,1597.2a3.2,3.2 0 1,0 6.4,0a3.2,3.2 0 1,0 -6.4,0M491.2,1597.8a3.2,3.2 0 1,0 6.4,0a3.2,3.2 0 1,0 -6.4,0M494.4,1598a3.2,3.2 0 1,0 6.4,0a3.2,3.2 0 1,0 -6.4,0M498.4,1598.6a3.2,3.2 0 1,0 6.4,0a3.2,3.2 0 1,0 -6.4,0M501.8,1596a3.2,3.2 0 1,0 6.4,0a3.2,3.2 0 1,0 -6.4,0M505.7,1599.2a3.2,3.2 0 1,0 6.4,0a3.2,3.2 0 1,0 -6.4,0M508.9,1599.7a3.2,3.2 0 1,0 6.4,0a3.2,3.2 0 1,0 -6.4,0M511.7,1596.5a3.2,3.2 0 1,0 6.4,0a3.2,3.2 0 1,0 -6.4,0M515.4,1596.2a3.2,3.2 0 1,0 6.4,0a3.2,3.2 0 1,0 -6.4,0M518.9,1598.5a3.2,3.2 0 1,0 6.4,0a3.2,3.2 0 1,0 -6.4,0M522.5,1597.2a3.2,3.2 0 1,0 6.4,0a3.2,3.2 0 1,0 -6.4,0M525.9,1594.9a3.2,3.2 0 1,0 6.4,0a3.2,3.2 0 1,0 -6.4,0M528.9,1599.1a3.2,3.2 0 1,0 6.4,0a3.2,3.2 0 1,0 -6.4,0M531.7,1598.2a3.2,3.2 0 1,0 6.4,0a3.2,3.2 0 1,0 -6.4,0M535.9,1597.4a3.2,3.2 0 1,0 6.4,0a3.2,3.2 0 1,0 -6.4,0M538.7,1602.4a3.2,3.2 0 1,0 6.4,0a3.2,3.2 0 1,0 -6.4,0M543.3,1597.1a3.2,3.2 0 1,0 6.4,0a3.2,3.2 0 1,0 -6.4,0M546.8,1594.6a3.2,3.2 0 1,0 6.4,0a3.2,3.2 0 1,0 -6.4,0M549.4,1596.6a3.2,3.2 0 1,0 6.4,0a3.2,3.2 0 1,0 -6.4,0M554.2,1593.4a3.2,3.2 0 1,0 6.4,0a3.2,3.2 0 1,0 -6.4,0M557.8,1593.9a3.2,3.2 0 1,0 6.4,0a3.2,3.2 0 1,0 -6.4,0M560.9,1596.6a3.2,3.2 0 1,0 6.4,0a3.2,3.2 0 1,0 -6.4,0M565.2,1593.9a3.2,3.2 0 1,0 6.4,0a3.2,3.2 0 1,0 -6.4,0M568.8,1593.9a3.2,3.2 0 1,0 6.4,0a3.2,3.2 0 1,0 -6.4,0M570.7,1599a3.2,3.2 0 1,0 6.4,0a3.2,3.2 0 1,0 -6.4,0M575.3,1596.6a3.2,3.2 0 1,0 6.4,0a3.2,3.2 0 1,0 -6.4,0M578.5,1596.1a3.2,3.2 0 1,0 6.4,0a3.2,3.2 0 1,0 -6.4,0M582,1595a3.2,3.2 0 1,0 6.4,0a3.2,3.2 0 1,0 -6.4,0M585.8,1594.5a3.2,3.2 0 1,0 6.4,0a3.2,3.2 0 1,0 -6.4,0M588.4,1596.7a3.2,3.2 0 1,0 6.4,0a3.2,3.2 0 1,0 -6.4,0M592,1592.5a3.2,3.2 0 1,0 6.4,0a3.2,3.2 0 1,0 -6.4,0M595.4,1596.9a3.2,3.2 0 1,0 6.4,0a3.2,3.2 0 1,0 -6.4,0M598.9,1589.2a3.2,3.2 0 1,0 6.4,0a3.2,3.2 0 1,0 -6.4,0M602.7,1590.6a3.2,3.2 0 1,0 6.4,0a3.2,3.2 0 1,0 -6.4,0M605.5,1587.1a3.2,3.2 0 1,0 6.4,0a3.2,3.2 0 1,0 -6.4,0M609.3,1589.3a3.2,3.2 0 1,0 6.4,0a3.2,3.2 0 1,0 -6.4,0M613.6,1591a3.2,3.2 0 1,0 6.4,0a3.2,3.2 0 1,0 -6.4,0M616.8,1592.8a3.2,3.2 0 1,0 6.4,0a3.2,3.2 0 1,0 -6.4,0M620.5,1586.7a3.2,3.2 0 1,0 6.4,0a3.2,3.2 0 1,0 -6.4,0M622.8,1587.8a3.2,3.2 0 1,0 6.4,0a3.2,3.2 0 1,0 -6.4,0M626.9,1586.1a3.2,3.2 0 1,0 6.4,0a3.2,3.2 0 1,0 -6.4,0M630.5,1584.4a3.2,3.2 0 1,0 6.4,0a3.2,3.2 0 1,0 -6.4,0M634.3,1582.5a3.2,3.2 0 1,0 6.4,0a3.2,3.2 0 1,0 -6.4,0M637.5,1585a3.2,3.2 0 1,0 6.4,0a3.2,3.2 0 1,0 -6.4,0M641.8,1579.6a3.2,3.2 0 1,0 6.4,0a3.2,3.2 0 1,0 -6.4,0M644.8,1583.6a3.2,3.2 0 1,0 6.4,0a3.2,3.2 0 1,0 -6.4,0M648.3,1582.6a3.2,3.2 0 1,0 6.4,0a3.2,3.2 0 1,0 -6.4,0M651.8,1580a3.2,3.2 0 1,0 6.4,0a3.2,3.2 0 1,0 -6.4,0M655.7,1578.2a3.2,3.2 0 1,0 6.4,0a3.2,3.2 0 1,0 -6.4,0M658.6,1576.4a3.2,3.2 0 1,0 6.4,0a3.2,3.2 0 1,0 -6.4,0M662.9,1584a3.2,3.2 0 1,0 6.4,0a3.2,3.2 0 1,0 -6.4,0M666,1574.8a3.2,3.2 0 1,0 6.4,0a3.2,3.2 0 1,0 -6.4,0M669.4,1581.5a3.2,3.2 0 1,0 6.4,0a3.2,3.2 0 1,0 -6.4,0M672.8,1578.2a3.2,3.2 0 1,0 6.4,0a3.2,3.2 0 1,0 -6.4,0M676.6,1574.8a3.2,3.2 0 1,0 6.4,0a3.2,3.2 0 1,0 -6.4,0M680.3,1571.9a3.2,3.2 0 1,0 6.4,0a3.2,3.2 0 1,0 -6.4,0M683.8,1576.7a3.2,3.2 0 1,0 6.4,0a3.2,3.2 0 1,0 -6.4,0M687,1577.7a3.2,3.2 0 1,0 6.4,0a3.2,3.2 0 1,0 -6.4,0M690.8,1569.9a3.2,3.2 0 1,0 6.4,0a3.2,3.2 0 1,0 -6.4,0M693.9,1570.6a3.2,3.2 0 1,0 6.4,0a3.2,3.2 0 1,0 -6.4,0M698,1573.3a3.2,3.2 0 1,0 6.4,0a3.2,3.2 0 1,0 -6.4,0M700.8,1570.5a3.2,3.2 0 1,0 6.4,0a3.2,3.2 0 1,0 -6.4,0M703.2,1573.9a3.2,3.2 0 1,0 6.4,0a3.2,3.2 0 1,0 -6.4,0M708.5,1566.3a3.2,3.2 0 1,0 6.4,0a3.2,3.2 0 1,0 -6.4,0M711.4,1568.2a3.2,3.2 0 1,0 6.4,0a3.2,3.2 0 1,0 -6.4,0M714.2,1562.6a3.2,3.2 0 1,0 6.4,0a3.2,3.2 0 1,0 -6.4,0M718.2,1570.3a3.2,3.2 0 1,0 6.4,0a3.2,3.2 0 1,0 -6.4,0M721.3,1562a3.2,3.2 0 1,0 6.4,0a3.2,3.2 0 1,0 -6.4,0M726.4,1557.1a3.2,3.2 0 1,0 6.4,0a3.2,3.2 0 1,0 -6.4,0M729.1,1561.5a3.2,3.2 0 1,0 6.4,0a3.2,3.2 0 1,0 -6.4,0M731.5,1560.4a3.2,3.2 0 1,0 6.4,0a3.2,3.2 0 1,0 -6.4,0M736.1,1564.6a3.2,3.2 0 1,0 6.4,0a3.2,3.2 0 1,0 -6.4,0M739.1,1557.7a3.2,3.2 0 1,0 6.4,0a3.2,3.2 0 1,0 -6.4,0M743.8,1557.4a3.2,3.2 0 1,0 6.4,0a3.2,3.2 0 1,0 -6.4,0M745.7,1557.8a3.2,3.2 0 1,0 6.4,0a3.2,3.2 0 1,0 -6.4,0M748.6,1559.2a3.2,3.2 0 1,0 6.4,0a3.2,3.2 0 1,0 -6.4,0M753.3,1553.7a3.2,3.2 0 1,0 6.4,0a3.2,3.2 0 1,0 -6.4,0M756.6,1555.3a3.2,3.2 0 1,0 6.4,0a3.2,3.2 0 1,0 -6.4,0M760.1,1552.6a3.2,3.2 0 1,0 6.4,0a3.2,3.2 0 1,0 -6.4,0M762.7,1549.1a3.2,3.2 0 1,0 6.4,0a3.2,3.2 0 1,0 -6.4,0M767.5,1548.7a3.2,3.2 0 1,0 6.4,0a3.2,3.2 0 1,0 -6.4,0M771.7,1547a3.2,3.2 0 1,0 6.4,0a3.2,3.2 0 1,0 -6.4,0M773.3,1543a3.2,3.2 0 1,0 6.4,0a3.2,3.2 0 1,0 -6.4,0M778.4,1547a3.2,3.2 0 1,0 6.4,0a3.2,3.2 0 1,0 -6.4,0M781,1538.6a3.2,3.2 0 1,0 6.4,0a3.2,3.2 0 1,0 -6.4,0M786,1543.6a3.2,3.2 0 1,0 6.4,0a3.2,3.2 0 1,0 -6.4,0M788.5,1541.4a3.2,3.2 0 1,0 6.4,0a3.2,3.2 0 1,0 -6.4,0M791.7,1537a3.2,3.2 0 1,0 6.4,0a3.2,3.2 0 1,0 -6.4,0M795.9,1533.5a3.2,3.2 0 1,0 6.4,0a3.2,3.2 0 1,0 -6.4,0M799.1,1533.2a3.2,3.2 0 1,0 6.4,0a3.2,3.2 0 1,0 -6.4,0M802,1533.3a3.2,3.2 0 1,0 6.4,0a3.2,3.2 0 1,0 -6.4,0M806.2,1532.3a3.2,3.2 0 1,0 6.4,0a3.2,3.2 0 1,0 -6.4,0M809,1529.3a3.2,3.2 0 1,0 6.4,0a3.2,3.2 0 1,0 -6.4,0M811.9,1529.3a3.2,3.2 0 1,0 6.4,0a3.2,3.2 0 1,0 -6.4,0M817.4,1523.4a3.2,3.2 0 1,0 6.4,0a3.2,3.2 0 1,0 -6.4,0M819.6,1523.6a3.2,3.2 0 1,0 6.4,0a3.2,3.2 0 1,0 -6.4,0M823,1517a3.2,3.2 0 1,0 6.4,0a3.2,3.2 0 1,0 -6.4,0M827,1521.1a3.2,3.2 0 1,0 6.4,0a3.2,3.2 0 1,0 -6.4,0M829.5,1517.6a3.2,3.2 0 1,0 6.4,0a3.2,3.2 0 1,0 -6.4,0M833.1,1514.3a3.2,3.2 0 1,0 6.4,0a3.2,3.2 0 1,0 -6.4,0M837,1516.5a3.2,3.2 0 1,0 6.4,0a3.2,3.2 0 1,0 -6.4,0M840.5,1513.5a3.2,3.2 0 1,0 6.4,0a3.2,3.2 0 1,0 -6.4,0M844.3,1502.6a3.2,3.2 0 1,0 6.4,0a3.2,3.2 0 1,0 -6.4,0M848.4,1508.4a3.2,3.2 0 1,0 6.4,0a3.2,3.2 0 1,0 -6.4,0M851.1,1502.8a3.2,3.2 0 1,0 6.4,0a3.2,3.2 0 1,0 -6.4,0M855.1,1507.7a3.2,3.2 0 1,0 6.4,0a3.2,3.2 0 1,0 -6.4,0M858.6,1509.8a3.2,3.2 0 1,0 6.4,0a3.2,3.2 0 1,0 -6.4,0M861.2,1500.4a3.2,3.2 0 1,0 6.4,0a3.2,3.2 0 1,0 -6.4,0M865.4,1500.3a3.2,3.2 0 1,0 6.4,0a3.2,3.2 0 1,0 -6.4,0M868.3,1497.9a3.2,3.2 0 1,0 6.4,0a3.2,3.2 0 1,0 -6.4,0M872.9,1498a3.2,3.2 0 1,0 6.4,0a3.2,3.2 0 1,0 -6.4,0M876,1497.2a3.2,3.2 0 1,0 6.4,0a3.2,3.2 0 1,0 -6.4,0M879.3,1497.5a3.2,3.2 0 1,0 6.4,0a3.2,3.2 0 1,0 -6.4,0M882.1,1490.2a3.2,3.2 0 1,0 6.4,0a3.2,3.2 0 1,0 -6.4,0M886.4,1495.5a3.2,3.2 0 1,0 6.4,0a3.2,3.2 0 1,0 -6.4,0M889.4,1487.7a3.2,3.2 0 1,0 6.4,0a3.2,3.2 0 1,0 -6.4,0M893.7,1489.6a3.2,3.2 0 1,0 6.4,0a3.2,3.2 0 1,0 -6.4,0M896.7,1490.7a3.2,3.2 0 1,0 6.4,0a3.2,3.2 0 1,0 -6.4,0M899.9,1488.4a3.2,3.2 0 1,0 6.4,0a3.2,3.2 0 1,0 -6.4,0M904.3,1483.1a3.2,3.2 0 1,0 6.4,0a3.2,3.2 0 1,0 -6.4,0M907.7,1482.6a3.2,3.2 0 1,0 6.4,0a3.2,3.2 0 1,0 -6.4,0M910.5,1482.2a3.2,3.2 0 1,0 6.4,0a3.2,3.2 0 1,0 -6.4,0M914.9,1482.3a3.2,3.2 0 1,0 6.4,0a3.2,3.2 0 1,0 -6.4,0M917.6,1484.5a3.2,3.2 0 1,0 6.4,0a3.2,3.2 0 1,0 -6.4,0M921.1,1477.2a3.2,3.2 0 1,0 6.4,0a3.2,3.2 0 1,0 -6.4,0M924.9,1480.9a3.2,3.2 0 1,0 6.4,0a3.2,3.2 0 1,0 -6.4,0M927.9,1480.4a3.2,3.2 0 1,0 6.4,0a3.2,3.2 0 1,0 -6.4,0M931.6,1479.4a3.2,3.2 0 1,0 6.4,0a3.2,3.2 0 1,0 -6.4,0M935.2,1478.3a3.2,3.2 0 1,0 6.4,0a3.2,3.2 0 1,0 -6.4,0M939.6,1480.2a3.2,3.2 0 1,0 6.4,0a3.2,3.2 0 1,0 -6.4,0M943.1,1476.8a3.2,3.2 0 1,0 6.4,0a3.2,3.2 0 1,0 -6.4,0M945.7,1477a3.2,3.2 0 1,0 6.4,0a3.2,3.2 0 1,0 -6.4,0M950.1,1475.5a3.2,3.2 0 1,0 6.4,0a3.2,3.2 0 1,0 -6.4,0M952.8,1478.1a3.2,3.2 0 1,0 6.4,0a3.2,3.2 0 1,0 -6.4,0M956.5,1467.9a3.2,3.2 0 1,0 6.4,0a3.2,3.2 0 1,0 -6.4,0M960.3,1475.6a3.2,3.2 0 1,0 6.4,0a3.2,3.2 0 1,0 -6.4,0M963.5,1471a3.2,3.2 0 1,0 6.4,0a3.2,3.2 0 1,0 -6.4,0M968.1,1470.3a3.2,3.2 0 1,0 6.4,0a3.2,3.2 0 1,0 -6.4,0M970.4,1467.9a3.2,3.2 0 1,0 6.4,0a3.2,3.2 0 1,0 -6.4,0M973.2,1464.8a3.2,3.2 0 1,0 6.4,0a3.2,3.2 0 1,0 -6.4,0M978,1467.9a3.2,3.2 0 1,0 6.4,0a3.2,3.2 0 1,0 -6.4,0M980.6,1466.3a3.2,3.2 0 1,0 6.4,0a3.2,3.2 0 1,0 -6.4,0M984.1,1468.5a3.2,3.2 0 1,0 6.4,0a3.2,3.2 0 1,0 -6.4,0M986.2,1462.3a3.2,3.2 0 1,0 6.4,0a3.2,3.2 0 1,0 -6.4,0M991.8,1468.7a3.2,3.2 0 1,0 6.4,0a3.2,3.2 0 1,0 -6.4,0M995.2,1464.5a3.2,3.2 0 1,0 6.4,0a3.2,3.2 0 1,0 -6.4,0M998.7,1461.7a3.2,3.2 0 1,0 6.4,0a3.2,3.2 0 1,0 -6.4,0M1002.3,1459a3.2,3.2 0 1,0 6.4,0a3.2,3.2 0 1,0 -6.4,0M1006.2,1457.1a3.2,3.2 0 1,0 6.4,0a3.2,3.2 0 1,0 -6.4,0M1008.8,1454.2a3.2,3.2 0 1,0 6.4,0a3.2,3.2 0 1,0 -6.4,0M1012.8,1453.5a3.2,3.2 0 1,0 6.4,0a3.2,3.2 0 1,0 -6.4,0M1015.4,1452.3a3.2,3.2 0 1,0 6.4,0a3.2,3.2 0 1,0 -6.4,0M1019.1,1448.5a3.2,3.2 0 1,0 6.4,0a3.2,3.2 0 1,0 -6.4,0M1023.4,1441.1a3.2,3.2 0 1,0 6.4,0a3.2,3.2 0 1,0 -6.4,0M1026.5,1439a3.2,3.2 0 1,0 6.4,0a3.2,3.2 0 1,0 -6.4,0M1029.1,1431.6a3.2,3.2 0 1,0 6.4,0a3.2,3.2 0 1,0 -6.4,0M1033.5,1428.3a3.2,3.2 0 1,0 6.4,0a3.2,3.2 0 1,0 -6.4,0M1036.7,1426.7a3.2,3.2 0 1,0 6.4,0a3.2,3.2 0 1,0 -6.4,0M1039.9,1417.4a3.2,3.2 0 1,0 6.4,0a3.2,3.2 0 1,0 -6.4,0M1044,1409a3.2,3.2 0 1,0 6.4,0a3.2,3.2 0 1,0 -6.4,0M1047.1,1399.4a3.2,3.2 0 1,0 6.4,0a3.2,3.2 0 1,0 -6.4,0M1050,1393.6a3.2,3.2 0 1,0 6.4,0a3.2,3.2 0 1,0 -6.4,0M1053.7,1386.4a3.2,3.2 0 1,0 6.4,0a3.2,3.2 0 1,0 -6.4,0M1058.7,1385.8a3.2,3.2 0 1,0 6.4,0a3.2,3.2 0 1,0 -6.4,0M1060.5,1374.7a3.2,3.2 0 1,0 6.4,0a3.2,3.2 0 1,0 -6.4,0M1064.9,1369.1a3.2,3.2 0 1,0 6.4,0a3.2,3.2 0 1,0 -6.4,0M1068.6,1358.8a3.2,3.2 0 1,0 6.4,0a3.2,3.2 0 1,0 -6.4,0M1072.1,1351.5a3.2,3.2 0 1,0 6.4,0a3.2,3.2 0 1,0 -6.4,0M1074.7,1345.2a3.2,3.2 0 1,0 6.4,0a3.2,3.2 0 1,0 -6.4,0M1078.6,1329.6a3.2,3.2 0 1,0 6.4,0a3.2,3.2 0 1,0 -6.4,0M1082.4,1320.3a3.2,3.2 0 1,0 6.4,0a3.2,3.2 0 1,0 -6.4,0M1086.2,1309a3.2,3.2 0 1,0 6.4,0a3.2,3.2 0 1,0 -6.4,0M1089,1303.3a3.2,3.2 0 1,0 6.4,0a3.2,3.2 0 1,0 -6.4,0M1092.2,1288.7a3.2,3.2 0 1,0 6.4,0a3.2,3.2 0 1,0 -6.4,0M1096.8,1279.6a3.2,3.2 0 1,0 6.4,0a3.2,3.2 0 1,0 -6.4,0M1100.4,1271.9a3.2,3.2 0 1,0 6.4,0a3.2,3.2 0 1,0 -6.4,0M1103.5,1266.4a3.2,3.2 0 1,0 6.4,0a3.2,3.2 0 1,0 -6.4,0M1106.5,1267.2a3.2,3.2 0 1,0 6.4,0a3.2,3.2 0 1,0 -6.4,0M1110.5,1269.9a3.2,3.2 0 1,0 6.4,0a3.2,3.2 0 1,0 -6.4,0M1113.9,1259.3a3.2,3.2 0 1,0 6.4,0a3.2,3.2 0 1,0 -6.4,0M1117.7,1264.6a3.2,3.2 0 1,0 6.4,0a3.2,3.2 0 1,0 -6.4,0M1120.1,1264.6a3.2,3.2 0 1,0 6.4,0a3.2,3.2 0 1,0 -6.4,0M1124.4,1264a3.2,3.2 0 1,0 6.4,0a3.2,3.2 0 1,0 -6.4,0M1127.7,1270.1a3.2,3.2 0 1,0 6.4,0a3.2,3.2 0 1,0 -6.4,0M1130.7,1275.5a3.2,3.2 0 1,0 6.4,0a3.2,3.2 0 1,0 -6.4,0M1134.9,1281.2a3.2,3.2 0 1,0 6.4,0a3.2,3.2 0 1,0 -6.4,0M1138.3,1296.3a3.2,3.2 0 1,0 6.4,0a3.2,3.2 0 1,0 -6.4,0M1141.6,1295.4a3.2,3.2 0 1,0 6.4,0a3.2,3.2 0 1,0 -6.4,0M1145.5,1310.7a3.2,3.2 0 1,0 6.4,0a3.2,3.2 0 1,0 -6.4,0M1148.1,1320.3a3.2,3.2 0 1,0 6.4,0a3.2,3.2 0 1,0 -6.4,0M1152.3,1328.1a3.2,3.2 0 1,0 6.4,0a3.2,3.2 0 1,0 -6.4,0M1156,1340.5a3.2,3.2 0 1,0 6.4,0a3.2,3.2 0 1,0 -6.4,0M1159.4,1353.3a3.2,3.2 0 1,0 6.4,0a3.2,3.2 0 1,0 -6.4,0M1163.4,1363a3.2,3.2 0 1,0 6.4,0a3.2,3.2 0 1,0 -6.4,0M1165.7,1376.5a3.2,3.2 0 1,0 6.4,0a3.2,3.2 0 1,0 -6.4,0M1169,1391.7a3.2,3.2 0 1,0 6.4,0a3.2,3.2 0 1,0 -6.4,0M1173.4,1401a3.2,3.2 0 1,0 6.4,0a3.2,3.2 0 1,0 -6.4,0M1177,1427.5a3.2,3.2 0 1,0 6.4,0a3.2,3.2 0 1,0 -6.4,0M1181.4,1446.9a3.2,3.2 0 1,0 6.4,0a3.2,3.2 0 1,0 -6.4,0M1184.1,1460a3.2,3.2 0 1,0 6.4,0a3.2,3.2 0 1,0 -6.4,0M1186.8,1475.2a3.2,3.2 0 1,0 6.4,0a3.2,3.2 0 1,0 -6.4,0M1191.2,1481.8a3.2,3.2 0 1,0 6.4,0a3.2,3.2 0 1,0 -6.4,0M1193.9,1495.5a3.2,3.2 0 1,0 6.4,0a3.2,3.2 0 1,0 -6.4,0M1197,1502.3a3.2,3.2 0 1,0 6.4,0a3.2,3.2 0 1,0 -6.4,0M1202.7,1510.2a3.2,3.2 0 1,0 6.4,0a3.2,3.2 0 1,0 -6.4,0M1205,1520.9a3.2,3.2 0 1,0 6.4,0a3.2,3.2 0 1,0 -6.4,0M1208.7,1522.5a3.2,3.2 0 1,0 6.4,0a3.2,3.2 0 1,0 -6.4,0M1212.1,1530.2a3.2,3.2 0 1,0 6.4,0a3.2,3.2 0 1,0 -6.4,0M1216.3,1531.5a3.2,3.2 0 1,0 6.4,0a3.2,3.2 0 1,0 -6.4,0M1218.9,1541.8a3.2,3.2 0 1,0 6.4,0a3.2,3.2 0 1,0 -6.4,0M1222.9,1548a3.2,3.2 0 1,0 6.4,0a3.2,3.2 0 1,0 -6.4,0M1225.3,1551.3a3.2,3.2 0 1,0 6.4,0a3.2,3.2 0 1,0 -6.4,0M1228.6,1556.4a3.2,3.2 0 1,0 6.4,0a3.2,3.2 0 1,0 -6.4,0M1233.5,1568a3.2,3.2 0 1,0 6.4,0a3.2,3.2 0 1,0 -6.4,0M1237.1,1564.7a3.2,3.2 0 1,0 6.4,0a3.2,3.2 0 1,0 -6.4,0M1240.1,1569.7a3.2,3.2 0 1,0 6.4,0a3.2,3.2 0 1,0 -6.4,0M1243.4,1574.8a3.2,3.2 0 1,0 6.4,0a3.2,3.2 0 1,0 -6.4,0M1246.9,1584.2a3.2,3.2 0 1,0 6.4,0a3.2,3.2 0 1,0 -6.4,0M1249.9,1590.5a3.2,3.2 0 1,0 6.4,0a3.2,3.2 0 1,0 -6.4,0M1254.6,1589.4a3.2,3.2 0 1,0 6.4,0a3.2,3.2 0 1,0 -6.4,0M1257.6,1589.8a3.2,3.2 0 1,0 6.4,0a3.2,3.2 0 1,0 -6.4,0M1261.1,1593.4a3.2,3.2 0 1,0 6.4,0a3.2,3.2 0 1,0 -6.4,0M1264.5,1599.7a3.2,3.2 0 1,0 6.4,0a3.2,3.2 0 1,0 -6.4,0M1268.4,1596.7a3.2,3.2 0 1,0 6.4,0a3.2,3.2 0 1,0 -6.4,0M1271.6,1604.5a3.2,3.2 0 1,0 6.4,0a3.2,3.2 0 1,0 -6.4,0M1275.2,1605.8a3.2,3.2 0 1,0 6.4,0a3.2,3.2 0 1,0 -6.4,0M1277.7,1603.4a3.2,3.2 0 1,0 6.4,0a3.2,3.2 0 1,0 -6.4,0M1282.1,1605.9a3.2,3.2 0 1,0 6.4,0a3.2,3.2 0 1,0 -6.4,0M1286.4,1607.1a3.2,3.2 0 1,0 6.4,0a3.2,3.2 0 1,0 -6.4,0M1288.5,1610a3.2,3.2 0 1,0 6.4,0a3.2,3.2 0 1,0 -6.4,0M1292.2,1604a3.2,3.2 0 1,0 6.4,0a3.2,3.2 0 1,0 -6.4,0M1296.3,1610.5a3.2,3.2 0 1,0 6.4,0a3.2,3.2 0 1,0 -6.4,0M1299.8,1607a3.2,3.2 0 1,0 6.4,0a3.2,3.2 0 1,0 -6.4,0M1303.1,1606.6a3.2,3.2 0 1,0 6.4,0a3.2,3.2 0 1,0 -6.4,0M1305.5,1609.4a3.2,3.2 0 1,0 6.4,0a3.2,3.2 0 1,0 -6.4,0M1310.1,1609a3.2,3.2 0 1,0 6.4,0a3.2,3.2 0 1,0 -6.4,0M1312.7,1607.4a3.2,3.2 0 1,0 6.4,0a3.2,3.2 0 1,0 -6.4,0M1316.4,1606.2a3.2,3.2 0 1,0 6.4,0a3.2,3.2 0 1,0 -6.4,0M1320.6,1608.3a3.2,3.2 0 1,0 6.4,0a3.2,3.2 0 1,0 -6.4,0M1323.6,1614.8a3.2,3.2 0 1,0 6.4,0a3.2,3.2 0 1,0 -6.4,0M1327.7,1616.5a3.2,3.2 0 1,0 6.4,0a3.2,3.2 0 1,0 -6.4,0M1332.5,1613.4a3.2,3.2 0 1,0 6.4,0a3.2,3.2 0 1,0 -6.4,0M1334.7,1615a3.2,3.2 0 1,0 6.4,0a3.2,3.2 0 1,0 -6.4,0M1338.2,1610.8a3.2,3.2 0 1,0 6.4,0a3.2,3.2 0 1,0 -6.4,0M1340.8,1612.2a3.2,3.2 0 1,0 6.4,0a3.2,3.2 0 1,0 -6.4,0M1344.5,1613.4a3.2,3.2 0 1,0 6.4,0a3.2,3.2 0 1,0 -6.4,0M1347.7,1610a3.2,3.2 0 1,0 6.4,0a3.2,3.2 0 1,0 -6.4,0M1351.5,1610.5a3.2,3.2 0 1,0 6.4,0a3.2,3.2 0 1,0 -6.4,0M1354.7,1613.5a3.2,3.2 0 1,0 6.4,0a3.2,3.2 0 1,0 -6.4,0M1358.5,1612.6a3.2,3.2 0 1,0 6.4,0a3.2,3.2 0 1,0 -6.4,0M1362.2,1610.8a3.2,3.2 0 1,0 6.4,0a3.2,3.2 0 1,0 -6.4,0M1365.3,1614.7a3.2,3.2 0 1,0 6.4,0a3.2,3.2 0 1,0 -6.4,0M1368.6,1613.2a3.2,3.2 0 1,0 6.4,0a3.2,3.2 0 1,0 -6.4,0M1372.1,1616.7a3.2,3.2 0 1,0 6.4,0a3.2,3.2 0 1,0 -6.4,0M1376.5,1614.2a3.2,3.2 0 1,0 6.4,0a3.2,3.2 0 1,0 -6.4,0M1379.8,1613.6a3.2,3.2 0 1,0 6.4,0a3.2,3.2 0 1,0 -6.4,0M1383.8,1614.8a3.2,3.2 0 1,0 6.4,0a3.2,3.2 0 1,0 -6.4,0M1387.3,1614.2a3.2,3.2 0 1,0 6.4,0a3.2,3.2 0 1,0 -6.4,0M1390.1,1613a3.2,3.2 0 1,0 6.4,0a3.2,3.2 0 1,0 -6.4,0M1394.2,1613.8a3.2,3.2 0 1,0 6.4,0a3.2,3.2 0 1,0 -6.4,0M1396.5,1616.9a3.2,3.2 0 1,0 6.4,0a3.2,3.2 0 1,0 -6.4,0M1402,1616.8a3.2,3.2 0 1,0 6.4,0a3.2,3.2 0 1,0 -6.4,0M1404.9,1618.5a3.2,3.2 0 1,0 6.4,0a3.2,3.2 0 1,0 -6.4,0M1407.7,1610.9a3.2,3.2 0 1,0 6.4,0a3.2,3.2 0 1,0 -6.4,0M1410.7,1614.4a3.2,3.2 0 1,0 6.4,0a3.2,3.2 0 1,0 -6.4,0M1415,1614.4a3.2,3.2 0 1,0 6.4,0a3.2,3.2 0 1,0 -6.4,0M1417.3,1616a3.2,3.2 0 1,0 6.4,0a3.2,3.2 0 1,0 -6.4,0M1421.4,1614.4a3.2,3.2 0 1,0 6.4,0a3.2,3.2 0 1,0 -6.4,0M1425.7,1614.3a3.2,3.2 0 1,0 6.4,0a3.2,3.2 0 1,0 -6.4,0M1428.8,1617.7a3.2,3.2 0 1,0 6.4,0a3.2,3.2 0 1,0 -6.4,0M1432,1616.2a3.2,3.2 0 1,0 6.4,0a3.2,3.2 0 1,0 -6.4,0M1436.3,1612.8a3.2,3.2 0 1,0 6.4,0a3.2,3.2 0 1,0 -6.4,0M1438.8,1619.3a3.2,3.2 0 1,0 6.4,0a3.2,3.2 0 1,0 -6.4,0M1442.9,1618.5a3.2,3.2 0 1,0 6.4,0a3.2,3.2 0 1,0 -6.4,0M1446,1614.5a3.2,3.2 0 1,0 6.4,0a3.2,3.2 0 1,0 -6.4,0M1449.4,1618.2a3.2,3.2 0 1,0 6.4,0a3.2,3.2 0 1,0 -6.4,0M1453.5,1614.2a3.2,3.2 0 1,0 6.4,0a3.2,3.2 0 1,0 -6.4,0M1456.3,1619a3.2,3.2 0 1,0 6.4,0a3.2,3.2 0 1,0 -6.4,0M1461.3,1615.6a3.2,3.2 0 1,0 6.4,0a3.2,3.2 0 1,0 -6.4,0M1463.5,1614.1a3.2,3.2 0 1,0 6.4,0a3.2,3.2 0 1,0 -6.4,0M1468.3,1615.3a3.2,3.2 0 1,0 6.4,0a3.2,3.2 0 1,0 -6.4,0M1470.2,1614.3a3.2,3.2 0 1,0 6.4,0a3.2,3.2 0 1,0 -6.4,0M1474.6,1616.8a3.2,3.2 0 1,0 6.4,0a3.2,3.2 0 1,0 -6.4,0M1477.2,1616.8a3.2,3.2 0 1,0 6.4,0a3.2,3.2 0 1,0 -6.4,0M1480.6,1616.5a3.2,3.2 0 1,0 6.4,0a3.2,3.2 0 1,0 -6.4,0M1484.9,1614.9a3.2,3.2 0 1,0 6.4,0a3.2,3.2 0 1,0 -6.4,0M1488.7,1606.9a3.2,3.2 0 1,0 6.4,0a3.2,3.2 0 1,0 -6.4,0M1491.1,1616.7a3.2,3.2 0 1,0 6.4,0a3.2,3.2 0 1,0 -6.4,0M1495.9,1611.6a3.2,3.2 0 1,0 6.4,0a3.2,3.2 0 1,0 -6.4,0M1498.4,1617.2a3.2,3.2 0 1,0 6.4,0a3.2,3.2 0 1,0 -6.4,0M1502.4,1619.5a3.2,3.2 0 1,0 6.4,0a3.2,3.2 0 1,0 -6.4,0M1506,1617.3a3.2,3.2 0 1,0 6.4,0a3.2,3.2 0 1,0 -6.4,0M1509.6,1615.6a3.2,3.2 0 1,0 6.4,0a3.2,3.2 0 1,0 -6.4,0M1511.9,1616.2a3.2,3.2 0 1,0 6.4,0a3.2,3.2 0 1,0 -6.4,0M1517.1,1616.3a3.2,3.2 0 1,0 6.4,0a3.2,3.2 0 1,0 -6.4,0M1520.1,1615.3a3.2,3.2 0 1,0 6.4,0a3.2,3.2 0 1,0 -6.4,0M1523.1,1615.2a3.2,3.2 0 1,0 6.4,0a3.2,3.2 0 1,0 -6.4,0M1526.3,1614.3a3.2,3.2 0 1,0 6.4,0a3.2,3.2 0 1,0 -6.4,0M1529.4,1619.8a3.2,3.2 0 1,0 6.4,0a3.2,3.2 0 1,0 -6.4,0M1533.1,1616.7a3.2,3.2 0 1,0 6.4,0a3.2,3.2 0 1,0 -6.4,0M1537.6,1619.3a3.2,3.2 0 1,0 6.4,0a3.2,3.2 0 1,0 -6.4,0M1540.6,1616.2a3.2,3.2 0 1,0 6.4,0a3.2,3.2 0 1,0 -6.4,0M1543.7,1617a3.2,3.2 0 1,0 6.4,0a3.2,3.2 0 1,0 -6.4,0M1547.5,1616.4a3.2,3.2 0 1,0 6.4,0a3.2,3.2 0 1,0 -6.4,0M1552.1,1618.1a3.2,3.2 0 1,0 6.4,0a3.2,3.2 0 1,0 -6.4,0M1554.6,1619a3.2,3.2 0 1,0 6.4,0a3.2,3.2 0 1,0 -6.4,0M1558,1617.5a3.2,3.2 0 1,0 6.4,0a3.2,3.2 0 1,0 -6.4,0M1562.5,1615.2a3.2,3.2 0 1,0 6.4,0a3.2,3.2 0 1,0 -6.4,0M1565.5,1614.9a3.2,3.2 0 1,0 6.4,0a3.2,3.2 0 1,0 -6.4,0M1568.8,1621.3a3.2,3.2 0 1,0 6.4,0a3.2,3.2 0 1,0 -6.4,0M1572,1616.2a3.2,3.2 0 1,0 6.4,0a3.2,3.2 0 1,0 -6.4,0M1575,1616.2a3.2,3.2 0 1,0 6.4,0a3.2,3.2 0 1,0 -6.4,0" fill="none" stroke="#4a4a4a" stroke-width="1.1" opacity="1"/>
<path d="M150,1597l1.5,0 1.5,0 1.5,0 1.5,0 1.5,0 1.5,0 1.5,0 1.5,0 1.5,0 1.5,0 1.5,0 1.5,0 1.5,0 1.5,0 1.5,0 1.5,0 1.5,0 1.5,0 1.5,0 1.5,0 1.5,0 1.5,0 1.5,0 1.5,0 1.5,0 1.5,0 1.5,0 1.5,0 1.5,0 1.5,0 1.5,0 1.5,0 1.5,0 1.5,0 1.5,0 1.5,0 1.5,0 1.5,0 1.5,0 1.5,0 1.5,0 1.5,0 1.5,0 1.5,0 1.5,0 1.5,0 1.5,0 1.5,0 1.5,0 1.5,0 1.5,0 1.5,0 1.5,0 1.5,0 1.5,0 1.5,0 1.5,0 1.5,0 1.5,0 1.5,0 1.5,0 1.5,0 1.5,0 1.5,0 1.5,0 1.5,0 1.5,0 1.5,0 1.5,0 1.5,0 1.5,0 1.5,0 1.5,0 1.5,0 1.5,0 1.5,0 1.5,0 1.5,0 1.5,0 1.5,0 1.5,0 1.5,0 1.5,0 1.5,0 1.5,0 1.5,0 1.5,0 1.5,0 1.5,0 1.5,0 1.5,0 1.5,0 1.5,0 1.5,0 1.5,0 1.5,0 1.5,0 1.5,0 1.5,0 1.5,0 1.5,0 1.5,0 1.5,0 1.5,0 1.5,0 1.5,0 1.5,0 1.5,0 1.5,0 1.5,0 1.5,0 1.5,0 1.5,0 1.5,0 1.5,0 1.5,0 1.5,0 1.5,0 1.5,0 1.5,0 1.5,0 1.5,0 1.5,0 1.5,0 1.5,0 1.5,0 1.5,0 1.5,0 1.5,0 1.5,0 1.5,0 1.5,0 1.5,0 1.5,0 1.5,0 1.5,0 1.5,0 1.5,0 1.5,0 1.5,0 1.5,0 1.5,0 1.5,0 1.5,0 1.5,0 1.5,0 1.5,0 1.5,0 1.5,0 1.5,0 1.5,0 1.5,0 1.5,0 1.5,0 1.5,0 1.5,0 1.5,0 1.5,0 1.5,0 1.5,0 1.5,0 1.5,0 1.5,0 1.5,0 1.5,0 1.5,0 1.5,0 1.5,0 1.5,0 1.5,0 1.5,0 1.5,0 1.5,0 1.5,0 1.5,0 1.5,0 1.5,0 1.5,0 1.5,0 1.5,0 1.5,0 1.5,0 1.5,0 1.5,0 1.5,0 1.5,0 1.5,0 1.5,0 1.5,0 1.5,0 1.5,0 1.5,0 1.5,0 1.5,0 1.5,0 1.5,0 1.5,0 1.5,0 1.5,0 1.5,0 1.5,0 1.5,0 1.5,0 1.5,0 1.5,0 1.5,0 1.5,0 1.5,0 1.5,0 1.5,0 1.5,0 1.5,0 1.5,0 1.5,0 1.5,0 1.5,0 1.5,0 1.5,0 1.5,0 1.5,0 1.5,0 1.5,0 1.5,0 1.5,0 1.5,0 1.5,0 1.5,0 1.5,0 1.5,0 1.5,0 1.5,0 1.5,0 1.5,0 1.5,0 1.5,0 1.5,0 1.5,0 1.5,0 1.5,0 1.5,0 1.5,0 1.5,0 1.5,0 1.5,0 1.5,0 1.5,0 1.5,0 1.5,0 1.5,0 1.5,0 1.5,0 1.5,0 1.5,0 1.5,0 1.5,0 1.5,0 1.5,0 1.5,0 1.5,0 1.5,0 1.5,0 1.5,0 1.5,0 1.5,0 1.5,0 1.5,0 1.5,0 1.5,0 1.5,0 1.5,0 1.5,0 1.5,0 1.5,0 1.5,0 1.5,0 1.5,0 1.5,0 1.5,0 1.5,0 1.5,0 1.5,0 1.5,0 1.5,0 1.5,0 1.5,0 1.5,0 1.5,0 1.5,0 1.5,0 1.5,0 1.5,0 1.5,0 1.5,0 1.5,0 1.5,0 1.5,0 1.5,0 1.5,0 1.5,0 1.5,0 1.5,0 1.5,0 1.5,0 1.5,0 1.5,0 1.5,0 1.5,0 1.5,0 1.5,0 1.5,0 1.5,0 1.5,0 1.5,0 1.5,0 1.5,0 1.5,0 1.5,0 1.5,0 1.5,0 1.5,.1 1.5,0 1.5,0 1.5,0 1.5,0 1.5,0 1.5,0 1.5,0 1.5,0 1.5,0 1.5,0 1.5,0 1.5,0 1.5,0 1.5,0 1.5,0 1.5,0 1.5,0 1.5,0 1.5,0 1.5,0 1.5,0 1.5,0 1.5,0 1.5,0 1.5,0 1.5,0 1.5,0 1.5,0 1.5,0 1.5,0 1.5,0 1.5,0 1.5,0 1.5,0 1.5,0 1.5,0 1.5,0 1.5,0 1.5,0 1.5,0 1.5,0 1.5,0 1.5,0 1.5,0 1.5,0 1.5,0 1.5,0 1.5,0 1.5,0 1.5,0 1.5,0 1.5,0 1.5,0 1.5,0 1.5,0 1.5,0 1.5,0 1.5,0 1.5,0 1.5,0 1.5,0 1.5,0 1.5,0 1.5,.1 1.5,0 1.5,0 1.5,0 1.5,0 1.5,0 1.5,0 1.5,0 1.5,0 1.5,0 1.5,0 1.5,0 1.5,0 1.5,0 1.5,0 1.5,0 1.5,0 1.5,0 1.5,0 1.5,0 1.5,0 1.5,0 1.5,0 1.5,0 1.5,0 1.5,0 1.5,0 1.5,0 1.5,0 1.5,0 1.5,0 1.5,0 1.5,0 1.5,.1 1.5,0 1.5,0 1.5,0 1.5,0 1.5,0 1.5,0 1.5,0 1.5,0 1.5,.1 1.5,0 1.5,0 1.5,0 1.5,0 1.5,0 1.5,0 1.5,.1 1.5,0 1.5,0 1.5,0 1.5,0 1.5,.1 1.5,0 1.5,0 1.5,0 1.5,0 1.5,.1 1.5,0 1.5,0 1.5,0 1.5,.1 1.5,0 1.5,0 1.5,0 1.5,.1 1.5,0 1.5,0 1.5,0 1.5,.1 1.5,0 1.5,0 1.5,.1 1.5,0 1.5,0 1.5,0 1.5,.1 1.5,0 1.5,0 1.5,.1 1.5,0 1.5,0 1.5,.1 1.5,0 1.5,0 1.5,.1 1.5,0 1.5,0 1.5,.1 1.5,0 1.5,.1 1.5,0 1.5,0 1.5,.1 1.5,0 1.5,0 1.5,.1 1.5,0 1.5,.1 1.5,0 1.5,0 1.5,.1 1.5,0 1.5,.1 1.5,0 1.5,0 1.5,.1 1.5,0 1.5,.1 1.5,0 1.5,0 1.5,.1 1.5,0 1.5,.1 1.5,0 1.5,.1 1.5,0 1.5,.1 1.5,0 1.5,0 1.5,.1 1.5,0 1.5,.1 1.5,0 1.5,.1 1.5,0 1.5,.1 1.5,0 1.5,.1 1.5,0 1.5,.1 1.5,0 1.5,.1 1.5,0 1.5,.1 1.5,0 1.5,.1 1.5,0 1.5,.1 1.5,0 1.5,.1 1.5,0 1.5,.1 1.5,0 1.5,.1 1.5,0 1.5,.1 1.5,0 1.5,.1 1.5,0 1.5,.1 1.5,0 1.5,.1 1.5,0 1.5,.1 1.5,0 1.5,.1 1.5,0 1.5,.1 1.5,0 1.5,.1 1.5,0 1.5,.1 1.5,0 1.5,.1 1.5,.1 1.5,0 1.5,.1 1.5,0 1.5,.1 1.5,0 1.5,.1 1.5,0 1.5,.1 1.5,0 1.5,.1 1.5,0 1.5,.1 1.5,.1 1.5,0 1.5,.1 1.5,0 1.5,.1 1.5,0 1.5,.1 1.5,.1 1.5,0 1.5,.1 1.5,.1 1.5,0 1.5,.1 1.5,.1 1.5,0 1.5,.1 1.5,.1 1.5,.1 1.5,.1 1.5,0 1.5,.1 1.5,.1 1.5,.1 1.5,.1 1.5,.1 1.5,.1 1.5,0 1.5,.1 1.5,.1 1.5,.1 1.5,.1 1.5,.1 1.5,.1 1.5,.1 1.5,.1 1.5,.1 1.5,.1 1.5,.1 1.5,.1 1.5,.1 1.5,.1 1.5,.1 1.5,.1 1.5,.1 1.5,.1 1.5,.1 1.5,.1 1.5,.1 1.5,.1 1.5,.1 1.5,.1 1.5,.1 1.5,.1 1.5,.1 1.5,.1 1.5,.1 1.5,.1 1.5,.1 1.5,.1 1.5,.1 1.5,.1 1.5,.1 1.5,.1 1.5,.1 1.5,.1 1.5,.1 1.5,.1 1.5,.1 1.5,.1 1.5,.1 1.5,0 1.5,.1 1.5,.1 1.5,.1 1.5,.1 1.5,.1 1.5,.1 1.5,0 1.5,.1 1.5,.1 1.5,.1 1.5,.1 1.5,.1 1.5,0 1.5,.1 1.5,.1 1.5,.1 1.5,.1 1.5,.1 1.5,.1 1.5,0 1.5,.1 1.5,.1 1.5,.1 1.5,.1 1.5,.1 1.5,.1 1.5,.1 1.5,.1 1.5,.1 1.5,0 1.5,.1 1.5,.1 1.5,.1 1.5,.1 1.5,.1 1.5,.1 1.5,.1 1.5,.1 1.5,.1 1.5,.1 1.5,.1 1.5,.1 1.5,.1 1.5,0 1.5,.1 1.5,.1 1.5,.1 1.5,.1 1.5,.1 1.5,.1 1.5,.1 1.5,.1 1.5,.1 1.5,0 1.5,.1 1.5,.1 1.5,.1 1.5,.1 1.5,.1 1.5,.1 1.5,0 1.5,.1 1.5,.1 1.5,.1 1.5,.1 1.5,0 1.5,.1 1.5,.1 1.5,.1 1.5,0 1.5,.1 1.5,.1 1.5,0 1.5,.1 1.5,.1 1.5,.1 1.5,0 1.5,.1 1.5,0 1.5,.1 1.5,.1 1.5,0 1.5,.1 1.5,0 1.5,.1 1.5,0 1.5,.1 1.5,0 1.5,.1 1.5,0 1.5,0 1.5,.1 1.5,0 1.5,.1 1.5,0 1.5,0 1.5,0 1.5,.1 1.5,0 1.5,0 1.5,0 1.5,.1 1.5,0 1.5,0 1.5,0 1.5,0 1.5,0 1.5,0 1.5,0 1.5,0 1.5,0 1.5,0 1.5,0 1.5,0 1.5,.1 1.5,0 1.5,0 1.5,0 1.5,0 1.5,0 1.5,0 1.5,0 1.5,0 1.5,0 1.5,0 1.5,0 1.5,0 1.5,0 1.5,0 1.5,0 1.5,0 1.5,0 1.5,0 1.5,0 1.5,.1 1.5,0 1.5,0 1.5,0 1.5,0 1.5,0 1.5,0 1.5,0 1.5,0 1.5,0 1.5,0 1.5,0 1.5,0 1.5,0 1.5,0 1.5,0 1.5,0 1.5,0 1.5,0 1.5,0 1.5,0 1.5,0 1.5,0 1.5,0 1.5,0 1.5,0 1.5,0 1.5,0 1.5,.1 1.5,0 1.5,0 1.5,0 1.5,0 1.5,0 1.5,0 1.5,0 1.5,0 1.5,0 1.5,0 1.5,0 1.5,0 1.5,0 1.5,0 1.5,0 1.5,0 1.5,0 1.5,0 1.5,0 1.5,0 1.5,0 1.5,0 1.5,0 1.5,0 1.5,0 1.5,0 1.5,0 1.5,0 1.5,0 1.5,0 1.5,0 1.5,0 1.5,0 1.5,0 1.5,0 1.5,0 1.5,0 1.5,0 1.5,0 1.5,0 1.5,0 1.5,0 1.5,0 1.5,0 1.5,0 1.5,0 1.5,0 1.5,0 1.5,0 1.5,0 1.5,0 1.5,0 1.5,0 1.5,0 1.5,0 1.5,0 1.5,0 1.5,0 1.5,0 1.5,0 1.5,0 1.5,0 1.5,0 1.5,0 1.5,0 1.5,0 1.5,0 1.5,0 1.5,0 1.5,0 1.5,0 1.5,0 1.5,0 1.5,0 1.5,0 1.5,0 1.5,0 1.5,0 1.5,0 1.5,0 1.5,0 1.5,0 1.5,0 1.5,0 1.5,0 1.5,0 1.5,0 1.5,0 1.5,0 1.5,0 1.5,0 1.5,0 1.5,0 1.5,0 1.5,0 1.5,0 1.5,0 1.5,0 1.5,0 1.5,0 1.5,0 1.5,0 1.5,0 1.5,0 1.5,0 1.5,0 1.5,0 1.5,0 1.5,0 1.5,0 1.5,0 1.5,0 1.5,0 1.5,0 1.5,0 1.5,0 1.5,0 1.5,0 1.5,0 1.5,0 1.5,0 1.5,0 1.5,0 1.5,0 1.5,0 1.5,0 1.5,0 1.5,0 1.5,0 1.5,0 1.5,0 1.5,0 1.5,0 1.5,0 1.5,0 1.5,0 1.5,0 1.5,0 1.5,0 1.5,0 1.5,0 1.5,0 1.5,0 1.5,0 1.5,0 1.5,0 1.5,0 1.5,0 1.5,0 1.5,0 1.5,0 1.5,0 1.5,0 1.5,0 1.5,0 1.5,0 1.5,0" fill="none" stroke="#0000ff" stroke-width="3.0" stroke-linejoin="round" stroke-linecap="round" />
<path d="M540,1595.3l1.5,0 1.5-.1 1.5,0 1.5-.1 1.5,0 1.5-.1 1.5,0 1.5-.1 1.5,0 1.5-.1 1.5,0 1.5-.1 1.5,0 1.5-.1 1.5-.1 1.5,0 1.5-.1 1.5-.1 1.5,0 1.5-.1 1.5-.1 1.5,0 1.5-.1 1.5-.1 1.5-.1 1.5,0 1.5-.1 1.5-.1 1.5-.1 1.5-.1 1.5-.1 1.5-.1 1.5-.1 1.5-.1 1.5-.1 1.5-.1 1.5-.1 1.5-.1 1.5-.1 1.5-.1 1.5-.1 1.5-.1 1.5-.1 1.5-.2 1.5-.1 1.5-.1 1.5-.2 1.5-.1 1.5-.1 1.5-.2 1.5-.1 1.5-.2 1.5-.1 1.5-.2 1.5-.1 1.5-.2 1.5-.1 1.5-.2 1.5-.2 1.5-.2 1.5-.1 1.5-.2 1.5-.2 1.5-.2 1.5-.2 1.5-.2 1.5-.2 1.5-.2 1.5-.2 1.5-.2 1.5-.2 1.5-.3 1.5-.2 1.5-.2 1.5-.2 1.5-.3 1.5-.2 1.5-.3 1.5-.2 1.5-.3 1.5-.3 1.5-.2 1.5-.3 1.5-.3 1.5-.3 1.5-.2 1.5-.3 1.5-.3 1.5-.3 1.5-.4 1.5-.3 1.5-.3 1.5-.3 1.5-.3 1.5-.4 1.5-.3 1.5-.4 1.5-.3 1.5-.4 1.5-.3 1.5-.4 1.5-.4 1.5-.4 1.5-.3 1.5-.4 1.5-.4 1.5-.4 1.5-.4 1.5-.5 1.5-.4 1.5-.4 1.5-.4 1.5-.5 1.5-.4 1.5-.5 1.5-.4 1.5-.5 1.5-.5 1.5-.4 1.5-.5 1.5-.5 1.5-.5 1.5-.5 1.5-.5 1.5-.5 1.5-.5 1.5-.5 1.5-.6 1.5-.5 1.5-.6 1.5-.5 1.5-.6 1.5-.5 1.5-.6 1.5-.5 1.5-.6 1.5-.6 1.5-.6 1.5-.6 1.5-.6 1.5-.6 1.5-.6 1.5-.6 1.5-.6 1.5-.7 1.5-.6 1.5-.6 1.5-.7 1.5-.6 1.5-.7 1.5-.6 1.5-.7 1.5-.7 1.5-.6 1.5-.7 1.5-.7 1.5-.7 1.5-.6 1.5-.7 1.5-.7 1.5-.7 1.5-.7 1.5-.7 1.5-.7 1.5-.7 1.5-.8 1.5-.7 1.5-.7 1.5-.7 1.5-.7 1.5-.8 1.5-.7 1.5-.7 1.5-.8 1.5-.7 1.5-.7 1.5-.8 1.5-.7 1.5-.7 1.5-.8 1.5-.7 1.5-.8 1.5-.7 1.5-.8 1.5-.7 1.5-.8 1.5-.7 1.5-.8 1.5-.7 1.5-.7 1.5-.8 1.5-.7 1.5-.8 1.5-.7 1.5-.8 1.5-.7 1.5-.7 1.5-.8 1.5-.7 1.5-.7 1.5-.8 1.5-.7 1.5-.7 1.5-.7 1.5-.8 1.5-.7 1.5-.7 1.5-.7 1.5-.7 1.5-.7 1.5-.7 1.5-.7 1.5-.7 1.5-.7 1.5-.6 1.5-.7 1.5-.7 1.5-.6 1.5-.7 1.5-.6 1.5-.7 1.5-.6 1.5-.6 1.5-.6 1.5-.6 1.5-.7 1.5-.6 1.5-.5 1.5-.6 1.5-.6 1.5-.6 1.5-.5 1.5-.6 1.5-.5 1.5-.5 1.5-.6 1.5-.5 1.5-.5 1.5-.5 1.5-.4 1.5-.5 1.5-.5 1.5-.4 1.5-.5 1.5-.4 1.5-.4 1.5-.4 1.5-.4 1.5-.4 1.5-.4 1.5-.3 1.5-.4 1.5-.3 1.5-.3 1.5-.3 1.5-.3 1.5-.3 1.5-.3 1.5-.2 1.5-.3 1.5-.2 1.5-.2 1.5-.3 1.5-.2 1.5-.1 1.5-.2 1.5-.2 1.5-.1 1.5-.1 1.5-.1 1.5-.1 1.5-.1 1.5-.1 1.5,0 1.5-.1 1.5,0 1.5,0 1.5,0 1.5,0 1.5,0 1.5,0 1.5,.1 1.5,.1 1.5,.1 1.5,.1 1.5,.1 1.5,.1 1.5,.1 1.5,.2 1.5,.1 1.5,.2 1.5,.2 1.5,.2 1.5,.2 1.5,.3 1.5,.2 1.5,.3 1.5,.2 1.5,.3 1.5,.3 1.5,.3 1.5,.4 1.5,.3 1.5,.3 1.5,.4 1.5,.4 1.5,.4 1.5,.4 1.5,.4 1.5,.4 1.5,.4 1.5,.5 1.5,.5 1.5,.4 1.5,.5 1.5,.5 1.5,.6 1.5,.5 1.5,.5 1.5,.6 1.5,.6 1.5,.5 1.5,.6 1.5,.6 1.5,.6 1.5,.7 1.5,.6 1.5,.6 1.5,.7 1.5,.6 1.5,.7 1.5,.7 1.5,.7 1.5,.7 1.5,.7 1.5,.7 1.5,.7 1.5,.8 1.5,.7 1.5,.8 1.5,.7 1.5,.8 1.5,.7 1.5,.8 1.5,.8 1.5,.8 1.5,.8 1.5,.8 1.5,.8 1.5,.8 1.5,.8 1.5,.8 1.5,.9 1.5,.8 1.5,.8 1.5,.8 1.5,.9 1.5,.8 1.5,.9 1.5,.8 1.5,.9 1.5,.8 1.5,.9 1.5,.8 1.5,.9 1.5,.8 1.5,.9 1.5,.8 1.5,.9 1.5,.9 1.5,.8 1.5,.9 1.5,.8 1.5,.9 1.5,.8 1.5,.9 1.5,.8 1.5,.9 1.5,.8 1.5,.9 1.5,.8 1.5,.9 1.5,.8 1.5,.9 1.5,.8 1.5,.8 1.5,.9 1.5,.8 1.5,.9 1.5,.8 1.5,.8 1.5,.8 1.5,.9 1.5,.8 1.5,.8 1.5,.8 1.5,.9 1.5,.8 1.5,.8 1.5,.8 1.5,.8 1.5,.8 1.5,.8 1.5,.8 1.5,.8 1.5,.8 1.5,.8 1.5,.7 1.5,.8 1.5,.8 1.5,.7 1.5,.8 1.5,.8 1.5,.7 1.5,.8 1.5,.7 1.5,.7 1.5,.8 1.5,.7 1.5,.7 1.5,.7 1.5,.7 1.5,.7 1.5,.7 1.5,.7 1.5,.7 1.5,.7 1.5,.6 1.5,.7 1.5,.7 1.5,.6 1.5,.6 1.5,.7 1.5,.6 1.5,.6 1.5,.7 1.5,.6 1.5,.6 1.5,.6 1.5,.6 1.5,.5 1.5,.6 1.5,.6 1.5,.5 1.5,.6 1.5,.5 1.5,.6 1.5,.5 1.5,.5 1.5,.6 1.5,.5 1.5,.5 1.5,.5 1.5,.5 1.5,.4 1.5,.5 1.5,.5 1.5,.4 1.5,.5 1.5,.4 1.5,.5 1.5,.4 1.5,.4 1.5,.4 1.5,.4 1.5,.4 1.5,.4 1.5,.4 1.5,.4 1.5,.4 1.5,.3 1.5,.4 1.5,.3 1.5,.3 1.5,.4 1.5,.3 1.5,.3 1.5,.3 1.5,.3 1.5,.3 1.5,.3 1.5,.3 1.5,.3 1.5,.2 1.5,.3 1.5,.3 1.5,.2 1.5,.3 1.5,.2 1.5,.3 1.5,.2 1.5,.2 1.5,.3 1.5,.2 1.5,.2 1.5,.2 1.5,.3 1.5,.2 1.5,.2 1.5,.2 1.5,.2 1.5,.2 1.5,.2 1.5,.1 1.5,.2 1.5,.2 1.5,.2 1.5,.1 1.5,.2 1.5,.2 1.5,.1 1.5,.2 1.5,.2 1.5,.1 1.5,.1 1.5,.2 1.5,.1 1.5,.2 1.5,.1 1.5,.1 1.5,.2 1.5,.1 1.5,.1 1.5,.1 1.5,.2 1.5,.1 1.5,.1 1.5,.1 1.5,.1 1.5,.1 1.5,.1 1.5,.1 1.5,.1 1.5,.1 1.5,.1 1.5,.1 1.5,.1 1.5,.1 1.5,0 1.5,.1 1.5,.1 1.5,.1 1.5,.1 1.5,0 1.5,.1 1.5,.1 1.5,0 1.5,.1 1.5,.1 1.5,0 1.5,.1 1.5,.1 1.5,0 1.5,.1 1.5,0 1.5,.1 1.5,0 1.5,.1 1.5,0 1.5,.1 1.5,0 1.5,.1 1.5,0 1.5,.1 1.5,0 1.5,0 1.5,.1 1.5,0 1.5,.1 1.5,0 1.5,0 1.5,.1 1.5,0 1.5,0 1.5,.1 1.5,0 1.5,0 1.5,.1 1.5,0 1.5,0 1.5,0 1.5,.1 1.5,0 1.5,0 1.5,0 1.5,.1 1.5,0 1.5,0 1.5,0 1.5,0 1.5,.1 1.5,0 1.5,0 1.5,0 1.5,0 1.5,0 1.5,.1 1.5,0 1.5,0 1.5,0 1.5,0 1.5,0 1.5,0 1.5,.1 1.5,0 1.5,0 1.5,0 1.5,0 1.5,0 1.5,0 1.5,0 1.5,0 1.5,.1 1.5,0 1.5,0 1.5,0 1.5,0 1.5,0 1.5,0 1.5,0 1.5,0 1.5,0 1.5,0 1.5,0 1.5,.1 1.5,0 1.5,0 1.5,0 1.5,0 1.5,0 1.5,0 1.5,0 1.5,0 1.5,0 1.5,0 1.5,0 1.5,0 1.5,0 1.5,0 1.5,0 1.5,0 1.5,0 1.5,0 1.5,0 1.5,.1 1.5,0 1.5,0 1.5,0 1.5,0 1.5,0 1.5,0 1.5,0 1.5,0 1.5,0 1.5,0 1.5,0 1.5,0 1.5,0 1.5,0 1.5,0 1.5,0 1.5,0 1.5,0 1.5,0 1.5,0 1.5,0 1.5,0 1.5,0 1.5,0 1.5,0 1.5,0 1.5,0 1.5,0 1.5,0 1.5,0 1.5,0 1.5,0 1.5,0 1.5,0 1.5,0 1.5,0 1.5,0 1.5,0 1.5,0 1.5,0 1.5,0 1.5,0 1.5,0 1.5,0 1.5,0 1.5,0 1.5,0 1.5,0 1.5,0" fill="none" stroke="#0000ff" stroke-width="3.0" stroke-linejoin="round" stroke-linecap="round" />
<path d="M540,1596.1l1.5,0 1.5,0 1.5,0 1.5,0 1.5,0 1.5,0 1.5,0 1.5,0 1.5,0 1.5,0 1.5,0 1.5,0 1.5,0 1.5-.1 1.5,0 1.5,0 1.5,0 1.5,0 1.5,0 1.5,0 1.5,0 1.5,0 1.5,0 1.5,0 1.5,0 1.5,0 1.5,0 1.5,0 1.5,0 1.5,0 1.5,0 1.5,0 1.5,0 1.5,0 1.5-.1 1.5,0 1.5,0 1.5,0 1.5,0 1.5,0 1.5,0 1.5,0 1.5,0 1.5,0 1.5,0 1.5,0 1.5,0 1.5,0 1.5,0 1.5,0 1.5,0 1.5,0 1.5-.1 1.5,0 1.5,0 1.5,0 1.5,0 1.5,0 1.5,0 1.5,0 1.5,0 1.5,0 1.5,0 1.5,0 1.5,0 1.5,0 1.5,0 1.5-.1 1.5,0 1.5,0 1.5,0 1.5,0 1.5,0 1.5,0 1.5,0 1.5,0 1.5,0 1.5,0 1.5,0 1.5,0 1.5,0 1.5-.1 1.5,0 1.5,0 1.5,0 1.5,0 1.5,0 1.5,0 1.5,0 1.5,0 1.5,0 1.5,0 1.5,0 1.5-.1 1.5,0 1.5,0 1.5,0 1.5,0 1.5,0 1.5,0 1.5,0 1.5,0 1.5,0 1.5,0 1.5-.1 1.5,0 1.5,0 1.5,0 1.5,0 1.5,0 1.5,0 1.5,0 1.5,0 1.5,0 1.5-.1 1.5,0 1.5,0 1.5,0 1.5,0 1.5,0 1.5,0 1.5,0 1.5-.1 1.5,0 1.5,0 1.5,0 1.5,0 1.5,0 1.5,0 1.5,0 1.5-.1 1.5,0 1.5,0 1.5,0 1.5,0 1.5,0 1.5,0 1.5-.1 1.5,0 1.5,0 1.5,0 1.5,0 1.5,0 1.5,0 1.5-.1 1.5,0 1.5,0 1.5,0 1.5,0 1.5,0 1.5-.1 1.5,0 1.5,0 1.5,0 1.5,0 1.5,0 1.5,0 1.5,0 1.5-.1 1.5,0 1.5,0 1.5,0 1.5,0 1.5,0 1.5,0 1.5,0 1.5,0 1.5-.1 1.5,0 1.5,0 1.5,0 1.5,0 1.5,0 1.5,0 1.5,0 1.5,0 1.5,0 1.5,0 1.5-.1 1.5,0 1.5,0 1.5,0 1.5,0 1.5,0 1.5,0 1.5,0 1.5,0 1.5,0 1.5,0 1.5,0 1.5,0 1.5,0 1.5-.1 1.5,0 1.5,0 1.5,0 1.5,0 1.5,0 1.5,0 1.5,0 1.5,0 1.5,0 1.5,0 1.5,0 1.5-.1 1.5,0 1.5,0 1.5,0 1.5,0 1.5,0 1.5,0 1.5,0 1.5,0 1.5,0 1.5-.1 1.5,0 1.5,0 1.5,0 1.5,0 1.5,0 1.5,0 1.5-.1 1.5,0 1.5,0 1.5,0 1.5,0 1.5,0 1.5-.1 1.5,0 1.5,0 1.5,0 1.5-.1 1.5,0 1.5,0 1.5,0 1.5-.1 1.5,0 1.5,0 1.5,0 1.5-.1 1.5,0 1.5,0 1.5-.1 1.5,0 1.5-.1 1.5,0 1.5,0 1.5-.1 1.5,0 1.5-.1 1.5,0 1.5-.1 1.5,0 1.5-.1 1.5,0 1.5-.1 1.5,0 1.5-.1 1.5-.1 1.5,0 1.5-.1 1.5-.1 1.5-.1 1.5,0 1.5-.1 1.5-.1 1.5-.1 1.5-.1 1.5-.1 1.5-.1 1.5-.1 1.5-.1 1.5-.2 1.5-.1 1.5-.1 1.5-.2 1.5-.1 1.5-.2 1.5-.2 1.5-.1 1.5-.2 1.5-.2 1.5-.2 1.5-.2 1.5-.3 1.5-.2 1.5-.3 1.5-.3 1.5-.3 1.5-.3 1.5-.3 1.5-.4 1.5-.3 1.5-.4 1.5-.5 1.5-.4 1.5-.5 1.5-.5 1.5-.5 1.5-.6 1.5-.6 1.5-.6 1.5-.7 1.5-.7 1.5-.8 1.5-.8 1.5-.9 1.5-.9 1.5-.9 1.5-1 1.5-1.1 1.5-1.1 1.5-1.2 1.5-1.3 1.5-1.3 1.5-1.4 1.5-1.4 1.5-1.6 1.5-1.6 1.5-1.7 1.5-1.8 1.5-1.9 1.5-1.9 1.5-2.1 1.5-2.1 1.5-2.3 1.5-2.3 1.5-2.5 1.5-2.5 1.5-2.7 1.5-2.8 1.5-2.8 1.5-3 1.5-3.1 1.5-3.2 1.5-3.4 1.5-3.4 1.5-3.5 1.5-3.7 1.5-3.8 1.5-3.9 1.5-3.9 1.5-4.1 1.5-4.2 1.5-4.3 1.5-4.4 1.5-4.5 1.5-4.6 1.5-4.7 1.5-4.7 1.5-4.9 1.5-4.9 1.5-4.9 1.5-5 1.5-5.1 1.5-5.1 1.5-5.1 1.5-5.2 1.5-5.2 1.5-5.1 1.5-5.2 1.5-5.1 1.5-5.2 1.5-5 1.5-5 1.5-5 1.5-4.8 1.5-4.7 1.5-4.7 1.5-4.5 1.5-4.3 1.5-4.2 1.5-4 1.5-3.8 1.5-3.6 1.5-3.3 1.5-3.1 1.5-2.9 1.5-2.6 1.5-2.3 1.5-1.9 1.5-1.7 1.5-1.4 1.5-1 1.5-.7 1.5-.4 1.5,0 1.5,.3 1.5,.5 1.5,.9 1.5,1 1.5,1.4 1.5,1.6 1.5,1.8 1.5,2.1 1.5,2.4 1.5,2.5 1.5,2.8 1.5,3 1.5,3.2 1.5,3.4 1.5,3.5 1.5,3.7 1.5,3.9 1.5,4.1 1.5,4.1 1.5,4.3 1.5,4.4 1.5,4.5 1.5,4.6 1.5,4.7 1.5,4.7 1.5,4.8 1.5,4.9 1.5,4.9 1.5,4.9 1.5,5 1.5,4.9 1.5,5 1.5,4.9 1.5,5 1.5,4.9 1.5,4.9 1.5,4.9 1.5,4.8 1.5,4.8 1.5,4.7 1.5,4.7 1.5,4.6 1.5,4.6 1.5,4.5 1.5,4.4 1.5,4.3 1.5,4.2 1.5,4.2 1.5,4 1.5,4 1.5,3.9 1.5,3.8 1.5,3.7 1.5,3.6 1.5,3.5 1.5,3.4 1.5,3.3 1.5,3.2 1.5,3.1 1.5,3 1.5,2.9 1.5,2.8 1.5,2.7 1.5,2.6 1.5,2.5 1.5,2.4 1.5,2.4 1.5,2.2 1.5,2.1 1.5,2.1 1.5,2 1.5,1.9 1.5,1.8 1.5,1.7 1.5,1.7 1.5,1.6 1.5,1.5 1.5,1.4 1.5,1.4 1.5,1.3 1.5,1.2 1.5,1.2 1.5,1.1 1.5,1.1 1.5,1 1.5,1 1.5,.9 1.5,.8 1.5,.8 1.5,.8 1.5,.7 1.5,.7 1.5,.7 1.5,.6 1.5,.6 1.5,.5 1.5,.5 1.5,.5 1.5,.5 1.5,.4 1.5,.4 1.5,.4 1.5,.4 1.5,.3 1.5,.4 1.5,.3 1.5,.3 1.5,.3 1.5,.2 1.5,.3 1.5,.2 1.5,.3 1.5,.2 1.5,.2 1.5,.2 1.5,.2 1.5,.2 1.5,.1 1.5,.2 1.5,.2 1.5,.1 1.5,.2 1.5,.1 1.5,.1 1.5,.2 1.5,.1 1.5,.1 1.5,.1 1.5,.1 1.5,.1 1.5,.1 1.5,.1 1.5,.1 1.5,.1 1.5,.1 1.5,.1 1.5,.1 1.5,.1 1.5,0 1.5,.1 1.5,.1 1.5,.1 1.5,0 1.5,.1 1.5,.1 1.5,0 1.5,.1 1.5,.1 1.5,0 1.5,.1 1.5,.1 1.5,0 1.5,.1 1.5,0 1.5,.1 1.5,0 1.5,.1 1.5,0 1.5,.1 1.5,.1 1.5,0 1.5,0 1.5,.1 1.5,0 1.5,.1 1.5,0 1.5,.1 1.5,0 1.5,.1 1.5,0 1.5,0 1.5,.1 1.5,0 1.5,.1 1.5,0 1.5,0 1.5,.1 1.5,0 1.5,0 1.5,.1 1.5,0 1.5,0 1.5,.1 1.5,0 1.5,0 1.5,.1 1.5,0 1.5,0 1.5,.1 1.5,0 1.5,0 1.5,.1 1.5,0 1.5,0 1.5,0 1.5,.1 1.5,0 1.5,0 1.5,0 1.5,.1 1.5,0 1.5,0 1.5,0 1.5,.1 1.5,0 1.5,0 1.5,0 1.5,.1 1.5,0 1.5,0 1.5,0 1.5,0 1.5,.1 1.5,0 1.5,0 1.5,0 1.5,.1 1.5,0 1.5,0 1.5,0 1.5,0 1.5,0 1.5,.1 1.5,0 1.5,0 1.5,0 1.5,0 1.5,.1 1.5,0 1.5,0 1.5,0 1.5,0 1.5,0 1.5,.1 1.5,0 1.5,0 1.5,0 1.5,0 1.5,0 1.5,.1 1.5,0 1.5,0 1.5,0 1.5,0 1.5,0 1.5,0 1.5,.1 1.5,0 1.5,0 1.5,0 1.5,0 1.5,0 1.5,0 1.5,0 1.5,.1 1.5,0 1.5,0 1.5,0 1.5,0 1.5,0 1.5,0 1.5,0 1.5,.1 1.5,0 1.5,0 1.5,0 1.5,0 1.5,0 1.5,0 1.5,0 1.5,0 1.5,.1 1.5,0 1.5,0 1.5,0 1.5,0 1.5,0 1.5,0 1.5,0 1.5,0 1.5,0 1.5,0 1.5,.1 1.5,0 1.5,0 1.5,0 1.5,0 1.5,0 1.5,0 1.5,0 1.5,0 1.5,0 1.5,0 1.5,.1 1.5,0 1.5,0 1.5,0 1.5,0 1.5,0 1.5,0 1.5,0 1.5,0 1.5,0 1.5,0 1.5,0 1.5,0 1.5,.1" fill="none" stroke="#0000ff" stroke-width="3.0" stroke-linejoin="round" stroke-linecap="round" />
<path d="M540,1597l1.5-.1 1.5,0 1.5-.1 1.5-.1 1.5,0 1.5-.1 1.5-.1 1.5-.1 1.5-.1 1.5,0 1.5-.1 1.5-.1 1.5-.1 1.5-.2 1.5-.1 1.5-.1 1.5-.1 1.5-.1 1.5-.2 1.5-.1 1.5-.1 1.5-.2 1.5-.1 1.5-.1 1.5-.2 1.5-.1 1.5-.2 1.5-.1 1.5-.2 1.5-.1 1.5-.2 1.5-.2 1.5-.1 1.5-.2 1.5-.2 1.5-.1 1.5-.2 1.5-.2 1.5-.1 1.5-.2 1.5-.2 1.5-.2 1.5-.2 1.5-.2 1.5-.2 1.5-.2 1.5-.2 1.5-.2 1.5-.3 1.5-.2 1.5-.3 1.5-.2 1.5-.3 1.5-.2 1.5-.3 1.5-.3 1.5-.3 1.5-.2 1.5-.3 1.5-.3 1.5-.3 1.5-.3 1.5-.3 1.5-.3 1.5-.4 1.5-.3 1.5-.3 1.5-.3 1.5-.4 1.5-.3 1.5-.3 1.5-.4 1.5-.3 1.5-.4 1.5-.3 1.5-.4 1.5-.3 1.5-.4 1.5-.3 1.5-.4 1.5-.4 1.5-.3 1.5-.4 1.5-.3 1.5-.4 1.5-.4 1.5-.3 1.5-.4 1.5-.4 1.5-.3 1.5-.4 1.5-.4 1.5-.4 1.5-.3 1.5-.4 1.5-.4 1.5-.3 1.5-.4 1.5-.4 1.5-.3 1.5-.4 1.5-.4 1.5-.4 1.5-.3 1.5-.4 1.5-.4 1.5-.4 1.5-.4 1.5-.4 1.5-.3 1.5-.4 1.5-.4 1.5-.4 1.5-.4 1.5-.4 1.5-.4 1.5-.5 1.5-.4 1.5-.4 1.5-.4 1.5-.4 1.5-.5 1.5-.4 1.5-.4 1.5-.5 1.5-.4 1.5-.5 1.5-.4 1.5-.5 1.5-.4 1.5-.5 1.5-.4 1.5-.5 1.5-.5 1.5-.5 1.5-.4 1.5-.5 1.5-.5 1.5-.5 1.5-.5 1.5-.5 1.5-.6 1.5-.5 1.5-.5 1.5-.5 1.5-.6 1.5-.5 1.5-.6 1.5-.5 1.5-.6 1.5-.6 1.5-.6 1.5-.6 1.5-.7 1.5-.6 1.5-.6 1.5-.7 1.5-.7 1.5-.6 1.5-.7 1.5-.7 1.5-.7 1.5-.7 1.5-.7 1.5-.7 1.5-.7 1.5-.7 1.5-.7 1.5-.8 1.5-.7 1.5-.7 1.5-.8 1.5-.7 1.5-.7 1.5-.7 1.5-.8 1.5-.7 1.5-.8 1.5-.7 1.5-.8 1.5-.7 1.5-.8 1.5-.8 1.5-.8 1.5-.8 1.5-.8 1.5-.8 1.5-.8 1.5-.8 1.5-.8 1.5-.8 1.5-.9 1.5-.8 1.5-.8 1.5-.8 1.5-.8 1.5-.8 1.5-.8 1.5-.8 1.5-.8 1.5-.8 1.5-.8 1.5-.7 1.5-.8 1.5-.7 1.5-.8 1.5-.7 1.5-.7 1.5-.7 1.5-.7 1.5-.7 1.5-.7 1.5-.7 1.5-.7 1.5-.7 1.5-.7 1.5-.7 1.5-.7 1.5-.7 1.5-.6 1.5-.7 1.5-.7 1.5-.6 1.5-.7 1.5-.6 1.5-.6 1.5-.7 1.5-.6 1.5-.6 1.5-.6 1.5-.6 1.5-.6 1.5-.5 1.5-.6 1.5-.5 1.5-.6 1.5-.5 1.5-.5 1.5-.5 1.5-.5 1.5-.5 1.5-.5 1.5-.4 1.5-.5 1.5-.5 1.5-.4 1.5-.5 1.5-.4 1.5-.4 1.5-.5 1.5-.4 1.5-.4 1.5-.4 1.5-.4 1.5-.4 1.5-.4 1.5-.4 1.5-.4 1.5-.4 1.5-.4 1.5-.3 1.5-.4 1.5-.4 1.5-.3 1.5-.4 1.5-.4 1.5-.3 1.5-.3 1.5-.4 1.5-.3 1.5-.3 1.5-.3 1.5-.3 1.5-.3 1.5-.3 1.5-.3 1.5-.3 1.5-.2 1.5-.3 1.5-.2 1.5-.3 1.5-.2 1.5-.3 1.5-.3 1.5-.2 1.5-.3 1.5-.3 1.5-.2 1.5-.3 1.5-.3 1.5-.3 1.5-.3 1.5-.3 1.5-.4 1.5-.3 1.5-.4 1.5-.4 1.5-.4 1.5-.4 1.5-.4 1.5-.5 1.5-.5 1.5-.5 1.5-.5 1.5-.5 1.5-.6 1.5-.6 1.5-.6 1.5-.7 1.5-.7 1.5-.7 1.5-.7 1.5-.8 1.5-.9 1.5-.8 1.5-1 1.5-1 1.5-1 1.5-1.2 1.5-1.2 1.5-1.5 1.5-1.5 1.5-1.8 1.5-1.9 1.5-2.1 1.5-2.3 1.5-2.3 1.5-2.5 1.5-2.5 1.5-2.6 1.5-2.6 1.5-2.6 1.5-2.6 1.5-2.6 1.5-2.6 1.5-2.6 1.5-2.5 1.5-2.6 1.5-2.6 1.5-2.7 1.5-2.6 1.5-2.7 1.5-2.8 1.5-2.8 1.5-2.8 1.5-2.9 1.5-3 1.5-3 1.5-3.1 1.5-3.2 1.5-3.3 1.5-3.4 1.5-3.5 1.5-3.7 1.5-3.8 1.5-3.9 1.5-4.1 1.5-4.1 1.5-4.3 1.5-4.3 1.5-4.4 1.5-4.3 1.5-4.4 1.5-4.4 1.5-4.3 1.5-4.3 1.5-4.3 1.5-4.3 1.5-4.3 1.5-4.1 1.5-4.1 1.5-3.9 1.5-3.5 1.5-3.3 1.5-3 1.5-2.6 1.5-2.3 1.5-2 1.5-1.8 1.5-1.6 1.5-1.4 1.5-1.1 1.5-.9 1.5-.5 1.5-.3 1.5,0 1.5,.3 1.5,.6 1.5,.9 1.5,1 1.5,1.3 1.5,1.5 1.5,1.6 1.5,1.8 1.5,2.1 1.5,2.3 1.5,2.7 1.5,2.9 1.5,3.3 1.5,3.5 1.5,3.7 1.5,3.8 1.5,3.9 1.5,4 1.5,4 1.5,4.1 1.5,4.1 1.5,4.3 1.5,4.2 1.5,4.4 1.5,4.5 1.5,4.5 1.5,4.5 1.5,4.7 1.5,4.7 1.5,4.9 1.5,5 1.5,5.2 1.5,5.5 1.5,5.7 1.5,6.1 1.5,6.5 1.5,6.8 1.5,7.2 1.5,7.3 1.5,7.5 1.5,7.5 1.5,7.4 1.5,7.4 1.5,7.2 1.5,7 1.5,6.8 1.5,6.5 1.5,6.1 1.5,5.6 1.5,5.2 1.5,4.8 1.5,4.3 1.5,3.9 1.5,3.7 1.5,3.4 1.5,3.2 1.5,3.1 1.5,2.9 1.5,2.8 1.5,2.7 1.5,2.7 1.5,2.6 1.5,2.5 1.5,2.6 1.5,2.5 1.5,2.5 1.5,2.5 1.5,2.5 1.5,2.4 1.5,2.4 1.5,2.4 1.5,2.3 1.5,2.3 1.5,2.2 1.5,2.2 1.5,2.1 1.5,2.2 1.5,2 1.5,2.1 1.5,2 1.5,2 1.5,1.9 1.5,2 1.5,1.9 1.5,1.9 1.5,1.8 1.5,1.8 1.5,1.7 1.5,1.7 1.5,1.6 1.5,1.6 1.5,1.5 1.5,1.3 1.5,1.4 1.5,1.2 1.5,1.2 1.5,1.1 1.5,1.1 1.5,1 1.5,1 1.5,.9 1.5,.8 1.5,.7 1.5,.7 1.5,.6 1.5,.5 1.5,.5 1.5,.5 1.5,.4 1.5,.5 1.5,.4 1.5,.4 1.5,.3 1.5,.4 1.5,.3 1.5,.4 1.5,.3 1.5,.3 1.5,.3 1.5,.3 1.5,.3 1.5,.2 1.5,.3 1.5,.2 1.5,.3 1.5,.2 1.5,.2 1.5,.2 1.5,.2 1.5,.2 1.5,.2 1.5,.2 1.5,.1 1.5,.2 1.5,.1 1.5,.2 1.5,.1 1.5,.2 1.5,.1 1.5,.1 1.5,.2 1.5,.1 1.5,.1 1.5,.1 1.5,.2 1.5,.1 1.5,.1 1.5,.1 1.5,.1 1.5,.1 1.5,.1 1.5,.1 1.5,.1 1.5,.1 1.5,0 1.5,.1 1.5,.1 1.5,.1 1.5,.1 1.5,0 1.5,.1 1.5,.1 1.5,.1 1.5,0 1.5,.1 1.5,.1 1.5,.1 1.5,0 1.5,.1 1.5,.1 1.5,0 1.5,.1 1.5,.1 1.5,0 1.5,.1 1.5,0 1.5,.1 1.5,.1 1.5,0 1.5,.1 1.5,0 1.5,.1 1.5,.1 1.5,0 1.5,.1 1.5,0 1.5,.1 1.5,0 1.5,.1 1.5,0 1.5,0 1.5,.1 1.5,0 1.5,.1 1.5,0 1.5,0 1.5,.1 1.5,0 1.5,0 1.5,.1 1.5,0 1.5,0 1.5,.1 1.5,0 1.5,0 1.5,0 1.5,.1 1.5,0 1.5,0 1.5,0 1.5,.1 1.5,0 1.5,0 1.5,0 1.5,.1 1.5,0 1.5,0 1.5,0 1.5,0 1.5,.1 1.5,0 1.5,0 1.5,0 1.5,0 1.5,.1 1.5,0 1.5,0 1.5,0 1.5,0 1.5,.1 1.5,0 1.5,0 1.5,0 1.5,0 1.5,0 1.5,.1 1.5,0 1.5,0 1.5,0 1.5,0 1.5,0 1.5,0 1.5,.1 1.5,0 1.5,0 1.5,0 1.5,0 1.5,0 1.5,0 1.5,0 1.5,.1 1.5,0 1.5,0 1.5,0 1.5,0 1.5,0 1.5,0 1.5,0 1.5,.1 1.5,0 1.5,0 1.5,0 1.5,0 1.5,0 1.5,0 1.5,0 1.5,.1 1.5,0 1.5,0 1.5,0 1.5,0 1.5,0 1.5,0 1.5,0 1.5,0 1.5,0 1.5,.1 1.5,0 1.5,0 1.5,0 1.5,0 1.5,0 1.5,0 1.5,0 1.5,0 1.5,0 1.5,.1 1.5,0 1.5,0 1.5,0 1.5,0 1.5,0 1.5,0 1.5,0 1.5,0 1.5,0 1.5,0 1.5,0 1.5,0 1.5,.1 1.5,0 1.5,0 1.5,0 1.5,0 1.5,0 1.5,0 1.5,0 1.5,0" fill="none" stroke="#ff0000" stroke-width="3.2" stroke-linejoin="round" stroke-linecap="round" />
<path d="M148.2,2095.5a3.2,3.2 0 1,0 6.4,0a3.2,3.2 0 1,0 -6.4,0M151.5,2096.4a3.2,3.2 0 1,0 6.4,0a3.2,3.2 0 1,0 -6.4,0M155.6,2096.7a3.2,3.2 0 1,0 6.4,0a3.2,3.2 0 1,0 -6.4,0M158.3,2097.5a3.2,3.2 0 1,0 6.4,0a3.2,3.2 0 1,0 -6.4,0M162.3,2097.7a3.2,3.2 0 1,0 6.4,0a3.2,3.2 0 1,0 -6.4,0M166,2097.3a3.2,3.2 0 1,0 6.4,0a3.2,3.2 0 1,0 -6.4,0M169.3,2097.3a3.2,3.2 0 1,0 6.4,0a3.2,3.2 0 1,0 -6.4,0M172,2095.7a3.2,3.2 0 1,0 6.4,0a3.2,3.2 0 1,0 -6.4,0M175.7,2094.2a3.2,3.2 0 1,0 6.4,0a3.2,3.2 0 1,0 -6.4,0M179.4,2096.3a3.2,3.2 0 1,0 6.4,0a3.2,3.2 0 1,0 -6.4,0M182.3,2095.8a3.2,3.2 0 1,0 6.4,0a3.2,3.2 0 1,0 -6.4,0M186.5,2096.2a3.2,3.2 0 1,0 6.4,0a3.2,3.2 0 1,0 -6.4,0M190.3,2096.6a3.2,3.2 0 1,0 6.4,0a3.2,3.2 0 1,0 -6.4,0M193,2095.4a3.2,3.2 0 1,0 6.4,0a3.2,3.2 0 1,0 -6.4,0M197.8,2095.6a3.2,3.2 0 1,0 6.4,0a3.2,3.2 0 1,0 -6.4,0M200.1,2096.9a3.2,3.2 0 1,0 6.4,0a3.2,3.2 0 1,0 -6.4,0M203.7,2097.2a3.2,3.2 0 1,0 6.4,0a3.2,3.2 0 1,0 -6.4,0M207.2,2096.1a3.2,3.2 0 1,0 6.4,0a3.2,3.2 0 1,0 -6.4,0M210.4,2097.6a3.2,3.2 0 1,0 6.4,0a3.2,3.2 0 1,0 -6.4,0M214.5,2096.7a3.2,3.2 0 1,0 6.4,0a3.2,3.2 0 1,0 -6.4,0M217.8,2095.7a3.2,3.2 0 1,0 6.4,0a3.2,3.2 0 1,0 -6.4,0M222.2,2097.1a3.2,3.2 0 1,0 6.4,0a3.2,3.2 0 1,0 -6.4,0M225.1,2099.4a3.2,3.2 0 1,0 6.4,0a3.2,3.2 0 1,0 -6.4,0M228.6,2096.1a3.2,3.2 0 1,0 6.4,0a3.2,3.2 0 1,0 -6.4,0M231.7,2098.5a3.2,3.2 0 1,0 6.4,0a3.2,3.2 0 1,0 -6.4,0M234.6,2098.8a3.2,3.2 0 1,0 6.4,0a3.2,3.2 0 1,0 -6.4,0M238.8,2098.9a3.2,3.2 0 1,0 6.4,0a3.2,3.2 0 1,0 -6.4,0M241.9,2095.9a3.2,3.2 0 1,0 6.4,0a3.2,3.2 0 1,0 -6.4,0M246.3,2099.6a3.2,3.2 0 1,0 6.4,0a3.2,3.2 0 1,0 -6.4,0M249.3,2097.2a3.2,3.2 0 1,0 6.4,0a3.2,3.2 0 1,0 -6.4,0M253.7,2096.7a3.2,3.2 0 1,0 6.4,0a3.2,3.2 0 1,0 -6.4,0M256.7,2096.7a3.2,3.2 0 1,0 6.4,0a3.2,3.2 0 1,0 -6.4,0M260.2,2097.8a3.2,3.2 0 1,0 6.4,0a3.2,3.2 0 1,0 -6.4,0M263.4,2097.1a3.2,3.2 0 1,0 6.4,0a3.2,3.2 0 1,0 -6.4,0M266.9,2096.8a3.2,3.2 0 1,0 6.4,0a3.2,3.2 0 1,0 -6.4,0M270.6,2098.7a3.2,3.2 0 1,0 6.4,0a3.2,3.2 0 1,0 -6.4,0M274.3,2096.1a3.2,3.2 0 1,0 6.4,0a3.2,3.2 0 1,0 -6.4,0M276.9,2095.6a3.2,3.2 0 1,0 6.4,0a3.2,3.2 0 1,0 -6.4,0M281.1,2098a3.2,3.2 0 1,0 6.4,0a3.2,3.2 0 1,0 -6.4,0M285.7,2097.9a3.2,3.2 0 1,0 6.4,0a3.2,3.2 0 1,0 -6.4,0M287.8,2098.4a3.2,3.2 0 1,0 6.4,0a3.2,3.2 0 1,0 -6.4,0M291.2,2095.6a3.2,3.2 0 1,0 6.4,0a3.2,3.2 0 1,0 -6.4,0M294.4,2098.4a3.2,3.2 0 1,0 6.4,0a3.2,3.2 0 1,0 -6.4,0M297.5,2097.6a3.2,3.2 0 1,0 6.4,0a3.2,3.2 0 1,0 -6.4,0M302.4,2099.3a3.2,3.2 0 1,0 6.4,0a3.2,3.2 0 1,0 -6.4,0M305.3,2095.4a3.2,3.2 0 1,0 6.4,0a3.2,3.2 0 1,0 -6.4,0M309,2097.3a3.2,3.2 0 1,0 6.4,0a3.2,3.2 0 1,0 -6.4,0M313.3,2096.6a3.2,3.2 0 1,0 6.4,0a3.2,3.2 0 1,0 -6.4,0M317.1,2094.9a3.2,3.2 0 1,0 6.4,0a3.2,3.2 0 1,0 -6.4,0M318.8,2096.1a3.2,3.2 0 1,0 6.4,0a3.2,3.2 0 1,0 -6.4,0M323.4,2098.5a3.2,3.2 0 1,0 6.4,0a3.2,3.2 0 1,0 -6.4,0M326.6,2096.4a3.2,3.2 0 1,0 6.4,0a3.2,3.2 0 1,0 -6.4,0M330,2096.1a3.2,3.2 0 1,0 6.4,0a3.2,3.2 0 1,0 -6.4,0M333.6,2098.1a3.2,3.2 0 1,0 6.4,0a3.2,3.2 0 1,0 -6.4,0M336.8,2098.3a3.2,3.2 0 1,0 6.4,0a3.2,3.2 0 1,0 -6.4,0M341.1,2098.3a3.2,3.2 0 1,0 6.4,0a3.2,3.2 0 1,0 -6.4,0M344.1,2096a3.2,3.2 0 1,0 6.4,0a3.2,3.2 0 1,0 -6.4,0M347.5,2096.9a3.2,3.2 0 1,0 6.4,0a3.2,3.2 0 1,0 -6.4,0M351.5,2098.3a3.2,3.2 0 1,0 6.4,0a3.2,3.2 0 1,0 -6.4,0M354.8,2096.1a3.2,3.2 0 1,0 6.4,0a3.2,3.2 0 1,0 -6.4,0M358,2096a3.2,3.2 0 1,0 6.4,0a3.2,3.2 0 1,0 -6.4,0M361.5,2098.1a3.2,3.2 0 1,0 6.4,0a3.2,3.2 0 1,0 -6.4,0M365.7,2099a3.2,3.2 0 1,0 6.4,0a3.2,3.2 0 1,0 -6.4,0M368.6,2095.5a3.2,3.2 0 1,0 6.4,0a3.2,3.2 0 1,0 -6.4,0M371.8,2093.6a3.2,3.2 0 1,0 6.4,0a3.2,3.2 0 1,0 -6.4,0M374.9,2095.1a3.2,3.2 0 1,0 6.4,0a3.2,3.2 0 1,0 -6.4,0M378.6,2095.7a3.2,3.2 0 1,0 6.4,0a3.2,3.2 0 1,0 -6.4,0M381.8,2096.8a3.2,3.2 0 1,0 6.4,0a3.2,3.2 0 1,0 -6.4,0M385.9,2097.8a3.2,3.2 0 1,0 6.4,0a3.2,3.2 0 1,0 -6.4,0M389.4,2096.8a3.2,3.2 0 1,0 6.4,0a3.2,3.2 0 1,0 -6.4,0M391.7,2096.1a3.2,3.2 0 1,0 6.4,0a3.2,3.2 0 1,0 -6.4,0M396.3,2097.2a3.2,3.2 0 1,0 6.4,0a3.2,3.2 0 1,0 -6.4,0M400.1,2095.7a3.2,3.2 0 1,0 6.4,0a3.2,3.2 0 1,0 -6.4,0M403.4,2096.9a3.2,3.2 0 1,0 6.4,0a3.2,3.2 0 1,0 -6.4,0M406.3,2096.2a3.2,3.2 0 1,0 6.4,0a3.2,3.2 0 1,0 -6.4,0M411,2100.5a3.2,3.2 0 1,0 6.4,0a3.2,3.2 0 1,0 -6.4,0M413.4,2098.1a3.2,3.2 0 1,0 6.4,0a3.2,3.2 0 1,0 -6.4,0M416.7,2095.9a3.2,3.2 0 1,0 6.4,0a3.2,3.2 0 1,0 -6.4,0M420.2,2095.7a3.2,3.2 0 1,0 6.4,0a3.2,3.2 0 1,0 -6.4,0M424.3,2096.4a3.2,3.2 0 1,0 6.4,0a3.2,3.2 0 1,0 -6.4,0M428.3,2094.9a3.2,3.2 0 1,0 6.4,0a3.2,3.2 0 1,0 -6.4,0M431.9,2096.1a3.2,3.2 0 1,0 6.4,0a3.2,3.2 0 1,0 -6.4,0M434.9,2096a3.2,3.2 0 1,0 6.4,0a3.2,3.2 0 1,0 -6.4,0M437.7,2098.1a3.2,3.2 0 1,0 6.4,0a3.2,3.2 0 1,0 -6.4,0M441.5,2096.4a3.2,3.2 0 1,0 6.4,0a3.2,3.2 0 1,0 -6.4,0M444.8,2096a3.2,3.2 0 1,0 6.4,0a3.2,3.2 0 1,0 -6.4,0M448.7,2095.3a3.2,3.2 0 1,0 6.4,0a3.2,3.2 0 1,0 -6.4,0M451.4,2095.5a3.2,3.2 0 1,0 6.4,0a3.2,3.2 0 1,0 -6.4,0M455.9,2096.9a3.2,3.2 0 1,0 6.4,0a3.2,3.2 0 1,0 -6.4,0M459.6,2096.7a3.2,3.2 0 1,0 6.4,0a3.2,3.2 0 1,0 -6.4,0M462.7,2098.5a3.2,3.2 0 1,0 6.4,0a3.2,3.2 0 1,0 -6.4,0M466.5,2096.2a3.2,3.2 0 1,0 6.4,0a3.2,3.2 0 1,0 -6.4,0M469.3,2098.4a3.2,3.2 0 1,0 6.4,0a3.2,3.2 0 1,0 -6.4,0M472.5,2097.3a3.2,3.2 0 1,0 6.4,0a3.2,3.2 0 1,0 -6.4,0M476.5,2097a3.2,3.2 0 1,0 6.4,0a3.2,3.2 0 1,0 -6.4,0M480.9,2094.4a3.2,3.2 0 1,0 6.4,0a3.2,3.2 0 1,0 -6.4,0M484.3,2095.3a3.2,3.2 0 1,0 6.4,0a3.2,3.2 0 1,0 -6.4,0M487.1,2098a3.2,3.2 0 1,0 6.4,0a3.2,3.2 0 1,0 -6.4,0M491.4,2098.8a3.2,3.2 0 1,0 6.4,0a3.2,3.2 0 1,0 -6.4,0M494.1,2097.3a3.2,3.2 0 1,0 6.4,0a3.2,3.2 0 1,0 -6.4,0M498.6,2098a3.2,3.2 0 1,0 6.4,0a3.2,3.2 0 1,0 -6.4,0M501.6,2096.5a3.2,3.2 0 1,0 6.4,0a3.2,3.2 0 1,0 -6.4,0M504.6,2096.5a3.2,3.2 0 1,0 6.4,0a3.2,3.2 0 1,0 -6.4,0M508.7,2096.1a3.2,3.2 0 1,0 6.4,0a3.2,3.2 0 1,0 -6.4,0M511.4,2098.3a3.2,3.2 0 1,0 6.4,0a3.2,3.2 0 1,0 -6.4,0M514.8,2097.4a3.2,3.2 0 1,0 6.4,0a3.2,3.2 0 1,0 -6.4,0M518,2096.7a3.2,3.2 0 1,0 6.4,0a3.2,3.2 0 1,0 -6.4,0M522.4,2096.6a3.2,3.2 0 1,0 6.4,0a3.2,3.2 0 1,0 -6.4,0M525.8,2097.7a3.2,3.2 0 1,0 6.4,0a3.2,3.2 0 1,0 -6.4,0M529.3,2097.4a3.2,3.2 0 1,0 6.4,0a3.2,3.2 0 1,0 -6.4,0M532.6,2095.9a3.2,3.2 0 1,0 6.4,0a3.2,3.2 0 1,0 -6.4,0M537.1,2096.5a3.2,3.2 0 1,0 6.4,0a3.2,3.2 0 1,0 -6.4,0M539.6,2092.7a3.2,3.2 0 1,0 6.4,0a3.2,3.2 0 1,0 -6.4,0M542.9,2092a3.2,3.2 0 1,0 6.4,0a3.2,3.2 0 1,0 -6.4,0M547.5,2095.8a3.2,3.2 0 1,0 6.4,0a3.2,3.2 0 1,0 -6.4,0M551,2094.6a3.2,3.2 0 1,0 6.4,0a3.2,3.2 0 1,0 -6.4,0M554,2091.7a3.2,3.2 0 1,0 6.4,0a3.2,3.2 0 1,0 -6.4,0M556.4,2093.4a3.2,3.2 0 1,0 6.4,0a3.2,3.2 0 1,0 -6.4,0M560.5,2089.2a3.2,3.2 0 1,0 6.4,0a3.2,3.2 0 1,0 -6.4,0M564.6,2090.3a3.2,3.2 0 1,0 6.4,0a3.2,3.2 0 1,0 -6.4,0M567.8,2086.1a3.2,3.2 0 1,0 6.4,0a3.2,3.2 0 1,0 -6.4,0M572.1,2095.1a3.2,3.2 0 1,0 6.4,0a3.2,3.2 0 1,0 -6.4,0M574.1,2087a3.2,3.2 0 1,0 6.4,0a3.2,3.2 0 1,0 -6.4,0M578.7,2093.7a3.2,3.2 0 1,0 6.4,0a3.2,3.2 0 1,0 -6.4,0M581.5,2089.7a3.2,3.2 0 1,0 6.4,0a3.2,3.2 0 1,0 -6.4,0M586,2089.3a3.2,3.2 0 1,0 6.4,0a3.2,3.2 0 1,0 -6.4,0M588.8,2091.3a3.2,3.2 0 1,0 6.4,0a3.2,3.2 0 1,0 -6.4,0M592.8,2092.5a3.2,3.2 0 1,0 6.4,0a3.2,3.2 0 1,0 -6.4,0M595.5,2093.4a3.2,3.2 0 1,0 6.4,0a3.2,3.2 0 1,0 -6.4,0M598.6,2096.4a3.2,3.2 0 1,0 6.4,0a3.2,3.2 0 1,0 -6.4,0M602.2,2092.6a3.2,3.2 0 1,0 6.4,0a3.2,3.2 0 1,0 -6.4,0M606,2093.9a3.2,3.2 0 1,0 6.4,0a3.2,3.2 0 1,0 -6.4,0M609.3,2089.9a3.2,3.2 0 1,0 6.4,0a3.2,3.2 0 1,0 -6.4,0M613.9,2093.2a3.2,3.2 0 1,0 6.4,0a3.2,3.2 0 1,0 -6.4,0M617.5,2091.5a3.2,3.2 0 1,0 6.4,0a3.2,3.2 0 1,0 -6.4,0M620.4,2089.7a3.2,3.2 0 1,0 6.4,0a3.2,3.2 0 1,0 -6.4,0M623.3,2090.5a3.2,3.2 0 1,0 6.4,0a3.2,3.2 0 1,0 -6.4,0M627.2,2090.3a3.2,3.2 0 1,0 6.4,0a3.2,3.2 0 1,0 -6.4,0M630.4,2090.7a3.2,3.2 0 1,0 6.4,0a3.2,3.2 0 1,0 -6.4,0M635.1,2091a3.2,3.2 0 1,0 6.4,0a3.2,3.2 0 1,0 -6.4,0M638,2088.4a3.2,3.2 0 1,0 6.4,0a3.2,3.2 0 1,0 -6.4,0M641.6,2087.6a3.2,3.2 0 1,0 6.4,0a3.2,3.2 0 1,0 -6.4,0M644.6,2091.2a3.2,3.2 0 1,0 6.4,0a3.2,3.2 0 1,0 -6.4,0M647.2,2084.6a3.2,3.2 0 1,0 6.4,0a3.2,3.2 0 1,0 -6.4,0M651.4,2087.2a3.2,3.2 0 1,0 6.4,0a3.2,3.2 0 1,0 -6.4,0M654.7,2092.6a3.2,3.2 0 1,0 6.4,0a3.2,3.2 0 1,0 -6.4,0M659,2081.3a3.2,3.2 0 1,0 6.4,0a3.2,3.2 0 1,0 -6.4,0M662.4,2086.3a3.2,3.2 0 1,0 6.4,0a3.2,3.2 0 1,0 -6.4,0M665.4,2089.6a3.2,3.2 0 1,0 6.4,0a3.2,3.2 0 1,0 -6.4,0M669.1,2083.3a3.2,3.2 0 1,0 6.4,0a3.2,3.2 0 1,0 -6.4,0M673.6,2094.1a3.2,3.2 0 1,0 6.4,0a3.2,3.2 0 1,0 -6.4,0M675.8,2080.3a3.2,3.2 0 1,0 6.4,0a3.2,3.2 0 1,0 -6.4,0M679.3,2090.5a3.2,3.2 0 1,0 6.4,0a3.2,3.2 0 1,0 -6.4,0M683.2,2090.5a3.2,3.2 0 1,0 6.4,0a3.2,3.2 0 1,0 -6.4,0M686.4,2088.5a3.2,3.2 0 1,0 6.4,0a3.2,3.2 0 1,0 -6.4,0M690.1,2085.2a3.2,3.2 0 1,0 6.4,0a3.2,3.2 0 1,0 -6.4,0M694.1,2086.4a3.2,3.2 0 1,0 6.4,0a3.2,3.2 0 1,0 -6.4,0M698.2,2082.7a3.2,3.2 0 1,0 6.4,0a3.2,3.2 0 1,0 -6.4,0M699.9,2086.8a3.2,3.2 0 1,0 6.4,0a3.2,3.2 0 1,0 -6.4,0M704.3,2081.3a3.2,3.2 0 1,0 6.4,0a3.2,3.2 0 1,0 -6.4,0M707.8,2083a3.2,3.2 0 1,0 6.4,0a3.2,3.2 0 1,0 -6.4,0M711.3,2085.8a3.2,3.2 0 1,0 6.4,0a3.2,3.2 0 1,0 -6.4,0M714.7,2079.7a3.2,3.2 0 1,0 6.4,0a3.2,3.2 0 1,0 -6.4,0M718.1,2081a3.2,3.2 0 1,0 6.4,0a3.2,3.2 0 1,0 -6.4,0M722.3,2081.7a3.2,3.2 0 1,0 6.4,0a3.2,3.2 0 1,0 -6.4,0M725.1,2077a3.2,3.2 0 1,0 6.4,0a3.2,3.2 0 1,0 -6.4,0M728.7,2082.8a3.2,3.2 0 1,0 6.4,0a3.2,3.2 0 1,0 -6.4,0M732.3,2079.9a3.2,3.2 0 1,0 6.4,0a3.2,3.2 0 1,0 -6.4,0M735.9,2074.3a3.2,3.2 0 1,0 6.4,0a3.2,3.2 0 1,0 -6.4,0M739.2,2077.3a3.2,3.2 0 1,0 6.4,0a3.2,3.2 0 1,0 -6.4,0M743.3,2074.6a3.2,3.2 0 1,0 6.4,0a3.2,3.2 0 1,0 -6.4,0M746.3,2074.1a3.2,3.2 0 1,0 6.4,0a3.2,3.2 0 1,0 -6.4,0M749.9,2075.2a3.2,3.2 0 1,0 6.4,0a3.2,3.2 0 1,0 -6.4,0M753.3,2072.4a3.2,3.2 0 1,0 6.4,0a3.2,3.2 0 1,0 -6.4,0M756.3,2075.9a3.2,3.2 0 1,0 6.4,0a3.2,3.2 0 1,0 -6.4,0M759.9,2070.8a3.2,3.2 0 1,0 6.4,0a3.2,3.2 0 1,0 -6.4,0M763.2,2074.3a3.2,3.2 0 1,0 6.4,0a3.2,3.2 0 1,0 -6.4,0M767.4,2070.8a3.2,3.2 0 1,0 6.4,0a3.2,3.2 0 1,0 -6.4,0M770.4,2072.3a3.2,3.2 0 1,0 6.4,0a3.2,3.2 0 1,0 -6.4,0M773.7,2067.8a3.2,3.2 0 1,0 6.4,0a3.2,3.2 0 1,0 -6.4,0M777.9,2066.9a3.2,3.2 0 1,0 6.4,0a3.2,3.2 0 1,0 -6.4,0M781.6,2064.3a3.2,3.2 0 1,0 6.4,0a3.2,3.2 0 1,0 -6.4,0M783.9,2067.9a3.2,3.2 0 1,0 6.4,0a3.2,3.2 0 1,0 -6.4,0M789.2,2067.9a3.2,3.2 0 1,0 6.4,0a3.2,3.2 0 1,0 -6.4,0M791.8,2070a3.2,3.2 0 1,0 6.4,0a3.2,3.2 0 1,0 -6.4,0M795.2,2066.9a3.2,3.2 0 1,0 6.4,0a3.2,3.2 0 1,0 -6.4,0M799.4,2063.2a3.2,3.2 0 1,0 6.4,0a3.2,3.2 0 1,0 -6.4,0M802.3,2061a3.2,3.2 0 1,0 6.4,0a3.2,3.2 0 1,0 -6.4,0M805.5,2061.5a3.2,3.2 0 1,0 6.4,0a3.2,3.2 0 1,0 -6.4,0M810.5,2059.3a3.2,3.2 0 1,0 6.4,0a3.2,3.2 0 1,0 -6.4,0M812.2,2062.1a3.2,3.2 0 1,0 6.4,0a3.2,3.2 0 1,0 -6.4,0M816.2,2059.6a3.2,3.2 0 1,0 6.4,0a3.2,3.2 0 1,0 -6.4,0M820.2,2053.7a3.2,3.2 0 1,0 6.4,0a3.2,3.2 0 1,0 -6.4,0M822.7,2052.8a3.2,3.2 0 1,0 6.4,0a3.2,3.2 0 1,0 -6.4,0M826.7,2056.8a3.2,3.2 0 1,0 6.4,0a3.2,3.2 0 1,0 -6.4,0M830.5,2052.6a3.2,3.2 0 1,0 6.4,0a3.2,3.2 0 1,0 -6.4,0M835.1,2049.7a3.2,3.2 0 1,0 6.4,0a3.2,3.2 0 1,0 -6.4,0M836.8,2051.9a3.2,3.2 0 1,0 6.4,0a3.2,3.2 0 1,0 -6.4,0M840.8,2046.2a3.2,3.2 0 1,0 6.4,0a3.2,3.2 0 1,0 -6.4,0M844.6,2044.9a3.2,3.2 0 1,0 6.4,0a3.2,3.2 0 1,0 -6.4,0M847.8,2042.9a3.2,3.2 0 1,0 6.4,0a3.2,3.2 0 1,0 -6.4,0M850.7,2037.4a3.2,3.2 0 1,0 6.4,0a3.2,3.2 0 1,0 -6.4,0M855,2043.1a3.2,3.2 0 1,0 6.4,0a3.2,3.2 0 1,0 -6.4,0M858.4,2036.1a3.2,3.2 0 1,0 6.4,0a3.2,3.2 0 1,0 -6.4,0M862,2036.2a3.2,3.2 0 1,0 6.4,0a3.2,3.2 0 1,0 -6.4,0M865.9,2034.3a3.2,3.2 0 1,0 6.4,0a3.2,3.2 0 1,0 -6.4,0M869.3,2036.6a3.2,3.2 0 1,0 6.4,0a3.2,3.2 0 1,0 -6.4,0M872.5,2033.1a3.2,3.2 0 1,0 6.4,0a3.2,3.2 0 1,0 -6.4,0M876,2031.9a3.2,3.2 0 1,0 6.4,0a3.2,3.2 0 1,0 -6.4,0M878.7,2026.1a3.2,3.2 0 1,0 6.4,0a3.2,3.2 0 1,0 -6.4,0M882.7,2028.9a3.2,3.2 0 1,0 6.4,0a3.2,3.2 0 1,0 -6.4,0M886.4,2023.9a3.2,3.2 0 1,0 6.4,0a3.2,3.2 0 1,0 -6.4,0M889.6,2027.3a3.2,3.2 0 1,0 6.4,0a3.2,3.2 0 1,0 -6.4,0M893.4,2026.1a3.2,3.2 0 1,0 6.4,0a3.2,3.2 0 1,0 -6.4,0M896.4,2023.8a3.2,3.2 0 1,0 6.4,0a3.2,3.2 0 1,0 -6.4,0M901.1,2027.9a3.2,3.2 0 1,0 6.4,0a3.2,3.2 0 1,0 -6.4,0M904.9,2022.7a3.2,3.2 0 1,0 6.4,0a3.2,3.2 0 1,0 -6.4,0M907.1,2021.6a3.2,3.2 0 1,0 6.4,0a3.2,3.2 0 1,0 -6.4,0M911,2019.2a3.2,3.2 0 1,0 6.4,0a3.2,3.2 0 1,0 -6.4,0M914.2,2017.1a3.2,3.2 0 1,0 6.4,0a3.2,3.2 0 1,0 -6.4,0M918.5,2018.9a3.2,3.2 0 1,0 6.4,0a3.2,3.2 0 1,0 -6.4,0M921.5,2018a3.2,3.2 0 1,0 6.4,0a3.2,3.2 0 1,0 -6.4,0M924.8,2010.5a3.2,3.2 0 1,0 6.4,0a3.2,3.2 0 1,0 -6.4,0M928.2,2015.4a3.2,3.2 0 1,0 6.4,0a3.2,3.2 0 1,0 -6.4,0M931.9,2012.7a3.2,3.2 0 1,0 6.4,0a3.2,3.2 0 1,0 -6.4,0M934.8,2012.6a3.2,3.2 0 1,0 6.4,0a3.2,3.2 0 1,0 -6.4,0M939.2,2010.1a3.2,3.2 0 1,0 6.4,0a3.2,3.2 0 1,0 -6.4,0M941.9,2004.4a3.2,3.2 0 1,0 6.4,0a3.2,3.2 0 1,0 -6.4,0M946.1,2003.3a3.2,3.2 0 1,0 6.4,0a3.2,3.2 0 1,0 -6.4,0M949.4,2009.9a3.2,3.2 0 1,0 6.4,0a3.2,3.2 0 1,0 -6.4,0M953.4,2004.6a3.2,3.2 0 1,0 6.4,0a3.2,3.2 0 1,0 -6.4,0M956.3,1999.1a3.2,3.2 0 1,0 6.4,0a3.2,3.2 0 1,0 -6.4,0M960.3,2002.5a3.2,3.2 0 1,0 6.4,0a3.2,3.2 0 1,0 -6.4,0M962.8,1999.6a3.2,3.2 0 1,0 6.4,0a3.2,3.2 0 1,0 -6.4,0M967.1,1994.6a3.2,3.2 0 1,0 6.4,0a3.2,3.2 0 1,0 -6.4,0M970.2,1992.5a3.2,3.2 0 1,0 6.4,0a3.2,3.2 0 1,0 -6.4,0M973.9,1993.3a3.2,3.2 0 1,0 6.4,0a3.2,3.2 0 1,0 -6.4,0M977.3,1997.2a3.2,3.2 0 1,0 6.4,0a3.2,3.2 0 1,0 -6.4,0M981.3,1995.5a3.2,3.2 0 1,0 6.4,0a3.2,3.2 0 1,0 -6.4,0M983.2,1994.1a3.2,3.2 0 1,0 6.4,0a3.2,3.2 0 1,0 -6.4,0M988,1994.6a3.2,3.2 0 1,0 6.4,0a3.2,3.2 0 1,0 -6.4,0M990.5,1994.6a3.2,3.2 0 1,0 6.4,0a3.2,3.2 0 1,0 -6.4,0M995.4,1986.8a3.2,3.2 0 1,0 6.4,0a3.2,3.2 0 1,0 -6.4,0M997.3,1990.7a3.2,3.2 0 1,0 6.4,0a3.2,3.2 0 1,0 -6.4,0M1001.3,1988.5a3.2,3.2 0 1,0 6.4,0a3.2,3.2 0 1,0 -6.4,0M1004.4,1986.7a3.2,3.2 0 1,0 6.4,0a3.2,3.2 0 1,0 -6.4,0M1009.7,1987.8a3.2,3.2 0 1,0 6.4,0a3.2,3.2 0 1,0 -6.4,0M1011.6,1988.1a3.2,3.2 0 1,0 6.4,0a3.2,3.2 0 1,0 -6.4,0M1015.9,1987a3.2,3.2 0 1,0 6.4,0a3.2,3.2 0 1,0 -6.4,0M1019,1983.3a3.2,3.2 0 1,0 6.4,0a3.2,3.2 0 1,0 -6.4,0M1021.9,1985.1a3.2,3.2 0 1,0 6.4,0a3.2,3.2 0 1,0 -6.4,0M1026.1,1991a3.2,3.2 0 1,0 6.4,0a3.2,3.2 0 1,0 -6.4,0M1030.1,1982.4a3.2,3.2 0 1,0 6.4,0a3.2,3.2 0 1,0 -6.4,0M1033.2,1980.1a3.2,3.2 0 1,0 6.4,0a3.2,3.2 0 1,0 -6.4,0M1037.3,1984.2a3.2,3.2 0 1,0 6.4,0a3.2,3.2 0 1,0 -6.4,0M1040.1,1983.7a3.2,3.2 0 1,0 6.4,0a3.2,3.2 0 1,0 -6.4,0M1043.8,1981.4a3.2,3.2 0 1,0 6.4,0a3.2,3.2 0 1,0 -6.4,0M1047.1,1975a3.2,3.2 0 1,0 6.4,0a3.2,3.2 0 1,0 -6.4,0M1051,1977.8a3.2,3.2 0 1,0 6.4,0a3.2,3.2 0 1,0 -6.4,0M1055.3,1970.3a3.2,3.2 0 1,0 6.4,0a3.2,3.2 0 1,0 -6.4,0M1058,1966.4a3.2,3.2 0 1,0 6.4,0a3.2,3.2 0 1,0 -6.4,0M1061.4,1964.8a3.2,3.2 0 1,0 6.4,0a3.2,3.2 0 1,0 -6.4,0M1064.5,1963a3.2,3.2 0 1,0 6.4,0a3.2,3.2 0 1,0 -6.4,0M1067.9,1961.9a3.2,3.2 0 1,0 6.4,0a3.2,3.2 0 1,0 -6.4,0M1072.6,1958.1a3.2,3.2 0 1,0 6.4,0a3.2,3.2 0 1,0 -6.4,0M1074.7,1952.4a3.2,3.2 0 1,0 6.4,0a3.2,3.2 0 1,0 -6.4,0M1078.3,1950a3.2,3.2 0 1,0 6.4,0a3.2,3.2 0 1,0 -6.4,0M1082.2,1941.6a3.2,3.2 0 1,0 6.4,0a3.2,3.2 0 1,0 -6.4,0M1085.6,1935.6a3.2,3.2 0 1,0 6.4,0a3.2,3.2 0 1,0 -6.4,0M1090.3,1919.3a3.2,3.2 0 1,0 6.4,0a3.2,3.2 0 1,0 -6.4,0M1091.6,1907.2a3.2,3.2 0 1,0 6.4,0a3.2,3.2 0 1,0 -6.4,0M1096.5,1901.1a3.2,3.2 0 1,0 6.4,0a3.2,3.2 0 1,0 -6.4,0M1100.2,1883.1a3.2,3.2 0 1,0 6.4,0a3.2,3.2 0 1,0 -6.4,0M1102.7,1873.6a3.2,3.2 0 1,0 6.4,0a3.2,3.2 0 1,0 -6.4,0M1106.5,1862a3.2,3.2 0 1,0 6.4,0a3.2,3.2 0 1,0 -6.4,0M1110.5,1849.3a3.2,3.2 0 1,0 6.4,0a3.2,3.2 0 1,0 -6.4,0M1114.7,1838.4a3.2,3.2 0 1,0 6.4,0a3.2,3.2 0 1,0 -6.4,0M1116.8,1832.7a3.2,3.2 0 1,0 6.4,0a3.2,3.2 0 1,0 -6.4,0M1120,1812.1a3.2,3.2 0 1,0 6.4,0a3.2,3.2 0 1,0 -6.4,0M1124.8,1810.4a3.2,3.2 0 1,0 6.4,0a3.2,3.2 0 1,0 -6.4,0M1128.6,1802.8a3.2,3.2 0 1,0 6.4,0a3.2,3.2 0 1,0 -6.4,0M1131.1,1784.7a3.2,3.2 0 1,0 6.4,0a3.2,3.2 0 1,0 -6.4,0M1133.6,1772.1a3.2,3.2 0 1,0 6.4,0a3.2,3.2 0 1,0 -6.4,0M1139.1,1762.3a3.2,3.2 0 1,0 6.4,0a3.2,3.2 0 1,0 -6.4,0M1141.7,1754.8a3.2,3.2 0 1,0 6.4,0a3.2,3.2 0 1,0 -6.4,0M1145.9,1738.3a3.2,3.2 0 1,0 6.4,0a3.2,3.2 0 1,0 -6.4,0M1148.8,1734.6a3.2,3.2 0 1,0 6.4,0a3.2,3.2 0 1,0 -6.4,0M1152.1,1728.7a3.2,3.2 0 1,0 6.4,0a3.2,3.2 0 1,0 -6.4,0M1155.6,1726.9a3.2,3.2 0 1,0 6.4,0a3.2,3.2 0 1,0 -6.4,0M1160.1,1723.4a3.2,3.2 0 1,0 6.4,0a3.2,3.2 0 1,0 -6.4,0M1163.6,1723.7a3.2,3.2 0 1,0 6.4,0a3.2,3.2 0 1,0 -6.4,0M1165.2,1721.8a3.2,3.2 0 1,0 6.4,0a3.2,3.2 0 1,0 -6.4,0M1169.3,1725.9a3.2,3.2 0 1,0 6.4,0a3.2,3.2 0 1,0 -6.4,0M1174.2,1728.7a3.2,3.2 0 1,0 6.4,0a3.2,3.2 0 1,0 -6.4,0M1176.6,1735.3a3.2,3.2 0 1,0 6.4,0a3.2,3.2 0 1,0 -6.4,0M1179.6,1745.5a3.2,3.2 0 1,0 6.4,0a3.2,3.2 0 1,0 -6.4,0M1183.8,1756.6a3.2,3.2 0 1,0 6.4,0a3.2,3.2 0 1,0 -6.4,0M1187.2,1766.4a3.2,3.2 0 1,0 6.4,0a3.2,3.2 0 1,0 -6.4,0M1190.7,1787a3.2,3.2 0 1,0 6.4,0a3.2,3.2 0 1,0 -6.4,0M1194,1796.8a3.2,3.2 0 1,0 6.4,0a3.2,3.2 0 1,0 -6.4,0M1197.6,1808.7a3.2,3.2 0 1,0 6.4,0a3.2,3.2 0 1,0 -6.4,0M1201.1,1831.5a3.2,3.2 0 1,0 6.4,0a3.2,3.2 0 1,0 -6.4,0M1205,1844.2a3.2,3.2 0 1,0 6.4,0a3.2,3.2 0 1,0 -6.4,0M1207.9,1865.7a3.2,3.2 0 1,0 6.4,0a3.2,3.2 0 1,0 -6.4,0M1211.6,1881.9a3.2,3.2 0 1,0 6.4,0a3.2,3.2 0 1,0 -6.4,0M1215.2,1898a3.2,3.2 0 1,0 6.4,0a3.2,3.2 0 1,0 -6.4,0M1219.5,1910.8a3.2,3.2 0 1,0 6.4,0a3.2,3.2 0 1,0 -6.4,0M1222.5,1920.1a3.2,3.2 0 1,0 6.4,0a3.2,3.2 0 1,0 -6.4,0M1225.7,1932a3.2,3.2 0 1,0 6.4,0a3.2,3.2 0 1,0 -6.4,0M1229.6,1947.3a3.2,3.2 0 1,0 6.4,0a3.2,3.2 0 1,0 -6.4,0M1233,1946.6a3.2,3.2 0 1,0 6.4,0a3.2,3.2 0 1,0 -6.4,0M1236.9,1963.4a3.2,3.2 0 1,0 6.4,0a3.2,3.2 0 1,0 -6.4,0M1240.1,1975.4a3.2,3.2 0 1,0 6.4,0a3.2,3.2 0 1,0 -6.4,0M1244.2,1982.4a3.2,3.2 0 1,0 6.4,0a3.2,3.2 0 1,0 -6.4,0M1247.5,1992.2a3.2,3.2 0 1,0 6.4,0a3.2,3.2 0 1,0 -6.4,0M1250.3,2011.3a3.2,3.2 0 1,0 6.4,0a3.2,3.2 0 1,0 -6.4,0M1253.6,2013.8a3.2,3.2 0 1,0 6.4,0a3.2,3.2 0 1,0 -6.4,0M1257.8,2028.7a3.2,3.2 0 1,0 6.4,0a3.2,3.2 0 1,0 -6.4,0M1261.1,2032.5a3.2,3.2 0 1,0 6.4,0a3.2,3.2 0 1,0 -6.4,0M1264.3,2038.8a3.2,3.2 0 1,0 6.4,0a3.2,3.2 0 1,0 -6.4,0M1267,2046.8a3.2,3.2 0 1,0 6.4,0a3.2,3.2 0 1,0 -6.4,0M1270.3,2053.7a3.2,3.2 0 1,0 6.4,0a3.2,3.2 0 1,0 -6.4,0M1275,2061.1a3.2,3.2 0 1,0 6.4,0a3.2,3.2 0 1,0 -6.4,0M1278.7,2064.7a3.2,3.2 0 1,0 6.4,0a3.2,3.2 0 1,0 -6.4,0M1282.2,2069.2a3.2,3.2 0 1,0 6.4,0a3.2,3.2 0 1,0 -6.4,0M1284.6,2074.1a3.2,3.2 0 1,0 6.4,0a3.2,3.2 0 1,0 -6.4,0M1289.3,2081.6a3.2,3.2 0 1,0 6.4,0a3.2,3.2 0 1,0 -6.4,0M1292,2084.2a3.2,3.2 0 1,0 6.4,0a3.2,3.2 0 1,0 -6.4,0M1296,2082.9a3.2,3.2 0 1,0 6.4,0a3.2,3.2 0 1,0 -6.4,0M1299.5,2086.8a3.2,3.2 0 1,0 6.4,0a3.2,3.2 0 1,0 -6.4,0M1302.4,2091.8a3.2,3.2 0 1,0 6.4,0a3.2,3.2 0 1,0 -6.4,0M1306,2091.6a3.2,3.2 0 1,0 6.4,0a3.2,3.2 0 1,0 -6.4,0M1308.7,2094.2a3.2,3.2 0 1,0 6.4,0a3.2,3.2 0 1,0 -6.4,0M1312.8,2094.4a3.2,3.2 0 1,0 6.4,0a3.2,3.2 0 1,0 -6.4,0M1315.9,2097.7a3.2,3.2 0 1,0 6.4,0a3.2,3.2 0 1,0 -6.4,0M1320.5,2100.8a3.2,3.2 0 1,0 6.4,0a3.2,3.2 0 1,0 -6.4,0M1323.8,2103.5a3.2,3.2 0 1,0 6.4,0a3.2,3.2 0 1,0 -6.4,0M1327.8,2102.1a3.2,3.2 0 1,0 6.4,0a3.2,3.2 0 1,0 -6.4,0M1331,2108.5a3.2,3.2 0 1,0 6.4,0a3.2,3.2 0 1,0 -6.4,0M1334,2103.9a3.2,3.2 0 1,0 6.4,0a3.2,3.2 0 1,0 -6.4,0M1338,2113.4a3.2,3.2 0 1,0 6.4,0a3.2,3.2 0 1,0 -6.4,0M1341.1,2108.5a3.2,3.2 0 1,0 6.4,0a3.2,3.2 0 1,0 -6.4,0M1345.1,2108a3.2,3.2 0 1,0 6.4,0a3.2,3.2 0 1,0 -6.4,0M1348.5,2106.1a3.2,3.2 0 1,0 6.4,0a3.2,3.2 0 1,0 -6.4,0M1351.3,2100.8a3.2,3.2 0 1,0 6.4,0a3.2,3.2 0 1,0 -6.4,0M1355.3,2108.3a3.2,3.2 0 1,0 6.4,0a3.2,3.2 0 1,0 -6.4,0M1358.8,2109.7a3.2,3.2 0 1,0 6.4,0a3.2,3.2 0 1,0 -6.4,0M1362.1,2114.7a3.2,3.2 0 1,0 6.4,0a3.2,3.2 0 1,0 -6.4,0M1366.3,2106.5a3.2,3.2 0 1,0 6.4,0a3.2,3.2 0 1,0 -6.4,0M1370.2,2115.4a3.2,3.2 0 1,0 6.4,0a3.2,3.2 0 1,0 -6.4,0M1372.6,2110.2a3.2,3.2 0 1,0 6.4,0a3.2,3.2 0 1,0 -6.4,0M1376.1,2113.1a3.2,3.2 0 1,0 6.4,0a3.2,3.2 0 1,0 -6.4,0M1378.6,2104.9a3.2,3.2 0 1,0 6.4,0a3.2,3.2 0 1,0 -6.4,0M1383.2,2112.2a3.2,3.2 0 1,0 6.4,0a3.2,3.2 0 1,0 -6.4,0M1386.6,2111.2a3.2,3.2 0 1,0 6.4,0a3.2,3.2 0 1,0 -6.4,0M1389.2,2114.2a3.2,3.2 0 1,0 6.4,0a3.2,3.2 0 1,0 -6.4,0M1394,2112.9a3.2,3.2 0 1,0 6.4,0a3.2,3.2 0 1,0 -6.4,0M1397.6,2109.9a3.2,3.2 0 1,0 6.4,0a3.2,3.2 0 1,0 -6.4,0M1400.4,2115.6a3.2,3.2 0 1,0 6.4,0a3.2,3.2 0 1,0 -6.4,0M1404.1,2115.1a3.2,3.2 0 1,0 6.4,0a3.2,3.2 0 1,0 -6.4,0M1407.3,2115.1a3.2,3.2 0 1,0 6.4,0a3.2,3.2 0 1,0 -6.4,0M1411.7,2116.3a3.2,3.2 0 1,0 6.4,0a3.2,3.2 0 1,0 -6.4,0M1414,2116.8a3.2,3.2 0 1,0 6.4,0a3.2,3.2 0 1,0 -6.4,0M1418.1,2114a3.2,3.2 0 1,0 6.4,0a3.2,3.2 0 1,0 -6.4,0M1422.8,2110.7a3.2,3.2 0 1,0 6.4,0a3.2,3.2 0 1,0 -6.4,0M1425.3,2110.8a3.2,3.2 0 1,0 6.4,0a3.2,3.2 0 1,0 -6.4,0M1429,2118a3.2,3.2 0 1,0 6.4,0a3.2,3.2 0 1,0 -6.4,0M1432.2,2116.5a3.2,3.2 0 1,0 6.4,0a3.2,3.2 0 1,0 -6.4,0M1435.2,2115a3.2,3.2 0 1,0 6.4,0a3.2,3.2 0 1,0 -6.4,0M1439.3,2113.8a3.2,3.2 0 1,0 6.4,0a3.2,3.2 0 1,0 -6.4,0M1443,2115.1a3.2,3.2 0 1,0 6.4,0a3.2,3.2 0 1,0 -6.4,0M1445.8,2115.2a3.2,3.2 0 1,0 6.4,0a3.2,3.2 0 1,0 -6.4,0M1450,2114.4a3.2,3.2 0 1,0 6.4,0a3.2,3.2 0 1,0 -6.4,0M1454,2113.6a3.2,3.2 0 1,0 6.4,0a3.2,3.2 0 1,0 -6.4,0M1457.4,2121.1a3.2,3.2 0 1,0 6.4,0a3.2,3.2 0 1,0 -6.4,0M1459.5,2116.2a3.2,3.2 0 1,0 6.4,0a3.2,3.2 0 1,0 -6.4,0M1463.3,2114.1a3.2,3.2 0 1,0 6.4,0a3.2,3.2 0 1,0 -6.4,0M1466.5,2112.4a3.2,3.2 0 1,0 6.4,0a3.2,3.2 0 1,0 -6.4,0M1471.4,2114a3.2,3.2 0 1,0 6.4,0a3.2,3.2 0 1,0 -6.4,0M1474.6,2117.8a3.2,3.2 0 1,0 6.4,0a3.2,3.2 0 1,0 -6.4,0M1478.2,2118a3.2,3.2 0 1,0 6.4,0a3.2,3.2 0 1,0 -6.4,0M1480.8,2115.6a3.2,3.2 0 1,0 6.4,0a3.2,3.2 0 1,0 -6.4,0M1484.2,2116.4a3.2,3.2 0 1,0 6.4,0a3.2,3.2 0 1,0 -6.4,0M1488.3,2115.5a3.2,3.2 0 1,0 6.4,0a3.2,3.2 0 1,0 -6.4,0M1491.9,2113.5a3.2,3.2 0 1,0 6.4,0a3.2,3.2 0 1,0 -6.4,0M1494.9,2119.8a3.2,3.2 0 1,0 6.4,0a3.2,3.2 0 1,0 -6.4,0M1498.9,2117.5a3.2,3.2 0 1,0 6.4,0a3.2,3.2 0 1,0 -6.4,0M1502.6,2123.1a3.2,3.2 0 1,0 6.4,0a3.2,3.2 0 1,0 -6.4,0M1505.9,2114.7a3.2,3.2 0 1,0 6.4,0a3.2,3.2 0 1,0 -6.4,0M1508.8,2116.4a3.2,3.2 0 1,0 6.4,0a3.2,3.2 0 1,0 -6.4,0M1511.7,2119.2a3.2,3.2 0 1,0 6.4,0a3.2,3.2 0 1,0 -6.4,0M1516.2,2116.3a3.2,3.2 0 1,0 6.4,0a3.2,3.2 0 1,0 -6.4,0M1519.9,2113.4a3.2,3.2 0 1,0 6.4,0a3.2,3.2 0 1,0 -6.4,0M1523.2,2114.6a3.2,3.2 0 1,0 6.4,0a3.2,3.2 0 1,0 -6.4,0M1526.6,2117.4a3.2,3.2 0 1,0 6.4,0a3.2,3.2 0 1,0 -6.4,0M1529.9,2118.1a3.2,3.2 0 1,0 6.4,0a3.2,3.2 0 1,0 -6.4,0M1534.2,2117a3.2,3.2 0 1,0 6.4,0a3.2,3.2 0 1,0 -6.4,0M1537.3,2120a3.2,3.2 0 1,0 6.4,0a3.2,3.2 0 1,0 -6.4,0M1540.9,2120a3.2,3.2 0 1,0 6.4,0a3.2,3.2 0 1,0 -6.4,0M1543.8,2118.3a3.2,3.2 0 1,0 6.4,0a3.2,3.2 0 1,0 -6.4,0M1547.5,2117.6a3.2,3.2 0 1,0 6.4,0a3.2,3.2 0 1,0 -6.4,0M1551.4,2116.9a3.2,3.2 0 1,0 6.4,0a3.2,3.2 0 1,0 -6.4,0M1554.3,2119.1a3.2,3.2 0 1,0 6.4,0a3.2,3.2 0 1,0 -6.4,0M1557.6,2120.1a3.2,3.2 0 1,0 6.4,0a3.2,3.2 0 1,0 -6.4,0M1561.6,2117.9a3.2,3.2 0 1,0 6.4,0a3.2,3.2 0 1,0 -6.4,0M1565.9,2119a3.2,3.2 0 1,0 6.4,0a3.2,3.2 0 1,0 -6.4,0M1568.9,2117a3.2,3.2 0 1,0 6.4,0a3.2,3.2 0 1,0 -6.4,0M1573.1,2114.2a3.2,3.2 0 1,0 6.4,0a3.2,3.2 0 1,0 -6.4,0M1575.7,2115.3a3.2,3.2 0 1,0 6.4,0a3.2,3.2 0 1,0 -6.4,0" fill="none" stroke="#4a4a4a" stroke-width="1.1" opacity="1"/>
<path d="M150,2096l1.5,0 1.5,0 1.5,0 1.5,0 1.5,0 1.5,0 1.5,0 1.5,0 1.5,0 1.5,0 1.5,0 1.5,0 1.5,0 1.5,0 1.5,0 1.5,0 1.5,0 1.5,0 1.5,0 1.5,0 1.5,0 1.5,0 1.5,0 1.5,0 1.5,0 1.5,0 1.5,0 1.5,0 1.5,0 1.5,0 1.5,0 1.5,0 1.5,0 1.5,0 1.5,0 1.5,0 1.5,0 1.5,0 1.5,0 1.5,0 1.5,0 1.5,0 1.5,0 1.5,0 1.5,0 1.5,0 1.5,0 1.5,0 1.5,0 1.5,0 1.5,0 1.5,0 1.5,0 1.5,0 1.5,0 1.5,0 1.5,0 1.5,0 1.5,0 1.5,0 1.5,0 1.5,0 1.5,0 1.5,0 1.5,0 1.5,0 1.5,0 1.5,0 1.5,0 1.5,0 1.5,0 1.5,0 1.5,0 1.5,0 1.5,0 1.5,0 1.5,0 1.5,0 1.5,0 1.5,0 1.5,0 1.5,0 1.5,0 1.5,0 1.5,0 1.5,0 1.5,0 1.5,0 1.5,0 1.5,0 1.5,0 1.5,0 1.5,0 1.5,0 1.5,0 1.5,0 1.5,0 1.5,0 1.5,0 1.5,0 1.5,0 1.5,0 1.5,0 1.5,0 1.5,0 1.5,0 1.5,0 1.5,0 1.5,0 1.5,0 1.5,0 1.5,0 1.5,0 1.5,0 1.5,0 1.5,0 1.5,0 1.5,0 1.5,0 1.5,0 1.5,0 1.5,0 1.5,0 1.5,0 1.5,0 1.5,0 1.5,0 1.5,0 1.5,0 1.5,0 1.5,0 1.5,0 1.5,0 1.5,0 1.5,0 1.5,0 1.5,0 1.5,0 1.5,0 1.5,0 1.5,0 1.5,0 1.5,0 1.5,0 1.5,0 1.5,0 1.5,0 1.5,0 1.5,0 1.5,0 1.5,0 1.5,0 1.5,0 1.5,0 1.5,0 1.5,0 1.5,0 1.5,0 1.5,0 1.5,0 1.5,0 1.5,0 1.5,0 1.5,0 1.5,0 1.5,0 1.5,0 1.5,0 1.5,0 1.5,0 1.5,0 1.5,0 1.5,0 1.5,0 1.5,0 1.5,0 1.5,0 1.5,0 1.5,0 1.5,0 1.5,0 1.5,0 1.5,0 1.5,0 1.5,0 1.5,0 1.5,0 1.5,0 1.5,0 1.5,0 1.5,0 1.5,0 1.5,0 1.5,0 1.5,0 1.5,0 1.5,0 1.5,0 1.5,0 1.5,0 1.5,0 1.5,0 1.5,0 1.5,0 1.5,0 1.5,0 1.5,0 1.5,0 1.5,0 1.5,0 1.5,0 1.5,0 1.5,0 1.5,0 1.5,0 1.5,0 1.5,0 1.5,0 1.5,0 1.5,0 1.5,0 1.5,0 1.5,0 1.5,0 1.5,0 1.5,0 1.5,0 1.5,0 1.5,0 1.5,0 1.5,0 1.5,0 1.5,0 1.5,0 1.5,0 1.5,0 1.5,0 1.5,0 1.5,0 1.5,0 1.5,0 1.5,0 1.5,0 1.5,0 1.5,0 1.5,0 1.5,0 1.5,0 1.5,0 1.5,0 1.5,0 1.5,0 1.5,0 1.5,0 1.5,0 1.5,0 1.5,0 1.5,0 1.5,0 1.5,0 1.5,0 1.5,0 1.5,0 1.5,0 1.5,0 1.5,0 1.5,0 1.5,0 1.5,0 1.5,0 1.5,0 1.5,0 1.5,0 1.5,0 1.5,0 1.5,0 1.5,0 1.5,0 1.5,0 1.5,0 1.5,0 1.5,0 1.5,0 1.5,0 1.5,0 1.5,0 1.5,0 1.5,0 1.5,0 1.5,0 1.5,0 1.5,0 1.5,0 1.5,0 1.5,0 1.5,0 1.5,0 1.5,0 1.5,0 1.5,0 1.5,0 1.5,0 1.5,0 1.5,0 1.5,0 1.5,0 1.5,0 1.5,0 1.5,0 1.5,0 1.5,0 1.5,0 1.5,0 1.5,0 1.5,.1 1.5,0 1.5,0 1.5,0 1.5,0 1.5,0 1.5,0 1.5,0 1.5,0 1.5,0 1.5,0 1.5,0 1.5,0 1.5,0 1.5,0 1.5,0 1.5,0 1.5,0 1.5,0 1.5,0 1.5,0 1.5,0 1.5,0 1.5,0 1.5,0 1.5,0 1.5,0 1.5,0 1.5,0 1.5,0 1.5,0 1.5,0 1.5,0 1.5,0 1.5,0 1.5,0 1.5,0 1.5,0 1.5,0 1.5,0 1.5,0 1.5,0 1.5,0 1.5,0 1.5,0 1.5,0 1.5,0 1.5,0 1.5,0 1.5,0 1.5,0 1.5,0 1.5,0 1.5,0 1.5,0 1.5,.1 1.5,0 1.5,0 1.5,0 1.5,0 1.5,0 1.5,0 1.5,0 1.5,0 1.5,0 1.5,0 1.5,0 1.5,0 1.5,0 1.5,0 1.5,0 1.5,0 1.5,0 1.5,0 1.5,0 1.5,0 1.5,0 1.5,0 1.5,0 1.5,0 1.5,0 1.5,0 1.5,0 1.5,0 1.5,0 1.5,0 1.5,0 1.5,0 1.5,0 1.5,0 1.5,0 1.5,.1 1.5,0 1.5,0 1.5,0 1.5,0 1.5,0 1.5,0 1.5,0 1.5,0 1.5,0 1.5,0 1.5,0 1.5,0 1.5,0 1.5,0 1.5,0 1.5,0 1.5,0 1.5,0 1.5,0 1.5,.1 1.5,0 1.5,0 1.5,0 1.5,0 1.5,0 1.5,.1 1.5,0 1.5,0 1.5,0 1.5,0 1.5,.1 1.5,0 1.5,0 1.5,.1 1.5,0 1.5,0 1.5,0 1.5,.1 1.5,0 1.5,0 1.5,.1 1.5,0 1.5,0 1.5,.1 1.5,0 1.5,.1 1.5,0 1.5,0 1.5,.1 1.5,0 1.5,.1 1.5,0 1.5,0 1.5,.1 1.5,0 1.5,.1 1.5,0 1.5,0 1.5,.1 1.5,0 1.5,.1 1.5,0 1.5,0 1.5,.1 1.5,0 1.5,.1 1.5,0 1.5,.1 1.5,0 1.5,0 1.5,.1 1.5,0 1.5,.1 1.5,0 1.5,0 1.5,.1 1.5,0 1.5,0 1.5,.1 1.5,0 1.5,0 1.5,.1 1.5,0 1.5,.1 1.5,0 1.5,0 1.5,.1 1.5,0 1.5,0 1.5,.1 1.5,0 1.5,0 1.5,.1 1.5,0 1.5,0 1.5,.1 1.5,0 1.5,0 1.5,.1 1.5,0 1.5,0 1.5,.1 1.5,0 1.5,0 1.5,.1 1.5,0 1.5,0 1.5,.1 1.5,0 1.5,0 1.5,.1 1.5,0 1.5,0 1.5,.1 1.5,0 1.5,0 1.5,.1 1.5,0 1.5,0 1.5,.1 1.5,0 1.5,0 1.5,.1 1.5,0 1.5,0 1.5,.1 1.5,0 1.5,0 1.5,.1 1.5,0 1.5,0 1.5,.1 1.5,0 1.5,0 1.5,.1 1.5,0 1.5,.1 1.5,0 1.5,0 1.5,.1 1.5,0 1.5,0 1.5,.1 1.5,0 1.5,.1 1.5,0 1.5,0 1.5,.1 1.5,0 1.5,.1 1.5,0 1.5,0 1.5,.1 1.5,0 1.5,.1 1.5,0 1.5,.1 1.5,0 1.5,0 1.5,.1 1.5,0 1.5,.1 1.5,0 1.5,.1 1.5,0 1.5,.1 1.5,0 1.5,.1 1.5,0 1.5,.1 1.5,0 1.5,.1 1.5,0 1.5,.1 1.5,0 1.5,.1 1.5,0 1.5,.1 1.5,0 1.5,.1 1.5,0 1.5,.1 1.5,0 1.5,.1 1.5,.1 1.5,0 1.5,.1 1.5,0 1.5,.1 1.5,.1 1.5,0 1.5,.1 1.5,.1 1.5,.1 1.5,0 1.5,.1 1.5,.1 1.5,.1 1.5,.1 1.5,.1 1.5,.1 1.5,.1 1.5,0 1.5,.1 1.5,.1 1.5,.1 1.5,.2 1.5,.1 1.5,.1 1.5,.1 1.5,.1 1.5,.1 1.5,.1 1.5,.1 1.5,.1 1.5,.1 1.5,.2 1.5,.1 1.5,.1 1.5,.1 1.5,.1 1.5,.1 1.5,.2 1.5,.1 1.5,.1 1.5,.1 1.5,.2 1.5,.1 1.5,.1 1.5,.1 1.5,.1 1.5,.2 1.5,.1 1.5,.1 1.5,.1 1.5,.1 1.5,.2 1.5,.1 1.5,.1 1.5,.1 1.5,.1 1.5,.2 1.5,.1 1.5,.1 1.5,.1 1.5,.1 1.5,.1 1.5,.2 1.5,.1 1.5,.1 1.5,.1 1.5,.1 1.5,.1 1.5,.1 1.5,.1 1.5,.1 1.5,.1 1.5,.1 1.5,.1 1.5,.1 1.5,.1 1.5,.1 1.5,.1 1.5,0 1.5,.1 1.5,.1 1.5,.1 1.5,.1 1.5,.1 1.5,.1 1.5,0 1.5,.1 1.5,.1 1.5,.1 1.5,.1 1.5,.1 1.5,.1 1.5,.1 1.5,.1 1.5,.1 1.5,0 1.5,.1 1.5,.1 1.5,.1 1.5,.1 1.5,.1 1.5,.1 1.5,.1 1.5,.1 1.5,.1 1.5,0 1.5,.1 1.5,.1 1.5,.1 1.5,.1 1.5,.1 1.5,.1 1.5,.1 1.5,.1 1.5,0 1.5,.1 1.5,.1 1.5,.1 1.5,.1 1.5,.1 1.5,.1 1.5,.1 1.5,0 1.5,.1 1.5,.1 1.5,.1 1.5,.1 1.5,0 1.5,.1 1.5,.1 1.5,.1 1.5,.1 1.5,0 1.5,.1 1.5,.1 1.5,.1 1.5,0 1.5,.1 1.5,.1 1.5,0 1.5,.1 1.5,.1 1.5,0 1.5,.1 1.5,.1 1.5,0 1.5,.1 1.5,.1 1.5,0 1.5,.1 1.5,0 1.5,.1 1.5,0 1.5,.1 1.5,0 1.5,.1 1.5,0 1.5,.1 1.5,0 1.5,.1 1.5,0 1.5,0 1.5,.1 1.5,0 1.5,0 1.5,.1 1.5,0 1.5,0 1.5,.1 1.5,0 1.5,0 1.5,0 1.5,.1 1.5,0 1.5,0 1.5,0 1.5,0 1.5,0 1.5,0 1.5,.1 1.5,0 1.5,0 1.5,0 1.5,0 1.5,0 1.5,0 1.5,0 1.5,0 1.5,.1 1.5,0 1.5,0 1.5,0 1.5,0 1.5,0 1.5,0 1.5,0 1.5,0 1.5,0 1.5,0 1.5,.1 1.5,0 1.5,0 1.5,0 1.5,0 1.5,0 1.5,0 1.5,0 1.5,0 1.5,0 1.5,0 1.5,0 1.5,0 1.5,.1 1.5,0 1.5,0 1.5,0 1.5,0 1.5,0 1.5,0 1.5,0 1.5,0 1.5,0 1.5,0 1.5,0 1.5,0 1.5,0 1.5,0 1.5,0 1.5,0 1.5,0 1.5,.1 1.5,0 1.5,0 1.5,0 1.5,0 1.5,0 1.5,0 1.5,0 1.5,0 1.5,0 1.5,0 1.5,0 1.5,0 1.5,0 1.5,0 1.5,0 1.5,0 1.5,0 1.5,0 1.5,0 1.5,0 1.5,0 1.5,0 1.5,0 1.5,0 1.5,.1 1.5,0 1.5,0 1.5,0 1.5,0 1.5,0 1.5,0 1.5,0 1.5,0 1.5,0 1.5,0 1.5,0 1.5,0 1.5,0 1.5,0 1.5,0 1.5,0 1.5,0 1.5,0 1.5,0 1.5,0 1.5,0 1.5,0 1.5,0 1.5,0 1.5,0 1.5,0 1.5,0 1.5,.1 1.5,0 1.5,0 1.5,0 1.5,0 1.5,0 1.5,0 1.5,0 1.5,0 1.5,0 1.5,0 1.5,0 1.5,0 1.5,0 1.5,0 1.5,0 1.5,0 1.5,0 1.5,0 1.5,0 1.5,0 1.5,0 1.5,0 1.5,0 1.5,0 1.5,0 1.5,0 1.5,0 1.5,0 1.5,0 1.5,0 1.5,0 1.5,0 1.5,0 1.5,0 1.5,0 1.5,0 1.5,.1 1.5,0 1.5,0 1.5,0 1.5,0 1.5,0 1.5,0 1.5,0 1.5,0 1.5,0 1.5,0 1.5,0 1.5,0 1.5,0 1.5,0 1.5,0 1.5,0 1.5,0 1.5,0 1.5,0 1.5,0 1.5,0 1.5,0 1.5,0 1.5,0 1.5,0 1.5,0 1.5,0 1.5,0 1.5,0 1.5,0 1.5,0 1.5,0 1.5,0 1.5,0 1.5,0 1.5,0 1.5,0 1.5,0 1.5,0 1.5,0 1.5,0 1.5,0" fill="none" stroke="#0000ff" stroke-width="3.0" stroke-linejoin="round" stroke-linecap="round" />
<path d="M537,2094.5l1.5,0 1.5,0 1.5,0 1.5,0 1.5-.1 1.5,0 1.5,0 1.5,0 1.5,0 1.5,0 1.5-.1 1.5,0 1.5,0 1.5,0 1.5,0 1.5-.1 1.5,0 1.5,0 1.5,0 1.5,0 1.5-.1 1.5,0 1.5,0 1.5,0 1.5-.1 1.5,0 1.5,0 1.5,0 1.5-.1 1.5,0 1.5,0 1.5-.1 1.5,0 1.5,0 1.5-.1 1.5,0 1.5,0 1.5-.1 1.5,0 1.5,0 1.5-.1 1.5,0 1.5,0 1.5-.1 1.5,0 1.5-.1 1.5,0 1.5-.1 1.5,0 1.5-.1 1.5,0 1.5-.1 1.5,0 1.5-.1 1.5,0 1.5-.1 1.5,0 1.5-.1 1.5,0 1.5-.1 1.5-.1 1.5,0 1.5-.1 1.5-.1 1.5,0 1.5-.1 1.5-.1 1.5,0 1.5-.1 1.5-.1 1.5-.1 1.5,0 1.5-.1 1.5-.1 1.5-.1 1.5-.1 1.5-.1 1.5-.1 1.5-.1 1.5-.1 1.5-.1 1.5-.1 1.5-.1 1.5-.1 1.5-.1 1.5-.1 1.5-.1 1.5-.1 1.5-.1 1.5-.2 1.5-.1 1.5-.1 1.5-.1 1.5-.2 1.5-.1 1.5-.1 1.5-.2 1.5-.1 1.5-.2 1.5-.1 1.5-.2 1.5-.1 1.5-.2 1.5-.1 1.5-.2 1.5-.2 1.5-.1 1.5-.2 1.5-.2 1.5-.2 1.5-.2 1.5-.2 1.5-.2 1.5-.1 1.5-.2 1.5-.3 1.5-.2 1.5-.2 1.5-.2 1.5-.2 1.5-.2 1.5-.3 1.5-.2 1.5-.2 1.5-.3 1.5-.2 1.5-.3 1.5-.2 1.5-.3 1.5-.2 1.5-.3 1.5-.3 1.5-.3 1.5-.2 1.5-.3 1.5-.3 1.5-.3 1.5-.3 1.5-.3 1.5-.3 1.5-.3 1.5-.3 1.5-.4 1.5-.3 1.5-.3 1.5-.4 1.5-.3 1.5-.4 1.5-.3 1.5-.4 1.5-.3 1.5-.4 1.5-.4 1.5-.4 1.5-.3 1.5-.4 1.5-.4 1.5-.4 1.5-.4 1.5-.4 1.5-.4 1.5-.5 1.5-.4 1.5-.4 1.5-.4 1.5-.5 1.5-.4 1.5-.4 1.5-.5 1.5-.4 1.5-.5 1.5-.4 1.5-.5 1.5-.5 1.5-.4 1.5-.5 1.5-.5 1.5-.5 1.5-.4 1.5-.5 1.5-.5 1.5-.5 1.5-.5 1.5-.5 1.5-.5 1.5-.5 1.5-.5 1.5-.5 1.5-.5 1.5-.6 1.5-.5 1.5-.5 1.5-.6 1.5-.5 1.5-.5 1.5-.6 1.5-.5 1.5-.6 1.5-.5 1.5-.6 1.5-.5 1.5-.6 1.5-.5 1.5-.6 1.5-.6 1.5-.5 1.5-.6 1.5-.6 1.5-.6 1.5-.6 1.5-.5 1.5-.6 1.5-.6 1.5-.6 1.5-.6 1.5-.6 1.5-.6 1.5-.6 1.5-.6 1.5-.6 1.5-.6 1.5-.6 1.5-.6 1.5-.6 1.5-.6 1.5-.6 1.5-.6 1.5-.6 1.5-.6 1.5-.6 1.5-.6 1.5-.6 1.5-.6 1.5-.6 1.5-.6 1.5-.6 1.5-.6 1.5-.6 1.5-.6 1.5-.6 1.5-.6 1.5-.6 1.5-.6 1.5-.5 1.5-.6 1.5-.6 1.5-.6 1.5-.5 1.5-.6 1.5-.6 1.5-.5 1.5-.6 1.5-.5 1.5-.5 1.5-.6 1.5-.5 1.5-.5 1.5-.6 1.5-.5 1.5-.5 1.5-.5 1.5-.5 1.5-.5 1.5-.4 1.5-.5 1.5-.5 1.5-.4 1.5-.5 1.5-.4 1.5-.5 1.5-.4 1.5-.4 1.5-.4 1.5-.4 1.5-.4 1.5-.4 1.5-.3 1.5-.4 1.5-.4 1.5-.3 1.5-.3 1.5-.4 1.5-.3 1.5-.3 1.5-.3 1.5-.2 1.5-.3 1.5-.3 1.5-.2 1.5-.2 1.5-.2 1.5-.3 1.5-.2 1.5-.1 1.5-.2 1.5-.2 1.5-.1 1.5-.2 1.5-.1 1.5-.1 1.5-.1 1.5-.1 1.5,0 1.5-.1 1.5,0 1.5-.1 1.5,0 1.5,0 1.5,0 1.5,0 1.5,.1 1.5,0 1.5,.1 1.5,.1 1.5,0 1.5,.1 1.5,.1 1.5,.2 1.5,.1 1.5,.1 1.5,.2 1.5,.1 1.5,.2 1.5,.2 1.5,.2 1.5,.2 1.5,.2 1.5,.2 1.5,.3 1.5,.2 1.5,.3 1.5,.3 1.5,.2 1.5,.3 1.5,.3 1.5,.3 1.5,.4 1.5,.3 1.5,.4 1.5,.3 1.5,.4 1.5,.4 1.5,.4 1.5,.4 1.5,.4 1.5,.5 1.5,.4 1.5,.5 1.5,.4 1.5,.5 1.5,.5 1.5,.5 1.5,.5 1.5,.5 1.5,.5 1.5,.6 1.5,.5 1.5,.6 1.5,.5 1.5,.6 1.5,.6 1.5,.6 1.5,.6 1.5,.6 1.5,.6 1.5,.6 1.5,.6 1.5,.6 1.5,.7 1.5,.6 1.5,.7 1.5,.6 1.5,.7 1.5,.6 1.5,.7 1.5,.7 1.5,.7 1.5,.7 1.5,.6 1.5,.7 1.5,.7 1.5,.7 1.5,.7 1.5,.8 1.5,.7 1.5,.7 1.5,.7 1.5,.7 1.5,.7 1.5,.7 1.5,.8 1.5,.7 1.5,.7 1.5,.7 1.5,.8 1.5,.7 1.5,.7 1.5,.7 1.5,.8 1.5,.7 1.5,.7 1.5,.8 1.5,.7 1.5,.7 1.5,.7 1.5,.7 1.5,.8 1.5,.7 1.5,.7 1.5,.7 1.5,.7 1.5,.7 1.5,.7 1.5,.7 1.5,.7 1.5,.7 1.5,.7 1.5,.7 1.5,.7 1.5,.7 1.5,.7 1.5,.7 1.5,.7 1.5,.7 1.5,.7 1.5,.7 1.5,.6 1.5,.7 1.5,.7 1.5,.7 1.5,.7 1.5,.6 1.5,.7 1.5,.7 1.5,.6 1.5,.7 1.5,.6 1.5,.7 1.5,.6 1.5,.7 1.5,.6 1.5,.6 1.5,.7 1.5,.6 1.5,.6 1.5,.6 1.5,.6 1.5,.7 1.5,.6 1.5,.6 1.5,.6 1.5,.5 1.5,.6 1.5,.6 1.5,.6 1.5,.6 1.5,.5 1.5,.6 1.5,.5 1.5,.6 1.5,.5 1.5,.6 1.5,.5 1.5,.5 1.5,.5 1.5,.6 1.5,.5 1.5,.5 1.5,.5 1.5,.5 1.5,.5 1.5,.4 1.5,.5 1.5,.5 1.5,.4 1.5,.5 1.5,.5 1.5,.4 1.5,.4 1.5,.5 1.5,.4 1.5,.4 1.5,.4 1.5,.4 1.5,.4 1.5,.4 1.5,.4 1.5,.4 1.5,.4 1.5,.4 1.5,.3 1.5,.4 1.5,.3 1.5,.4 1.5,.3 1.5,.4 1.5,.3 1.5,.3 1.5,.3 1.5,.3 1.5,.3 1.5,.3 1.5,.3 1.5,.3 1.5,.3 1.5,.3 1.5,.2 1.5,.3 1.5,.2 1.5,.3 1.5,.2 1.5,.3 1.5,.2 1.5,.2 1.5,.3 1.5,.2 1.5,.2 1.5,.2 1.5,.2 1.5,.2 1.5,.2 1.5,.2 1.5,.2 1.5,.2 1.5,.2 1.5,.2 1.5,.2 1.5,.2 1.5,.1 1.5,.2 1.5,.2 1.5,.1 1.5,.2 1.5,.2 1.5,.1 1.5,.2 1.5,.1 1.5,.2 1.5,.1 1.5,.1 1.5,.2 1.5,.1 1.5,.1 1.5,.2 1.5,.1 1.5,.1 1.5,.1 1.5,.2 1.5,.1 1.5,.1 1.5,.1 1.5,.1 1.5,.1 1.5,.1 1.5,.1 1.5,.1 1.5,.1 1.5,.1 1.5,.1 1.5,.1 1.5,.1 1.5,0 1.5,.1 1.5,.1 1.5,.1 1.5,.1 1.5,0 1.5,.1 1.5,.1 1.5,.1 1.5,0 1.5,.1 1.5,.1 1.5,0 1.5,.1 1.5,0 1.5,.1 1.5,.1 1.5,0 1.5,.1 1.5,0 1.5,.1 1.5,0 1.5,.1 1.5,0 1.5,.1 1.5,0 1.5,.1 1.5,0 1.5,0 1.5,.1 1.5,0 1.5,.1 1.5,0 1.5,0 1.5,.1 1.5,0 1.5,0 1.5,.1 1.5,0 1.5,0 1.5,.1 1.5,0 1.5,0 1.5,.1 1.5,0 1.5,0 1.5,0 1.5,.1 1.5,0 1.5,0 1.5,0 1.5,.1 1.5,0 1.5,0 1.5,0 1.5,.1 1.5,0 1.5,0 1.5,0 1.5,0 1.5,0 1.5,.1 1.5,0 1.5,0 1.5,0 1.5,0 1.5,0 1.5,.1 1.5,0 1.5,0 1.5,0 1.5,0 1.5,0 1.5,0 1.5,.1 1.5,0 1.5,0 1.5,0 1.5,0 1.5,0 1.5,0 1.5,0 1.5,0 1.5,.1 1.5,0 1.5,0 1.5,0 1.5,0 1.5,0 1.5,0 1.5,0 1.5,0 1.5,0 1.5,0 1.5,0 1.5,0 1.5,0 1.5,.1 1.5,0 1.5,0 1.5,0 1.5,0 1.5,0 1.5,0 1.5,0 1.5,0 1.5,0 1.5,0 1.5,0 1.5,0 1.5,0 1.5,0 1.5,0 1.5,0 1.5,0 1.5,0 1.5,0 1.5,0 1.5,0 1.5,0 1.5,.1 1.5,0 1.5,0 1.5,0 1.5,0 1.5,0 1.5,0 1.5,0 1.5,0 1.5,0 1.5,0 1.5,0 1.5,0 1.5,0 1.5,0" fill="none" stroke="#0000ff" stroke-width="3.0" stroke-linejoin="round" stroke-linecap="round" />
<path d="M537,2095l1.5,0 1.5,0 1.5,0 1.5,0 1.5,0 1.5,0 1.5-.1 1.5,0 1.5,0 1.5,0 1.5,0 1.5,0 1.5,0 1.5,0 1.5,0 1.5,0 1.5,0 1.5,0 1.5,0 1.5,0 1.5,0 1.5,0 1.5,0 1.5,0 1.5,0 1.5,0 1.5,0 1.5-.1 1.5,0 1.5,0 1.5,0 1.5,0 1.5,0 1.5,0 1.5,0 1.5,0 1.5,0 1.5,0 1.5,0 1.5,0 1.5,0 1.5,0 1.5,0 1.5,0 1.5,0 1.5-.1 1.5,0 1.5,0 1.5,0 1.5,0 1.5,0 1.5,0 1.5,0 1.5,0 1.5,0 1.5,0 1.5,0 1.5,0 1.5,0 1.5,0 1.5,0 1.5,0 1.5-.1 1.5,0 1.5,0 1.5,0 1.5,0 1.5,0 1.5,0 1.5,0 1.5,0 1.5,0 1.5,0 1.5,0 1.5,0 1.5,0 1.5,0 1.5-.1 1.5,0 1.5,0 1.5,0 1.5,0 1.5,0 1.5,0 1.5,0 1.5,0 1.5,0 1.5,0 1.5,0 1.5,0 1.5-.1 1.5,0 1.5,0 1.5,0 1.5,0 1.5,0 1.5,0 1.5,0 1.5,0 1.5,0 1.5,0 1.5,0 1.5-.1 1.5,0 1.5,0 1.5,0 1.5,0 1.5,0 1.5,0 1.5,0 1.5,0 1.5,0 1.5,0 1.5-.1 1.5,0 1.5,0 1.5,0 1.5,0 1.5,0 1.5,0 1.5,0 1.5,0 1.5-.1 1.5,0 1.5,0 1.5,0 1.5,0 1.5,0 1.5,0 1.5,0 1.5,0 1.5-.1 1.5,0 1.5,0 1.5,0 1.5,0 1.5,0 1.5,0 1.5,0 1.5-.1 1.5,0 1.5,0 1.5,0 1.5,0 1.5,0 1.5,0 1.5,0 1.5-.1 1.5,0 1.5,0 1.5,0 1.5,0 1.5,0 1.5,0 1.5-.1 1.5,0 1.5,0 1.5,0 1.5,0 1.5,0 1.5-.1 1.5,0 1.5,0 1.5,0 1.5,0 1.5,0 1.5,0 1.5-.1 1.5,0 1.5,0 1.5,0 1.5,0 1.5,0 1.5,0 1.5,0 1.5,0 1.5,0 1.5,0 1.5,0 1.5,0 1.5,0 1.5,0 1.5,0 1.5,0 1.5,0 1.5,0 1.5,0 1.5,0 1.5,.1 1.5,0 1.5,0 1.5,0 1.5,0 1.5,0 1.5,0 1.5,0 1.5,0 1.5,0 1.5,0 1.5,0 1.5,.1 1.5,0 1.5,0 1.5,0 1.5,0 1.5,0 1.5,0 1.5,0 1.5,0 1.5,0 1.5,0 1.5,0 1.5,0 1.5,0 1.5,0 1.5,0 1.5,0 1.5,0 1.5,0 1.5,0 1.5,0 1.5,0 1.5,0 1.5,0 1.5,0 1.5,0 1.5,0 1.5,0 1.5-.1 1.5,0 1.5,0 1.5,0 1.5,0 1.5,0 1.5,0 1.5-.1 1.5,0 1.5,0 1.5,0 1.5-.1 1.5,0 1.5,0 1.5,0 1.5-.1 1.5,0 1.5,0 1.5,0 1.5-.1 1.5,0 1.5,0 1.5-.1 1.5,0 1.5,0 1.5-.1 1.5,0 1.5-.1 1.5,0 1.5-.1 1.5,0 1.5,0 1.5-.1 1.5,0 1.5-.1 1.5,0 1.5-.1 1.5,0 1.5-.1 1.5-.1 1.5,0 1.5-.1 1.5,0 1.5-.1 1.5-.1 1.5,0 1.5-.1 1.5-.1 1.5,0 1.5-.1 1.5-.1 1.5-.1 1.5-.1 1.5,0 1.5-.1 1.5-.1 1.5-.1 1.5-.1 1.5-.1 1.5-.1 1.5-.1 1.5-.1 1.5-.1 1.5-.1 1.5-.2 1.5-.1 1.5-.1 1.5-.1 1.5-.2 1.5-.1 1.5-.2 1.5-.1 1.5-.2 1.5-.1 1.5-.2 1.5-.2 1.5-.2 1.5-.1 1.5-.2 1.5-.3 1.5-.2 1.5-.2 1.5-.2 1.5-.3 1.5-.2 1.5-.3 1.5-.3 1.5-.3 1.5-.3 1.5-.4 1.5-.3 1.5-.4 1.5-.4 1.5-.4 1.5-.4 1.5-.5 1.5-.5 1.5-.5 1.5-.5 1.5-.6 1.5-.6 1.5-.6 1.5-.7 1.5-.7 1.5-.8 1.5-.8 1.5-.8 1.5-.9 1.5-.9 1.5-1 1.5-1 1.5-1.1 1.5-1.2 1.5-1.2 1.5-1.2 1.5-1.4 1.5-1.4 1.5-1.5 1.5-1.5 1.5-1.7 1.5-1.7 1.5-1.8 1.5-1.9 1.5-2 1.5-2 1.5-2.2 1.5-2.3 1.5-2.4 1.5-2.5 1.5-2.6 1.5-2.7 1.5-2.8 1.5-2.9 1.5-3.1 1.5-3.1 1.5-3.3 1.5-3.4 1.5-3.6 1.5-3.6 1.5-3.8 1.5-3.9 1.5-4.1 1.5-4.2 1.5-4.2 1.5-4.4 1.5-4.6 1.5-4.6 1.5-4.8 1.5-4.9 1.5-5 1.5-5.1 1.5-5.2 1.5-5.3 1.5-5.4 1.5-5.5 1.5-5.6 1.5-5.7 1.5-5.7 1.5-5.8 1.5-5.8 1.5-5.9 1.5-5.9 1.5-6 1.5-6 1.5-5.9 1.5-6 1.5-5.9 1.5-5.9 1.5-5.9 1.5-5.8 1.5-5.7 1.5-5.6 1.5-5.5 1.5-5.4 1.5-5.3 1.5-5 1.5-4.9 1.5-4.7 1.5-4.5 1.5-4.3 1.5-4 1.5-3.7 1.5-3.4 1.5-3.2 1.5-2.8 1.5-2.5 1.5-2.1 1.5-1.8 1.5-1.4 1.5-1 1.5-.6 1.5-.3 1.5,.1 1.5,.5 1.5,.9 1.5,1.2 1.5,1.5 1.5,1.9 1.5,2.3 1.5,2.5 1.5,2.9 1.5,3.1 1.5,3.5 1.5,3.7 1.5,4 1.5,4.2 1.5,4.5 1.5,4.6 1.5,4.9 1.5,5 1.5,5.2 1.5,5.4 1.5,5.4 1.5,5.6 1.5,5.7 1.5,5.8 1.5,5.8 1.5,5.9 1.5,6 1.5,5.9 1.5,6 1.5,6 1.5,6.1 1.5,5.9 1.5,6 1.5,6 1.5,5.9 1.5,5.8 1.5,5.8 1.5,5.7 1.5,5.7 1.5,5.6 1.5,5.5 1.5,5.4 1.5,5.3 1.5,5.2 1.5,5.1 1.5,5 1.5,4.9 1.5,4.8 1.5,4.7 1.5,4.6 1.5,4.4 1.5,4.3 1.5,4.2 1.5,4.1 1.5,4 1.5,3.8 1.5,3.7 1.5,3.6 1.5,3.5 1.5,3.4 1.5,3.2 1.5,3.1 1.5,3 1.5,2.9 1.5,2.8 1.5,2.7 1.5,2.6 1.5,2.4 1.5,2.4 1.5,2.3 1.5,2.1 1.5,2.1 1.5,2 1.5,1.9 1.5,1.8 1.5,1.7 1.5,1.7 1.5,1.6 1.5,1.5 1.5,1.4 1.5,1.3 1.5,1.3 1.5,1.3 1.5,1.1 1.5,1.1 1.5,1.1 1.5,1 1.5,.9 1.5,.9 1.5,.9 1.5,.8 1.5,.7 1.5,.8 1.5,.7 1.5,.6 1.5,.6 1.5,.6 1.5,.6 1.5,.5 1.5,.6 1.5,.4 1.5,.5 1.5,.5 1.5,.4 1.5,.4 1.5,.4 1.5,.3 1.5,.4 1.5,.3 1.5,.3 1.5,.3 1.5,.3 1.5,.3 1.5,.3 1.5,.2 1.5,.3 1.5,.2 1.5,.3 1.5,.2 1.5,.2 1.5,.2 1.5,.2 1.5,.2 1.5,.2 1.5,.2 1.5,.2 1.5,.1 1.5,.2 1.5,.2 1.5,.1 1.5,.2 1.5,.1 1.5,.2 1.5,.1 1.5,.1 1.5,.2 1.5,.1 1.5,.1 1.5,.2 1.5,.1 1.5,.1 1.5,.1 1.5,.1 1.5,.1 1.5,.2 1.5,.1 1.5,.1 1.5,.1 1.5,.1 1.5,.1 1.5,.1 1.5,.1 1.5,.1 1.5,0 1.5,.1 1.5,.1 1.5,.1 1.5,.1 1.5,.1 1.5,.1 1.5,0 1.5,.1 1.5,.1 1.5,.1 1.5,.1 1.5,0 1.5,.1 1.5,.1 1.5,0 1.5,.1 1.5,.1 1.5,0 1.5,.1 1.5,.1 1.5,0 1.5,.1 1.5,.1 1.5,0 1.5,.1 1.5,.1 1.5,0 1.5,.1 1.5,0 1.5,.1 1.5,0 1.5,.1 1.5,0 1.5,.1 1.5,.1 1.5,0 1.5,.1 1.5,0 1.5,.1 1.5,0 1.5,.1 1.5,0 1.5,0 1.5,.1 1.5,0 1.5,.1 1.5,0 1.5,.1 1.5,0 1.5,.1 1.5,0 1.5,0 1.5,.1 1.5,0 1.5,.1 1.5,0 1.5,0 1.5,.1 1.5,0 1.5,0 1.5,.1 1.5,0 1.5,.1 1.5,0 1.5,0 1.5,.1 1.5,0 1.5,0 1.5,.1 1.5,0 1.5,0 1.5,.1 1.5,0 1.5,0 1.5,.1 1.5,0 1.5,0 1.5,0 1.5,.1 1.5,0 1.5,0 1.5,.1 1.5,0 1.5,0 1.5,0 1.5,.1 1.5,0 1.5,0 1.5,0 1.5,.1 1.5,0 1.5,0 1.5,0 1.5,.1 1.5,0 1.5,0 1.5,0 1.5,.1 1.5,0 1.5,0 1.5,0 1.5,0 1.5,.1 1.5,0 1.5,0 1.5,0 1.5,0 1.5,.1 1.5,0 1.5,0 1.5,0 1.5,0 1.5,.1 1.5,0 1.5,0 1.5,0 1.5,0 1.5,0 1.5,.1 1.5,0 1.5,0 1.5,0" fill="none" stroke="#0000ff" stroke-width="3.0" stroke-linejoin="round" stroke-linecap="round" />
<path d="M537,2092l1.5,0 1.5,0 1.5,0 1.5,0 1.5,0 1.5,0 1.5,0 1.5,0 1.5,0 1.5,0 1.5,0 1.5,0 1.5,0 1.5,0 1.5,0 1.5,0 1.5,0 1.5,0 1.5,0 1.5,0 1.5-.1 1.5,0 1.5,0 1.5,0 1.5,0 1.5,0 1.5,0 1.5,0 1.5,0 1.5,0 1.5,0 1.5,0 1.5,0 1.5,0 1.5,0 1.5,0 1.5-.1 1.5,0 1.5,0 1.5,0 1.5,0 1.5,0 1.5,0 1.5-.1 1.5,0 1.5,0 1.5-.1 1.5,0 1.5,0 1.5-.1 1.5-.1 1.5,0 1.5-.1 1.5-.1 1.5,0 1.5-.1 1.5-.1 1.5-.1 1.5-.1 1.5-.1 1.5-.1 1.5-.1 1.5-.1 1.5-.1 1.5-.1 1.5-.1 1.5-.1 1.5-.1 1.5-.1 1.5-.1 1.5-.1 1.5-.1 1.5-.1 1.5-.1 1.5-.1 1.5-.1 1.5-.1 1.5-.1 1.5-.1 1.5-.1 1.5-.1 1.5-.1 1.5-.1 1.5-.1 1.5-.1 1.5-.1 1.5-.1 1.5-.2 1.5-.1 1.5-.1 1.5-.1 1.5-.1 1.5-.1 1.5-.1 1.5-.2 1.5-.1 1.5-.1 1.5-.1 1.5-.2 1.5-.1 1.5-.1 1.5-.2 1.5-.1 1.5-.2 1.5-.1 1.5-.2 1.5-.1 1.5-.2 1.5-.1 1.5-.2 1.5-.2 1.5-.2 1.5-.2 1.5-.2 1.5-.2 1.5-.2 1.5-.2 1.5-.2 1.5-.3 1.5-.2 1.5-.3 1.5-.3 1.5-.3 1.5-.3 1.5-.3 1.5-.3 1.5-.3 1.5-.3 1.5-.3 1.5-.3 1.5-.3 1.5-.4 1.5-.3 1.5-.3 1.5-.4 1.5-.3 1.5-.4 1.5-.3 1.5-.4 1.5-.3 1.5-.3 1.5-.4 1.5-.3 1.5-.4 1.5-.3 1.5-.4 1.5-.3 1.5-.3 1.5-.4 1.5-.3 1.5-.4 1.5-.3 1.5-.4 1.5-.4 1.5-.3 1.5-.4 1.5-.4 1.5-.3 1.5-.4 1.5-.4 1.5-.4 1.5-.4 1.5-.4 1.5-.4 1.5-.4 1.5-.4 1.5-.4 1.5-.4 1.5-.4 1.5-.4 1.5-.4 1.5-.4 1.5-.4 1.5-.4 1.5-.4 1.5-.5 1.5-.4 1.5-.4 1.5-.5 1.5-.4 1.5-.4 1.5-.5 1.5-.5 1.5-.4 1.5-.5 1.5-.5 1.5-.5 1.5-.5 1.5-.5 1.5-.5 1.5-.6 1.5-.5 1.5-.6 1.5-.6 1.5-.6 1.5-.6 1.5-.6 1.5-.6 1.5-.6 1.5-.7 1.5-.6 1.5-.7 1.5-.6 1.5-.7 1.5-.7 1.5-.6 1.5-.7 1.5-.7 1.5-.7 1.5-.7 1.5-.7 1.5-.7 1.5-.6 1.5-.7 1.5-.7 1.5-.7 1.5-.7 1.5-.6 1.5-.7 1.5-.7 1.5-.6 1.5-.7 1.5-.6 1.5-.6 1.5-.7 1.5-.6 1.5-.6 1.5-.6 1.5-.6 1.5-.6 1.5-.5 1.5-.6 1.5-.6 1.5-.6 1.5-.5 1.5-.6 1.5-.6 1.5-.5 1.5-.6 1.5-.5 1.5-.6 1.5-.5 1.5-.6 1.5-.5 1.5-.6 1.5-.5 1.5-.5 1.5-.6 1.5-.5 1.5-.6 1.5-.5 1.5-.5 1.5-.6 1.5-.5 1.5-.5 1.5-.5 1.5-.6 1.5-.5 1.5-.5 1.5-.6 1.5-.5 1.5-.5 1.5-.5 1.5-.6 1.5-.5 1.5-.6 1.5-.5 1.5-.5 1.5-.6 1.5-.5 1.5-.5 1.5-.6 1.5-.5 1.5-.6 1.5-.5 1.5-.5 1.5-.5 1.5-.6 1.5-.5 1.5-.5 1.5-.5 1.5-.5 1.5-.5 1.5-.5 1.5-.5 1.5-.4 1.5-.5 1.5-.5 1.5-.4 1.5-.5 1.5-.4 1.5-.4 1.5-.4 1.5-.4 1.5-.4 1.5-.4 1.5-.4 1.5-.4 1.5-.4 1.5-.4 1.5-.3 1.5-.4 1.5-.4 1.5-.3 1.5-.4 1.5-.3 1.5-.4 1.5-.3 1.5-.3 1.5-.4 1.5-.3 1.5-.3 1.5-.4 1.5-.3 1.5-.3 1.5-.3 1.5-.3 1.5-.3 1.5-.3 1.5-.4 1.5-.3 1.5-.3 1.5-.3 1.5-.3 1.5-.2 1.5-.3 1.5-.3 1.5-.3 1.5-.2 1.5-.3 1.5-.2 1.5-.3 1.5-.3 1.5-.4 1.5-.4 1.5-.6 1.5-.5 1.5-.7 1.5-.8 1.5-.9 1.5-.9 1.5-1 1.5-1.1 1.5-1.2 1.5-1.2 1.5-1.2 1.5-1.3 1.5-1.2 1.5-1.3 1.5-1.3 1.5-1.3 1.5-1.3 1.5-1.3 1.5-1.3 1.5-1.4 1.5-1.4 1.5-1.4 1.5-1.5 1.5-1.6 1.5-1.7 1.5-1.8 1.5-2 1.5-2.1 1.5-2.4 1.5-2.6 1.5-3 1.5-3.3 1.5-3.8 1.5-4.2 1.5-4.5 1.5-4.9 1.5-5 1.5-5.2 1.5-5.2 1.5-5.2 1.5-5.3 1.5-5.3 1.5-5.3 1.5-5.3 1.5-5.3 1.5-5.2 1.5-5.2 1.5-5 1.5-5 1.5-4.8 1.5-4.8 1.5-4.6 1.5-4.5 1.5-4.4 1.5-4.5 1.5-4.4 1.5-4.5 1.5-4.5 1.5-4.6 1.5-4.8 1.5-5 1.5-5.1 1.5-5.2 1.5-5.4 1.5-5.4 1.5-5.3 1.5-5.1 1.5-4.9 1.5-4.6 1.5-4.4 1.5-4 1.5-3.7 1.5-3.5 1.5-3.1 1.5-2.7 1.5-2.4 1.5-2.2 1.5-1.8 1.5-1.6 1.5-1.4 1.5-1.1 1.5-.9 1.5-.7 1.5-.3 1.5,0 1.5,.4 1.5,.8 1.5,1.1 1.5,1.4 1.5,1.8 1.5,2.1 1.5,2.5 1.5,2.8 1.5,3.2 1.5,3.6 1.5,4.1 1.5,4.6 1.5,4.8 1.5,5.2 1.5,5.4 1.5,5.5 1.5,5.7 1.5,5.9 1.5,6 1.5,6.1 1.5,6.4 1.5,6.5 1.5,6.7 1.5,6.9 1.5,7.1 1.5,7.4 1.5,7.6 1.5,7.7 1.5,7.9 1.5,7.8 1.5,7.6 1.5,7.4 1.5,6.9 1.5,6.5 1.5,6 1.5,5.5 1.5,5.2 1.5,4.9 1.5,4.6 1.5,4.5 1.5,4.3 1.5,4.4 1.5,4.3 1.5,4.4 1.5,4.4 1.5,4.5 1.5,4.6 1.5,4.7 1.5,4.7 1.5,4.7 1.5,4.7 1.5,4.7 1.5,4.7 1.5,4.6 1.5,4.5 1.5,4.3 1.5,4.3 1.5,4.1 1.5,4 1.5,3.8 1.5,3.7 1.5,3.6 1.5,3.5 1.5,3.3 1.5,3.3 1.5,3.2 1.5,3.2 1.5,3 1.5,3 1.5,2.8 1.5,2.8 1.5,2.7 1.5,2.6 1.5,2.5 1.5,2.5 1.5,2.3 1.5,2.3 1.5,2.3 1.5,2.1 1.5,2.1 1.5,2.1 1.5,1.9 1.5,1.9 1.5,1.8 1.5,1.7 1.5,1.6 1.5,1.5 1.5,1.4 1.5,1.3 1.5,1.2 1.5,1.2 1.5,1.1 1.5,1 1.5,1 1.5,.9 1.5,.9 1.5,.8 1.5,.8 1.5,.7 1.5,.7 1.5,.7 1.5,.6 1.5,.6 1.5,.5 1.5,.6 1.5,.5 1.5,.5 1.5,.5 1.5,.5 1.5,.4 1.5,.5 1.5,.4 1.5,.4 1.5,.5 1.5,.4 1.5,.4 1.5,.3 1.5,.4 1.5,.4 1.5,.3 1.5,.3 1.5,.3 1.5,.3 1.5,.3 1.5,.3 1.5,.3 1.5,.2 1.5,.3 1.5,.2 1.5,.2 1.5,.2 1.5,.2 1.5,.2 1.5,.2 1.5,.1 1.5,.2 1.5,.2 1.5,.1 1.5,.2 1.5,.1 1.5,.2 1.5,.1 1.5,.2 1.5,.1 1.5,.2 1.5,.1 1.5,.1 1.5,.1 1.5,.2 1.5,.1 1.5,.1 1.5,.1 1.5,.1 1.5,.1 1.5,.1 1.5,.1 1.5,.1 1.5,.1 1.5,.1 1.5,.1 1.5,.1 1.5,.1 1.5,.1 1.5,0 1.5,.1 1.5,.1 1.5,.1 1.5,0 1.5,.1 1.5,.1 1.5,.1 1.5,0 1.5,.1 1.5,0 1.5,.1 1.5,.1 1.5,0 1.5,.1 1.5,.1 1.5,0 1.5,.1 1.5,0 1.5,.1 1.5,0 1.5,.1 1.5,0 1.5,.1 1.5,0 1.5,.1 1.5,0 1.5,.1 1.5,0 1.5,.1 1.5,0 1.5,.1 1.5,0 1.5,.1 1.5,0 1.5,0 1.5,.1 1.5,0 1.5,.1 1.5,0 1.5,0 1.5,.1 1.5,0 1.5,.1 1.5,0 1.5,0 1.5,.1 1.5,0 1.5,0 1.5,.1 1.5,0 1.5,.1 1.5,0 1.5,0 1.5,.1 1.5,0 1.5,0 1.5,.1 1.5,0 1.5,0 1.5,.1 1.5,0 1.5,0 1.5,.1 1.5,0 1.5,0 1.5,.1 1.5,0 1.5,0 1.5,.1 1.5,0 1.5,0 1.5,.1 1.5,0 1.5,0 1.5,.1 1.5,0 1.5,0 1.5,0 1.5,.1 1.5,0 1.5,0 1.5,.1 1.5,0 1.5,0 1.5,.1 1.5,0 1.5,0 1.5,0 1.5,.1 1.5,0 1.5,0 1.5,0 1.5,.1 1.5,0 1.5,0 1.5,0 1.5,.1 1.5,0 1.5,0 1.5,0 1.5,.1 1.5,0 1.5,0 1.5,0 1.5,0 1.5,.1 1.5,0 1.5,0 1.5,0 1.5,0 1.5,.1 1.5,0" fill="none" stroke="#ff0000" stroke-width="3.2" stroke-linejoin="round" stroke-linecap="round" />
<line x1="146.5" y1="1216.5" x2="1585.3" y2="1216.5" stroke="#111" stroke-width="5" />
<line x1="149" y1="1214" x2="149" y2="2156.1" stroke="#111" stroke-width="5" />
<line x1="146.5" y1="2154.2" x2="1585.3" y2="2154.2" stroke="#111" stroke-width="3.8" />
<line x1="1583" y1="1219" x2="1583" y2="2152.3" stroke="#666" stroke-width="4.6" />
<line x1="1583" y1="2154.4" x2="1583" y2="2173" stroke="#111" stroke-width="3.8" />
<line x1="1463.5" y1="2154.4" x2="1463.5" y2="2164.4" stroke="#111" stroke-width="3.8" />
<line x1="1344" y1="2154.4" x2="1344" y2="2173" stroke="#111" stroke-width="3.8" />
<line x1="1224.5" y1="2154.4" x2="1224.5" y2="2164.4" stroke="#111" stroke-width="3.8" />
<line x1="1105" y1="2154.4" x2="1105" y2="2173" stroke="#111" stroke-width="3.8" />
<line x1="985.5" y1="2154.4" x2="985.5" y2="2164.4" stroke="#111" stroke-width="3.8" />
<line x1="866" y1="2154.4" x2="866" y2="2173" stroke="#111" stroke-width="3.8" />
<line x1="746.5" y1="2154.4" x2="746.5" y2="2164.4" stroke="#111" stroke-width="3.8" />
<line x1="627" y1="2154.4" x2="627" y2="2173" stroke="#111" stroke-width="3.8" />
<line x1="507.5" y1="2154.4" x2="507.5" y2="2164.4" stroke="#111" stroke-width="3.8" />
<line x1="388" y1="2154.4" x2="388" y2="2173" stroke="#111" stroke-width="3.8" />
<line x1="268.5" y1="2154.4" x2="268.5" y2="2164.4" stroke="#111" stroke-width="3.8" />
<line x1="149" y1="2154.4" x2="149" y2="2173" stroke="#111" stroke-width="3.8" />
<path d="M132,3341.7l1.5,0 1.5,0 1.5-.1 1.5,0 1.5-.1 1.5,0 1.5-.1 1.5-.1 1.5,0 1.5-.1 1.5-.1 1.5-.1 1.5-.2 1.5-.1 1.5-.2 1.5-.2 1.5-.3 1.5-.2 1.5-.3 1.5-.3 1.5-.3 1.5-.4 1.5-.3 1.5-.4 1.5-.3 1.5-.4 1.5-.3 1.5-.4 1.5-.4 1.5-.3 1.5-.3 1.5-.4 1.5-.3 1.5-.4 1.5-.3 1.5-.3 1.5-.4 1.5-.3 1.5-.4 1.5-.3 1.5-.4 1.5-.3 1.5-.4 1.5-.3 1.5-.4 1.5-.4 1.5-.3 1.5-.4 1.5-.4 1.5-.4 1.5-.4 1.5-.4 1.5-.4 1.5-.4 1.5-.4 1.5-.5 1.5-.4 1.5-.5 1.5-.4 1.5-.5 1.5-.5 1.5-.4 1.5-.5 1.5-.6 1.5-.5 1.5-.5 1.5-.6 1.5-.5 1.5-.6 1.5-.6 1.5-.7 1.5-.6 1.5-.7 1.5-.6 1.5-.7 1.5-.8 1.5-.7 1.5-.8 1.5-.7 1.5-.8 1.5-.8 1.5-.9 1.5-.8 1.5-.9 1.5-.8 1.5-.9 1.5-.9 1.5-1 1.5-1 1.5-1 1.5-1.1 1.5-1.1 1.5-1.2 1.5-1.3 1.5-1.2 1.5-1.2 1.5-1.3 1.5-1.1 1.5-1.2 1.5-1.1 1.5-1.1 1.5-1 1.5-1 1.5-1 1.5-1 1.5-1 1.5-1.1 1.5-1 1.5-1.1 1.5-1 1.5-1.2 1.5-1.1 1.5-1.2 1.5-1.2 1.5-1.2 1.5-1.3 1.5-1.3 1.5-1.3 1.5-1.3 1.5-1.4 1.5-1.4 1.5-1.5 1.5-1.6 1.5-1.6 1.5-1.7 1.5-1.8 1.5-1.9 1.5-2 1.5-2.1 1.5-2.1 1.5-2.2 1.5-2.2 1.5-2.3 1.5-2.2 1.5-2.2 1.5-2.1 1.5-2.1 1.5-2 1.5-2 1.5-2 1.5-1.9 1.5-1.9 1.5-1.9 1.5-1.9 1.5-1.9 1.5-1.9 1.5-2 1.5-2 1.5-2 1.5-2.1 1.5-2.1 1.5-2.2 1.5-2.1 1.5-2.3 1.5-2.2 1.5-2.3 1.5-2.3 1.5-2.4 1.5-2.5 1.5-2.6 1.5-2.6 1.5-2.8 1.5-3 1.5-3 1.5-3.3 1.5-3.5 1.5-3.6 1.5-3.7 1.5-3.9 1.5-3.9 1.5-4 1.5-3.9 1.5-4 1.5-3.9 1.5-3.8 1.5-3.7 1.5-3.6 1.5-3.5 1.5-3.5 1.5-3.5 1.5-3.5 1.5-3.5 1.5-3.6 1.5-3.7 1.5-3.9 1.5-3.9 1.5-4.1 1.5-4.2 1.5-4.3 1.5-4.4 1.5-4.4 1.5-4.5 1.5-4.6 1.5-4.6 1.5-4.8 1.5-4.8 1.5-4.8 1.5-4.9 1.5-5 1.5-5 1.5-5.1 1.5-5.1 1.5-5.2 1.5-5.2 1.5-5.2 1.5-5.2 1.5-5.2 1.5-5.1 1.5-5.1 1.5-5.1 1.5-5 1.5-4.9 1.5-4.9 1.5-4.8 1.5-4.8 1.5-4.8 1.5-4.7 1.5-4.6 1.5-4.5 1.5-4.4 1.5-4.3 1.5-4.2 1.5-4.1 1.5-4 1.5-4 1.5-3.9 1.5-3.8 1.5-3.7 1.5-3.6 1.5-3.5 1.5-3.4 1.5-3.3 1.5-3.1 1.5-3.1 1.5-2.9 1.5-2.9 1.5-2.9 1.5-2.7 1.5-2.5 1.5-2.3 1.5-2.1 1.5-1.8 1.5-1.5 1.5-1.3 1.5-1.1 1.5-1 1.5-.9 1.5-.8 1.5-.7 1.5-.6 1.5-.5 1.5-.3 1.5-.2 1.5,0 1.5,.2 1.5,.3 1.5,.5 1.5,.7 1.5,.8 1.5,1 1.5,1 1.5,1.1 1.5,1.2 1.5,1.3 1.5,1.5 1.5,1.6 1.5,1.8 1.5,2 1.5,2.2 1.5,2.4 1.5,2.6 1.5,2.7 1.5,2.9 1.5,3.2 1.5,3.4 1.5,3.6 1.5,4 1.5,4.1 1.5,4.3 1.5,4.4 1.5,4.4 1.5,4.3 1.5,4.3 1.5,4.2 1.5,4.1 1.5,4.1 1.5,4.1 1.5,4.1 1.5,4.1 1.5,4.1 1.5,4.2 1.5,4.2 1.5,4.2 1.5,4.2 1.5,4.3 1.5,4.3 1.5,4.4 1.5,4.5 1.5,4.6 1.5,4.8 1.5,5.1 1.5,5.3 1.5,5.6 1.5,5.8 1.5,6 1.5,6.1 1.5,5.9 1.5,5.7 1.5,5.4 1.5,5.2 1.5,5.1 1.5,4.8 1.5,4.8 1.5,4.7 1.5,4.5 1.5,4.5 1.5,4.4 1.5,4.3 1.5,4.2 1.5,4.2 1.5,4.1 1.5,4.1 1.5,4.1 1.5,4 1.5,4 1.5,4 1.5,3.9 1.5,3.9 1.5,3.9 1.5,3.8 1.5,3.7 1.5,3.7 1.5,3.5 1.5,3.5 1.5,3.4 1.5,3.2 1.5,3.1 1.5,3.1 1.5,2.9 1.5,2.8 1.5,2.7 1.5,2.7 1.5,2.6 1.5,2.4 1.5,2.4 1.5,2.2 1.5,2 1.5,1.9 1.5,1.8 1.5,1.6 1.5,1.6 1.5,1.4 1.5,1.4 1.5,1.3 1.5,1.2 1.5,1.1 1.5,1.1 1.5,1 1.5,.8 1.5,.8 1.5,.7 1.5,.7 1.5,.6 1.5,.5 1.5,.5 1.5,.5 1.5,.4 1.5,.4 1.5,.4 1.5,.3 1.5,.2 1.5,.2 1.5,.1 1.5,.1 1.5-.1 1.5-.1 1.5-.1 1.5-.2 1.5-.2 1.5-.3 1.5-.3 1.5-.4 1.5-.3 1.5-.4 1.5-.5 1.5-.4 1.5-.6 1.5-.6 1.5-.7 1.5-.8 1.5-.9 1.5-.9 1.5-1 1.5-1.1 1.5-1 1.5-1.1 1.5-1.1 1.5-1 1.5-1.1 1.5-1 1.5-1 1.5-1.1 1.5-1 1.5-1 1.5-1.1 1.5-1 1.5-1.1 1.5-1 1.5-1.1 1.5-1.1 1.5-1 1.5-1.1 1.5-1.1 1.5-1 1.5-1.1 1.5-1 1.5-1.1 1.5-1.1 1.5-1.1 1.5-1.1 1.5-1.1 1.5-1 1.5-1.1 1.5-1.1 1.5-1.1 1.5-1 1.5-1 1.5-1 1.5-1 1.5-.9 1.5-.9 1.5-.9 1.5-.9 1.5-.9 1.5-.8 1.5-.9 1.5-.8 1.5-.8 1.5-.8 1.5-.8 1.5-.8 1.5-.8 1.5-.7 1.5-.8 1.5-.8 1.5-.9 1.5-.8 1.5-.8 1.5-.8 1.5-.8 1.5-.9 1.5-.8 1.5-.8 1.5-.8 1.5-.7 1.5-.8 1.5-.7 1.5-.7 1.5-.7 1.5-.7 1.5-.6 1.5-.6 1.5-.7 1.5-.6 1.5-.6 1.5-.6 1.5-.7 1.5-.6 1.5-.5 1.5-.6 1.5-.6 1.5-.6 1.5-.6 1.5-.5 1.5-.6 1.5-.5 1.5-.5 1.5-.6 1.5-.5 1.5-.5 1.5-.5 1.5-.5 1.5-.4 1.5-.5 1.5-.5 1.5-.4 1.5-.5 1.5-.4 1.5-.4 1.5-.4 1.5-.4 1.5-.4 1.5-.4 1.5-.3 1.5-.4 1.5-.4 1.5-.3 1.5-.4 1.5-.3 1.5-.4 1.5-.3 1.5-.4 1.5-.3 1.5-.3 1.5-.3 1.5-.4 1.5-.3 1.5-.3 1.5-.3 1.5-.3 1.5-.2 1.5-.3 1.5-.3 1.5-.3 1.5-.2 1.5-.3 1.5-.2 1.5-.3 1.5-.2 1.5-.3 1.5-.2 1.5-.2 1.5-.2 1.5-.2 1.5-.2 1.5-.2 1.5-.2 1.5-.2 1.5-.2 1.5-.2 1.5-.2 1.5-.2 1.5-.2 1.5-.2 1.5-.2 1.5-.2 1.5-.1 1.5-.2 1.5-.2 1.5-.2 1.5-.1 1.5-.2 1.5-.1 1.5-.2 1.5-.1 1.5-.2 1.5-.1 1.5-.1 1.5-.2 1.5-.1 1.5-.1 1.5-.1 1.5-.1 1.5-.1 1.5,0 1.5-.1 1.5-.1 1.5,0 1.5-.1 1.5-.1 1.5,0 1.5-.1 1.5,0 1.5-.1 1.5,0 1.5-.1 1.5,0 1.5-.1 1.5,0 1.5-.1 1.5,0 1.5-.1 1.5,0 1.5-.1 1.5,0 1.5,0 1.5-.1 1.5,0 1.5,0 1.5-.1 1.5,0 1.5,0 1.5,0 1.5,0 1.5-.1 1.5,0 1.5,0 1.5,0 1.5,0 1.5,0 1.5,0 1.5,0 1.5,.1 1.5,0 1.5,.1 1.5,0 1.5,.1 1.5,.1 1.5,0 1.5,.1 1.5,.1 1.5,.1 1.5,.1 1.5,.1 1.5,.2 1.5,.1 1.5,.1 1.5,.2 1.5,.2 1.5,.2 1.5,.3 1.5,.2 1.5,.3 1.5,.3 1.5,.4 1.5,.3 1.5,.4 1.5,.3 1.5,.4 1.5,.4 1.5,.3 1.5,.4 1.5,.4 1.5,.4 1.5,.3 1.5,.4 1.5,.4 1.5,.5 1.5,.4 1.5,.4 1.5,.5 1.5,.4 1.5,.5 1.5,.4 1.5,.5 1.5,.5 1.5,.5 1.5,.5 1.5,.5 1.5,.5 1.5,.5 1.5,.5 1.5,.5 1.5,.5 1.5,.5 1.5,.6 1.5,.5 1.5,.5 1.5,.6 1.5,.5 1.5,.6 1.5,.5 1.5,.6 1.5,.6 1.5,.6 1.5,.6 1.5,.6 1.5,.6 1.5,.6 1.5,.6 1.5,.6 1.5,.6 1.5,.7 1.5,.6 1.5,.7 1.5,.6 1.5,.7 1.5,.6 1.5,.7 1.5,.7 1.5,.7 1.5,.7 1.5,.7 1.5,.7 1.5,.8 1.5,.7 1.5,.8 1.5,.8 1.5,.8 1.5,.8 1.5,.8 1.5,.8 1.5,.9 1.5,.8 1.5,.8 1.5,.9 1.5,.8 1.5,.9 1.5,.9 1.5,.8 1.5,.9 1.5,.9 1.5,.8 1.5,.9 1.5,.8 1.5,.9 1.5,.9 1.5,.8 1.5,.9 1.5,.8 1.5,.9 1.5,.8 1.5,.8 1.5,.8 1.5,.8 1.5,.8 1.5,.8 1.5,.8 1.5,.8 1.5,.8 1.5,.8 1.5,.8 1.5,.7 1.5,.8 1.5,.8 1.5,.8 1.5,.7 1.5,.8 1.5,.8 1.5,.8 1.5,.7 1.5,.8 1.5,.8 1.5,.8 1.5,.7 1.5,.8 1.5,.8 1.5,.8 1.5,.8 1.5,.8 1.5,.8 1.5,.8 1.5,.8 1.5,.8 1.5,.8 1.5,.8 1.5,.8 1.5,.8 1.5,.8 1.5,.9 1.5,.8 1.5,.8 1.5,.9 1.5,.8 1.5,.9 1.5,.8 1.5,.9 1.5,.8 1.5,.9 1.5,.8 1.5,.9 1.5,.9 1.5,.8 1.5,.9 1.5,.9 1.5,.8 1.5,.9 1.5,.9 1.5,.8 1.5,.9 1.5,.9 1.5,.9 1.5,.8 1.5,.9 1.5,.9 1.5,.9 1.5,.9 1.5,.8 1.5,.9 1.5,.9 1.5,.9 1.5,.9 1.5,.9 1.5,.9 1.5,.9 1.5,.9 1.5,.9 1.5,.9 1.5,1 1.5,.9 1.5,.9 1.5,1 1.5,.9 1.5,.9 1.5,.9 1.5,1 1.5,.9 1.5,.9 1.5,.9 1.5,1 1.5,.9 1.5,.9 1.5,.9 1.5,.9 1.5,.9 1.5,.9 1.5,.8 1.5,.9 1.5,.9 1.5,.8 1.5,.9 1.5,.8 1.5,.9 1.5,.8 1.5,.8 1.5,.8 1.5,.8 1.5,.8 1.5,.8 1.5,.8 1.5,.8 1.5,.8 1.5,.8 1.5,.8 1.5,.7 1.5,.8 1.5,.7 1.5,.8 1.5,.7 1.5,.8 1.5,.7 1.5,.7 1.5,.7 1.5,.7 1.5,.7 1.5,.6 1.5,.7 1.5,.7 1.5,.6 1.5,.6 1.5,.7 1.5,.6 1.5,.6 1.5,.7 1.5,.6 1.5,.6 1.5,.6 1.5,.6 1.5,.6 1.5,.6 1.5,.5 1.5,.6 1.5,.6 1.5,.5 1.5,.6 1.5,.5 1.5,.5 1.5,.6 1.5,.5 1.5,.5 1.5,.5 1.5,.5 1.5,.6 1.5,.5 1.5,.5 1.5,.5 1.5,.5 1.5,.5 1.5,.5 1.5,.5 1.5,.5 1.5,.4 1.5,.5 1.5,.5 1.5,.5 1.5,.4 1.5,.5 1.5,.4 1.5,.5 1.5,.4 1.5,.5 1.5,.4 1.5,.4 1.5,.5 1.5,.4 1.5,.4 1.5,.4 1.5,.4 1.5,.3 1.5,.4 1.5,.4 1.5,.3 1.5,.4 1.5,.3 1.5,.4 1.5,.3 1.5,.3 1.5,.3 1.5,.3 1.5,.4 1.5,.3 1.5,.3 1.5,.3 1.5,.3 1.5,.3 1.5,.3 1.5,.2 1.5,.3 1.5,.3 1.5,.3 1.5,.3 1.5,.2 1.5,.3 1.5,.2 1.5,.3 1.5,.2 1.5,.3 1.5,.2 1.5,.3 1.5,.2 1.5,.2 1.5,.2 1.5,.3 1.5,.2 1.5,.2 1.5,.2 1.5,.2 1.5,.1 1.5,.2 1.5,.2 1.5,.2 1.5,.2 1.5,.1 1.5,.2 1.5,.2 1.5,.2 1.5,.1 1.5,.2 1.5,.2 1.5,.1 1.5,.2 1.5,.1 1.5,.2 1.5,.1 1.5,.2 1.5,.1 1.5,.2 1.5,.1 1.5,.2 1.5,.1 1.5,.2 1.5,.1 1.5,.1 1.5,.1 1.5,.2 1.5,.1 1.5,.1 1.5,.1 1.5,.1 1.5,.1 1.5,.1 1.5,.1 1.5,.1 1.5,.1 1.5,.1 1.5,.1 1.5,.1 1.5,.1 1.5,0 1.5,.1" fill="none" stroke="#ff0000" stroke-width="3.4" stroke-linejoin="round" stroke-linecap="round" />
<path d="M132,3341.4l1.5,0 1.5-.1 1.5,0 1.5,0 1.5,0 1.5,0 1.5,0 1.5-.1 1.5,0 1.5,0 1.5,0 1.5,0 1.5,0 1.5-.1 1.5,0 1.5,0 1.5,0 1.5,0 1.5,0 1.5-.1 1.5,0 1.5,0 1.5,0 1.5,0 1.5-.1 1.5,0 1.5,0 1.5,0 1.5,0 1.5,0 1.5-.1 1.5,0 1.5,0 1.5,0 1.5,0 1.5-.1 1.5,0 1.5,0 1.5,0 1.5,0 1.5,0 1.5-.1 1.5,0 1.5,0 1.5,0 1.5,0 1.5-.1 1.5,0 1.5,0 1.5,0 1.5,0 1.5-.1 1.5,0 1.5,0 1.5,0 1.5,0 1.5-.1 1.5,0 1.5,0 1.5,0 1.5,0 1.5-.1 1.5,0 1.5,0 1.5,0 1.5,0 1.5-.1 1.5,0 1.5,0 1.5,0 1.5,0 1.5-.1 1.5,0 1.5,0 1.5,0 1.5,0 1.5-.1 1.5,0 1.5,0 1.5,0 1.5,0 1.5-.1 1.5,0 1.5,0 1.5,0 1.5,0 1.5-.1 1.5,0 1.5,0 1.5,0 1.5,0 1.5-.1 1.5,0 1.5,0 1.5,0 1.5,0 1.5-.1 1.5,0 1.5,0 1.5,0 1.5-.1 1.5,0 1.5,0 1.5,0 1.5,0 1.5-.1 1.5,0 1.5,0 1.5,0 1.5,0 1.5-.1 1.5,0 1.5,0 1.5,0 1.5-.1 1.5,0 1.5,0 1.5,0 1.5,0 1.5-.1 1.5,0 1.5,0 1.5,0 1.5-.1 1.5,0 1.5,0 1.5,0 1.5,0 1.5-.1 1.5,0 1.5,0 1.5,0 1.5-.1 1.5,0 1.5,0 1.5,0 1.5,0 1.5-.1 1.5,0 1.5,0 1.5,0 1.5-.1 1.5,0 1.5,0 1.5,0 1.5-.1 1.5,0 1.5,0 1.5,0 1.5,0 1.5-.1 1.5,0 1.5,0 1.5,0 1.5-.1 1.5,0 1.5,0 1.5,0 1.5-.1 1.5,0 1.5,0 1.5,0 1.5-.1 1.5,0 1.5,0 1.5,0 1.5,0 1.5-.1 1.5,0 1.5,0 1.5,0 1.5-.1 1.5,0 1.5,0 1.5,0 1.5-.1 1.5,0 1.5,0 1.5,0 1.5-.1 1.5,0 1.5,0 1.5,0 1.5-.1 1.5,0 1.5,0 1.5,0 1.5-.1 1.5,0 1.5,0 1.5,0 1.5,0 1.5-.1 1.5,0 1.5,0 1.5,0 1.5-.1 1.5,0 1.5,0 1.5,0 1.5-.1 1.5,0 1.5,0 1.5,0 1.5-.1 1.5,0 1.5,0 1.5,0 1.5-.1 1.5,0 1.5,0 1.5,0 1.5-.1 1.5,0 1.5,0 1.5,0 1.5-.1 1.5,0 1.5,0 1.5,0 1.5-.1 1.5,0 1.5,0 1.5-.1 1.5,0 1.5,0 1.5,0 1.5-.1 1.5,0 1.5,0 1.5,0 1.5-.1 1.5,0 1.5,0 1.5,0 1.5-.1 1.5,0 1.5,0 1.5,0 1.5-.1 1.5,0 1.5,0 1.5,0 1.5-.1 1.5,0 1.5,0 1.5,0 1.5-.1 1.5,0 1.5,0 1.5,0 1.5-.1 1.5,0 1.5,0 1.5-.1 1.5,0 1.5,0 1.5,0 1.5-.1 1.5,0 1.5,0 1.5,0 1.5-.1 1.5,0 1.5,0 1.5-.1 1.5,0 1.5,0 1.5,0 1.5-.1 1.5,0 1.5,0 1.5-.1 1.5,0 1.5,0 1.5,0 1.5-.1 1.5,0 1.5,0 1.5-.1 1.5,0 1.5,0 1.5,0 1.5-.1 1.5,0 1.5,0 1.5-.1 1.5,0 1.5,0 1.5-.1 1.5,0 1.5,0 1.5,0 1.5-.1 1.5,0 1.5,0 1.5-.1 1.5,0 1.5,0 1.5-.1 1.5,0 1.5,0 1.5-.1 1.5,0 1.5,0 1.5,0 1.5-.1 1.5,0 1.5,0 1.5-.1 1.5,0 1.5,0 1.5-.1 1.5,0 1.5,0 1.5-.1 1.5,0 1.5,0 1.5-.1 1.5,0 1.5,0 1.5,0 1.5-.1 1.5,0 1.5,0 1.5-.1 1.5,0 1.5,0 1.5-.1 1.5,0 1.5,0 1.5-.1 1.5,0 1.5,0 1.5-.1 1.5,0 1.5,0 1.5-.1 1.5,0 1.5,0 1.5-.1 1.5,0 1.5,0 1.5-.1 1.5,0 1.5,0 1.5-.1 1.5,0 1.5,0 1.5-.1 1.5,0 1.5,0 1.5-.1 1.5,0 1.5,0 1.5-.1 1.5,0 1.5,0 1.5-.1 1.5,0 1.5,0 1.5-.1 1.5,0 1.5,0 1.5-.1 1.5,0 1.5,0 1.5-.1 1.5,0 1.5,0 1.5-.1 1.5,0 1.5,0 1.5-.1 1.5,0 1.5,0 1.5-.1 1.5,0 1.5,0 1.5-.1 1.5,0 1.5,0 1.5-.1 1.5,0 1.5,0 1.5-.1 1.5,0 1.5,0 1.5-.1 1.5,0 1.5,0 1.5-.1 1.5,0 1.5,0 1.5-.1 1.5,0 1.5,0 1.5-.1 1.5,0 1.5,0 1.5-.1 1.5,0 1.5,0 1.5-.1 1.5,0 1.5,0 1.5-.1 1.5,0 1.5,0 1.5-.1 1.5,0 1.5,0 1.5-.1 1.5,0 1.5,0 1.5-.1 1.5,0 1.5,0 1.5-.1 1.5,0 1.5,0 1.5-.1 1.5,0 1.5,0 1.5-.1 1.5,0 1.5,0 1.5-.1 1.5,0 1.5,0 1.5-.1 1.5,0 1.5,0 1.5-.1 1.5,0 1.5,0 1.5-.1 1.5,0 1.5,0 1.5-.1 1.5,0 1.5,0 1.5-.1 1.5,0 1.5,0 1.5-.1 1.5,0 1.5,0 1.5-.1 1.5,0 1.5,0 1.5-.1 1.5,0 1.5,0 1.5-.1 1.5,0 1.5,0 1.5-.1 1.5,0 1.5,0 1.5-.1 1.5,0 1.5,0 1.5-.1 1.5,0 1.5,0 1.5-.1 1.5,0 1.5,0 1.5,0 1.5-.1 1.5,0 1.5,0 1.5-.1 1.5,0 1.5,0 1.5-.1 1.5,0 1.5,0 1.5-.1 1.5,0 1.5,0 1.5-.1 1.5,0 1.5,0 1.5-.1 1.5,0 1.5,0 1.5-.1 1.5,0 1.5,0 1.5-.1 1.5,0 1.5,0 1.5,0 1.5-.1 1.5,0 1.5,0 1.5-.1 1.5,0 1.5,0 1.5-.1 1.5,0 1.5,0 1.5-.1 1.5,0 1.5,0 1.5-.1 1.5,0 1.5,0 1.5-.1 1.5,0 1.5,0 1.5,0 1.5-.1 1.5,0 1.5,0 1.5-.1 1.5,0 1.5,0 1.5-.1 1.5,0 1.5,0 1.5-.1 1.5,0 1.5,0 1.5-.1 1.5,0 1.5,0 1.5-.1 1.5,0 1.5,0 1.5,0 1.5-.1 1.5,0 1.5,0 1.5-.1 1.5,0 1.5,0 1.5-.1 1.5,0 1.5,0 1.5-.1 1.5,0 1.5,0 1.5-.1 1.5,0 1.5,0 1.5-.1 1.5,0 1.5,0 1.5,0 1.5-.1 1.5,0 1.5,0 1.5-.1 1.5,0 1.5,0 1.5-.1 1.5,0 1.5,0 1.5-.1 1.5,0 1.5,0 1.5-.1 1.5,0 1.5,0 1.5-.1 1.5,0 1.5,0 1.5,0 1.5-.1 1.5,0 1.5,0 1.5-.1 1.5,0 1.5,0 1.5-.1 1.5,0 1.5,0 1.5-.1 1.5,0 1.5,0 1.5-.1 1.5,0 1.5,0 1.5,0 1.5-.1 1.5,0 1.5,0 1.5-.1 1.5,0 1.5,0 1.5-.1 1.5,0 1.5,0 1.5-.1 1.5,0 1.5,0 1.5-.1 1.5,0 1.5,0 1.5-.1 1.5,0 1.5,0 1.5-.1 1.5,0 1.5,0 1.5,0 1.5-.1 1.5,0 1.5,0 1.5-.1 1.5,0 1.5,0 1.5-.1 1.5,0 1.5,0 1.5-.1 1.5,0 1.5,0 1.5-.1 1.5,0 1.5,0 1.5-.1 1.5,0 1.5,0 1.5,0 1.5-.1 1.5,0 1.5,0 1.5-.1 1.5,0 1.5,0 1.5-.1 1.5,0 1.5,0 1.5-.1 1.5,0 1.5,0 1.5-.1 1.5,0 1.5,0 1.5-.1 1.5,0 1.5,0 1.5-.1 1.5,0 1.5,0 1.5-.1 1.5,0 1.5,0 1.5,0 1.5-.1 1.5,0 1.5,0 1.5-.1 1.5,0 1.5,0 1.5-.1 1.5,0 1.5,0 1.5-.1 1.5,0 1.5,0 1.5-.1 1.5,0 1.5,0 1.5-.1 1.5,0 1.5,0 1.5-.1 1.5,0 1.5,0 1.5-.1 1.5,0 1.5,0 1.5-.1 1.5,0 1.5,0 1.5,0 1.5-.1 1.5,0 1.5,0 1.5-.1 1.5,0 1.5,0 1.5-.1 1.5,0 1.5,0 1.5-.1 1.5,0 1.5,0 1.5-.1 1.5,0 1.5,0 1.5-.1 1.5,0 1.5,0 1.5-.1 1.5,0 1.5,0 1.5-.1 1.5,0 1.5,0 1.5-.1 1.5,0 1.5,0 1.5-.1 1.5,0 1.5,0 1.5-.1 1.5,0 1.5,0 1.5-.1 1.5,0 1.5,0 1.5-.1 1.5,0 1.5,0 1.5-.1 1.5,0 1.5,0 1.5-.1 1.5,0 1.5,0 1.5-.1 1.5,0 1.5,0 1.5-.1 1.5,0 1.5,0 1.5-.1 1.5,0 1.5,0 1.5-.1 1.5,0 1.5,0 1.5-.1 1.5,0 1.5,0 1.5-.1 1.5,0 1.5,0 1.5-.1 1.5,0 1.5,0 1.5-.1 1.5,0 1.5,0 1.5-.1 1.5,0 1.5,0 1.5-.1 1.5,0 1.5,0 1.5-.1 1.5,0 1.5,0 1.5-.1 1.5,0 1.5,0 1.5-.1 1.5,0 1.5,0 1.5-.1 1.5,0 1.5,0 1.5-.1 1.5,0 1.5,0 1.5-.1 1.5,0 1.5,0 1.5-.1 1.5,0 1.5,0 1.5-.1 1.5,0 1.5,0 1.5-.1 1.5,0 1.5,0 1.5-.1 1.5,0 1.5-.1 1.5,0 1.5,0 1.5-.1 1.5,0 1.5,0 1.5-.1 1.5,0 1.5,0 1.5-.1 1.5,0 1.5,0 1.5-.1 1.5,0 1.5,0 1.5-.1 1.5,0 1.5,0 1.5-.1 1.5,0 1.5,0 1.5-.1 1.5,0 1.5-.1 1.5,0 1.5,0 1.5-.1 1.5,0 1.5,0 1.5-.1 1.5,0 1.5,0 1.5-.1 1.5,0 1.5,0 1.5-.1 1.5,0 1.5,0 1.5-.1 1.5,0 1.5-.1 1.5,0 1.5,0 1.5-.1 1.5,0 1.5,0 1.5-.1 1.5,0 1.5,0 1.5-.1 1.5,0 1.5,0 1.5-.1 1.5,0 1.5-.1 1.5,0 1.5,0 1.5-.1 1.5,0 1.5,0 1.5-.1 1.5,0 1.5,0 1.5-.1 1.5,0 1.5-.1 1.5,0 1.5,0 1.5-.1 1.5,0 1.5,0 1.5-.1 1.5,0 1.5,0 1.5-.1 1.5,0 1.5-.1 1.5,0 1.5,0 1.5-.1 1.5,0 1.5,0 1.5-.1 1.5,0 1.5,0 1.5-.1 1.5,0 1.5-.1 1.5,0 1.5,0 1.5-.1 1.5,0 1.5,0 1.5-.1 1.5,0 1.5,0 1.5-.1 1.5,0 1.5-.1 1.5,0 1.5,0 1.5-.1 1.5,0 1.5,0 1.5-.1 1.5,0 1.5-.1 1.5,0 1.5,0 1.5-.1 1.5,0 1.5,0 1.5-.1 1.5,0 1.5,0 1.5-.1 1.5,0 1.5-.1 1.5,0 1.5,0 1.5-.1 1.5,0 1.5,0 1.5-.1 1.5,0 1.5-.1 1.5,0 1.5,0 1.5-.1 1.5,0 1.5,0 1.5-.1 1.5,0 1.5-.1 1.5,0 1.5,0 1.5-.1 1.5,0 1.5,0 1.5-.1 1.5,0 1.5-.1 1.5,0 1.5,0 1.5-.1 1.5,0 1.5,0 1.5-.1 1.5,0 1.5-.1 1.5,0 1.5,0 1.5-.1 1.5,0 1.5,0 1.5-.1 1.5,0 1.5-.1 1.5,0 1.5,0 1.5-.1 1.5,0 1.5,0 1.5-.1 1.5,0 1.5-.1 1.5,0 1.5,0 1.5-.1 1.5,0 1.5,0 1.5-.1 1.5,0 1.5-.1 1.5,0" fill="none" stroke="#0000ff" stroke-width="3.2" stroke-linejoin="round" stroke-linecap="round" />
<path d="M132,3341.4l1.5,0 1.5-.1 1.5,0 1.5,0 1.5,0 1.5,0 1.5,0 1.5-.1 1.5,0 1.5,0 1.5,0 1.5,0 1.5,0 1.5-.1 1.5,0 1.5,0 1.5,0 1.5,0 1.5-.1 1.5,0 1.5,0 1.5,0 1.5,0 1.5,0 1.5-.1 1.5,0 1.5,0 1.5,0 1.5,0 1.5-.1 1.5,0 1.5,0 1.5,0 1.5,0 1.5-.1 1.5,0 1.5,0 1.5,0 1.5,0 1.5-.1 1.5,0 1.5,0 1.5,0 1.5-.1 1.5,0 1.5,0 1.5,0 1.5-.1 1.5,0 1.5,0 1.5,0 1.5-.1 1.5,0 1.5,0 1.5,0 1.5-.1 1.5,0 1.5,0 1.5-.1 1.5,0 1.5,0 1.5-.1 1.5,0 1.5-.1 1.5,0 1.5,0 1.5-.1 1.5,0 1.5-.1 1.5,0 1.5-.1 1.5,0 1.5-.1 1.5-.1 1.5,0 1.5-.1 1.5-.1 1.5,0 1.5-.1 1.5-.1 1.5-.1 1.5-.1 1.5-.1 1.5-.1 1.5-.1 1.5-.1 1.5-.1 1.5-.1 1.5-.1 1.5-.2 1.5-.1 1.5-.2 1.5-.1 1.5-.2 1.5-.2 1.5-.2 1.5-.2 1.5-.2 1.5-.2 1.5-.2 1.5-.3 1.5-.2 1.5-.3 1.5-.3 1.5-.2 1.5-.4 1.5-.3 1.5-.3 1.5-.4 1.5-.4 1.5-.4 1.5-.4 1.5-.4 1.5-.5 1.5-.5 1.5-.5 1.5-.5 1.5-.6 1.5-.6 1.5-.6 1.5-.6 1.5-.7 1.5-.7 1.5-.7 1.5-.8 1.5-.8 1.5-.9 1.5-.8 1.5-1 1.5-.9 1.5-1 1.5-1 1.5-1.1 1.5-1.2 1.5-1.1 1.5-1.3 1.5-1.2 1.5-1.4 1.5-1.3 1.5-1.5 1.5-1.4 1.5-1.6 1.5-1.6 1.5-1.6 1.5-1.7 1.5-1.8 1.5-1.9 1.5-1.9 1.5-1.9 1.5-2.1 1.5-2.1 1.5-2.2 1.5-2.2 1.5-2.3 1.5-2.4 1.5-2.5 1.5-2.5 1.5-2.7 1.5-2.7 1.5-2.7 1.5-2.9 1.5-2.9 1.5-3 1.5-3.1 1.5-3.2 1.5-3.3 1.5-3.3 1.5-3.4 1.5-3.5 1.5-3.6 1.5-3.7 1.5-3.8 1.5-3.8 1.5-3.9 1.5-4 1.5-4.1 1.5-4.2 1.5-4.2 1.5-4.3 1.5-4.4 1.5-4.5 1.5-4.6 1.5-4.6 1.5-4.7 1.5-4.8 1.5-4.8 1.5-4.9 1.5-5 1.5-5 1.5-5.1 1.5-5.2 1.5-5.2 1.5-5.2 1.5-5.3 1.5-5.4 1.5-5.4 1.5-5.4 1.5-5.5 1.5-5.5 1.5-5.5 1.5-5.6 1.5-5.6 1.5-5.5 1.5-5.7 1.5-5.6 1.5-5.6 1.5-5.6 1.5-5.6 1.5-5.6 1.5-5.6 1.5-5.6 1.5-5.5 1.5-5.5 1.5-5.5 1.5-5.4 1.5-5.4 1.5-5.4 1.5-5.2 1.5-5.3 1.5-5.1 1.5-5.1 1.5-5 1.5-5 1.5-4.8 1.5-4.8 1.5-4.6 1.5-4.6 1.5-4.4 1.5-4.4 1.5-4.2 1.5-4.1 1.5-4 1.5-3.8 1.5-3.7 1.5-3.6 1.5-3.4 1.5-3.3 1.5-3.1 1.5-3 1.5-2.9 1.5-2.6 1.5-2.5 1.5-2.4 1.5-2.1 1.5-2 1.5-1.9 1.5-1.6 1.5-1.5 1.5-1.3 1.5-1.1 1.5-.9 1.5-.7 1.5-.6 1.5-.4 1.5-.2 1.5,0 1.5,.2 1.5,.4 1.5,.5 1.5,.7 1.5,.9 1.5,1 1.5,1.2 1.5,1.4 1.5,1.6 1.5,1.7 1.5,1.9 1.5,2 1.5,2.3 1.5,2.3 1.5,2.5 1.5,2.7 1.5,2.8 1.5,3 1.5,3.1 1.5,3.3 1.5,3.4 1.5,3.5 1.5,3.6 1.5,3.8 1.5,3.9 1.5,4 1.5,4.1 1.5,4.3 1.5,4.3 1.5,4.4 1.5,4.5 1.5,4.6 1.5,4.7 1.5,4.8 1.5,4.9 1.5,4.9 1.5,5 1.5,5 1.5,5.1 1.5,5.2 1.5,5.2 1.5,5.2 1.5,5.3 1.5,5.3 1.5,5.4 1.5,5.3 1.5,5.4 1.5,5.4 1.5,5.4 1.5,5.4 1.5,5.4 1.5,5.4 1.5,5.4 1.5,5.4 1.5,5.4 1.5,5.4 1.5,5.3 1.5,5.3 1.5,5.3 1.5,5.2 1.5,5.2 1.5,5.2 1.5,5.1 1.5,5.1 1.5,5.1 1.5,4.9 1.5,5 1.5,4.9 1.5,4.8 1.5,4.7 1.5,4.7 1.5,4.7 1.5,4.5 1.5,4.5 1.5,4.4 1.5,4.4 1.5,4.3 1.5,4.2 1.5,4.1 1.5,4.1 1.5,4 1.5,3.9 1.5,3.8 1.5,3.8 1.5,3.7 1.5,3.6 1.5,3.5 1.5,3.4 1.5,3.4 1.5,3.3 1.5,3.2 1.5,3.1 1.5,3.1 1.5,2.9 1.5,2.9 1.5,2.9 1.5,2.7 1.5,2.7 1.5,2.6 1.5,2.5 1.5,2.4 1.5,2.4 1.5,2.3 1.5,2.3 1.5,2.1 1.5,2.1 1.5,2.1 1.5,1.9 1.5,1.9 1.5,1.9 1.5,1.8 1.5,1.7 1.5,1.6 1.5,1.6 1.5,1.6 1.5,1.5 1.5,1.4 1.5,1.4 1.5,1.3 1.5,1.3 1.5,1.2 1.5,1.2 1.5,1.1 1.5,1.1 1.5,1.1 1.5,1 1.5,.9 1.5,1 1.5,.8 1.5,.9 1.5,.8 1.5,.8 1.5,.7 1.5,.7 1.5,.7 1.5,.6 1.5,.6 1.5,.6 1.5,.6 1.5,.5 1.5,.5 1.5,.5 1.5,.4 1.5,.4 1.5,.5 1.5,.3 1.5,.4 1.5,.4 1.5,.3 1.5,.3 1.5,.3 1.5,.3 1.5,.2 1.5,.3 1.5,.2 1.5,.2 1.5,.2 1.5,.2 1.5,.2 1.5,.2 1.5,.1 1.5,.2 1.5,.1 1.5,.1 1.5,.1 1.5,.2 1.5,.1 1.5,.1 1.5,0 1.5,.1 1.5,.1 1.5,.1 1.5,0 1.5,.1 1.5,0 1.5,.1 1.5,0 1.5,0 1.5,.1 1.5,0 1.5,0 1.5,.1 1.5,0 1.5,0 1.5,0 1.5,0 1.5,0 1.5,0 1.5,0 1.5,0 1.5,0 1.5,0 1.5,0 1.5,0 1.5,0 1.5,0 1.5,0 1.5-.1 1.5,0 1.5,0 1.5,0 1.5,0 1.5-.1 1.5,0 1.5,0 1.5,0 1.5,0 1.5-.1 1.5,0 1.5,0 1.5,0 1.5-.1 1.5,0 1.5,0 1.5,0 1.5-.1 1.5,0 1.5,0 1.5-.1 1.5,0 1.5,0 1.5,0 1.5-.1 1.5,0 1.5,0 1.5-.1 1.5,0 1.5,0 1.5,0 1.5-.1 1.5,0 1.5,0 1.5-.1 1.5,0 1.5,0 1.5-.1 1.5,0 1.5,0 1.5-.1 1.5,0 1.5,0 1.5,0 1.5-.1 1.5,0 1.5,0 1.5-.1 1.5,0 1.5,0 1.5-.1 1.5,0 1.5,0 1.5-.1 1.5,0 1.5,0 1.5-.1 1.5,0 1.5,0 1.5,0 1.5-.1 1.5,0 1.5,0 1.5-.1 1.5,0 1.5,0 1.5-.1 1.5,0 1.5,0 1.5-.1 1.5,0 1.5,0 1.5-.1 1.5,0 1.5,0 1.5-.1 1.5,0 1.5,0 1.5,0 1.5-.1 1.5,0 1.5,0 1.5-.1 1.5,0 1.5,0 1.5-.1 1.5,0 1.5,0 1.5-.1 1.5,0 1.5,0 1.5-.1 1.5,0 1.5,0 1.5-.1 1.5,0 1.5,0 1.5,0 1.5-.1 1.5,0 1.5,0 1.5-.1 1.5,0 1.5,0 1.5-.1 1.5,0 1.5,0 1.5-.1 1.5,0 1.5,0 1.5-.1 1.5,0 1.5,0 1.5-.1 1.5,0 1.5,0 1.5,0 1.5-.1 1.5,0 1.5,0 1.5-.1 1.5,0 1.5,0 1.5-.1 1.5,0 1.5,0 1.5-.1 1.5,0 1.5,0 1.5-.1 1.5,0 1.5,0 1.5,0 1.5-.1 1.5,0 1.5,0 1.5-.1 1.5,0 1.5,0 1.5-.1 1.5,0 1.5,0 1.5-.1 1.5,0 1.5,0 1.5-.1 1.5,0 1.5,0 1.5-.1 1.5,0 1.5,0 1.5-.1 1.5,0 1.5,0 1.5,0 1.5-.1 1.5,0 1.5,0 1.5-.1 1.5,0 1.5,0 1.5-.1 1.5,0 1.5,0 1.5-.1 1.5,0 1.5,0 1.5-.1 1.5,0 1.5,0 1.5-.1 1.5,0 1.5,0 1.5,0 1.5-.1 1.5,0 1.5,0 1.5-.1 1.5,0 1.5,0 1.5-.1 1.5,0 1.5,0 1.5-.1 1.5,0 1.5,0 1.5-.1 1.5,0 1.5,0 1.5-.1 1.5,0 1.5,0 1.5-.1 1.5,0 1.5,0 1.5,0 1.5-.1 1.5,0 1.5,0 1.5-.1 1.5,0 1.5,0 1.5-.1 1.5,0 1.5,0 1.5-.1 1.5,0 1.5,0 1.5-.1 1.5,0 1.5,0 1.5-.1 1.5,0 1.5,0 1.5-.1 1.5,0 1.5,0 1.5-.1 1.5,0 1.5,0 1.5-.1 1.5,0 1.5,0 1.5-.1 1.5,0 1.5,0 1.5,0 1.5-.1 1.5,0 1.5,0 1.5-.1 1.5,0 1.5,0 1.5-.1 1.5,0 1.5,0 1.5-.1 1.5,0 1.5,0 1.5-.1 1.5,0 1.5,0 1.5-.1 1.5,0 1.5,0 1.5-.1 1.5,0 1.5,0 1.5-.1 1.5,0 1.5,0 1.5-.1 1.5,0 1.5,0 1.5-.1 1.5,0 1.5,0 1.5-.1 1.5,0 1.5,0 1.5-.1 1.5,0 1.5,0 1.5-.1 1.5,0 1.5,0 1.5-.1 1.5,0 1.5,0 1.5-.1 1.5,0 1.5,0 1.5-.1 1.5,0 1.5,0 1.5-.1 1.5,0 1.5,0 1.5-.1 1.5,0 1.5,0 1.5-.1 1.5,0 1.5,0 1.5-.1 1.5,0 1.5,0 1.5-.1 1.5,0 1.5,0 1.5-.1 1.5,0 1.5,0 1.5-.1 1.5,0 1.5,0 1.5-.1 1.5,0 1.5,0 1.5-.1 1.5,0 1.5,0 1.5-.1 1.5,0 1.5,0 1.5-.1 1.5,0 1.5,0 1.5-.1 1.5,0 1.5,0 1.5-.1 1.5,0 1.5,0 1.5-.1 1.5,0 1.5,0 1.5-.1 1.5,0 1.5,0 1.5-.1 1.5,0 1.5,0 1.5-.1 1.5,0 1.5,0 1.5-.1 1.5,0 1.5,0 1.5-.1 1.5,0 1.5-.1 1.5,0 1.5,0 1.5-.1 1.5,0 1.5,0 1.5-.1 1.5,0 1.5,0 1.5-.1 1.5,0 1.5,0 1.5-.1 1.5,0 1.5,0 1.5-.1 1.5,0 1.5,0 1.5-.1 1.5,0 1.5,0 1.5-.1 1.5,0 1.5-.1 1.5,0 1.5,0 1.5-.1 1.5,0 1.5,0 1.5-.1 1.5,0 1.5,0 1.5-.1 1.5,0 1.5,0 1.5-.1 1.5,0 1.5,0 1.5-.1 1.5,0 1.5-.1 1.5,0 1.5,0 1.5-.1 1.5,0 1.5,0 1.5-.1 1.5,0 1.5,0 1.5-.1 1.5,0 1.5,0 1.5-.1 1.5,0 1.5-.1 1.5,0 1.5,0 1.5-.1 1.5,0 1.5,0 1.5-.1 1.5,0 1.5,0 1.5-.1 1.5,0 1.5-.1 1.5,0 1.5,0 1.5-.1 1.5,0 1.5,0 1.5-.1 1.5,0 1.5,0 1.5-.1 1.5,0 1.5-.1 1.5,0 1.5,0 1.5-.1 1.5,0 1.5,0 1.5-.1 1.5,0 1.5,0 1.5-.1 1.5,0 1.5-.1 1.5,0 1.5,0 1.5-.1 1.5,0 1.5,0 1.5-.1 1.5,0 1.5,0 1.5-.1 1.5,0 1.5-.1 1.5,0 1.5,0 1.5-.1 1.5,0 1.5,0 1.5-.1 1.5,0 1.5-.1 1.5,0 1.5,0 1.5-.1 1.5,0 1.5,0 1.5-.1 1.5,0 1.5,0 1.5-.1 1.5,0 1.5-.1 1.5,0 1.5,0 1.5-.1 1.5,0 1.5,0 1.5-.1 1.5,0 1.5-.1 1.5,0 1.5,0 1.5-.1 1.5,0 1.5,0 1.5-.1 1.5,0 1.5-.1 1.5,0 1.5,0 1.5-.1 1.5,0 1.5,0 1.5-.1 1.5,0 1.5-.1 1.5,0 1.5,0 1.5-.1 1.5,0 1.5,0 1.5-.1 1.5,0 1.5-.1 1.5,0 1.5,0 1.5-.1 1.5,0 1.5,0 1.5-.1 1.5,0 1.5-.1 1.5,0 1.5,0 1.5-.1 1.5,0 1.5,0 1.5-.1 1.5,0 1.5-.1 1.5,0 1.5,0 1.5-.1 1.5,0 1.5,0 1.5-.1 1.5,0 1.5-.1 1.5,0" fill="none" stroke="#000" stroke-width="3.2" stroke-linejoin="round" stroke-linecap="round" />
<path d="M132,3340.1l1.5-.1 1.5,0 1.5,0 1.5,0 1.5,0 1.5-.1 1.5,0 1.5,0 1.5,0 1.5-.1 1.5,0 1.5,0 1.5,0 1.5,0 1.5-.1 1.5,0 1.5,0 1.5,0 1.5-.1 1.5,0 1.5,0 1.5,0 1.5,0 1.5-.1 1.5,0 1.5,0 1.5,0 1.5-.1 1.5,0 1.5,0 1.5,0 1.5-.1 1.5,0 1.5,0 1.5,0 1.5-.1 1.5,0 1.5,0 1.5,0 1.5-.1 1.5,0 1.5,0 1.5,0 1.5-.1 1.5,0 1.5,0 1.5,0 1.5-.1 1.5,0 1.5,0 1.5,0 1.5-.1 1.5,0 1.5,0 1.5,0 1.5-.1 1.5,0 1.5,0 1.5-.1 1.5,0 1.5,0 1.5,0 1.5-.1 1.5,0 1.5,0 1.5,0 1.5-.1 1.5,0 1.5,0 1.5-.1 1.5,0 1.5,0 1.5-.1 1.5,0 1.5,0 1.5,0 1.5-.1 1.5,0 1.5,0 1.5-.1 1.5,0 1.5,0 1.5-.1 1.5,0 1.5,0 1.5-.1 1.5,0 1.5,0 1.5,0 1.5-.1 1.5,0 1.5,0 1.5-.1 1.5,0 1.5,0 1.5-.1 1.5,0 1.5,0 1.5-.1 1.5,0 1.5-.1 1.5,0 1.5,0 1.5-.1 1.5,0 1.5,0 1.5-.1 1.5,0 1.5,0 1.5-.1 1.5,0 1.5-.1 1.5,0 1.5,0 1.5-.1 1.5,0 1.5-.1 1.5,0 1.5,0 1.5-.1 1.5,0 1.5-.1 1.5,0 1.5,0 1.5-.1 1.5,0 1.5-.1 1.5,0 1.5-.1 1.5,0 1.5-.1 1.5,0 1.5,0 1.5-.1 1.5,0 1.5-.1 1.5,0 1.5-.1 1.5,0 1.5-.1 1.5,0 1.5-.1 1.5,0 1.5-.1 1.5,0 1.5-.1 1.5,0 1.5-.1 1.5,0 1.5-.1 1.5-.1 1.5,0 1.5-.1 1.5,0 1.5-.1 1.5,0 1.5-.1 1.5-.1 1.5,0 1.5-.1 1.5,0 1.5-.1 1.5-.1 1.5,0 1.5-.1 1.5-.1 1.5,0 1.5-.1 1.5-.1 1.5,0 1.5-.1 1.5-.1 1.5,0 1.5-.1 1.5-.1 1.5,0 1.5-.1 1.5-.1 1.5-.1 1.5,0 1.5-.1 1.5-.1 1.5-.1 1.5-.1 1.5,0 1.5-.1 1.5-.1 1.5-.1 1.5-.1 1.5-.1 1.5-.1 1.5-.1 1.5,0 1.5-.1 1.5-.1 1.5-.1 1.5-.1 1.5-.1 1.5-.1 1.5-.1 1.5-.1 1.5-.1 1.5-.1 1.5-.1 1.5-.1 1.5-.1 1.5-.1 1.5-.1 1.5-.2 1.5-.1 1.5-.1 1.5-.1 1.5-.1 1.5-.1 1.5-.2 1.5-.1 1.5-.1 1.5-.1 1.5-.2 1.5-.1 1.5-.1 1.5-.1 1.5-.2 1.5-.1 1.5-.2 1.5-.1 1.5-.1 1.5-.2 1.5-.1 1.5-.2 1.5-.1 1.5-.2 1.5-.1 1.5-.2 1.5-.1 1.5-.2 1.5-.1 1.5-.2 1.5-.2 1.5-.1 1.5-.2 1.5-.2 1.5-.2 1.5-.1 1.5-.2 1.5-.2 1.5-.2 1.5-.2 1.5-.2 1.5-.1 1.5-.2 1.5-.2 1.5-.2 1.5-.2 1.5-.2 1.5-.2 1.5-.3 1.5-.2 1.5-.2 1.5-.2 1.5-.2 1.5-.2 1.5-.3 1.5-.2 1.5-.2 1.5-.3 1.5-.2 1.5-.2 1.5-.3 1.5-.2 1.5-.3 1.5-.2 1.5-.3 1.5-.3 1.5-.2 1.5-.3 1.5-.3 1.5-.2 1.5-.3 1.5-.3 1.5-.3 1.5-.3 1.5-.3 1.5-.2 1.5-.3 1.5-.3 1.5-.4 1.5-.3 1.5-.3 1.5-.3 1.5-.3 1.5-.3 1.5-.4 1.5-.3 1.5-.3 1.5-.4 1.5-.3 1.5-.4 1.5-.3 1.5-.4 1.5-.3 1.5-.4 1.5-.4 1.5-.3 1.5-.4 1.5-.4 1.5-.4 1.5-.4 1.5-.3 1.5-.4 1.5-.4 1.5-.5 1.5-.4 1.5-.4 1.5-.4 1.5-.4 1.5-.4 1.5-.5 1.5-.4 1.5-.5 1.5-.4 1.5-.5 1.5-.4 1.5-.5 1.5-.4 1.5-.5 1.5-.5 1.5-.5 1.5-.4 1.5-.5 1.5-.5 1.5-.5 1.5-.5 1.5-.5 1.5-.5 1.5-.6 1.5-.5 1.5-.5 1.5-.5 1.5-.6 1.5-.5 1.5-.6 1.5-.5 1.5-.6 1.5-.5 1.5-.6 1.5-.6 1.5-.6 1.5-.5 1.5-.6 1.5-.6 1.5-.6 1.5-.6 1.5-.6 1.5-.6 1.5-.7 1.5-.6 1.5-.6 1.5-.6 1.5-.7 1.5-.6 1.5-.7 1.5-.6 1.5-.7 1.5-.7 1.5-.6 1.5-.7 1.5-.7 1.5-.7 1.5-.7 1.5-.6 1.5-.7 1.5-.8 1.5-.7 1.5-.7 1.5-.7 1.5-.7 1.5-.8 1.5-.7 1.5-.7 1.5-.8 1.5-.7 1.5-.8 1.5-.7 1.5-.8 1.5-.8 1.5-.8 1.5-.7 1.5-.8 1.5-.8 1.5-.8 1.5-.8 1.5-.8 1.5-.8 1.5-.8 1.5-.9 1.5-.8 1.5-.8 1.5-.8 1.5-.9 1.5-.8 1.5-.9 1.5-.8 1.5-.9 1.5-.8 1.5-.9 1.5-.9 1.5-.8 1.5-.9 1.5-.9 1.5-.9 1.5-.8 1.5-.9 1.5-.9 1.5-.9 1.5-.9 1.5-.9 1.5-1 1.5-.9 1.5-.9 1.5-.9 1.5-.9 1.5-1 1.5-.9 1.5-.9 1.5-1 1.5-.9 1.5-1 1.5-.9 1.5-1 1.5-.9 1.5-1 1.5-.9 1.5-1 1.5-.9 1.5-1 1.5-1 1.5-1 1.5-.9 1.5-1 1.5-1 1.5-1 1.5-.9 1.5-1 1.5-1 1.5-1 1.5-1 1.5-1 1.5-1 1.5-1 1.5-1 1.5-1 1.5-1 1.5-.9 1.5-1 1.5-1 1.5-1 1.5-1 1.5-1 1.5-1 1.5-1.1 1.5-1 1.5-1 1.5-1 1.5-1 1.5-1 1.5-1 1.5-1 1.5-1 1.5-1 1.5-1 1.5-1 1.5-1 1.5-1 1.5-1 1.5-.9 1.5-1 1.5-1 1.5-1 1.5-1 1.5-1 1.5-1 1.5-1 1.5-.9 1.5-1 1.5-1 1.5-1 1.5-.9 1.5-1 1.5-1 1.5-.9 1.5-1 1.5-.9 1.5-1 1.5-.9 1.5-1 1.5-.9 1.5-1 1.5-.9 1.5-.9 1.5-1 1.5-.9 1.5-.9 1.5-.9 1.5-.9 1.5-.9 1.5-.9 1.5-.9 1.5-.9 1.5-.9 1.5-.8 1.5-.9 1.5-.9 1.5-.8 1.5-.9 1.5-.8 1.5-.9 1.5-.8 1.5-.8 1.5-.9 1.5-.8 1.5-.8 1.5-.8 1.5-.8 1.5-.8 1.5-.8 1.5-.7 1.5-.8 1.5-.8 1.5-.7 1.5-.7 1.5-.8 1.5-.7 1.5-.7 1.5-.7 1.5-.7 1.5-.7 1.5-.7 1.5-.7 1.5-.6 1.5-.7 1.5-.7 1.5-.6 1.5-.6 1.5-.6 1.5-.7 1.5-.6 1.5-.5 1.5-.6 1.5-.6 1.5-.6 1.5-.5 1.5-.6 1.5-.5 1.5-.5 1.5-.5 1.5-.5 1.5-.5 1.5-.5 1.5-.5 1.5-.4 1.5-.5 1.5-.4 1.5-.4 1.5-.4 1.5-.4 1.5-.4 1.5-.4 1.5-.4 1.5-.3 1.5-.4 1.5-.3 1.5-.3 1.5-.3 1.5-.3 1.5-.3 1.5-.3 1.5-.3 1.5-.2 1.5-.2 1.5-.3 1.5-.2 1.5-.2 1.5-.2 1.5-.2 1.5-.1 1.5-.2 1.5-.1 1.5-.1 1.5-.2 1.5-.1 1.5-.1 1.5,0 1.5-.1 1.5-.1 1.5,0 1.5,0 1.5,0 1.5,0 1.5,0 1.5,0 1.5,0 1.5,0 1.5,.1 1.5,0 1.5,.1 1.5,.1 1.5,.1 1.5,.1 1.5,.1 1.5,.1 1.5,.2 1.5,.1 1.5,.2 1.5,.2 1.5,.1 1.5,.2 1.5,.2 1.5,.3 1.5,.2 1.5,.2 1.5,.3 1.5,.2 1.5,.3 1.5,.3 1.5,.3 1.5,.3 1.5,.3 1.5,.3 1.5,.3 1.5,.4 1.5,.3 1.5,.4 1.5,.4 1.5,.4 1.5,.4 1.5,.4 1.5,.4 1.5,.4 1.5,.4 1.5,.5 1.5,.4 1.5,.5 1.5,.5 1.5,.4 1.5,.5 1.5,.5 1.5,.5 1.5,.6 1.5,.5 1.5,.5 1.5,.6 1.5,.5 1.5,.6 1.5,.6 1.5,.5 1.5,.6 1.5,.6 1.5,.6 1.5,.6 1.5,.7 1.5,.6 1.5,.6 1.5,.7 1.5,.6 1.5,.7 1.5,.6 1.5,.7 1.5,.7 1.5,.7 1.5,.7 1.5,.7 1.5,.7 1.5,.7 1.5,.7 1.5,.8 1.5,.7 1.5,.8 1.5,.7 1.5,.8 1.5,.7 1.5,.8 1.5,.8 1.5,.7 1.5,.8 1.5,.8 1.5,.8 1.5,.8 1.5,.8 1.5,.8 1.5,.9 1.5,.8 1.5,.8 1.5,.8 1.5,.9 1.5,.8 1.5,.8 1.5,.9 1.5,.8 1.5,.9 1.5,.9 1.5,.8 1.5,.9 1.5,.9 1.5,.8 1.5,.9 1.5,.9 1.5,.9 1.5,.9 1.5,.9 1.5,.9 1.5,.9 1.5,.9 1.5,.9 1.5,.9 1.5,.9 1.5,.9 1.5,.9 1.5,.9 1.5,.9 1.5,.9 1.5,.9 1.5,.9 1.5,1 1.5,.9 1.5,.9 1.5,.9 1.5,.9 1.5,1 1.5,.9 1.5,.9 1.5,.9 1.5,1 1.5,.9 1.5,.9 1.5,1 1.5,.9 1.5,.9 1.5,.9 1.5,1 1.5,.9 1.5,.9 1.5,.9 1.5,1 1.5,.9 1.5,.9 1.5,.9 1.5,.9 1.5,1 1.5,.9 1.5,.9 1.5,.9 1.5,.9 1.5,.9 1.5,1 1.5,.9 1.5,.9 1.5,.9 1.5,.9 1.5,.9 1.5,.9 1.5,.9 1.5,.9 1.5,.9 1.5,.9 1.5,.8 1.5,.9 1.5,.9 1.5,.9 1.5,.9 1.5,.8 1.5,.9 1.5,.9 1.5,.9 1.5,.8 1.5,.9 1.5,.8 1.5,.9 1.5,.8 1.5,.9 1.5,.8 1.5,.9 1.5,.8 1.5,.8 1.5,.8 1.5,.9 1.5,.8 1.5,.8 1.5,.8 1.5,.8 1.5,.8 1.5,.8 1.5,.8 1.5,.8 1.5,.8 1.5,.8 1.5,.8 1.5,.8 1.5,.7 1.5,.8 1.5,.8 1.5,.7 1.5,.8 1.5,.7 1.5,.8 1.5,.7 1.5,.7 1.5,.8 1.5,.7 1.5,.7 1.5,.7 1.5,.7 1.5,.7 1.5,.7 1.5,.7 1.5,.7 1.5,.7 1.5,.7 1.5,.7 1.5,.7 1.5,.6 1.5,.7 1.5,.6 1.5,.7 1.5,.7 1.5,.6 1.5,.6 1.5,.7 1.5,.6 1.5,.6 1.5,.6 1.5,.6 1.5,.7 1.5,.6 1.5,.6 1.5,.6 1.5,.5 1.5,.6 1.5,.6 1.5,.6 1.5,.5 1.5,.6 1.5,.6 1.5,.5 1.5,.6 1.5,.5 1.5,.5 1.5,.6 1.5,.5 1.5,.5 1.5,.5 1.5,.5 1.5,.6 1.5,.5 1.5,.5 1.5,.4 1.5,.5 1.5,.5 1.5,.5 1.5,.5 1.5,.4 1.5,.5 1.5,.5 1.5,.4 1.5,.5 1.5,.4 1.5,.4 1.5,.5 1.5,.4 1.5,.4 1.5,.4 1.5,.5 1.5,.4 1.5,.4 1.5,.4 1.5,.4 1.5,.4 1.5,.3 1.5,.4 1.5,.4 1.5,.4 1.5,.3 1.5,.4 1.5,.4 1.5,.3 1.5,.4 1.5,.3 1.5,.4 1.5,.3 1.5,.3 1.5,.4 1.5,.3 1.5,.3 1.5,.3 1.5,.3 1.5,.3 1.5,.4 1.5,.3 1.5,.2 1.5,.3 1.5,.3 1.5,.3 1.5,.3 1.5,.3 1.5,.2 1.5,.3 1.5,.3 1.5,.2 1.5,.3 1.5,.2 1.5,.3 1.5,.2 1.5,.3 1.5,.2 1.5,.3 1.5,.2 1.5,.2 1.5,.2 1.5,.3 1.5,.2 1.5,.2 1.5,.2 1.5,.2 1.5,.2 1.5,.2 1.5,.2 1.5,.2 1.5,.2 1.5,.2 1.5,.2 1.5,.1 1.5,.2 1.5,.2 1.5,.2 1.5,.1 1.5,.2 1.5,.2 1.5,.1 1.5,.2 1.5,.1 1.5,.2 1.5,.1 1.5,.2 1.5,.1 1.5,.2 1.5,.1 1.5,.2 1.5,.1 1.5,.1 1.5,.1 1.5,.2 1.5,.1 1.5,.1 1.5,.1 1.5,.2 1.5,.1 1.5,.1 1.5,.1 1.5,.1 1.5,.1" fill="none" stroke="#000" stroke-width="3.2" stroke-linejoin="round" stroke-linecap="round" />
<path d="M132,3339.9l1.5-.1 1.5-.1 1.5,0 1.5-.1 1.5-.1 1.5-.1 1.5-.1 1.5-.1 1.5-.1 1.5,0 1.5-.2 1.5-.1 1.5-.1 1.5-.1 1.5-.1 1.5-.1 1.5-.1 1.5-.2 1.5-.1 1.5-.2 1.5-.1 1.5-.2 1.5-.1 1.5-.2 1.5-.1 1.5-.2 1.5-.2 1.5-.2 1.5-.2 1.5-.2 1.5-.2 1.5-.2 1.5-.2 1.5-.3 1.5-.2 1.5-.3 1.5-.2 1.5-.3 1.5-.3 1.5-.2 1.5-.3 1.5-.3 1.5-.4 1.5-.3 1.5-.3 1.5-.4 1.5-.3 1.5-.4 1.5-.4 1.5-.3 1.5-.4 1.5-.4 1.5-.5 1.5-.4 1.5-.4 1.5-.5 1.5-.5 1.5-.5 1.5-.4 1.5-.6 1.5-.5 1.5-.5 1.5-.5 1.5-.6 1.5-.6 1.5-.6 1.5-.6 1.5-.6 1.5-.6 1.5-.6 1.5-.7 1.5-.6 1.5-.7 1.5-.7 1.5-.7 1.5-.7 1.5-.8 1.5-.7 1.5-.8 1.5-.7 1.5-.8 1.5-.8 1.5-.8 1.5-.8 1.5-.8 1.5-.9 1.5-.8 1.5-.9 1.5-.8 1.5-.9 1.5-.9 1.5-.9 1.5-.9 1.5-.9 1.5-.9 1.5-.9 1.5-1 1.5-.9 1.5-1 1.5-.9 1.5-1 1.5-.9 1.5-1 1.5-.9 1.5-1 1.5-1 1.5-.9 1.5-1 1.5-1 1.5-.9 1.5-1 1.5-.9 1.5-1 1.5-.9 1.5-1 1.5-.9 1.5-1 1.5-.9 1.5-.9 1.5-.9 1.5-.9 1.5-.9 1.5-.9 1.5-.8 1.5-.9 1.5-.8 1.5-.8 1.5-.8 1.5-.8 1.5-.8 1.5-.7 1.5-.7 1.5-.7 1.5-.7 1.5-.7 1.5-.7 1.5-.6 1.5-.6 1.5-.5 1.5-.6 1.5-.5 1.5-.5 1.5-.5 1.5-.4 1.5-.5 1.5-.3 1.5-.4 1.5-.3 1.5-.3 1.5-.3 1.5-.3 1.5-.2 1.5-.1 1.5-.2 1.5-.1 1.5-.1 1.5-.1 1.5,0 1.5,0 1.5,.1 1.5,0 1.5,.1 1.5,.2 1.5,.2 1.5,.2 1.5,.2 1.5,.2 1.5,.3 1.5,.4 1.5,.3 1.5,.4 1.5,.4 1.5,.4 1.5,.5 1.5,.5 1.5,.5 1.5,.6 1.5,.5 1.5,.6 1.5,.6 1.5,.7 1.5,.6 1.5,.7 1.5,.7 1.5,.7 1.5,.7 1.5,.8 1.5,.8 1.5,.7 1.5,.8 1.5,.9 1.5,.8 1.5,.8 1.5,.9 1.5,.8 1.5,.9 1.5,.9 1.5,.9 1.5,.9 1.5,.9 1.5,.9 1.5,.9 1.5,.9 1.5,.9 1.5,.9 1.5,.9 1.5,1 1.5,.9 1.5,.9 1.5,.9 1.5,1 1.5,.9 1.5,.9 1.5,.9 1.5,.9 1.5,.9 1.5,.9 1.5,.9 1.5,.9 1.5,.8 1.5,.9 1.5,.9 1.5,.8 1.5,.9 1.5,.8 1.5,.8 1.5,.8 1.5,.8 1.5,.8 1.5,.8 1.5,.8 1.5,.7 1.5,.8 1.5,.7 1.5,.7 1.5,.7 1.5,.7 1.5,.7 1.5,.7 1.5,.6 1.5,.7 1.5,.6 1.5,.6 1.5,.6 1.5,.6 1.5,.6 1.5,.6 1.5,.5 1.5,.6 1.5,.5 1.5,.5 1.5,.5 1.5,.5 1.5,.5 1.5,.4 1.5,.5 1.5,.4 1.5,.4 1.5,.5 1.5,.4 1.5,.3 1.5,.4 1.5,.4 1.5,.3 1.5,.4 1.5,.3 1.5,.3 1.5,.3 1.5,.3 1.5,.3 1.5,.3 1.5,.2 1.5,.3 1.5,.2 1.5,.3 1.5,.2 1.5,.2 1.5,.2 1.5,.2 1.5,.2 1.5,.2 1.5,.2 1.5,.2 1.5,.1 1.5,.2 1.5,.1 1.5,.2 1.5,.1 1.5,.1 1.5,.2 1.5,.1 1.5,.1 1.5,.1 1.5,.1 1.5,.1 1.5,.1 1.5,.1 1.5,.1 1.5,0 1.5,.1 1.5,.1 1.5,0 1.5,.1 1.5,0 1.5,.1 1.5,0 1.5,.1 1.5,0 1.5,.1 1.5,0 1.5,0 1.5,.1 1.5,0 1.5,0 1.5,0 1.5,0 1.5,.1 1.5,0 1.5,0 1.5,0 1.5,0 1.5,0 1.5,0 1.5,0 1.5,0 1.5,0 1.5,0 1.5,0 1.5,0 1.5,0 1.5,0 1.5,0 1.5,0 1.5,0 1.5,0 1.5,0 1.5-.1 1.5,0 1.5,0 1.5,0 1.5,0 1.5,0 1.5,0 1.5-.1 1.5,0 1.5,0 1.5,0 1.5,0 1.5-.1 1.5,0 1.5,0 1.5,0 1.5,0 1.5-.1 1.5,0 1.5,0 1.5,0 1.5-.1 1.5,0 1.5,0 1.5,0 1.5-.1 1.5,0 1.5,0 1.5,0 1.5-.1 1.5,0 1.5,0 1.5,0 1.5-.1 1.5,0 1.5,0 1.5-.1 1.5,0 1.5,0 1.5,0 1.5-.1 1.5,0 1.5,0 1.5,0 1.5-.1 1.5,0 1.5,0 1.5-.1 1.5,0 1.5,0 1.5,0 1.5-.1 1.5,0 1.5,0 1.5-.1 1.5,0 1.5,0 1.5-.1 1.5,0 1.5,0 1.5,0 1.5-.1 1.5,0 1.5,0 1.5-.1 1.5,0 1.5,0 1.5-.1 1.5,0 1.5,0 1.5,0 1.5-.1 1.5,0 1.5,0 1.5-.1 1.5,0 1.5,0 1.5-.1 1.5,0 1.5,0 1.5,0 1.5-.1 1.5,0 1.5,0 1.5-.1 1.5,0 1.5,0 1.5-.1 1.5,0 1.5,0 1.5,0 1.5-.1 1.5,0 1.5,0 1.5-.1 1.5,0 1.5,0 1.5-.1 1.5,0 1.5,0 1.5-.1 1.5,0 1.5,0 1.5,0 1.5-.1 1.5,0 1.5,0 1.5-.1 1.5,0 1.5,0 1.5-.1 1.5,0 1.5,0 1.5-.1 1.5,0 1.5,0 1.5,0 1.5-.1 1.5,0 1.5,0 1.5-.1 1.5,0 1.5,0 1.5-.1 1.5,0 1.5,0 1.5,0 1.5-.1 1.5,0 1.5,0 1.5-.1 1.5,0 1.5,0 1.5-.1 1.5,0 1.5,0 1.5,0 1.5-.1 1.5,0 1.5,0 1.5-.1 1.5,0 1.5,0 1.5-.1 1.5,0 1.5,0 1.5,0 1.5-.1 1.5,0 1.5,0 1.5-.1 1.5,0 1.5,0 1.5-.1 1.5,0 1.5,0 1.5,0 1.5-.1 1.5,0 1.5,0 1.5-.1 1.5,0 1.5,0 1.5-.1 1.5,0 1.5,0 1.5-.1 1.5,0 1.5,0 1.5,0 1.5-.1 1.5,0 1.5,0 1.5-.1 1.5,0 1.5,0 1.5-.1 1.5,0 1.5,0 1.5,0 1.5-.1 1.5,0 1.5,0 1.5-.1 1.5,0 1.5,0 1.5-.1 1.5,0 1.5,0 1.5,0 1.5-.1 1.5,0 1.5,0 1.5-.1 1.5,0 1.5,0 1.5-.1 1.5,0 1.5,0 1.5-.1 1.5,0 1.5,0 1.5,0 1.5-.1 1.5,0 1.5,0 1.5-.1 1.5,0 1.5,0 1.5-.1 1.5,0 1.5,0 1.5,0 1.5-.1 1.5,0 1.5,0 1.5-.1 1.5,0 1.5,0 1.5-.1 1.5,0 1.5,0 1.5-.1 1.5,0 1.5,0 1.5,0 1.5-.1 1.5,0 1.5,0 1.5-.1 1.5,0 1.5,0 1.5-.1 1.5,0 1.5,0 1.5-.1 1.5,0 1.5,0 1.5,0 1.5-.1 1.5,0 1.5,0 1.5-.1 1.5,0 1.5,0 1.5-.1 1.5,0 1.5,0 1.5-.1 1.5,0 1.5,0 1.5,0 1.5-.1 1.5,0 1.5,0 1.5-.1 1.5,0 1.5,0 1.5-.1 1.5,0 1.5,0 1.5-.1 1.5,0 1.5,0 1.5,0 1.5-.1 1.5,0 1.5,0 1.5-.1 1.5,0 1.5,0 1.5-.1 1.5,0 1.5,0 1.5-.1 1.5,0 1.5,0 1.5,0 1.5-.1 1.5,0 1.5,0 1.5-.1 1.5,0 1.5,0 1.5-.1 1.5,0 1.5,0 1.5-.1 1.5,0 1.5,0 1.5-.1 1.5,0 1.5,0 1.5,0 1.5-.1 1.5,0 1.5,0 1.5-.1 1.5,0 1.5,0 1.5-.1 1.5,0 1.5,0 1.5-.1 1.5,0 1.5,0 1.5-.1 1.5,0 1.5,0 1.5,0 1.5-.1 1.5,0 1.5,0 1.5-.1 1.5,0 1.5,0 1.5-.1 1.5,0 1.5,0 1.5-.1 1.5,0 1.5,0 1.5-.1 1.5,0 1.5,0 1.5-.1 1.5,0 1.5,0 1.5,0 1.5-.1 1.5,0 1.5,0 1.5-.1 1.5,0 1.5,0 1.5-.1 1.5,0 1.5,0 1.5-.1 1.5,0 1.5,0 1.5-.1 1.5,0 1.5,0 1.5-.1 1.5,0 1.5,0 1.5-.1 1.5,0 1.5,0 1.5-.1 1.5,0 1.5,0 1.5,0 1.5-.1 1.5,0 1.5,0 1.5-.1 1.5,0 1.5,0 1.5-.1 1.5,0 1.5,0 1.5-.1 1.5,0 1.5,0 1.5-.1 1.5,0 1.5,0 1.5-.1 1.5,0 1.5,0 1.5-.1 1.5,0 1.5,0 1.5-.1 1.5,0 1.5,0 1.5-.1 1.5,0 1.5,0 1.5-.1 1.5,0 1.5,0 1.5-.1 1.5,0 1.5,0 1.5-.1 1.5,0 1.5,0 1.5-.1 1.5,0 1.5,0 1.5,0 1.5-.1 1.5,0 1.5,0 1.5-.1 1.5,0 1.5,0 1.5-.1 1.5,0 1.5,0 1.5-.1 1.5,0 1.5,0 1.5-.1 1.5,0 1.5,0 1.5-.1 1.5,0 1.5,0 1.5-.1 1.5,0 1.5,0 1.5-.1 1.5,0 1.5,0 1.5-.1 1.5,0 1.5,0 1.5-.1 1.5,0 1.5,0 1.5-.1 1.5,0 1.5,0 1.5-.1 1.5,0 1.5,0 1.5-.1 1.5,0 1.5-.1 1.5,0 1.5,0 1.5-.1 1.5,0 1.5,0 1.5-.1 1.5,0 1.5,0 1.5-.1 1.5,0 1.5,0 1.5-.1 1.5,0 1.5,0 1.5-.1 1.5,0 1.5,0 1.5-.1 1.5,0 1.5,0 1.5-.1 1.5,0 1.5,0 1.5-.1 1.5,0 1.5,0 1.5-.1 1.5,0 1.5,0 1.5-.1 1.5,0 1.5,0 1.5-.1 1.5,0 1.5-.1 1.5,0 1.5,0 1.5-.1 1.5,0 1.5,0 1.5-.1 1.5,0 1.5,0 1.5-.1 1.5,0 1.5,0 1.5-.1 1.5,0 1.5,0 1.5-.1 1.5,0 1.5,0 1.5-.1 1.5,0 1.5-.1 1.5,0 1.5,0 1.5-.1 1.5,0 1.5,0 1.5-.1 1.5,0 1.5,0 1.5-.1 1.5,0 1.5,0 1.5-.1 1.5,0 1.5-.1 1.5,0 1.5,0 1.5-.1 1.5,0 1.5,0 1.5-.1 1.5,0 1.5,0 1.5-.1 1.5,0 1.5,0 1.5-.1 1.5,0 1.5-.1 1.5,0 1.5,0 1.5-.1 1.5,0 1.5,0 1.5-.1 1.5,0 1.5,0 1.5-.1 1.5,0 1.5-.1 1.5,0 1.5,0 1.5-.1 1.5,0 1.5,0 1.5-.1 1.5,0 1.5,0 1.5-.1 1.5,0 1.5,0 1.5-.1 1.5,0 1.5-.1 1.5,0 1.5,0 1.5-.1 1.5,0 1.5,0 1.5-.1 1.5,0 1.5-.1 1.5,0 1.5,0 1.5-.1 1.5,0 1.5,0 1.5-.1 1.5,0 1.5,0 1.5-.1 1.5,0 1.5-.1 1.5,0 1.5,0 1.5-.1 1.5,0 1.5,0 1.5-.1 1.5,0 1.5-.1 1.5,0 1.5,0 1.5-.1 1.5,0 1.5,0 1.5-.1 1.5,0 1.5,0 1.5-.1 1.5,0 1.5-.1 1.5,0 1.5,0 1.5-.1 1.5,0 1.5,0 1.5-.1 1.5,0 1.5-.1 1.5,0 1.5,0 1.5-.1 1.5,0 1.5,0 1.5-.1 1.5,0 1.5-.1 1.5,0 1.5,0 1.5-.1 1.5,0 1.5,0 1.5-.1 1.5,0 1.5-.1 1.5,0 1.5,0 1.5-.1 1.5,0 1.5,0 1.5-.1 1.5,0 1.5-.1 1.5,0 1.5,0 1.5-.1 1.5,0 1.5,0 1.5-.1 1.5,0 1.5-.1 1.5,0 1.5,0 1.5-.1 1.5,0 1.5,0" fill="none" stroke="#0000ff" stroke-width="3.2" stroke-linejoin="round" stroke-linecap="round" />
<path d="M132,3341.4l1.5,0 1.5-.1 1.5,0 1.5,0 1.5,0 1.5,0 1.5,0 1.5-.1 1.5,0 1.5,0 1.5,0 1.5,0 1.5,0 1.5-.1 1.5,0 1.5,0 1.5,0 1.5,0 1.5,0 1.5-.1 1.5,0 1.5,0 1.5,0 1.5,0 1.5-.1 1.5,0 1.5,0 1.5,0 1.5,0 1.5,0 1.5-.1 1.5,0 1.5,0 1.5,0 1.5,0 1.5-.1 1.5,0 1.5,0 1.5,0 1.5,0 1.5,0 1.5-.1 1.5,0 1.5,0 1.5,0 1.5,0 1.5-.1 1.5,0 1.5,0 1.5,0 1.5,0 1.5-.1 1.5,0 1.5,0 1.5,0 1.5,0 1.5-.1 1.5,0 1.5,0 1.5,0 1.5,0 1.5-.1 1.5,0 1.5,0 1.5,0 1.5,0 1.5-.1 1.5,0 1.5,0 1.5,0 1.5,0 1.5-.1 1.5,0 1.5,0 1.5,0 1.5,0 1.5-.1 1.5,0 1.5,0 1.5,0 1.5,0 1.5-.1 1.5,0 1.5,0 1.5,0 1.5,0 1.5-.1 1.5,0 1.5,0 1.5,0 1.5,0 1.5-.1 1.5,0 1.5,0 1.5,0 1.5,0 1.5-.1 1.5,0 1.5,0 1.5,0 1.5-.1 1.5,0 1.5,0 1.5,0 1.5,0 1.5-.1 1.5,0 1.5,0 1.5,0 1.5,0 1.5-.1 1.5,0 1.5,0 1.5,0 1.5-.1 1.5,0 1.5,0 1.5,0 1.5,0 1.5-.1 1.5,0 1.5,0 1.5,0 1.5-.1 1.5,0 1.5,0 1.5,0 1.5,0 1.5-.1 1.5,0 1.5,0 1.5,0 1.5-.1 1.5,0 1.5,0 1.5,0 1.5-.1 1.5,0 1.5,0 1.5,0 1.5,0 1.5-.1 1.5,0 1.5,0 1.5,0 1.5-.1 1.5,0 1.5,0 1.5,0 1.5-.1 1.5,0 1.5,0 1.5,0 1.5-.1 1.5,0 1.5,0 1.5,0 1.5,0 1.5-.1 1.5,0 1.5,0 1.5,0 1.5-.1 1.5,0 1.5,0 1.5,0 1.5-.1 1.5,0 1.5,0 1.5,0 1.5-.1 1.5,0 1.5,0 1.5-.1 1.5,0 1.5,0 1.5,0 1.5-.1 1.5,0 1.5,0 1.5,0 1.5-.1 1.5,0 1.5,0 1.5-.1 1.5,0 1.5,0 1.5,0 1.5-.1 1.5,0 1.5,0 1.5-.1 1.5,0 1.5,0 1.5,0 1.5-.1 1.5,0 1.5,0 1.5-.1 1.5,0 1.5,0 1.5-.1 1.5,0 1.5,0 1.5-.1 1.5,0 1.5-.1 1.5,0 1.5,0 1.5-.1 1.5,0 1.5,0 1.5-.1 1.5,0 1.5-.1 1.5,0 1.5-.1 1.5,0 1.5,0 1.5-.1 1.5,0 1.5-.1 1.5,0 1.5-.1 1.5,0 1.5-.1 1.5,0 1.5-.1 1.5,0 1.5-.1 1.5-.1 1.5,0 1.5-.1 1.5,0 1.5-.1 1.5-.1 1.5,0 1.5-.1 1.5-.1 1.5,0 1.5-.1 1.5-.1 1.5-.1 1.5,0 1.5-.1 1.5-.1 1.5-.1 1.5-.1 1.5-.1 1.5-.1 1.5-.1 1.5-.1 1.5-.1 1.5-.1 1.5-.1 1.5-.1 1.5-.1 1.5-.1 1.5-.1 1.5-.1 1.5-.2 1.5-.1 1.5-.1 1.5-.1 1.5-.2 1.5-.1 1.5-.2 1.5-.1 1.5-.2 1.5-.1 1.5-.2 1.5-.1 1.5-.2 1.5-.2 1.5-.2 1.5-.1 1.5-.2 1.5-.2 1.5-.2 1.5-.2 1.5-.2 1.5-.2 1.5-.2 1.5-.2 1.5-.3 1.5-.2 1.5-.2 1.5-.3 1.5-.2 1.5-.3 1.5-.2 1.5-.3 1.5-.2 1.5-.3 1.5-.3 1.5-.3 1.5-.3 1.5-.3 1.5-.3 1.5-.3 1.5-.3 1.5-.3 1.5-.3 1.5-.4 1.5-.3 1.5-.4 1.5-.3 1.5-.4 1.5-.3 1.5-.4 1.5-.4 1.5-.4 1.5-.4 1.5-.4 1.5-.4 1.5-.4 1.5-.4 1.5-.5 1.5-.4 1.5-.4 1.5-.5 1.5-.4 1.5-.5 1.5-.5 1.5-.4 1.5-.5 1.5-.5 1.5-.5 1.5-.5 1.5-.5 1.5-.5 1.5-.6 1.5-.5 1.5-.5 1.5-.6 1.5-.5 1.5-.6 1.5-.5 1.5-.6 1.5-.5 1.5-.6 1.5-.6 1.5-.6 1.5-.6 1.5-.6 1.5-.6 1.5-.6 1.5-.6 1.5-.6 1.5-.6 1.5-.6 1.5-.6 1.5-.7 1.5-.6 1.5-.6 1.5-.7 1.5-.6 1.5-.6 1.5-.7 1.5-.6 1.5-.7 1.5-.6 1.5-.7 1.5-.6 1.5-.7 1.5-.6 1.5-.7 1.5-.6 1.5-.7 1.5-.6 1.5-.7 1.5-.6 1.5-.7 1.5-.6 1.5-.7 1.5-.6 1.5-.6 1.5-.7 1.5-.6 1.5-.6 1.5-.6 1.5-.7 1.5-.6 1.5-.6 1.5-.6 1.5-.6 1.5-.6 1.5-.5 1.5-.6 1.5-.6 1.5-.6 1.5-.5 1.5-.6 1.5-.5 1.5-.5 1.5-.6 1.5-.5 1.5-.5 1.5-.5 1.5-.5 1.5-.4 1.5-.5 1.5-.4 1.5-.5 1.5-.4 1.5-.4 1.5-.5 1.5-.4 1.5-.3 1.5-.4 1.5-.4 1.5-.3 1.5-.4 1.5-.3 1.5-.3 1.5-.3 1.5-.3 1.5-.2 1.5-.3 1.5-.2 1.5-.2 1.5-.2 1.5-.2 1.5-.2 1.5-.2 1.5-.1 1.5-.2 1.5-.1 1.5-.1 1.5-.1 1.5-.1 1.5,0 1.5-.1 1.5,0 1.5,0 1.5,0 1.5,0 1.5,0 1.5,0 1.5,.1 1.5,0 1.5,.1 1.5,.1 1.5,.1 1.5,.1 1.5,.1 1.5,.1 1.5,.2 1.5,.1 1.5,.2 1.5,.2 1.5,.1 1.5,.2 1.5,.3 1.5,.2 1.5,.2 1.5,.3 1.5,.2 1.5,.3 1.5,.3 1.5,.2 1.5,.3 1.5,.3 1.5,.4 1.5,.3 1.5,.3 1.5,.4 1.5,.3 1.5,.4 1.5,.4 1.5,.3 1.5,.4 1.5,.4 1.5,.4 1.5,.4 1.5,.4 1.5,.5 1.5,.4 1.5,.4 1.5,.5 1.5,.4 1.5,.5 1.5,.4 1.5,.5 1.5,.5 1.5,.4 1.5,.5 1.5,.5 1.5,.5 1.5,.5 1.5,.5 1.5,.5 1.5,.5 1.5,.5 1.5,.5 1.5,.5 1.5,.5 1.5,.5 1.5,.6 1.5,.5 1.5,.5 1.5,.5 1.5,.5 1.5,.6 1.5,.5 1.5,.5 1.5,.5 1.5,.6 1.5,.5 1.5,.5 1.5,.5 1.5,.6 1.5,.5 1.5,.5 1.5,.5 1.5,.5 1.5,.5 1.5,.6 1.5,.5 1.5,.5 1.5,.5 1.5,.5 1.5,.5 1.5,.5 1.5,.5 1.5,.5 1.5,.5 1.5,.5 1.5,.4 1.5,.5 1.5,.5 1.5,.5 1.5,.4 1.5,.5 1.5,.5 1.5,.4 1.5,.5 1.5,.4 1.5,.5 1.5,.4 1.5,.4 1.5,.4 1.5,.5 1.5,.4 1.5,.4 1.5,.4 1.5,.4 1.5,.4 1.5,.4 1.5,.4 1.5,.4 1.5,.3 1.5,.4 1.5,.4 1.5,.3 1.5,.4 1.5,.4 1.5,.3 1.5,.3 1.5,.4 1.5,.3 1.5,.3 1.5,.3 1.5,.3 1.5,.3 1.5,.4 1.5,.2 1.5,.3 1.5,.3 1.5,.3 1.5,.3 1.5,.2 1.5,.3 1.5,.3 1.5,.2 1.5,.3 1.5,.2 1.5,.2 1.5,.3 1.5,.2 1.5,.2 1.5,.2 1.5,.2 1.5,.2 1.5,.2 1.5,.2 1.5,.2 1.5,.2 1.5,.2 1.5,.2 1.5,.2 1.5,.1 1.5,.2 1.5,.2 1.5,.1 1.5,.2 1.5,.1 1.5,.1 1.5,.2 1.5,.1 1.5,.2 1.5,.1 1.5,.1 1.5,.1 1.5,.1 1.5,.2 1.5,.1 1.5,.1 1.5,.1 1.5,.1 1.5,.1 1.5,0 1.5,.1 1.5,.1 1.5,.1 1.5,.1 1.5,.1 1.5,0 1.5,.1 1.5,.1 1.5,0 1.5,.1 1.5,.1 1.5,0 1.5,.1 1.5,0 1.5,.1 1.5,0 1.5,.1 1.5,0 1.5,0 1.5,.1 1.5,0 1.5,0 1.5,.1 1.5,0 1.5,0 1.5,.1 1.5,0 1.5,0 1.5,0 1.5,0 1.5,.1 1.5,0 1.5,0 1.5,0 1.5,0 1.5,0 1.5,0 1.5,0 1.5,.1 1.5,0 1.5,0 1.5,0 1.5,0 1.5,0 1.5,0 1.5,0 1.5,0 1.5,0 1.5-.1 1.5,0 1.5,0 1.5,0 1.5,0 1.5,0 1.5,0 1.5,0 1.5,0 1.5,0 1.5,0 1.5-.1 1.5,0 1.5,0 1.5,0 1.5,0 1.5,0 1.5-.1 1.5,0 1.5,0 1.5,0 1.5,0 1.5-.1 1.5,0 1.5,0 1.5,0 1.5,0 1.5-.1 1.5,0 1.5,0 1.5,0 1.5-.1 1.5,0 1.5,0 1.5,0 1.5-.1 1.5,0 1.5,0 1.5,0 1.5-.1 1.5,0 1.5,0 1.5,0 1.5-.1 1.5,0 1.5,0 1.5-.1 1.5,0 1.5,0 1.5,0 1.5-.1 1.5,0 1.5,0 1.5-.1 1.5,0 1.5,0 1.5,0 1.5-.1 1.5,0 1.5,0 1.5-.1 1.5,0 1.5,0 1.5-.1 1.5,0 1.5,0 1.5,0 1.5-.1 1.5,0 1.5,0 1.5-.1 1.5,0 1.5,0 1.5-.1 1.5,0 1.5,0 1.5-.1 1.5,0 1.5,0 1.5-.1 1.5,0 1.5,0 1.5,0 1.5-.1 1.5,0 1.5,0 1.5-.1 1.5,0 1.5,0 1.5-.1 1.5,0 1.5,0 1.5-.1 1.5,0 1.5,0 1.5-.1 1.5,0 1.5,0 1.5-.1 1.5,0 1.5,0 1.5-.1 1.5,0 1.5,0 1.5-.1 1.5,0 1.5,0 1.5-.1 1.5,0 1.5,0 1.5-.1 1.5,0 1.5,0 1.5-.1 1.5,0 1.5,0 1.5-.1 1.5,0 1.5,0 1.5-.1 1.5,0 1.5,0 1.5-.1 1.5,0 1.5,0 1.5-.1 1.5,0 1.5,0 1.5-.1 1.5,0 1.5,0 1.5-.1 1.5,0 1.5,0 1.5-.1 1.5,0 1.5,0 1.5-.1 1.5,0 1.5,0 1.5-.1 1.5,0 1.5-.1 1.5,0 1.5,0 1.5-.1 1.5,0 1.5,0 1.5-.1 1.5,0 1.5,0 1.5-.1 1.5,0 1.5,0 1.5-.1 1.5,0 1.5,0 1.5-.1 1.5,0 1.5,0 1.5-.1 1.5,0 1.5,0 1.5-.1 1.5,0 1.5-.1 1.5,0 1.5,0 1.5-.1 1.5,0 1.5,0 1.5-.1 1.5,0 1.5,0 1.5-.1 1.5,0 1.5,0 1.5-.1 1.5,0 1.5,0 1.5-.1 1.5,0 1.5-.1 1.5,0 1.5,0 1.5-.1 1.5,0 1.5,0 1.5-.1 1.5,0 1.5,0 1.5-.1 1.5,0 1.5,0 1.5-.1 1.5,0 1.5-.1 1.5,0 1.5,0 1.5-.1 1.5,0 1.5,0 1.5-.1 1.5,0 1.5,0 1.5-.1 1.5,0 1.5,0 1.5-.1 1.5,0 1.5-.1 1.5,0 1.5,0 1.5-.1 1.5,0 1.5,0 1.5-.1 1.5,0 1.5,0 1.5-.1 1.5,0 1.5-.1 1.5,0 1.5,0 1.5-.1 1.5,0 1.5,0 1.5-.1 1.5,0 1.5,0 1.5-.1 1.5,0 1.5-.1 1.5,0 1.5,0 1.5-.1 1.5,0 1.5,0 1.5-.1 1.5,0 1.5-.1 1.5,0 1.5,0 1.5-.1 1.5,0 1.5,0 1.5-.1 1.5,0 1.5,0 1.5-.1 1.5,0 1.5-.1 1.5,0 1.5,0 1.5-.1 1.5,0 1.5,0 1.5-.1 1.5,0 1.5-.1 1.5,0 1.5,0 1.5-.1 1.5,0 1.5,0 1.5-.1 1.5,0 1.5-.1 1.5,0 1.5,0 1.5-.1 1.5,0 1.5,0 1.5-.1 1.5,0 1.5-.1 1.5,0 1.5,0 1.5-.1 1.5,0 1.5,0 1.5-.1 1.5,0 1.5-.1 1.5,0 1.5,0 1.5-.1 1.5,0 1.5,0 1.5-.1 1.5,0 1.5-.1 1.5,0 1.5,0 1.5-.1 1.5,0 1.5,0 1.5-.1 1.5,0 1.5-.1" fill="none" stroke="#0000ff" stroke-width="3.2" stroke-linejoin="round" stroke-linecap="round" />
<path d="M124.7,3339.3a6.3,6.3 0 1,0 12.6,0a6.3,6.3 0 1,0 -12.6,0M143.9,3330.7a6.3,6.3 0 1,0 12.6,0a6.3,6.3 0 1,0 -12.6,0M160.5,3334.7a6.3,6.3 0 1,0 12.6,0a6.3,6.3 0 1,0 -12.6,0M168.5,3346.2a6.3,6.3 0 1,0 12.6,0a6.3,6.3 0 1,0 -12.6,0M190.2,3334.5a6.3,6.3 0 1,0 12.6,0a6.3,6.3 0 1,0 -12.6,0M201.1,3333.8a6.3,6.3 0 1,0 12.6,0a6.3,6.3 0 1,0 -12.6,0M220,3329.3a6.3,6.3 0 1,0 12.6,0a6.3,6.3 0 1,0 -12.6,0M230.8,3318.5a6.3,6.3 0 1,0 12.6,0a6.3,6.3 0 1,0 -12.6,0M243.2,3309.8a6.3,6.3 0 1,0 12.6,0a6.3,6.3 0 1,0 -12.6,0M262.8,3303.1a6.3,6.3 0 1,0 12.6,0a6.3,6.3 0 1,0 -12.6,0M278.8,3295.4a6.3,6.3 0 1,0 12.6,0a6.3,6.3 0 1,0 -12.6,0M296.4,3283.4a6.3,6.3 0 1,0 12.6,0a6.3,6.3 0 1,0 -12.6,0M310.6,3271a6.3,6.3 0 1,0 12.6,0a6.3,6.3 0 1,0 -12.6,0M323.3,3250.3a6.3,6.3 0 1,0 12.6,0a6.3,6.3 0 1,0 -12.6,0M336.2,3222.3a6.3,6.3 0 1,0 12.6,0a6.3,6.3 0 1,0 -12.6,0M350.5,3206.4a6.3,6.3 0 1,0 12.6,0a6.3,6.3 0 1,0 -12.6,0M366,3178a6.3,6.3 0 1,0 12.6,0a6.3,6.3 0 1,0 -12.6,0M379.8,3158.4a6.3,6.3 0 1,0 12.6,0a6.3,6.3 0 1,0 -12.6,0M396.1,3098a6.3,6.3 0 1,0 12.6,0a6.3,6.3 0 1,0 -12.6,0M406,3072.4a6.3,6.3 0 1,0 12.6,0a6.3,6.3 0 1,0 -12.6,0M427.1,3044.1a6.3,6.3 0 1,0 12.6,0a6.3,6.3 0 1,0 -12.6,0M441.6,2972.2a6.3,6.3 0 1,0 12.6,0a6.3,6.3 0 1,0 -12.6,0M462.5,2919.4a6.3,6.3 0 1,0 12.6,0a6.3,6.3 0 1,0 -12.6,0M473.4,2889.2a6.3,6.3 0 1,0 12.6,0a6.3,6.3 0 1,0 -12.6,0M485.6,2870.8a6.3,6.3 0 1,0 12.6,0a6.3,6.3 0 1,0 -12.6,0M503,2849.2a6.3,6.3 0 1,0 12.6,0a6.3,6.3 0 1,0 -12.6,0M513.9,2858.4a6.3,6.3 0 1,0 12.6,0a6.3,6.3 0 1,0 -12.6,0M530.3,2871.8a6.3,6.3 0 1,0 12.6,0a6.3,6.3 0 1,0 -12.6,0M542.5,2904.6a6.3,6.3 0 1,0 12.6,0a6.3,6.3 0 1,0 -12.6,0M564.9,2972.7a6.3,6.3 0 1,0 12.6,0a6.3,6.3 0 1,0 -12.6,0M578,2993.9a6.3,6.3 0 1,0 12.6,0a6.3,6.3 0 1,0 -12.6,0M589.1,3045.5a6.3,6.3 0 1,0 12.6,0a6.3,6.3 0 1,0 -12.6,0M606.6,3090.7a6.3,6.3 0 1,0 12.6,0a6.3,6.3 0 1,0 -12.6,0M623.8,3136.7a6.3,6.3 0 1,0 12.6,0a6.3,6.3 0 1,0 -12.6,0M637.8,3169.2a6.3,6.3 0 1,0 12.6,0a6.3,6.3 0 1,0 -12.6,0M652.6,3193.4a6.3,6.3 0 1,0 12.6,0a6.3,6.3 0 1,0 -12.6,0M664.8,3199.9a6.3,6.3 0 1,0 12.6,0a6.3,6.3 0 1,0 -12.6,0M680.3,3192.7a6.3,6.3 0 1,0 12.6,0a6.3,6.3 0 1,0 -12.6,0M696.9,3206.7a6.3,6.3 0 1,0 12.6,0a6.3,6.3 0 1,0 -12.6,0M713.8,3195a6.3,6.3 0 1,0 12.6,0a6.3,6.3 0 1,0 -12.6,0M724.8,3184.9a6.3,6.3 0 1,0 12.6,0a6.3,6.3 0 1,0 -12.6,0M739.2,3165.4a6.3,6.3 0 1,0 12.6,0a6.3,6.3 0 1,0 -12.6,0M759.3,3161.5a6.3,6.3 0 1,0 12.6,0a6.3,6.3 0 1,0 -12.6,0M769.6,3150.1a6.3,6.3 0 1,0 12.6,0a6.3,6.3 0 1,0 -12.6,0M789.1,3146.9a6.3,6.3 0 1,0 12.6,0a6.3,6.3 0 1,0 -12.6,0M802.2,3128.2a6.3,6.3 0 1,0 12.6,0a6.3,6.3 0 1,0 -12.6,0M818.7,3132.1a6.3,6.3 0 1,0 12.6,0a6.3,6.3 0 1,0 -12.6,0M835.6,3126.5a6.3,6.3 0 1,0 12.6,0a6.3,6.3 0 1,0 -12.6,0M848.2,3111.8a6.3,6.3 0 1,0 12.6,0a6.3,6.3 0 1,0 -12.6,0M863.4,3111a6.3,6.3 0 1,0 12.6,0a6.3,6.3 0 1,0 -12.6,0M874.6,3105.7a6.3,6.3 0 1,0 12.6,0a6.3,6.3 0 1,0 -12.6,0M890.1,3115.8a6.3,6.3 0 1,0 12.6,0a6.3,6.3 0 1,0 -12.6,0M908.1,3087.4a6.3,6.3 0 1,0 12.6,0a6.3,6.3 0 1,0 -12.6,0M925.2,3101.8a6.3,6.3 0 1,0 12.6,0a6.3,6.3 0 1,0 -12.6,0M939.8,3090.1a6.3,6.3 0 1,0 12.6,0a6.3,6.3 0 1,0 -12.6,0M956.9,3097.9a6.3,6.3 0 1,0 12.6,0a6.3,6.3 0 1,0 -12.6,0M967.4,3106.7a6.3,6.3 0 1,0 12.6,0a6.3,6.3 0 1,0 -12.6,0M982.2,3095.2a6.3,6.3 0 1,0 12.6,0a6.3,6.3 0 1,0 -12.6,0M999,3100.6a6.3,6.3 0 1,0 12.6,0a6.3,6.3 0 1,0 -12.6,0M1011.7,3093.1a6.3,6.3 0 1,0 12.6,0a6.3,6.3 0 1,0 -12.6,0M1026.6,3114.5a6.3,6.3 0 1,0 12.6,0a6.3,6.3 0 1,0 -12.6,0M1039.3,3108.3a6.3,6.3 0 1,0 12.6,0a6.3,6.3 0 1,0 -12.6,0M1058.9,3113.3a6.3,6.3 0 1,0 12.6,0a6.3,6.3 0 1,0 -12.6,0M1069.3,3098.8a6.3,6.3 0 1,0 12.6,0a6.3,6.3 0 1,0 -12.6,0M1087.9,3105.3a6.3,6.3 0 1,0 12.6,0a6.3,6.3 0 1,0 -12.6,0M1098.5,3127a6.3,6.3 0 1,0 12.6,0a6.3,6.3 0 1,0 -12.6,0M1119.2,3123.3a6.3,6.3 0 1,0 12.6,0a6.3,6.3 0 1,0 -12.6,0M1129.4,3129.4a6.3,6.3 0 1,0 12.6,0a6.3,6.3 0 1,0 -12.6,0M1148.6,3141.4a6.3,6.3 0 1,0 12.6,0a6.3,6.3 0 1,0 -12.6,0M1158.1,3138a6.3,6.3 0 1,0 12.6,0a6.3,6.3 0 1,0 -12.6,0M1175.7,3161.8a6.3,6.3 0 1,0 12.6,0a6.3,6.3 0 1,0 -12.6,0M1194.4,3164.2a6.3,6.3 0 1,0 12.6,0a6.3,6.3 0 1,0 -12.6,0M1204.9,3175.4a6.3,6.3 0 1,0 12.6,0a6.3,6.3 0 1,0 -12.6,0M1221.9,3174.6a6.3,6.3 0 1,0 12.6,0a6.3,6.3 0 1,0 -12.6,0M1235.6,3191.6a6.3,6.3 0 1,0 12.6,0a6.3,6.3 0 1,0 -12.6,0M1246.5,3190.9a6.3,6.3 0 1,0 12.6,0a6.3,6.3 0 1,0 -12.6,0M1267.4,3212.1a6.3,6.3 0 1,0 12.6,0a6.3,6.3 0 1,0 -12.6,0M1282.7,3222.2a6.3,6.3 0 1,0 12.6,0a6.3,6.3 0 1,0 -12.6,0M1294.2,3229.7a6.3,6.3 0 1,0 12.6,0a6.3,6.3 0 1,0 -12.6,0M1313,3235.9a6.3,6.3 0 1,0 12.6,0a6.3,6.3 0 1,0 -12.6,0M1324.9,3245.7a6.3,6.3 0 1,0 12.6,0a6.3,6.3 0 1,0 -12.6,0M1339.4,3228.8a6.3,6.3 0 1,0 12.6,0a6.3,6.3 0 1,0 -12.6,0M1356.7,3262.9a6.3,6.3 0 1,0 12.6,0a6.3,6.3 0 1,0 -12.6,0M1370.2,3261.3a6.3,6.3 0 1,0 12.6,0a6.3,6.3 0 1,0 -12.6,0M1391.9,3270.2a6.3,6.3 0 1,0 12.6,0a6.3,6.3 0 1,0 -12.6,0M1398.2,3272.7a6.3,6.3 0 1,0 12.6,0a6.3,6.3 0 1,0 -12.6,0M1418.4,3269.5a6.3,6.3 0 1,0 12.6,0a6.3,6.3 0 1,0 -12.6,0M1433.9,3280.5a6.3,6.3 0 1,0 12.6,0a6.3,6.3 0 1,0 -12.6,0M1442.2,3293.5a6.3,6.3 0 1,0 12.6,0a6.3,6.3 0 1,0 -12.6,0M1457.8,3302.5a6.3,6.3 0 1,0 12.6,0a6.3,6.3 0 1,0 -12.6,0M1478,3290.1a6.3,6.3 0 1,0 12.6,0a6.3,6.3 0 1,0 -12.6,0M1490.6,3290.5a6.3,6.3 0 1,0 12.6,0a6.3,6.3 0 1,0 -12.6,0M1507.6,3310.1a6.3,6.3 0 1,0 12.6,0a6.3,6.3 0 1,0 -12.6,0M1524.3,3294.3a6.3,6.3 0 1,0 12.6,0a6.3,6.3 0 1,0 -12.6,0M1535.9,3318a6.3,6.3 0 1,0 12.6,0a6.3,6.3 0 1,0 -12.6,0M1549.3,3304a6.3,6.3 0 1,0 12.6,0a6.3,6.3 0 1,0 -12.6,0" fill="#fff" stroke="#3a3a3a" stroke-width="1.7" opacity="1"/>
<line x1="127.1" y1="2366.9" x2="1576.8" y2="2366.9" stroke="#111" stroke-width="5.6" />
<line x1="129.9" y1="2364.1" x2="129.9" y2="3532.2" stroke="#111" stroke-width="5.6" />
<line x1="127.1" y1="3529.8" x2="1576.8" y2="3529.8" stroke="#111" stroke-width="4.8" />
<line x1="1574" y1="2369.7" x2="1574" y2="3527.4" stroke="#111" stroke-width="5.6" />
<line x1="1574.1" y1="3529.8" x2="1574.1" y2="3553" stroke="#111" stroke-width="3.8" />
<line x1="1413.6" y1="3529.8" x2="1413.6" y2="3539.7" stroke="#111" stroke-width="3.8" />
<line x1="1253.1" y1="3529.8" x2="1253.1" y2="3553" stroke="#111" stroke-width="3.8" />
<line x1="1092.6" y1="3529.8" x2="1092.6" y2="3539.7" stroke="#111" stroke-width="3.8" />
<line x1="932.1" y1="3529.8" x2="932.1" y2="3553" stroke="#111" stroke-width="3.8" />
<line x1="771.6" y1="3529.8" x2="771.6" y2="3539.7" stroke="#111" stroke-width="3.8" />
<line x1="611.1" y1="3529.8" x2="611.1" y2="3553" stroke="#111" stroke-width="3.8" />
<line x1="450.6" y1="3529.8" x2="450.6" y2="3539.7" stroke="#111" stroke-width="3.8" />
<line x1="290.1" y1="3529.8" x2="290.1" y2="3553" stroke="#111" stroke-width="3.8" />
<line x1="129.6" y1="3529.8" x2="129.6" y2="3539.7" stroke="#111" stroke-width="3.8" />
<line x1="514.8" y1="2754.5" x2="514.8" y2="2867.5" stroke="#000" stroke-width="4.5" stroke-dasharray="24.5,20"/>
<line x1="1038" y1="2746" x2="1038" y2="3087" stroke="#000" stroke-width="4.5" stroke-dasharray="24.5,20"/>
<line x1="345.4" y1="3041.5" x2="345.4" y2="3250" stroke="#000" stroke-width="4.5" stroke-dasharray="24,21"/>
<line x1="774.8" y1="3068" x2="774.8" y2="3257" stroke="#000" stroke-width="4.5" stroke-dasharray="24,20.5"/>
<line x1="519.5" y1="2773.2" x2="1027" y2="2773.2" stroke="#222" stroke-width="2.8" />
<path d="M528,2773.2 L558,2764.4 L558,2782 Z" fill="#000"/>
<path d="M1019,2773.2 L988,2764.4 L988,2782 Z" fill="#000"/>
<text transform="translate(140.95,83.21) scale(0.5109,0.5531)" x="0" y="0" font-family="Liberation Sans" font-size="100" font-weight="normal" fill="#000">Co 2p<tspan font-size="72" dy="27">3/2</tspan></text>
<text transform="translate(1462.85,132.78) scale(0.7385,0.8200)" x="0" y="0" font-family="Liberation Serif" font-size="100" font-weight="normal" fill="#000">(</text>
<text transform="translate(1488.11,132.65) scale(0.7956,0.8500)" x="0" y="0" font-family="Liberation Serif" font-size="100" font-weight="bold" fill="#000">a</text>
<text transform="translate(1529.92,132.78) scale(0.6923,0.8200)" x="0" y="0" font-family="Liberation Serif" font-size="100" font-weight="normal" fill="#000">)</text>
<text transform="translate(144.47,314.34) scale(0.5162,0.5594)" x="0" y="0" font-family="Liberation Sans" font-size="100" font-weight="normal" fill="#000">Pt/Co<tspan font-size="71" dy="27.5">3</tspan><tspan dy="-27.5">O</tspan><tspan font-size="71" dy="27.5">4</tspan><tspan dy="-27.5">-F</tspan></text>
<text transform="translate(147.62,842.39) scale(0.5165,0.5684)" x="0" y="0" font-family="Liberation Sans" font-size="100" font-weight="normal" fill="#000">Co<tspan font-size="71" dy="27.5">3</tspan><tspan dy="-27.5">O</tspan><tspan font-size="71" dy="27.5">4</tspan><tspan dy="-27.5">-F</tspan></text>
<text transform="translate(157.03,1261.78) scale(0.5143,0.5197)" x="0" y="0" font-family="Liberation Sans" font-size="100" font-weight="normal" fill="#000">O 1s</text>
<text transform="translate(1461.68,1316.41) scale(0.7038,0.8089)" x="0" y="0" font-family="Liberation Serif" font-size="100" font-weight="normal" fill="#000">(</text>
<text transform="translate(1487.04,1316.08) scale(0.8647,0.8200)" x="0" y="0" font-family="Liberation Serif" font-size="100" font-weight="bold" fill="#000">b</text>
<text transform="translate(1534.62,1316.41) scale(0.7615,0.8089)" x="0" y="0" font-family="Liberation Serif" font-size="100" font-weight="normal" fill="#000">)</text>
<text transform="translate(161.77,1556.97) scale(0.5162,0.5010)" x="0" y="0" font-family="Liberation Sans" font-size="100" font-weight="normal" fill="#000">Pt/Co<tspan font-size="71" dy="27.5">3</tspan><tspan dy="-27.5">O</tspan><tspan font-size="71" dy="27.5">4</tspan><tspan dy="-27.5">-F</tspan></text>
<text transform="translate(160.87,2061.36) scale(0.5059,0.5051)" x="0" y="0" font-family="Liberation Sans" font-size="100" font-weight="normal" fill="#000">Co<tspan font-size="71" dy="27.5">3</tspan><tspan dy="-27.5">O</tspan><tspan font-size="71" dy="27.5">4</tspan><tspan dy="-27.5">-F</tspan></text>
<text transform="translate(134.59,2425.38) scale(0.6263,0.6216)" x="0" y="0" font-family="Liberation Sans" font-size="100" font-weight="normal" fill="#000">Pt 4f</text>
<text transform="translate(1460.94,2483.07) scale(0.7154,0.8156)" x="0" y="0" font-family="Liberation Serif" font-size="100" font-weight="normal" fill="#000">(</text>
<text transform="translate(1487.89,2483.47) scale(0.8026,0.8271)" x="0" y="0" font-family="Liberation Serif" font-size="100" font-weight="bold" fill="#000">c</text>
<text transform="translate(1521.17,2483.07) scale(0.7423,0.8156)" x="0" y="0" font-family="Liberation Serif" font-size="100" font-weight="normal" fill="#000">)</text>
<text transform="translate(451.59,2653.43) scale(0.6056,0.5990)" x="0" y="0" font-family="Liberation Sans" font-size="100" font-weight="normal" fill="#000">4f<tspan font-size="72" dy="30">5/2</tspan></text>
<text transform="translate(455.91,2739.67) scale(0.6173,0.6268)" x="0" y="0" font-family="Liberation Sans" font-size="100" font-weight="normal" fill="#000">74.6</text>
<text transform="translate(636.77,2762.17) scale(0.6092,0.6324)" x="0" y="0" font-family="Liberation Sans" font-size="100" font-weight="normal" fill="#000">Δ=3.2 eV</text>
<text transform="translate(996.21,2651.38) scale(0.5972,0.5683)" x="0" y="0" font-family="Liberation Sans" font-size="100" font-weight="normal" fill="#000">4f<tspan font-size="72" dy="30">7/2</tspan></text>
<text transform="translate(990.11,2737.20) scale(0.6171,0.6116)" x="0" y="0" font-family="Liberation Sans" font-size="100" font-weight="normal" fill="#000">71.4</text>
<text transform="translate(270.76,3030.37) scale(0.6076,0.6286)" x="0" y="0" font-family="Liberation Sans" font-size="100" font-weight="normal" fill="#000">75.5</text>
<text transform="translate(718.79,3050.56) scale(0.6011,0.6437)" x="0" y="0" font-family="Liberation Sans" font-size="100" font-weight="normal" fill="#000">72.9</text>
<text transform="translate(79.83,1119.80) scale(0.6667,0.7000)" x="0" y="0" font-family="Liberation Sans" font-size="100" font-weight="bold" fill="#000">792</text>
<text transform="translate(250.19,1119.80) scale(0.6667,0.7000)" x="0" y="0" font-family="Liberation Sans" font-size="100" font-weight="bold" fill="#000">790</text>
<text transform="translate(420.57,1119.80) scale(0.6625,0.7000)" x="0" y="0" font-family="Liberation Sans" font-size="100" font-weight="bold" fill="#000">788</text>
<text transform="translate(590.91,1119.80) scale(0.6667,0.7000)" x="0" y="0" font-family="Liberation Sans" font-size="100" font-weight="bold" fill="#000">786</text>
<text transform="translate(761.32,1119.80) scale(0.6543,0.7000)" x="0" y="0" font-family="Liberation Sans" font-size="100" font-weight="bold" fill="#000">784</text>
<text transform="translate(931.63,1119.80) scale(0.6667,0.7000)" x="0" y="0" font-family="Liberation Sans" font-size="100" font-weight="bold" fill="#000">782</text>
<text transform="translate(1101.99,1119.80) scale(0.6667,0.7000)" x="0" y="0" font-family="Liberation Sans" font-size="100" font-weight="bold" fill="#000">780</text>
<text transform="translate(1272.37,1119.80) scale(0.6625,0.7000)" x="0" y="0" font-family="Liberation Sans" font-size="100" font-weight="bold" fill="#000">778</text>
<text transform="translate(1442.71,1119.80) scale(0.6667,0.7000)" x="0" y="0" font-family="Liberation Sans" font-size="100" font-weight="bold" fill="#000">776</text>
<text transform="translate(95.58,2238.73) scale(0.6398,0.6676)" x="0" y="0" font-family="Liberation Sans" font-size="100" font-weight="bold" fill="#000">538</text>
<text transform="translate(334.57,2238.73) scale(0.6438,0.6676)" x="0" y="0" font-family="Liberation Sans" font-size="100" font-weight="bold" fill="#000">536</text>
<text transform="translate(573.60,2238.73) scale(0.6319,0.6676)" x="0" y="0" font-family="Liberation Sans" font-size="100" font-weight="bold" fill="#000">534</text>
<text transform="translate(812.57,2238.73) scale(0.6438,0.6676)" x="0" y="0" font-family="Liberation Sans" font-size="100" font-weight="bold" fill="#000">532</text>
<text transform="translate(1051.57,2238.73) scale(0.6438,0.6676)" x="0" y="0" font-family="Liberation Sans" font-size="100" font-weight="bold" fill="#000">530</text>
<text transform="translate(1290.58,2238.73) scale(0.6398,0.6676)" x="0" y="0" font-family="Liberation Sans" font-size="100" font-weight="bold" fill="#000">528</text>
<text transform="translate(1529.57,2238.73) scale(0.6438,0.6676)" x="0" y="0" font-family="Liberation Sans" font-size="100" font-weight="bold" fill="#000">526</text>
<text transform="translate(246.45,3628.21) scale(0.7864,0.7944)" x="0" y="0" font-family="Liberation Sans" font-size="100" font-weight="bold" fill="#000">76</text>
<text transform="translate(567.57,3629.00) scale(0.7570,0.8174)" x="0" y="0" font-family="Liberation Sans" font-size="100" font-weight="bold" fill="#000">74</text>
<text transform="translate(888.45,3629.00) scale(0.7864,0.8057)" x="0" y="0" font-family="Liberation Sans" font-size="100" font-weight="bold" fill="#000">72</text>
<text transform="translate(1209.45,3628.21) scale(0.7864,0.7944)" x="0" y="0" font-family="Liberation Sans" font-size="100" font-weight="bold" fill="#000">70</text>
<text transform="translate(1530.48,3628.21) scale(0.7788,0.7944)" x="0" y="0" font-family="Liberation Sans" font-size="100" font-weight="bold" fill="#000">68</text>
<text transform="translate(566.69,1192.41) scale(0.6644,0.6660)" x="0" y="0" font-family="Liberation Sans" font-size="100" font-weight="normal" fill="#000">Binding energy (eV)</text>
<text transform="translate(572.74,2298.13) scale(0.6575,0.6319)" x="0" y="0" font-family="Liberation Sans" font-size="100" font-weight="normal" fill="#000">Binding energy (eV)</text>
<text transform="translate(508.47,3695.90) scale(0.7790,0.7191)" x="0" y="0" font-family="Liberation Sans" font-size="100" font-weight="normal" fill="#000">Binding energy (eV)</text>
<text transform="translate(112.04,769.31) rotate(-90) scale(0.7006,0.6553)" x="0" y="0" font-family="Liberation Sans" font-size="100" font-weight="normal" fill="#000">Intensity (a.u.)</text>
<text transform="translate(127.36,1911.93) rotate(-90) scale(0.6594,0.6351)" x="0" y="0" font-family="Liberation Sans" font-size="100" font-weight="normal" fill="#000">Intensity (a.u.)</text>
<text transform="translate(105.09,3188.95) rotate(-90) scale(0.7723,0.7766)" x="0" y="0" font-family="Liberation Sans" font-size="100" font-weight="normal" fill="#000">Intensity (a.u.)</text>
</svg></body></html>
